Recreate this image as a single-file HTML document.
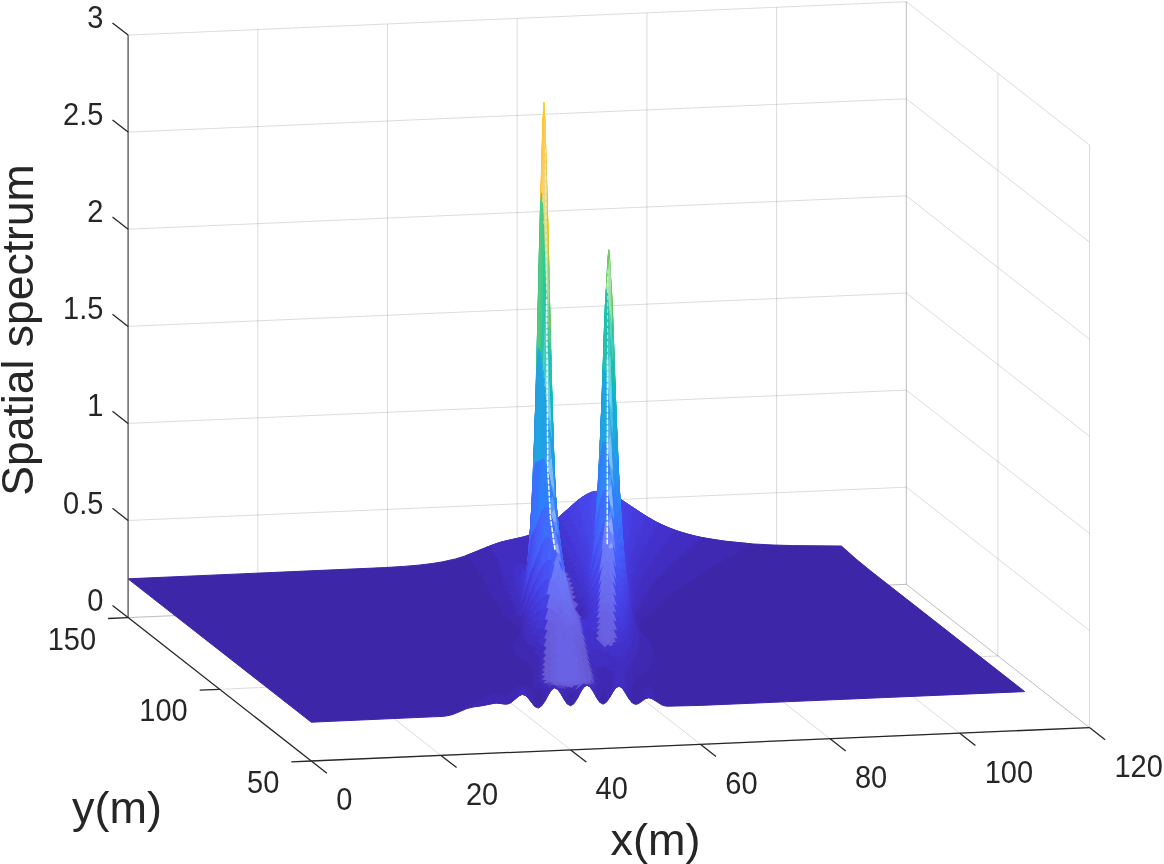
<!DOCTYPE html>
<html><head><meta charset="utf-8"><title>Spatial spectrum</title>
<style>html,body{margin:0;padding:0;background:#fff;overflow:hidden}svg{display:block}.s path{fill:currentColor;stroke:currentColor;stroke-width:1;stroke-linejoin:round}</style>
</head><body>
<svg width="1164" height="864" viewBox="0 0 1164 864">
<rect width="1164" height="864" fill="#fff"/>
<g stroke-opacity="0.16">
<line x1="128.1" y1="617.6" x2="128.1" y2="35.1" stroke="#262626" stroke-width="1"/>
<line x1="257.8" y1="612.1" x2="257.8" y2="29.5" stroke="#262626" stroke-width="1"/>
<line x1="387.5" y1="606.5" x2="387.5" y2="23.9" stroke="#262626" stroke-width="1"/>
<line x1="517.2" y1="601" x2="517.2" y2="18.4" stroke="#262626" stroke-width="1"/>
<line x1="646.9" y1="595.4" x2="646.9" y2="12.8" stroke="#262626" stroke-width="1"/>
<line x1="776.6" y1="589.9" x2="776.6" y2="7.3" stroke="#262626" stroke-width="1"/>
<line x1="906.3" y1="584.3" x2="906.3" y2="1.7" stroke="#262626" stroke-width="1"/>
<line x1="128.1" y1="617.6" x2="906.3" y2="584.3" stroke="#262626" stroke-width="1"/>
<line x1="128.1" y1="520.5" x2="906.3" y2="487.2" stroke="#262626" stroke-width="1"/>
<line x1="128.1" y1="423.4" x2="906.3" y2="390.1" stroke="#262626" stroke-width="1"/>
<line x1="128.1" y1="326.4" x2="906.3" y2="293" stroke="#262626" stroke-width="1"/>
<line x1="128.1" y1="229.2" x2="906.3" y2="195.9" stroke="#262626" stroke-width="1"/>
<line x1="128.1" y1="132.1" x2="906.3" y2="98.8" stroke="#262626" stroke-width="1"/>
<line x1="128.1" y1="35.1" x2="906.3" y2="1.7" stroke="#262626" stroke-width="1"/>
<line x1="1089.5" y1="727.6" x2="1089.5" y2="145" stroke="#262626" stroke-width="1"/>
<line x1="997.9" y1="656" x2="997.9" y2="73.4" stroke="#262626" stroke-width="1"/>
<line x1="906.3" y1="584.3" x2="906.3" y2="1.7" stroke="#262626" stroke-width="1"/>
<line x1="1089.5" y1="727.6" x2="906.3" y2="584.3" stroke="#262626" stroke-width="1"/>
<line x1="1089.5" y1="630.5" x2="906.3" y2="487.2" stroke="#262626" stroke-width="1"/>
<line x1="1089.5" y1="533.4" x2="906.3" y2="390.1" stroke="#262626" stroke-width="1"/>
<line x1="1089.5" y1="436.3" x2="906.3" y2="293" stroke="#262626" stroke-width="1"/>
<line x1="1089.5" y1="339.2" x2="906.3" y2="195.9" stroke="#262626" stroke-width="1"/>
<line x1="1089.5" y1="242.1" x2="906.3" y2="98.8" stroke="#262626" stroke-width="1"/>
<line x1="1089.5" y1="145" x2="906.3" y2="1.7" stroke="#262626" stroke-width="1"/>
<line x1="311.3" y1="761" x2="128.1" y2="617.6" stroke="#262626" stroke-width="1"/>
<line x1="441" y1="755.4" x2="257.8" y2="612.1" stroke="#262626" stroke-width="1"/>
<line x1="570.7" y1="749.9" x2="387.5" y2="606.5" stroke="#262626" stroke-width="1"/>
<line x1="700.4" y1="744.3" x2="517.2" y2="601" stroke="#262626" stroke-width="1"/>
<line x1="830.1" y1="738.8" x2="646.9" y2="595.4" stroke="#262626" stroke-width="1"/>
<line x1="959.8" y1="733.2" x2="776.6" y2="589.9" stroke="#262626" stroke-width="1"/>
<line x1="1089.5" y1="727.6" x2="906.3" y2="584.3" stroke="#262626" stroke-width="1"/>
<line x1="311.3" y1="761" x2="1089.5" y2="727.6" stroke="#262626" stroke-width="1"/>
<line x1="219.7" y1="689.3" x2="997.9" y2="656" stroke="#262626" stroke-width="1"/>
<line x1="128.1" y1="617.6" x2="906.3" y2="584.3" stroke="#262626" stroke-width="1"/>
</g>
<g class="s">
<path color="#3e26a8" d="M311.3 722.2l133 -5.9l6.4 -1.2l3.3 -1.1l12.9 -5.4l6.5 -1.6l9.8 -1.5l9.7 -2.2l3.2 -.3l9.8 1.1l3.2 -.6l3.2 -1.9l6.5 -5.7l3.3 -1.5l3.2 .9l3.3 3.2l6.4 8.2l3.3 1.4l3.2 -2l3.3 -4.8l3.2 -6.2l3.3 -5.1l3.2 -2.2l3.2 1.5l3.3 4.5l3.2 5.8l3.3 4.6l3.2 1.6l3.3 -2.1l3.2 -5.1l3.2 -6.3l3.3 -5.1l3.2 -2l3.3 1.7l3.2 4.8l3.3 5.9l3.2 4.8l3.2 1.8l3.3 -1.9l3.2 -4.8l3.3 -5.7l3.2 -4.4l3.3 -1.2l3.2 2.2l6.5 10.4l3.2 4.1l3.3 1.6l3.2 -1l6.5 -4.8l3.2 -1l3.3 .8l9.7 6.3l3.3 1.1l3.2 .3l32.4 -.8l324.3 -13.8l-153.9 -120.5l-14.7 -12l-14.7 -13.1l-48.6 -.4l-19.5 -.6l-19.4 -1l-16.2 -1.3l-16.2 -1.9l-13 -2l-13 -2.6l-16.2 -4.5l-9.7 -3.6l-6.5 -2.8l-6.5 -3.1l-9.7 -5.5l-26 -17.2l-6.4 -3.8l-6.5 -2.8l-3.3 -1l-6.5 -.7l-3.2 .2l-3.2 .8l-3.3 1.3l-6.5 3.8l-6.5 5l-16.2 14.5l-6.5 5.3l-9.7 6.7l-6.5 3.4l-6.5 2.7l-6.4 2l-16.3 3.6l-9.7 2.6l-6.5 2.3l-16.2 6.8l-9.7 3.7l-9.7 3l-13 2.9l-9.7 1.6l-13 1.6l-16.2 1.4l-19.5 1.2l-256.2 11.2l183.3 143.4z"/>
<path color="#402ab4" d="M702 537.6l22.7 3.6l25.9 2.5l1 1l-26 -2.4l-22.7 -3.5z"/>
<path color="#422ec0" d="M676.1 530.6l12.9 4l13 3l.9 1.2l-12.9 -3l-13 -3.9z"/>
<path color="#4332cb" d="M656.6 522.2l9.7 4.6l9.8 3.8l.9 1.3l-9.7 -3.7l-9.8 -4.6z"/>
<path color="#4537d5" d="M643.6 514.7l13 7.5l.9 1.4l-12.9 -7.4z"/>
<path color="#463cde" d="M633.9 508.2l9.7 6.5l1 1.5l-9.8 -6.5z"/>
<path color="#4741e5" d="M620.9 499.5l13 8.7l.9 1.5l-12.9 -8.9z"/>
<path color="#4747eb" d="M604.7 491.9l6.5 2.2l9.7 5.4l1 1.3l-9.8 -5.6l-6.5 -2.5z"/>
<path color="#484df0" d="M591.8 492.2l6.4 -1l6.5 .7l.9 .8l-6.4 -1l-6.5 .9z"/>
<path color="#4747eb" d="M578.8 499.7l6.5 -4.5l6.5 -3l.9 .4l-6.5 2.8l-6.5 4.4z"/>
<path color="#4741e5" d="M565.8 511l13 -11.3l.9 .1l-13 11.4z"/>
<path color="#463cde" d="M556.1 519.5l9.7 -8.5l.9 .2l-9.7 8.7z"/>
<path color="#4537d5" d="M546.4 526.7l9.7 -7.2l.9 .4l-9.7 7.4z"/>
<path color="#4332cb" d="M523.7 536.9l6.4 -2l6.5 -2.7l9.8 -5.5l.9 .6l-9.8 5.6l-6.4 2.7l-6.5 2.1z"/>
<path color="#422ec0" d="M488 546.7l13 -4.6l22.7 -5.2l.9 .8l-22.7 5l-13 4.6z"/>
<path color="#402ab4" d="M465.3 555.9l22.7 -9.2l.9 .6l-22.7 9.2zM699.7 538.1l22.7 3.8l25.9 2.6l.9 1l-25.9 -2.5l-22.7 -3.7z"/>
<path color="#422ec0" d="M673.7 530.7l13 4.2l13 3.2l.9 1.2l-13 -3.1l-12.9 -4.1z"/>
<path color="#4332cb" d="M657.5 523.6l16.2 7.1l1 1.4l-16.3 -7z"/>
<path color="#4537d5" d="M644.6 516.2l12.9 7.4l.9 1.5l-12.9 -7.4z"/>
<path color="#463cde" d="M631.6 507.5l13 8.7l.9 1.5l-13 -8.8z"/>
<path color="#4741e5" d="M621.9 500.8l9.7 6.7l.9 1.4l-9.7 -6.8z"/>
<path color="#4747eb" d="M605.6 492.7l6.5 2.5l9.8 5.6l.9 1.3l-9.8 -5.9l-6.4 -2.6z"/>
<path color="#484df0" d="M592.7 492.6l6.5 -.9l6.4 1l1 .9l-6.5 -1.2l-6.5 .6z"/>
<path color="#4747eb" d="M576.5 502.5l9.7 -7.1l6.5 -2.8l.9 .4l-6.5 2.6l-9.7 7z"/>
<path color="#4741e5" d="M566.7 511.2l9.8 -8.7l.9 .1l-9.8 8.8z"/>
<path color="#463cde" d="M557 519.9l9.7 -8.7l.9 .2l-9.7 8.9z"/>
<path color="#4537d5" d="M547.3 527.3l9.7 -7.4l.9 .4l-9.7 7.6z"/>
<path color="#4332cb" d="M524.6 537.7l6.5 -2.1l6.4 -2.7l9.8 -5.6l.9 .6l-9.7 5.7l-6.5 2.8l-6.5 2z"/>
<path color="#422ec0" d="M488.9 547.3l13 -4.6l22.7 -5l.9 .7l-22.7 5l-13 4.5z"/>
<path color="#402ab4" d="M466.2 556.5l22.7 -9.2l.9 .6l-22.7 9.3zM700.6 539.3l19.5 3.2l25.9 2.7l.9 1.1l-25.9 -2.7l-19.5 -3.2z"/>
<path color="#422ec0" d="M674.7 532.1l12.9 4.1l13 3.1l.9 1.1l-13 -3l-12.9 -4z"/>
<path color="#4332cb" d="M655.2 523.4l9.7 4.8l9.8 3.9l.9 1.3l-9.8 -3.8l-9.7 -4.7z"/>
<path color="#4537d5" d="M642.2 515.6l13 7.8l.9 1.5l-13 -7.8z"/>
<path color="#463cde" d="M632.5 508.9l9.7 6.7l.9 1.5l-9.7 -6.7z"/>
<path color="#4741e5" d="M619.5 500l13 8.9l.9 1.5l-13 -9.2z"/>
<path color="#4747eb" d="M606.6 493.6l6.4 2.6l6.5 3.8l.9 1.2l-6.4 -3.9l-6.5 -2.9z"/>
<path color="#484df0" d="M590.3 494l6.5 -1.6l3.3 0l6.5 1.2l.9 .8l-6.5 -1.4l-3.3 -.1l-6.4 1.4z"/>
<path color="#4747eb" d="M577.4 502.6l6.5 -5l6.4 -3.6l1 .3l-6.5 3.4l-6.5 5z"/>
<path color="#4741e5" d="M567.6 511.4l9.8 -8.8l.9 .1l-9.7 8.9z"/>
<path color="#463cde" d="M557.9 520.3l9.7 -8.9l1 .2l-9.8 9z"/>
<path color="#4537d5" d="M548.2 527.9l9.7 -7.6l.9 .3l-9.7 7.8z"/>
<path color="#4332cb" d="M528.7 537.5l9.8 -3.9l9.7 -5.7l.9 .5l-9.7 5.9l-9.7 4z"/>
<path color="#422ec0" d="M489.8 547.9l13 -4.5l25.9 -5.9l1 .8l-6.5 1.7l-19.5 4l-13 4.4z"/>
<path color="#402ab4" d="M467.1 557.2l22.7 -9.3l.9 .5l-22.7 9.5zM698.3 539.8l22.7 3.8l25.9 2.7l.9 .9l-25.9 -2.5l-22.7 -3.8z"/>
<path color="#422ec0" d="M672.3 532.2l13 4.3l13 3.3l.9 1.1l-13 -3.1l-13 -4.2z"/>
<path color="#4332cb" d="M656.1 524.9l16.2 7.3l.9 1.4l-16.2 -7.3z"/>
<path color="#4537d5" d="M643.1 517.1l13 7.8l.9 1.4l-12.9 -7.6z"/>
<path color="#463cde" d="M633.4 510.4l9.7 6.7l1 1.6l-9.8 -6.8z"/>
<path color="#4741e5" d="M620.4 501.2l13 9.2l.9 1.5l-12.9 -9.3z"/>
<path color="#4747eb" d="M607.5 494.4l6.5 2.9l6.4 3.9l1 1.4l-6.5 -4.1l-6.5 -3.2z"/>
<path color="#484df0" d="M591.3 494.3l6.4 -1.4l3.3 .1l6.5 1.4l.9 .9l-6.5 -1.7l-3.2 -.2l-6.5 1.2z"/>
<path color="#4747eb" d="M578.3 502.7l6.5 -5l6.5 -3.4l.9 .3l-6.5 3.3l-6.5 4.9z"/>
<path color="#4741e5" d="M568.6 511.6l9.7 -8.9l.9 .1l-9.7 9z"/>
<path color="#463cde" d="M558.8 520.6l9.8 -9l.9 .2l-9.7 9.2z"/>
<path color="#4537d5" d="M549.1 528.4l9.7 -7.8l1 .4l-9.8 7.9z"/>
<path color="#4332cb" d="M529.7 538.3l9.7 -4l9.7 -5.9l.9 .5l-9.7 6.1l-9.7 4z"/>
<path color="#422ec0" d="M490.7 548.4l13 -4.4l19.5 -4l6.5 -1.7l.9 .7l-6.5 1.8l-19.5 3.8l-12.9 4.4z"/>
<path color="#402ab4" d="M468 557.9l22.7 -9.5l1 .6l-22.7 9.5zM699.2 540.9l19.4 3.4l26 2.7l.9 1l-25.9 -2.6l-19.5 -3.3z"/>
<path color="#422ec0" d="M673.2 533.6l13 4.2l13 3.1l.9 1.2l-13 -3.1l-12.9 -4.1z"/>
<path color="#4332cb" d="M657 526.3l16.2 7.3l1 1.3l-16.3 -7.1z"/>
<path color="#4537d5" d="M644.1 518.7l12.9 7.6l.9 1.5l-12.9 -7.6z"/>
<path color="#463cde" d="M631.1 509.6l13 9.1l.9 1.5l-13 -9.1z"/>
<path color="#4741e5" d="M621.4 502.6l9.7 7l.9 1.5l-9.7 -7.2z"/>
<path color="#4747eb" d="M605.1 494.3l6.5 2.4l9.8 5.9l.9 1.3l-9.7 -6.1l-6.5 -2.7z"/>
<path color="#484df0" d="M592.2 494.6l6.5 -1.2l6.4 .9l1 .8l-6.5 -1.1l-6.5 .9z"/>
<path color="#4747eb" d="M579.2 502.8l6.5 -4.9l6.5 -3.3l.9 .3l-6.5 3.2l-6.5 4.8z"/>
<path color="#4741e5" d="M569.5 511.8l9.7 -9l.9 .1l-9.7 9.1z"/>
<path color="#463cde" d="M559.8 521l9.7 -9.2l.9 .2l-9.7 9.3z"/>
<path color="#4537d5" d="M550 528.9l9.8 -7.9l.9 .3l-9.8 8.2z"/>
<path color="#4332cb" d="M530.6 539l9.7 -4l9.7 -6.1l.9 .6l-9.7 6.1l-9.7 4.2z"/>
<path color="#422ec0" d="M491.7 549l12.9 -4.4l19.5 -3.8l6.5 -1.8l.9 .8l-6.5 1.8l-19.5 3.7l-12.9 4.3z"/>
<path color="#402ab4" d="M469 558.5l22.7 -9.5l.9 .6l-22.7 9.6zM696.9 541.4l19.4 3.5l26 2.9l.9 1l-26 -2.8l-19.4 -3.4z"/>
<path color="#422ec0" d="M670.9 533.7l13 4.4l13 3.3l.9 1.2l-13 -3.2l-13 -4.3z"/>
<path color="#4332cb" d="M654.7 526.1l16.2 7.6l.9 1.4l-16.2 -7.5z"/>
<path color="#4537d5" d="M641.7 518l13 8.1l.9 1.5l-12.9 -8z"/>
<path color="#463cde" d="M632 511.1l9.7 6.9l1 1.6l-9.8 -7z"/>
<path color="#4741e5" d="M622.3 503.9l9.7 7.2l.9 1.5l-9.7 -7.3z"/>
<path color="#4747eb" d="M606.1 495.1l6.5 2.7l9.7 6.1l.9 1.4l-9.7 -6.4l-6.5 -2.9z"/>
<path color="#484df0" d="M589.9 496.2l6.4 -2l3.3 -.2l6.5 1.1l.9 .9l-6.5 -1.4l-3.2 .1l-6.5 1.8z"/>
<path color="#4747eb" d="M576.9 505.8l6.5 -5.5l6.5 -4.1l.9 .3l-6.5 3.9l-6.5 5.5z"/>
<path color="#4741e5" d="M570.4 512l6.5 -6.2l.9 .1l-6.5 6.2z"/>
<path color="#463cde" d="M560.7 521.3l9.7 -9.3l.9 .1l-9.7 9.6z"/>
<path color="#4537d5" d="M547.7 531.8l6.5 -4.9l6.5 -5.6l.9 .4l-6.5 5.7l-6.5 4.9z"/>
<path color="#4332cb" d="M531.5 539.8l9.7 -4.2l6.5 -3.8l.9 .5l-6.5 4l-9.7 4.2z"/>
<path color="#422ec0" d="M492.6 549.6l12.9 -4.3l19.5 -3.7l6.5 -1.8l.9 .7l-6.5 1.8l-19.4 3.6l-13 4.2z"/>
<path color="#402ab4" d="M469.9 559.2l22.7 -9.6l.9 .5l-22.7 9.7zM694.5 541.9l19.5 3.6l25.9 3l.9 1l-25.9 -2.9l-19.4 -3.5z"/>
<path color="#422ec0" d="M671.8 535.1l9.8 3.3l12.9 3.5l1 1.2l-13 -3.4l-9.7 -3.3z"/>
<path color="#4332cb" d="M655.6 527.6l16.2 7.5l1 1.3l-16.3 -7.3z"/>
<path color="#4537d5" d="M642.7 519.6l12.9 8l.9 1.5l-12.9 -7.9z"/>
<path color="#463cde" d="M632.9 512.6l9.8 7l.9 1.6l-9.8 -7.1z"/>
<path color="#4741e5" d="M620 503l12.9 9.6l.9 1.5l-12.9 -9.8z"/>
<path color="#4747eb" d="M607 496l6.5 2.9l6.5 4.1l.9 1.3l-6.5 -4.2l-6.5 -3.2z"/>
<path color="#484df0" d="M590.8 496.5l6.5 -1.8l3.2 -.1l6.5 1.4l.9 .9l-6.5 -1.7l-3.2 0l-6.5 1.5z"/>
<path color="#4747eb" d="M577.8 505.9l6.5 -5.5l6.5 -3.9l.9 .2l-6.5 3.8l-6.5 5.4z"/>
<path color="#4741e5" d="M568.1 515.4l9.7 -9.5l.9 0l-9.7 9.6z"/>
<path color="#463cde" d="M561.6 521.7l6.5 -6.3l.9 .1l-6.5 6.5z"/>
<path color="#4537d5" d="M548.6 532.3l6.5 -4.9l6.5 -5.7l.9 .3l-6.5 5.8l-6.5 5.1z"/>
<path color="#4332cb" d="M532.4 540.5l9.7 -4.2l6.5 -4l.9 .6l-6.5 4.1l-9.7 4.3z"/>
<path color="#422ec0" d="M490.2 551.5l13 -4.8l22.7 -4.4l6.5 -1.8l.9 .8l-6.5 1.8l-22.7 4.2l-12.9 4.7z"/>
<path color="#402ab4" d="M470.8 559.8l19.4 -8.3l1 .5l-19.5 8.5zM695.5 543.1l19.4 3.5l25.9 2.9l1 1l-26 -2.8l-19.4 -3.4z"/>
<path color="#422ec0" d="M669.5 535.2l13 4.5l13 3.4l.9 1.2l-13 -3.3l-13 -4.5z"/>
<path color="#4332cb" d="M653.3 527.3l16.2 7.9l.9 1.3l-16.2 -7.7z"/>
<path color="#4537d5" d="M643.6 521.2l9.7 6.1l.9 1.5l-9.7 -6.1z"/>
<path color="#463cde" d="M630.6 511.7l13 9.5l.9 1.5l-13 -9.5z"/>
<path color="#4741e5" d="M620.9 504.3l9.7 7.4l.9 1.5l-9.7 -7.5z"/>
<path color="#4747eb" d="M607.9 496.9l6.5 3.2l6.5 4.2l.9 1.4l-6.5 -4.5l-6.5 -3.4z"/>
<path color="#484df0" d="M591.7 496.7l6.5 -1.5l3.2 0l6.5 1.7l.9 .9l-6.5 -1.9l-3.2 -.2l-3.3 .3l-3.2 1z"/>
<path color="#4747eb" d="M578.7 505.9l6.5 -5.4l6.5 -3.8l.9 .3l-6.5 3.6l-6.5 5.4z"/>
<path color="#4741e5" d="M569 515.5l9.7 -9.6l.9 .1l-9.7 9.7z"/>
<path color="#463cde" d="M562.5 522l6.5 -6.5l.9 .2l-6.5 6.5z"/>
<path color="#4537d5" d="M549.5 532.9l6.5 -5.1l6.5 -5.8l.9 .2l-6.5 6.1l-6.5 5.1z"/>
<path color="#4332cb" d="M533.3 541.3l9.7 -4.3l6.5 -4.1l.9 .5l-6.4 4.2l-9.8 4.5z"/>
<path color="#422ec0" d="M491.2 552l12.9 -4.7l22.7 -4.2l6.5 -1.8l.9 .8l-9.7 2.5l-19.5 3.3l-12.9 4.7z"/>
<path color="#402ab4" d="M471.7 560.5l19.5 -8.5l.9 .6l-19.5 8.5zM693.1 543.6l19.5 3.7l25.9 3l.9 1l-25.9 -2.9l-19.5 -3.6z"/>
<path color="#422ec0" d="M670.4 536.5l9.8 3.5l12.9 3.6l.9 1.2l-12.9 -3.5l-9.8 -3.4z"/>
<path color="#4332cb" d="M654.2 528.8l16.2 7.7l.9 1.4l-9.7 -4.2l-6.5 -3.4z"/>
<path color="#4537d5" d="M641.2 520.5l13 8.3l.9 1.5l-12.9 -8.2z"/>
<path color="#463cde" d="M631.5 513.2l9.7 7.3l1 1.6l-9.8 -7.3z"/>
<path color="#4741e5" d="M621.8 505.7l9.7 7.5l.9 1.6l-9.7 -7.7z"/>
<path color="#4747eb" d="M608.8 497.8l6.5 3.4l6.5 4.5l.9 1.4l-6.5 -4.6l-6.5 -3.7z"/>
<path color="#484df0" d="M589.4 498.6l6.4 -2.6l3.3 -.3l3.2 .2l6.5 1.9l.9 1l-6.5 -2.2l-3.2 -.3l-3.2 .2l-6.5 2.2z"/>
<path color="#4747eb" d="M579.6 506l6.5 -5.4l3.3 -2l.9 .1l-3.3 2l-6.5 5.4z"/>
<path color="#4741e5" d="M569.9 515.7l9.7 -9.7l.9 .1l-9.7 9.8z"/>
<path color="#463cde" d="M560.2 525.3l9.7 -9.6l.9 .2l-9.7 9.8z"/>
<path color="#4537d5" d="M550.4 533.4l9.8 -8.1l.9 .4l-9.7 8.3z"/>
<path color="#4332cb" d="M534.2 542.1l9.8 -4.5l6.4 -4.2l1 .6l-6.5 4.3l-9.8 4.5z"/>
<path color="#422ec0" d="M492.1 552.6l12.9 -4.7l19.5 -3.3l9.7 -2.5l.9 .7l-9.7 2.6l-19.4 3.2l-6.5 1.9l-6.5 2.6z"/>
<path color="#402ab4" d="M472.6 561.1l19.5 -8.5l.9 .5l-19.5 8.7zM694 544.8l19.5 3.6l22.7 2.6l.9 1l-22.7 -2.5l-19.4 -3.5z"/>
<path color="#422ec0" d="M668.1 536.6l13 4.7l12.9 3.5l1 1.2l-13 -3.4l-13 -4.6z"/>
<path color="#4332cb" d="M655.1 530.3l13 6.3l.9 1.4l-13 -6.2z"/>
<path color="#4537d5" d="M642.2 522.1l12.9 8.2l.9 1.5l-12.9 -8.1z"/>
<path color="#463cde" d="M632.4 514.8l9.8 7.3l.9 1.6l-9.8 -7.3z"/>
<path color="#4741e5" d="M622.7 507.1l9.7 7.7l.9 1.6l-9.7 -7.8z"/>
<path color="#4747eb" d="M609.7 498.8l6.5 3.7l6.5 4.6l.9 1.5l-6.5 -4.9l-6.5 -3.9z"/>
<path color="#484df0" d="M590.3 498.7l6.5 -2.2l3.2 -.2l3.2 .3l6.5 2.2l.9 1l-6.4 -2.4l-3.3 -.5l-3.2 0l-3.3 .7l-3.2 1.3z"/>
<path color="#4747eb" d="M577.3 509.2l6.5 -6l6.5 -4.5l.9 .2l-6.5 4.4l-6.5 5.9z"/>
<path color="#4741e5" d="M570.8 515.9l6.5 -6.7l.9 0l-6.5 6.8z"/>
<path color="#463cde" d="M561.1 525.7l9.7 -9.8l.9 .1l-9.7 10z"/>
<path color="#4537d5" d="M551.4 534l9.7 -8.3l.9 .3l-9.7 8.5z"/>
<path color="#4332cb" d="M535.1 542.8l9.8 -4.5l6.5 -4.3l.9 .5l-6.5 4.4l-9.7 4.7z"/>
<path color="#422ec0" d="M493 553.1l6.5 -2.6l6.5 -1.9l19.4 -3.2l9.7 -2.6l1 .8l-9.8 2.5l-19.4 3.1l-6.5 1.9l-6.5 2.5z"/>
<path color="#402ab4" d="M473.5 561.8l19.5 -8.7l.9 .5l-19.4 8.8zM691.7 545.2l19.5 3.8l22.7 2.7l.9 1.1l-22.7 -2.7l-19.5 -3.7z"/>
<path color="#422ec0" d="M669 538l9.7 3.6l13 3.6l.9 1.2l-12.9 -3.5l-9.8 -3.5z"/>
<path color="#4332cb" d="M652.8 530l6.5 3.5l9.7 4.5l.9 1.4l-9.7 -4.4l-6.5 -3.5z"/>
<path color="#4537d5" d="M643.1 523.7l9.7 6.3l.9 1.5l-9.7 -6.2z"/>
<path color="#463cde" d="M630.1 513.8l13 9.9l.9 1.6l-13 -9.9z"/>
<path color="#4741e5" d="M620.4 506.1l9.7 7.7l.9 1.6l-9.7 -7.9z"/>
<path color="#4747eb" d="M610.6 499.8l9.8 6.3l.9 1.4l-9.7 -6.6z"/>
<path color="#484df0" d="M591.2 498.9l3.2 -1.3l3.3 -.7l3.2 0l3.3 .5l6.4 2.4l1 1.1l-6.5 -2.8l-3.3 -.6l-3.2 -.1l-3.3 .5l-3.2 1.2z"/>
<path color="#4747eb" d="M578.2 509.2l6.5 -5.9l6.5 -4.4l.9 .2l-6.5 4.2l-6.5 6z"/>
<path color="#4741e5" d="M571.7 516l6.5 -6.8l.9 .1l-6.4 6.8z"/>
<path color="#463cde" d="M562 526l9.7 -10l1 .1l-9.8 10.2z"/>
<path color="#4537d5" d="M552.3 534.5l9.7 -8.5l.9 .3l-9.7 8.7z"/>
<path color="#4332cb" d="M536.1 543.6l9.7 -4.7l6.5 -4.4l.9 .5l-6.5 4.5l-9.7 4.8z"/>
<path color="#422ec0" d="M493.9 553.6l6.5 -2.5l6.5 -1.9l19.4 -3.1l9.8 -2.5l.9 .7l-9.7 2.6l-19.5 2.9l-6.5 1.8l-6.5 2.6z"/>
<path color="#402ab4" d="M471.2 563.6l22.7 -10l.9 .6l-22.7 10.1zM692.6 546.4l19.5 3.7l22.7 2.7l.9 1l-22.7 -2.6l-19.5 -3.5z"/>
<path color="#422ec0" d="M669.9 539.4l9.8 3.5l12.9 3.5l.9 1.3l-12.9 -3.5l-9.8 -3.4z"/>
<path color="#4332cb" d="M653.7 531.5l6.5 3.5l9.7 4.4l.9 1.4l-9.7 -4.3l-6.5 -3.4z"/>
<path color="#4537d5" d="M640.7 523l13 8.5l.9 1.6l-12.9 -8.5z"/>
<path color="#463cde" d="M631 515.4l9.7 7.6l1 1.6l-9.8 -7.6z"/>
<path color="#4741e5" d="M621.3 507.5l9.7 7.9l.9 1.6l-9.7 -8z"/>
<path color="#4747eb" d="M608.3 499.3l6.5 3.5l6.5 4.7l.9 1.5l-6.5 -4.9l-6.5 -3.8z"/>
<path color="#484df0" d="M588.9 501l6.4 -3.1l3.3 -.5l3.2 .1l6.5 1.8l.9 1l-6.4 -2.1l-3.3 -.3l-3.2 .4l-6.5 2.8z"/>
<path color="#4747eb" d="M579.1 509.3l6.5 -6l3.3 -2.3l.9 .1l-3.3 2.3l-6.4 5.9z"/>
<path color="#4741e5" d="M572.7 516.1l6.4 -6.8l1 0l-6.5 6.9z"/>
<path color="#463cde" d="M562.9 526.3l9.8 -10.2l.9 .1l-9.8 10.4z"/>
<path color="#4537d5" d="M553.2 535l9.7 -8.7l.9 .3l-9.7 8.9z"/>
<path color="#4332cb" d="M537 544.3l9.7 -4.8l6.5 -4.5l.9 .5l-6.5 4.7l-9.7 4.9z"/>
<path color="#422ec0" d="M494.8 554.2l6.5 -2.6l6.5 -1.8l19.5 -2.9l9.7 -2.6l.9 .8l-9.7 2.6l-19.5 2.7l-6.5 1.7l-6.5 2.6z"/>
<path color="#402ab4" d="M472.1 564.3l22.7 -10.1l.9 .5l-22.7 10.2zM690.3 546.9l19.5 3.8l22.7 2.8l.9 1l-22.7 -2.6l-19.5 -3.8z"/>
<path color="#422ec0" d="M667.6 539.5l9.7 3.7l13 3.7l.9 1.2l-13 -3.6l-9.7 -3.6z"/>
<path color="#4332cb" d="M651.4 531.1l6.5 3.8l9.7 4.6l.9 1.4l-9.7 -4.5l-6.5 -3.7z"/>
<path color="#4537d5" d="M641.7 524.6l9.7 6.5l.9 1.6l-9.7 -6.5z"/>
<path color="#463cde" d="M631.9 517l9.8 7.6l.9 1.6l-9.7 -7.6z"/>
<path color="#4741e5" d="M622.2 509l9.7 8l1 1.6l-9.8 -8.2z"/>
<path color="#4747eb" d="M609.2 500.3l6.5 3.8l6.5 4.9l.9 1.4l-6.5 -5l-6.4 -4.1z"/>
<path color="#484df0" d="M589.8 501.1l6.5 -2.8l3.2 -.4l3.3 .3l6.4 2.1l1 1l-6.5 -2.4l-3.3 -.4l-3.2 .2l-3.3 .9l-3.2 1.6z"/>
<path color="#4747eb" d="M580.1 509.3l6.4 -5.9l3.3 -2.3l.9 .1l-3.2 2.3l-6.5 5.8z"/>
<path color="#4741e5" d="M570.3 519.7l9.8 -10.4l.9 0l-9.8 10.5z"/>
<path color="#463cde" d="M563.8 526.6l6.5 -6.9l.9 .1l-6.4 7z"/>
<path color="#4537d5" d="M554.1 535.5l9.7 -8.9l1 .2l-9.8 9.2z"/>
<path color="#4332cb" d="M537.9 545.1l9.7 -4.9l6.5 -4.7l.9 .5l-6.5 4.8l-9.7 5z"/>
<path color="#422ec0" d="M495.7 554.7l6.5 -2.6l6.5 -1.7l19.5 -2.7l9.7 -2.6l.9 .7l-9.7 2.7l-19.5 2.5l-6.5 1.7l-6.4 2.5z"/>
<path color="#402ab4" d="M473 564.9l22.7 -10.2l1 .5l-22.7 10.4zM691.2 548.1l19.5 3.8l19.4 2.3l.9 1.1l-19.4 -2.3l-19.5 -3.7z"/>
<path color="#422ec0" d="M668.5 540.9l9.7 3.6l13 3.6l.9 1.2l-12.9 -3.5l-9.8 -3.5z"/>
<path color="#4332cb" d="M652.3 532.7l6.5 3.7l9.7 4.5l.9 1.4l-9.7 -4.4l-6.5 -3.6z"/>
<path color="#4537d5" d="M639.3 523.8l13 8.9l.9 1.6l-12.9 -8.8z"/>
<path color="#463cde" d="M629.6 515.9l9.7 7.9l1 1.7l-9.8 -8z"/>
<path color="#4741e5" d="M623.1 510.4l6.5 5.5l.9 1.6l-6.5 -5.5z"/>
<path color="#4747eb" d="M610.2 501.3l6.4 4.1l6.5 5l.9 1.6l-6.4 -5.3l-6.5 -4.3z"/>
<path color="#484df0" d="M590.7 501.2l3.2 -1.6l3.3 -.9l3.2 -.2l3.3 .4l6.5 2.4l.9 1.1l-6.5 -2.8l-3.3 -.5l-3.2 0l-3.2 .8l-3.3 1.5z"/>
<path color="#4747eb" d="M581 509.3l6.5 -5.8l3.2 -2.3l.9 .2l-3.2 2.1l-6.5 5.8z"/>
<path color="#4741e5" d="M571.2 519.8l9.8 -10.5l.9 0l-9.7 10.6z"/>
<path color="#463cde" d="M564.8 526.8l6.4 -7l1 .1l-6.5 7.2z"/>
<path color="#4537d5" d="M555 536l9.8 -9.2l.9 .3l-9.8 9.3z"/>
<path color="#4332cb" d="M538.8 545.8l9.7 -5l6.5 -4.8l.9 .4l-6.4 5l-9.8 5.2z"/>
<path color="#422ec0" d="M493.4 556.7l6.5 -2.9l6.5 -2.1l6.5 -1.3l16.2 -1.9l9.7 -2.7l.9 .8l-9.7 2.7l-16.2 1.8l-6.5 1.2l-6.5 2l-6.5 2.8z"/>
<path color="#402ab4" d="M474 565.6l19.4 -8.9l.9 .4l-19.4 9.1zM688.9 548.6l19.5 3.9l22.6 2.8l1 1l-22.7 -2.7l-19.5 -3.8z"/>
<path color="#422ec0" d="M666.2 540.9l9.7 3.8l13 3.9l.9 1.2l-13 -3.7l-9.7 -3.7z"/>
<path color="#4332cb" d="M653.2 534.3l13 6.6l.9 1.5l-13 -6.5z"/>
<path color="#4537d5" d="M640.3 525.5l12.9 8.8l.9 1.6l-12.9 -8.8z"/>
<path color="#463cde" d="M630.5 517.5l9.8 8l.9 1.6l-9.8 -7.9z"/>
<path color="#4741e5" d="M620.8 509.3l9.7 8.2l.9 1.7l-9.7 -8.4z"/>
<path color="#4747eb" d="M611.1 502.4l9.7 6.9l.9 1.5l-9.7 -7.3z"/>
<path color="#484df0" d="M588.4 503.5l6.5 -3.6l3.2 -.8l3.2 0l3.3 .5l6.5 2.8l.9 1.1l-6.5 -3l-3.2 -.8l-3.3 -.1l-3.2 .6l-3.3 1.4l-3.2 2z"/>
<path color="#4747eb" d="M578.6 512.7l9.8 -9.2l.9 .1l-3.3 2.6l-6.4 6.5z"/>
<path color="#4741e5" d="M572.2 519.9l6.4 -7.2l1 0l-6.5 7.3z"/>
<path color="#463cde" d="M565.7 527.1l6.5 -7.2l.9 .1l-6.5 7.3z"/>
<path color="#4537d5" d="M555.9 536.4l9.8 -9.3l.9 .2l-9.7 9.6z"/>
<path color="#4332cb" d="M539.7 546.6l9.8 -5.2l6.4 -5l1 .5l-9.8 7.1l-6.5 3.3z"/>
<path color="#422ec0" d="M494.3 557.1l6.5 -2.8l6.5 -2l6.5 -1.2l16.2 -1.8l9.7 -2.7l.9 .7l-9.7 2.8l-22.7 2.8l-6.5 1.9l-6.5 2.8z"/>
<path color="#402ab4" d="M474.9 566.2l19.4 -9.1l.9 .5l-19.4 9.2zM686.6 549l19.4 4.1l22.7 2.9l.9 1l-22.7 -2.8l-19.4 -4z"/>
<path color="#422ec0" d="M667.1 542.4l9.7 3.7l9.8 2.9l.9 1.2l-9.7 -2.8l-9.8 -3.6z"/>
<path color="#4332cb" d="M650.9 533.9l6.5 3.8l9.7 4.7l.9 1.4l-9.7 -4.6l-6.5 -3.7z"/>
<path color="#4537d5" d="M641.2 527.1l9.7 6.8l.9 1.6l-9.7 -6.7z"/>
<path color="#463cde" d="M631.4 519.2l9.8 7.9l.9 1.7l-9.7 -7.9z"/>
<path color="#4741e5" d="M621.7 510.8l9.7 8.4l1 1.7l-9.8 -8.6z"/>
<path color="#4747eb" d="M612 503.5l9.7 7.3l.9 1.5l-9.7 -7.6z"/>
<path color="#484df0" d="M589.3 503.6l3.2 -2l3.3 -1.4l3.2 -.6l3.3 .1l3.2 .8l6.5 3l.9 1.2l-6.5 -3.4l-6.5 -1.2l-3.2 .5l-3.3 1.2l-3.2 1.9z"/>
<path color="#4747eb" d="M579.6 512.7l6.4 -6.5l3.3 -2.6l.9 .1l-3.2 2.5l-6.5 6.5z"/>
<path color="#4741e5" d="M573.1 520l6.5 -7.3l.9 0l-6.5 7.4z"/>
<path color="#463cde" d="M563.3 530.7l9.8 -10.7l.9 .1l-9.7 10.9z"/>
<path color="#4537d5" d="M556.9 536.9l6.4 -6.2l1 .3l-6.5 6.3z"/>
<path color="#4332cb" d="M540.6 547.3l6.5 -3.3l9.8 -7.1l.9 .4l-9.8 7.3l-6.4 3.4z"/>
<path color="#422ec0" d="M495.2 557.6l6.5 -2.8l6.5 -1.9l22.7 -2.8l9.7 -2.8l1 .7l-9.8 2.9l-22.7 2.5l-6.5 1.9l-6.4 2.8z"/>
<path color="#402ab4" d="M475.8 566.8l19.4 -9.2l1 .5l-19.5 9.3zM687.5 550.2l19.4 4l19.5 2.5l.9 1.1l-19.4 -2.5l-19.5 -3.8z"/>
<path color="#422ec0" d="M664.8 542.4l9.7 3.9l13 3.9l.9 1.3l-13 -3.8l-9.7 -3.9z"/>
<path color="#4332cb" d="M651.8 535.5l13 6.9l.9 1.4l-13 -6.7z"/>
<path color="#4537d5" d="M638.8 526.3l13 9.2l.9 1.6l-12.9 -9.1z"/>
<path color="#463cde" d="M629.1 518l9.7 8.3l1 1.7l-9.8 -8.3z"/>
<path color="#4741e5" d="M622.6 512.3l6.5 5.7l.9 1.7l-6.5 -5.8z"/>
<path color="#4747eb" d="M609.7 502.8l6.4 4.2l6.5 5.3l.9 1.6l-6.4 -5.6l-6.5 -4.5z"/>
<path color="#484df0" d="M590.2 503.7l3.2 -1.9l3.3 -1.2l3.2 -.5l3.3 .3l6.5 2.4l.9 1l-6.5 -2.6l-3.3 -.5l-3.2 .2l-3.2 1.1l-3.3 1.8z"/>
<path color="#4747eb" d="M580.5 512.7l6.5 -6.5l3.2 -2.5l.9 .1l-3.2 2.4l-6.5 6.4z"/>
<path color="#4741e5" d="M574 520.1l6.5 -7.4l.9 -.1l-6.5 7.5z"/>
<path color="#463cde" d="M564.3 531l9.7 -10.9l.9 0l-9.7 11.1z"/>
<path color="#4537d5" d="M554.5 540.1l9.8 -9.1l.9 .2l-9.8 9.3z"/>
<path color="#4332cb" d="M541.6 548l6.4 -3.4l6.5 -4.5l.9 .4l-6.4 4.8l-6.5 3.4z"/>
<path color="#422ec0" d="M496.2 558.1l6.4 -2.8l6.5 -1.9l22.7 -2.5l9.8 -2.9l.9 .7l-9.7 3l-22.7 2.3l-6.5 1.8l-6.5 2.8z"/>
<path color="#402ab4" d="M476.7 567.4l19.5 -9.3l.9 .5l-19.5 9.4zM685.2 550.6l19.4 4.2l19.5 2.6l.9 1.1l-19.5 -2.5l-19.4 -4.1z"/>
<path color="#422ec0" d="M665.7 543.8l9.7 3.9l9.8 2.9l.9 1.3l-9.8 -2.9l-9.7 -3.7z"/>
<path color="#4332cb" d="M649.5 535l6.5 4l9.7 4.8l.9 1.5l-9.7 -4.8l-6.5 -3.8z"/>
<path color="#4537d5" d="M639.8 528l9.7 7l.9 1.7l-9.7 -7z"/>
<path color="#463cde" d="M630 519.7l9.8 8.3l.9 1.7l-9.8 -8.3z"/>
<path color="#4741e5" d="M620.3 511l9.7 8.7l.9 1.7l-9.7 -8.9z"/>
<path color="#4747eb" d="M610.6 503.8l9.7 7.2l.9 1.5l-9.7 -7.5z"/>
<path color="#484df0" d="M587.9 506.2l6.5 -4.2l3.2 -1.1l3.2 -.2l3.3 .5l6.5 2.6l.9 1.2l-6.5 -3.1l-3.2 -.6l-3.3 .1l-3.2 .8l-6.5 4z"/>
<path color="#4747eb" d="M581.4 512.6l6.5 -6.4l.9 0l-6.5 6.4z"/>
<path color="#4741e5" d="M571.7 523.9l9.7 -11.3l.9 0l-9.7 11.4z"/>
<path color="#463cde" d="M565.2 531.2l6.5 -7.3l.9 .1l-6.5 7.5z"/>
<path color="#4537d5" d="M555.4 540.5l9.8 -9.3l.9 .3l-9.7 9.5z"/>
<path color="#4332cb" d="M542.5 548.7l6.5 -3.4l6.4 -4.8l1 .5l-6.5 4.9l-6.5 3.5z"/>
<path color="#422ec0" d="M497.1 558.6l6.5 -2.8l6.5 -1.8l22.7 -2.3l9.7 -3l.9 .7l-9.7 3.1l-22.7 2.1l-6.5 1.7l-6.5 2.7z"/>
<path color="#402ab4" d="M477.6 568l19.5 -9.4l.9 .4l-19.5 9.6zM686.1 551.9l19.4 4.1l19.5 2.5l.9 1.1l-19.5 -2.5l-19.4 -3.9z"/>
<path color="#422ec0" d="M663.4 543.8l9.7 4.1l13 4l.9 1.3l-13 -4l-9.7 -3.9z"/>
<path color="#4332cb" d="M650.4 536.7l13 7.1l.9 1.5l-13 -7z"/>
<path color="#4537d5" d="M640.7 529.7l9.7 7l.9 1.6l-9.7 -6.9z"/>
<path color="#463cde" d="M630.9 521.4l9.8 8.3l.9 1.7l-9.7 -8.3z"/>
<path color="#4741e5" d="M621.2 512.5l9.7 8.9l1 1.7l-9.8 -9z"/>
<path color="#4747eb" d="M611.5 505l9.7 7.5l.9 1.6l-9.7 -7.9z"/>
<path color="#484df0" d="M588.8 506.2l6.5 -4l3.2 -.8l3.3 -.1l3.2 .6l6.5 3.1l.9 1.2l-6.5 -3.4l-3.2 -.8l-3.3 -.2l-3.2 .7l-3.2 1.5l-3.3 2.3z"/>
<path color="#4747eb" d="M582.3 512.6l6.5 -6.4l.9 .1l-6.5 6.2z"/>
<path color="#4741e5" d="M572.6 524l9.7 -11.4l.9 -.1l-9.7 11.5z"/>
<path color="#463cde" d="M566.1 531.5l6.5 -7.5l.9 0l-6.5 7.7z"/>
<path color="#4537d5" d="M556.4 541l9.7 -9.5l.9 .2l-9.7 9.8z"/>
<path color="#4332cb" d="M543.4 549.4l6.5 -3.5l6.5 -4.9l.9 .5l-6.5 5l-6.5 3.6z"/>
<path color="#422ec0" d="M498 559l6.5 -2.7l6.5 -1.7l22.7 -2.1l9.7 -3.1l.9 .7l-6.5 2.4l-6.5 1.3l-19.4 1.3l-6.5 1.7l-6.5 2.7z"/>
<path color="#402ab4" d="M478.5 568.6l19.5 -9.6l.9 .5l-19.4 9.7zM683.7 552.3l16.3 3.7l22.7 3.2l.9 1.1l-22.7 -3.1l-16.2 -3.6z"/>
<path color="#422ec0" d="M664.3 545.3l9.7 3.9l9.7 3.1l1 1.3l-9.8 -3l-9.7 -3.8z"/>
<path color="#4332cb" d="M651.3 538.3l13 7l.9 1.5l-13 -6.9z"/>
<path color="#4537d5" d="M638.3 528.8l13 9.5l.9 1.6l-12.9 -9.4z"/>
<path color="#463cde" d="M628.6 520.1l9.7 8.7l1 1.7l-9.8 -8.6z"/>
<path color="#4741e5" d="M622.1 514.1l6.5 6l.9 1.8l-6.4 -6.2z"/>
<path color="#4747eb" d="M612.4 506.2l9.7 7.9l1 1.6l-9.8 -8.3z"/>
<path color="#484df0" d="M589.7 506.3l3.3 -2.3l3.2 -1.5l3.2 -.7l3.3 .2l3.2 .8l6.5 3.4l.9 1.2l-6.5 -3.7l-3.2 -1l-3.2 -.4l-3.3 .5l-3.2 1.4l-3.3 2.1z"/>
<path color="#4747eb" d="M580 516.2l6.5 -7.1l3.2 -2.8l.9 0l-3.2 2.8l-6.5 7z"/>
<path color="#4741e5" d="M573.5 524l6.5 -7.8l.9 -.1l-6.5 8z"/>
<path color="#463cde" d="M567 531.7l6.5 -7.7l.9 .1l-6.5 7.8z"/>
<path color="#4537d5" d="M557.3 541.5l9.7 -9.8l.9 .2l-9.7 10z"/>
<path color="#4332cb" d="M544.3 550.1l6.5 -3.6l6.5 -5l.9 .4l-6.5 5.1l-6.5 3.8z"/>
<path color="#422ec0" d="M495.7 561.1l6.5 -3.1l6.4 -2.2l6.5 -1.1l13 -.6l6.5 -.8l9.7 -3.2l.9 .7l-6.5 2.5l-6.4 1.3l-16.3 .7l-6.4 1l-6.5 2.2l-6.5 3z"/>
<path color="#402ab4" d="M479.5 569.2l16.2 -8.1l.9 .4l-16.2 8.3zM684.7 553.6l16.2 3.6l19.4 2.7l.9 1.1l-19.4 -2.7l-16.2 -3.5z"/>
<path color="#422ec0" d="M662 545.3l9.7 4.1l13 4.2l.9 1.2l-13 -4l-9.7 -4z"/>
<path color="#4332cb" d="M649 537.8l13 7.5l.9 1.5l-13 -7.3z"/>
<path color="#4537d5" d="M639.3 530.5l9.7 7.3l.9 1.7l-9.7 -7.2z"/>
<path color="#463cde" d="M629.5 521.9l9.8 8.6l.9 1.8l-9.7 -8.7z"/>
<path color="#4741e5" d="M623.1 515.7l6.4 6.2l1 1.7l-6.5 -6.2z"/>
<path color="#4747eb" d="M613.3 507.4l9.8 8.3l.9 1.7l-9.8 -8.7z"/>
<path color="#484df0" d="M590.6 506.3l3.3 -2.1l3.2 -1.4l3.3 -.5l3.2 .4l3.2 1l6.5 3.7l.9 1.3l-6.4 -4.1l-3.3 -1.2l-3.2 -.5l-3.3 .3l-3.2 1.1l-3.3 2z"/>
<path color="#4747eb" d="M580.9 516.1l6.5 -7l3.2 -2.8l.9 0l-3.2 2.7l-6.5 7z"/>
<path color="#4741e5" d="M574.4 524.1l6.5 -8l.9 -.1l-6.5 8.1z"/>
<path color="#463cde" d="M567.9 531.9l6.5 -7.8l.9 0l-6.5 7.9z"/>
<path color="#4537d5" d="M558.2 541.9l9.7 -10l.9 .1l-9.7 10.3z"/>
<path color="#4332cb" d="M545.2 550.8l6.5 -3.8l6.5 -5.1l.9 .4l-6.5 5.3l-6.5 3.9z"/>
<path color="#422ec0" d="M496.6 561.5l6.5 -3l6.5 -2.2l6.4 -1l16.3 -.7l6.4 -1.3l6.5 -2.5l.9 .7l-6.4 2.5l-6.5 1.4l-16.2 .6l-6.5 .8l-6.5 2.1l-6.5 3.1z"/>
<path color="#402ab4" d="M480.4 569.8l16.2 -8.3l.9 .5l-16.2 8.3zM682.3 554l16.3 3.7l22.6 3.3l1 1.1l-22.7 -3.2l-16.2 -3.6z"/>
<path color="#422ec0" d="M662.9 546.8l9.7 4l9.7 3.2l1 1.3l-9.8 -3.1l-9.7 -3.9z"/>
<path color="#4332cb" d="M649.9 539.5l13 7.3l.9 1.5l-13 -7.2z"/>
<path color="#4537d5" d="M640.2 532.3l9.7 7.2l.9 1.6l-9.7 -7.1z"/>
<path color="#463cde" d="M630.5 523.6l9.7 8.7l.9 1.7l-9.7 -8.6z"/>
<path color="#4741e5" d="M620.7 514.3l9.8 9.3l.9 1.8l-9.8 -9.4z"/>
<path color="#4747eb" d="M611 506.4l9.7 7.9l.9 1.7l-9.7 -8.4z"/>
<path color="#484df0" d="M588.3 509l6.5 -4.7l3.2 -1.1l3.3 -.3l3.2 .5l6.5 3l.9 1.2l-6.5 -3.4l-3.2 -.7l-3.3 .1l-3.2 1l-3.2 1.8l-3.3 2.6z"/>
<path color="#4747eb" d="M581.8 516l6.5 -7l.9 0l-6.5 6.9z"/>
<path color="#4741e5" d="M575.3 524.1l6.5 -8.1l.9 -.1l-6.5 8.1z"/>
<path color="#463cde" d="M568.8 532l6.5 -7.9l.9 -.1l-6.4 8.1z"/>
<path color="#4537d5" d="M559.1 542.3l9.7 -10.3l1 .1l-9.8 10.6z"/>
<path color="#4332cb" d="M546.1 551.5l6.5 -3.9l6.5 -5.3l.9 .4l-6.5 5.4l-6.4 4z"/>
<path color="#422ec0" d="M497.5 562l6.5 -3.1l6.5 -2.1l6.5 -.8l16.2 -.6l6.5 -1.4l6.4 -2.5l1 .6l-6.5 2.7l-6.5 1.4l-16.2 .4l-6.5 .8l-6.5 1.9l-6.5 3.1z"/>
<path color="#402ab4" d="M478 571.7l6.5 -2.9l13 -6.8l.9 .4l-13 6.9l-6.4 3zM683.3 555.3l16.2 3.6l19.4 2.8l.9 1.1l-19.4 -2.7l-16.2 -3.6z"/>
<path color="#422ec0" d="M660.6 546.7l9.7 4.3l13 4.3l.9 1.2l-13 -4.1l-9.7 -4.2z"/>
<path color="#4332cb" d="M647.6 538.9l13 7.8l.9 1.5l-13 -7.6z"/>
<path color="#4537d5" d="M637.9 531.3l9.7 7.6l.9 1.7l-9.7 -7.5z"/>
<path color="#463cde" d="M631.4 525.4l6.5 5.9l.9 1.8l-6.5 -5.9z"/>
<path color="#4741e5" d="M621.6 516l9.8 9.4l.9 1.8l-9.7 -9.6z"/>
<path color="#4747eb" d="M611.9 507.6l9.7 8.4l1 1.6l-9.8 -8.7z"/>
<path color="#484df0" d="M589.2 509l3.3 -2.6l3.2 -1.8l3.2 -1l3.3 -.1l3.2 .7l6.5 3.4l.9 1.3l-6.5 -3.8l-3.2 -.9l-3.2 -.2l-3.3 .8l-3.2 1.7l-3.3 2.5z"/>
<path color="#4747eb" d="M582.7 515.9l6.5 -6.9l.9 0l-6.5 6.8z"/>
<path color="#4741e5" d="M576.2 524l6.5 -8.1l.9 -.1l-6.4 8.2z"/>
<path color="#463cde" d="M566.5 535.9l9.7 -11.9l1 0l-9.8 12.1z"/>
<path color="#4537d5" d="M560 542.7l6.5 -6.8l.9 .2l-6.5 7z"/>
<path color="#4332cb" d="M547.1 552.1l6.4 -4l6.5 -5.4l.9 .4l-6.4 5.5l-6.5 4.2z"/>
<path color="#422ec0" d="M498.4 562.4l6.5 -3.1l6.5 -1.9l6.5 -.8l16.2 -.4l6.5 -1.4l6.5 -2.7l.9 .7l-6.5 2.7l-6.5 1.5l-16.2 .3l-6.5 .6l-6.5 1.8l-6.5 3.1z"/>
<path color="#402ab4" d="M479 572.3l6.4 -3l13 -6.9l.9 .4l-19.4 10.1zM680.9 555.6l16.2 3.9l19.5 2.9l.9 1.1l-19.4 -2.9l-16.3 -3.7z"/>
<path color="#422ec0" d="M661.5 548.2l9.7 4.2l9.7 3.2l.9 1.3l-9.7 -3.1l-9.7 -4.1z"/>
<path color="#4332cb" d="M648.5 540.6l13 7.6l.9 1.5l-13 -7.4z"/>
<path color="#4537d5" d="M638.8 533.1l9.7 7.5l.9 1.7l-9.7 -7.4z"/>
<path color="#463cde" d="M629 524.1l9.8 9l.9 1.8l-9.7 -9z"/>
<path color="#4741e5" d="M622.6 517.6l6.4 6.5l1 1.8l-6.5 -6.6z"/>
<path color="#4747eb" d="M612.8 508.9l9.8 8.7l.9 1.7l-9.8 -9.1z"/>
<path color="#484df0" d="M590.1 509l3.3 -2.5l3.2 -1.7l3.3 -.8l3.2 .2l3.2 .9l6.5 3.8l.9 1.3l-6.4 -4.1l-3.3 -1.2l-3.2 -.3l-3.3 .5l-3.2 1.5l-3.3 2.3z"/>
<path color="#4747eb" d="M580.4 519.8l9.7 -10.8l.9 -.1l-3.2 3.1l-6.5 7.7z"/>
<path color="#4741e5" d="M573.9 528.2l6.5 -8.4l.9 -.1l-6.5 8.5z"/>
<path color="#463cde" d="M567.4 536.1l6.5 -7.9l.9 0l-6.5 8.1z"/>
<path color="#4537d5" d="M560.9 543.1l6.5 -7l.9 .2l-6.4 7.1z"/>
<path color="#4332cb" d="M548 552.8l6.5 -4.2l6.4 -5.5l1 .3l-6.5 5.7l-6.5 4.3z"/>
<path color="#422ec0" d="M499.3 562.8l6.5 -3.1l6.5 -1.8l6.5 -.6l16.2 -.3l6.5 -1.5l6.5 -2.7l.9 .6l-6.5 2.9l-6.5 1.4l-22.7 .7l-6.5 1.7l-6.4 3z"/>
<path color="#402ab4" d="M479.9 572.9l19.4 -10.1l1 .3l-19.5 10.3zM678.6 556l16.2 4l19.5 3.1l.9 1.1l-19.5 -3l-16.2 -3.9z"/>
<path color="#422ec0" d="M659.1 548.1l9.8 4.5l9.7 3.4l.9 1.3l-9.7 -3.3l-9.7 -4.3z"/>
<path color="#4332cb" d="M646.2 540l12.9 8.1l1 1.6l-13 -7.9z"/>
<path color="#4537d5" d="M636.4 532.1l9.8 7.9l.9 1.8l-9.7 -7.9z"/>
<path color="#463cde" d="M630 525.9l6.4 6.2l1 1.8l-6.5 -6.2z"/>
<path color="#4741e5" d="M620.2 516.1l9.8 9.8l.9 1.8l-9.8 -9.9z"/>
<path color="#4747eb" d="M613.7 510.2l6.5 5.9l.9 1.7l-6.4 -6.2z"/>
<path color="#484df0" d="M591 508.9l3.3 -2.3l3.2 -1.5l3.3 -.5l3.2 .3l3.3 1.2l6.4 4.1l1 1.4l-6.5 -4.5l-3.3 -1.4l-3.2 -.6l-3.3 .3l-3.2 1.3l-3.2 2.2z"/>
<path color="#4747eb" d="M581.3 519.7l6.5 -7.7l3.2 -3.1l1 0l-3.3 3l-6.5 7.6z"/>
<path color="#4741e5" d="M574.8 528.2l6.5 -8.5l.9 -.2l-6.5 8.6z"/>
<path color="#463cde" d="M568.3 536.3l6.5 -8.1l.9 -.1l-6.4 8.3z"/>
<path color="#4537d5" d="M561.9 543.4l6.4 -7.1l1 .1l-6.5 7.3z"/>
<path color="#4332cb" d="M548.9 553.4l6.5 -4.3l6.5 -5.7l.9 .3l-6.5 5.9l-6.5 4.4z"/>
<path color="#422ec0" d="M497 564.9l6.5 -3.4l6.5 -2.4l6.5 -1.1l12.9 .2l6.5 -.5l6.5 -1.4l6.5 -2.9l.9 .6l-6.5 3l-6.5 1.5l-6.4 .4l-13 -.3l-6.5 .9l-6.5 2.4l-6.5 3.4z"/>
<path color="#402ab4" d="M480.8 573.4l16.2 -8.5l.9 .4l-16.2 8.7zM679.5 557.3l16.2 3.9l19.5 3l.9 1.1l-19.5 -2.9l-16.2 -3.8z"/>
<path color="#422ec0" d="M660.1 549.7l9.7 4.3l9.7 3.3l.9 1.3l-9.7 -3.2l-9.7 -4.2z"/>
<path color="#4332cb" d="M647.1 541.8l13 7.9l.9 1.5l-13 -7.7z"/>
<path color="#4537d5" d="M637.4 533.9l9.7 7.9l.9 1.7l-9.7 -7.8z"/>
<path color="#463cde" d="M630.9 527.7l6.5 6.2l.9 1.8l-6.5 -6.1z"/>
<path color="#4741e5" d="M621.1 517.8l9.8 9.9l.9 1.9l-9.7 -10.1z"/>
<path color="#4747eb" d="M614.7 511.6l6.4 6.2l1 1.7l-6.5 -6.4z"/>
<path color="#484df0" d="M588.7 511.9l3.3 -3l3.2 -2.2l3.2 -1.3l3.3 -.3l3.2 .6l3.3 1.4l6.5 4.5l.9 1.5l-6.5 -5l-3.2 -1.5l-3.3 -.8l-3.2 0l-3.3 1.1l-3.2 2l-3.3 2.9z"/>
<path color="#4747eb" d="M582.2 519.5l6.5 -7.6l.9 -.1l-6.4 7.6z"/>
<path color="#4741e5" d="M575.7 528.1l6.5 -8.6l1 -.1l-6.5 8.7z"/>
<path color="#463cde" d="M569.3 536.4l6.4 -8.3l1 0l-6.5 8.4z"/>
<path color="#4537d5" d="M562.8 543.7l6.5 -7.3l.9 .1l-6.5 7.5z"/>
<path color="#4332cb" d="M549.8 554l6.5 -4.4l6.5 -5.9l.9 .3l-6.5 6.1l-6.5 4.5z"/>
<path color="#422ec0" d="M497.9 565.3l6.5 -3.4l6.5 -2.4l6.5 -.9l13 .3l6.4 -.4l6.5 -1.5l6.5 -3l.9 .6l-6.5 3.1l-6.4 1.6l-6.5 .4l-13 -.5l-6.5 .8l-6.5 2.2l-6.5 3.5z"/>
<path color="#402ab4" d="M481.7 574l16.2 -8.7l.9 .4l-16.2 8.8zM677.2 557.6l16.2 4.2l19.5 3.1l.9 1.1l-19.5 -3l-16.2 -4z"/>
<path color="#422ec0" d="M661 551.2l6.5 2.9l9.7 3.5l.9 1.4l-9.7 -3.4l-6.5 -2.9z"/>
<path color="#4332cb" d="M648 543.5l13 7.7l.9 1.5l-13 -7.5z"/>
<path color="#4537d5" d="M638.3 535.7l9.7 7.8l.9 1.7l-9.7 -7.6z"/>
<path color="#463cde" d="M628.5 526.3l9.8 9.4l.9 1.9l-9.7 -9.4z"/>
<path color="#4741e5" d="M622.1 519.5l6.4 6.8l1 1.9l-6.5 -6.9z"/>
<path color="#4747eb" d="M612.3 510.4l9.8 9.1l.9 1.8l-9.7 -9.6z"/>
<path color="#484df0" d="M589.6 511.8l3.3 -2.9l3.2 -2l3.3 -1.1l3.2 0l3.3 .8l6.4 3.8l1 1.3l-6.5 -4.2l-3.3 -1.1l-3.2 -.1l-3.3 .8l-3.2 1.9l-3.2 2.7z"/>
<path color="#4747eb" d="M583.2 519.4l6.4 -7.6l1 -.1l-6.5 7.5z"/>
<path color="#4741e5" d="M576.7 528.1l6.5 -8.7l.9 -.2l-6.5 8.8z"/>
<path color="#463cde" d="M570.2 536.5l6.5 -8.4l.9 -.1l-6.5 8.6z"/>
<path color="#4537d5" d="M560.5 547.2l9.7 -10.7l.9 .1l-9.7 11z"/>
<path color="#4332cb" d="M550.7 554.6l3.3 -2l6.5 -5.4l.9 .4l-6.5 5.5l-3.3 2.1z"/>
<path color="#422ec0" d="M498.8 565.7l6.5 -3.5l6.5 -2.2l6.5 -.8l13 .5l6.5 -.4l6.4 -1.6l6.5 -3.1l.9 .6l-6.4 3.2l-6.5 1.6l-6.5 .5l-13 -.7l-6.5 .6l-6.5 2.2l-6.4 3.4z"/>
<path color="#402ab4" d="M482.6 574.5l16.2 -8.8l1 .3l-16.3 9.1zM678.1 559l16.2 4l16.2 2.6l.9 1.1l-16.2 -2.5l-16.2 -3.9z"/>
<path color="#422ec0" d="M658.6 551.1l9.8 4.5l9.7 3.4l.9 1.3l-9.7 -3.3l-9.7 -4.3z"/>
<path color="#4332cb" d="M645.7 542.9l6.5 4.5l6.4 3.7l1 1.6l-6.5 -3.7l-6.5 -4.4z"/>
<path color="#4537d5" d="M636 534.6l9.7 8.3l.9 1.7l-9.7 -8.1z"/>
<path color="#463cde" d="M629.5 528.2l6.5 6.4l.9 1.9l-6.5 -6.4z"/>
<path color="#4741e5" d="M623 521.3l6.5 6.9l.9 1.9l-6.5 -7z"/>
<path color="#4747eb" d="M613.3 511.7l9.7 9.6l.9 1.8l-9.7 -10z"/>
<path color="#484df0" d="M590.6 511.7l3.2 -2.7l3.2 -1.9l3.3 -.8l3.2 .1l3.3 1.1l6.5 4.2l.9 1.4l-6.5 -4.6l-3.3 -1.3l-3.2 -.4l-3.2 .6l-3.3 1.6l-3.2 2.6z"/>
<path color="#4747eb" d="M584.1 519.2l6.5 -7.5l.9 -.1l-6.5 7.4z"/>
<path color="#4741e5" d="M577.6 528l6.5 -8.8l.9 -.2l-6.5 8.9z"/>
<path color="#463cde" d="M571.1 536.6l6.5 -8.6l.9 -.1l-6.5 8.8z"/>
<path color="#4537d5" d="M561.4 547.6l9.7 -11l.9 .1l-9.7 11.2z"/>
<path color="#4332cb" d="M551.6 555.2l3.3 -2.1l6.5 -5.5l.9 .3l-6.5 5.7l-3.2 2.2z"/>
<path color="#422ec0" d="M499.8 566l6.4 -3.4l6.5 -2.2l6.5 -.6l13 .7l6.5 -.5l6.5 -1.6l6.4 -3.2l1 .6l-6.5 3.2l-6.5 1.8l-6.5 .5l-13 -.9l-6.5 .4l-6.4 2.1l-6.5 3.5z"/>
<path color="#402ab4" d="M483.5 575.1l16.3 -9.1l.9 .4l-16.2 9.2zM675.8 559.3l16.2 4.2l19.4 3.2l1 1.1l-19.5 -3.1l-16.2 -4z"/>
<path color="#422ec0" d="M659.6 552.7l6.5 3l9.7 3.6l.9 1.4l-9.7 -3.5l-6.5 -3z"/>
<path color="#4332cb" d="M646.6 544.6l6.5 4.4l6.5 3.7l.9 1.5l-6.5 -3.5l-6.5 -4.3z"/>
<path color="#4537d5" d="M636.9 536.5l9.7 8.1l.9 1.8l-9.7 -8z"/>
<path color="#463cde" d="M630.4 530.1l6.5 6.4l.9 1.9l-6.5 -6.4z"/>
<path color="#4741e5" d="M620.7 519.6l9.7 10.5l.9 1.9l-9.7 -10.6z"/>
<path color="#4747eb" d="M614.2 513.1l6.5 6.5l.9 1.8l-6.5 -6.8z"/>
<path color="#484df0" d="M591.5 511.6l3.2 -2.6l3.3 -1.6l3.2 -.6l3.2 .4l3.3 1.3l6.5 4.6l.9 1.5l-6.5 -5.1l-3.2 -1.5l-3.3 -.6l-3.2 .3l-3.3 1.4l-3.2 2.5z"/>
<path color="#4747eb" d="M581.7 523.4l6.5 -8.4l3.3 -3.4l.9 0l-3.3 3.3l-6.4 8.3z"/>
<path color="#4741e5" d="M575.3 532.3l6.4 -8.9l1 -.2l-6.5 9.1z"/>
<path color="#463cde" d="M568.8 540.8l6.5 -8.5l.9 0l-6.5 8.6z"/>
<path color="#4537d5" d="M562.3 547.9l6.5 -7.1l.9 .1l-6.5 7.3z"/>
<path color="#4332cb" d="M552.6 555.8l3.2 -2.2l6.5 -5.7l.9 .3l-6.5 5.8l-3.2 2.3z"/>
<path color="#422ec0" d="M500.7 566.4l6.5 -3.5l6.4 -2.1l6.5 -.4l13 .9l6.5 -.5l6.5 -1.8l6.5 -3.2l.9 .5l-6.5 3.4l-6.5 1.8l-6.5 .5l-13 -1l-6.4 .3l-6.5 2l-6.5 3.4z"/>
<path color="#402ab4" d="M484.5 575.6l16.2 -9.2l.9 .3l-16.2 9.4zM676.7 560.7l16.2 4l16.2 2.7l.9 1.1l-16.2 -2.6l-16.2 -3.9z"/>
<path color="#422ec0" d="M657.2 552.5l9.8 4.7l9.7 3.5l.9 1.3l-9.7 -3.4l-9.7 -4.5z"/>
<path color="#4332cb" d="M644.3 543.9l6.5 4.7l6.4 3.9l1 1.6l-6.5 -3.8l-6.5 -4.6z"/>
<path color="#4537d5" d="M637.8 538.4l6.5 5.5l.9 1.8l-6.5 -5.4z"/>
<path color="#463cde" d="M628.1 528.5l9.7 9.9l.9 1.9l-9.7 -9.8z"/>
<path color="#4741e5" d="M621.6 521.4l6.5 7.1l.9 2l-6.5 -7.3z"/>
<path color="#4747eb" d="M615.1 514.6l6.5 6.8l.9 1.8l-6.5 -7z"/>
<path color="#484df0" d="M589.1 514.9l3.3 -3.3l3.2 -2.5l3.3 -1.4l3.2 -.3l3.3 .6l3.2 1.5l6.5 5.1l.9 1.6l-6.5 -5.5l-3.2 -1.8l-3.3 -.9l-3.2 .1l-3.3 1.1l-3.2 2.3l-3.2 3.2z"/>
<path color="#4747eb" d="M582.7 523.2l6.4 -8.3l1 -.2l-6.5 8.2z"/>
<path color="#4741e5" d="M576.2 532.3l6.5 -9.1l.9 -.3l-6.5 9.3z"/>
<path color="#463cde" d="M569.7 540.9l6.5 -8.6l.9 -.1l-6.5 8.8z"/>
<path color="#4537d5" d="M563.2 548.2l6.5 -7.3l.9 .1l-6.5 7.5z"/>
<path color="#4332cb" d="M553.5 556.3l3.2 -2.3l6.5 -5.8l.9 .3l-6.5 6l-3.2 2.3z"/>
<path color="#422ec0" d="M498.3 568.7l9.8 -5.4l6.5 -2l6.4 -.3l13 1l6.5 -.5l6.5 -1.8l6.5 -3.4l.9 .5l-6.5 3.5l-6.5 2l-6.5 .5l-16.2 -1.3l-6.5 .9l-6.5 2.7l-6.4 3.9z"/>
<path color="#402ab4" d="M482.1 577.6l6.5 -3.2l9.7 -5.7l1 .3l-9.8 5.9l-6.4 3.2zM674.4 561l16.2 4.3l16.2 2.7l.9 1.2l-16.2 -2.7l-16.2 -4.2z"/>
<path color="#422ec0" d="M658.2 554.1l6.4 3.2l9.8 3.7l.9 1.3l-9.7 -3.6l-6.5 -3z"/>
<path color="#4332cb" d="M645.2 545.7l6.5 4.6l6.5 3.8l.9 1.6l-6.5 -3.7l-6.5 -4.5z"/>
<path color="#4537d5" d="M635.5 537.2l9.7 8.5l.9 1.8l-9.7 -8.3z"/>
<path color="#463cde" d="M629 530.5l6.5 6.7l.9 2l-6.5 -6.8z"/>
<path color="#4741e5" d="M622.5 523.2l6.5 7.3l.9 1.9l-6.5 -7.3z"/>
<path color="#4747eb" d="M612.8 513.2l9.7 10l.9 1.9l-9.7 -10.5z"/>
<path color="#484df0" d="M590.1 514.7l3.2 -3.2l3.2 -2.3l3.3 -1.1l3.2 -.1l3.3 .9l3.2 1.8l3.3 2.5l.9 1.4l-6.5 -4.7l-3.3 -1.2l-3.2 -.2l-3.2 .9l-3.3 2.1l-3.2 3z"/>
<path color="#4747eb" d="M583.6 522.9l6.5 -8.2l.9 -.2l-6.5 8.2z"/>
<path color="#4741e5" d="M577.1 532.2l6.5 -9.3l.9 -.2l-6.5 9.3z"/>
<path color="#463cde" d="M570.6 541l6.5 -8.8l.9 -.2l-6.5 9z"/>
<path color="#4537d5" d="M564.1 548.5l6.5 -7.5l.9 0l-6.5 7.8z"/>
<path color="#4332cb" d="M551.1 558.8l6.5 -4.3l6.5 -6l.9 .3l-6.5 6.1l-6.4 4.4z"/>
<path color="#422ec0" d="M499.3 569l9.7 -5.4l6.5 -1.9l6.5 -.1l9.7 1l6.5 .1l6.5 -1.2l6.4 -2.7l1 .5l-6.5 2.9l-6.5 1.2l-6.5 0l-13 -1.4l-6.4 .8l-6.5 2.6l-6.5 3.9z"/>
<path color="#402ab4" d="M483.1 578.1l6.4 -3.2l9.8 -5.9l.9 .3l-9.7 6l-6.5 3.3zM675.3 562.3l16.2 4.2l16.2 2.7l.9 1.1l-16.2 -2.6l-16.2 -4z"/>
<path color="#422ec0" d="M655.8 553.9l9.8 4.8l9.7 3.6l.9 1.4l-9.7 -3.5l-9.8 -4.6z"/>
<path color="#4332cb" d="M646.1 547.5l9.7 6.4l.9 1.7l-9.7 -6.3z"/>
<path color="#4537d5" d="M636.4 539.2l9.7 8.3l.9 1.8l-9.7 -8.2z"/>
<path color="#463cde" d="M629.9 532.4l6.5 6.8l.9 1.9l-6.5 -6.7z"/>
<path color="#4741e5" d="M620.2 521.4l9.7 11l.9 2l-9.7 -11.2z"/>
<path color="#4747eb" d="M613.7 514.6l6.5 6.8l.9 1.8l-6.5 -7z"/>
<path color="#484df0" d="M591 514.5l3.2 -3l3.3 -2.1l3.2 -.9l3.2 .2l3.3 1.2l6.5 4.7l.9 1.6l-6.5 -5.3l-3.2 -1.4l-3.3 -.5l-3.2 .7l-3.3 1.8l-3.2 2.9z"/>
<path color="#4747eb" d="M584.5 522.7l6.5 -8.2l.9 -.1l-6.5 8z"/>
<path color="#4741e5" d="M578 532l6.5 -9.3l.9 -.3l-6.5 9.5z"/>
<path color="#463cde" d="M571.5 541l6.5 -9l.9 -.1l-6.5 9.1z"/>
<path color="#4537d5" d="M565 548.8l6.5 -7.8l.9 0l-6.4 8z"/>
<path color="#4332cb" d="M552.1 559.3l6.4 -4.4l6.5 -6.1l1 .2l-6.5 6.3l-6.5 4.6z"/>
<path color="#422ec0" d="M500.2 569.3l6.5 -3.9l6.5 -2.6l6.4 -.8l13 1.4l6.5 0l6.5 -1.2l6.5 -2.9l.9 .6l-6.5 2.9l-6.5 1.4l-6.5 -.1l-12.9 -1.6l-6.5 .6l-6.5 2.6l-6.5 3.9z"/>
<path color="#402ab4" d="M484 578.6l6.5 -3.3l9.7 -6l.9 .3l-9.7 6.1l-6.5 3.4zM673 562.6l16.2 4.4l16.2 2.8l.9 1.2l-16.2 -2.7l-16.2 -4.3z"/>
<path color="#422ec0" d="M656.7 555.6l6.5 3.2l9.8 3.8l.9 1.4l-9.8 -3.7l-6.4 -3.1z"/>
<path color="#4332cb" d="M643.8 546.8l6.5 4.8l6.4 4l1 1.6l-6.5 -3.9l-6.5 -4.6z"/>
<path color="#4537d5" d="M634 537.9l9.8 8.9l.9 1.9l-9.7 -8.8z"/>
<path color="#463cde" d="M627.6 530.8l6.4 7.1l1 2l-6.5 -7.1z"/>
<path color="#4741e5" d="M621.1 523.2l6.5 7.6l.9 2l-6.5 -7.7z"/>
<path color="#4747eb" d="M614.6 516.2l6.5 7l.9 1.9l-6.5 -7.3z"/>
<path color="#484df0" d="M591.9 514.4l3.2 -2.9l3.3 -1.8l3.2 -.7l3.3 .5l3.2 1.4l6.5 5.3l.9 1.6l-6.5 -5.7l-3.2 -1.8l-3.3 -.7l-3.2 .3l-3.2 1.6l-3.3 2.8z"/>
<path color="#4747eb" d="M585.4 522.4l6.5 -8l.9 -.1l-6.5 7.9z"/>
<path color="#4741e5" d="M578.9 531.9l6.5 -9.5l.9 -.2l-6.5 9.5z"/>
<path color="#463cde" d="M572.4 541l6.5 -9.1l.9 -.2l-6.4 9.3z"/>
<path color="#4537d5" d="M566 549l6.4 -8l1 0l-6.5 8.2z"/>
<path color="#4332cb" d="M553 559.9l6.5 -4.6l6.5 -6.3l.9 .2l-6.5 6.5l-6.5 4.7z"/>
<path color="#422ec0" d="M501.1 569.6l6.5 -3.9l6.5 -2.6l6.5 -.6l12.9 1.6l6.5 .1l6.5 -1.4l6.5 -2.9l.9 .5l-6.5 3.1l-6.5 1.4l-6.5 0l-12.9 -1.8l-6.5 .4l-6.5 2.4l-6.5 3.9z"/>
<path color="#402ab4" d="M484.9 579.1l6.5 -3.4l9.7 -6.1l.9 .2l-9.7 6.3l-6.5 3.5zM673.9 564l12.9 3.6l16.3 2.9l.9 1.1l-16.2 -2.8l-13 -3.4z"/>
<path color="#422ec0" d="M654.4 555.4l9.7 4.9l9.8 3.7l.9 1.4l-9.7 -3.6l-9.8 -4.8z"/>
<path color="#4332cb" d="M644.7 548.7l9.7 6.7l.9 1.6l-9.7 -6.5z"/>
<path color="#4537d5" d="M635 539.9l9.7 8.8l.9 1.8l-9.7 -8.7z"/>
<path color="#463cde" d="M628.5 532.8l6.5 7.1l.9 1.9l-6.5 -7z"/>
<path color="#4741e5" d="M622 525.1l6.5 7.7l.9 2l-6.5 -7.7z"/>
<path color="#4747eb" d="M615.5 517.8l6.5 7.3l.9 2l-6.5 -7.6z"/>
<path color="#484df0" d="M589.6 517.9l3.2 -3.6l3.3 -2.8l3.2 -1.6l3.2 -.3l3.3 .7l3.2 1.8l6.5 5.7l.9 1.7l-6.5 -6.2l-3.2 -2l-3.2 -1.1l-3.3 .1l-3.2 1.3l-3.3 2.5l-3.2 3.5z"/>
<path color="#4747eb" d="M583.1 526.9l6.5 -9l.9 -.3l-6.5 9z"/>
<path color="#4741e5" d="M579.8 531.7l3.3 -4.8l.9 -.3l-3.2 4.9z"/>
<path color="#463cde" d="M573.4 541l6.4 -9.3l1 -.2l-6.5 9.5z"/>
<path color="#4537d5" d="M563.6 552.7l9.8 -11.7l.9 0l-9.8 11.9z"/>
<path color="#4332cb" d="M553.9 560.4l6.5 -4.7l3.2 -3l.9 .2l-3.2 3.1l-6.5 4.9z"/>
<path color="#422ec0" d="M498.8 572l9.7 -6.1l6.5 -2.4l6.5 -.4l12.9 1.8l6.5 0l6.5 -1.4l6.5 -3.1l.9 .5l-6.5 3.2l-6.5 1.5l-6.4 0l-13 -2l-6.5 .2l-6.5 2.3l-9.7 6.2z"/>
<path color="#402ab4" d="M485.8 579.6l13 -7.6l.9 .3l-13 7.8zM671.5 564.3l13 3.8l16.2 3.1l.9 1.1l-16.2 -3l-12.9 -3.6z"/>
<path color="#422ec0" d="M655.3 557l6.5 3.4l9.7 3.9l1 1.4l-9.8 -3.8l-6.4 -3.3z"/>
<path color="#4332cb" d="M642.4 547.9l6.5 5l6.4 4.1l1 1.6l-6.5 -4l-6.5 -4.8z"/>
<path color="#4537d5" d="M635.9 541.8l6.5 6.1l.9 1.9l-6.5 -6z"/>
<path color="#463cde" d="M629.4 534.8l6.5 7l.9 2l-6.5 -6.9z"/>
<path color="#4741e5" d="M619.7 523.2l9.7 11.6l.9 2.1l-9.7 -11.8z"/>
<path color="#4747eb" d="M613.2 516.1l6.5 7.1l.9 1.9l-6.5 -7.5z"/>
<path color="#484df0" d="M590.5 517.6l3.2 -3.5l3.3 -2.5l3.2 -1.3l3.3 -.1l3.2 1.1l3.2 2l3.3 2.8l.9 1.5l-6.5 -5.3l-3.2 -1.3l-3.3 -.3l-3.2 1.1l-3.3 2.2l-3.2 3.4z"/>
<path color="#4747eb" d="M584 526.6l6.5 -9l.9 -.2l-6.5 8.9z"/>
<path color="#4741e5" d="M577.5 536.3l6.5 -9.7l.9 -.3l-6.5 9.9z"/>
<path color="#463cde" d="M571 545.4l6.5 -9.1l.9 -.1l-6.5 9.2z"/>
<path color="#4537d5" d="M564.5 552.9l6.5 -7.5l.9 0l-6.4 7.8z"/>
<path color="#4332cb" d="M554.8 560.9l6.5 -4.9l3.2 -3.1l1 .3l-3.3 3.2l-6.5 5z"/>
<path color="#422ec0" d="M499.7 572.3l9.7 -6.2l6.5 -2.3l6.5 -.2l13 2l6.4 0l6.5 -1.5l6.5 -3.2l.9 .5l-6.5 3.3l-6.4 1.6l-6.5 .1l-13 -2.2l-6.5 0l-6.5 2.2l-9.7 6.2z"/>
<path color="#402ab4" d="M486.7 580.1l13 -7.8l.9 .3l-13 7.9zM669.2 564.6l16.2 4.7l16.2 3l1 1.1l-16.2 -2.8l-16.3 -4.6z"/>
<path color="#422ec0" d="M653 556.7l6.5 3.7l9.7 4.2l.9 1.4l-9.7 -4.1l-6.5 -3.5z"/>
<path color="#4332cb" d="M643.3 549.8l9.7 6.9l.9 1.7l-9.7 -6.8z"/>
<path color="#4537d5" d="M633.6 540.5l9.7 9.3l.9 1.8l-9.7 -9.1z"/>
<path color="#463cde" d="M627.1 533.1l6.5 7.4l.9 2l-6.5 -7.4z"/>
<path color="#4741e5" d="M620.6 525.1l6.5 8l.9 2l-6.5 -8z"/>
<path color="#4747eb" d="M614.1 517.6l6.5 7.5l.9 2l-6.5 -7.8z"/>
<path color="#484df0" d="M591.4 517.4l3.2 -3.4l3.3 -2.2l3.2 -1.1l3.3 .3l3.2 1.3l6.5 5.3l.9 1.7l-6.5 -5.9l-3.2 -1.6l-3.3 -.6l-3.2 .7l-3.2 2.1l-3.3 3.2z"/>
<path color="#4747eb" d="M584.9 526.3l6.5 -8.9l.9 -.2l-6.5 8.7z"/>
<path color="#4741e5" d="M578.4 536.2l6.5 -9.9l.9 -.4l-6.5 10.1z"/>
<path color="#463cde" d="M571.9 545.4l6.5 -9.2l.9 -.2l-6.4 9.4z"/>
<path color="#4537d5" d="M565.5 553.2l6.4 -7.8l1 0l-6.5 8z"/>
<path color="#4332cb" d="M555.7 561.4l6.5 -5l3.3 -3.2l.9 .2l-3.3 3.3l-6.5 5.2z"/>
<path color="#422ec0" d="M500.6 572.6l9.7 -6.2l6.5 -2.2l6.5 0l13 2.2l6.5 -.1l6.4 -1.6l6.5 -3.3l.9 .5l-6.4 3.4l-3.3 1l-6.5 .9l-6.5 -.5l-9.7 -2l-6.5 -.2l-6.5 2.1l-9.7 6.2z"/>
<path color="#402ab4" d="M484.4 582.1l6.5 -3.3l9.7 -6.2l.9 .2l-9.7 6.4l-6.5 3.4zM670.1 566l13 3.8l16.2 3.2l.9 1.1l-16.2 -3l-12.9 -3.7z"/>
<path color="#422ec0" d="M653.9 558.4l6.5 3.5l9.7 4.1l1 1.4l-9.8 -3.9l-6.5 -3.4z"/>
<path color="#4332cb" d="M644.2 551.6l9.7 6.8l.9 1.7l-9.7 -6.6z"/>
<path color="#4537d5" d="M634.5 542.5l9.7 9.1l.9 1.9l-9.7 -8.9z"/>
<path color="#463cde" d="M628 535.1l6.5 7.4l.9 2.1l-6.5 -7.4z"/>
<path color="#4741e5" d="M621.5 527.1l6.5 8l.9 2.1l-6.5 -8.1z"/>
<path color="#4747eb" d="M615 519.3l6.5 7.8l.9 2l-6.5 -8.1z"/>
<path color="#484df0" d="M592.3 517.2l3.3 -3.2l3.2 -2.1l3.2 -.7l3.3 .6l3.2 1.6l6.5 5.9l.9 1.7l-6.5 -6.4l-3.2 -1.9l-3.2 -.9l-3.3 .4l-3.2 1.8l-3.3 3z"/>
<path color="#4747eb" d="M585.8 525.9l6.5 -8.7l.9 -.2l-6.5 8.6z"/>
<path color="#4741e5" d="M579.3 536l6.5 -10.1l.9 -.3l-6.4 10.1z"/>
<path color="#463cde" d="M572.9 545.4l6.4 -9.4l1 -.3l-6.5 9.7z"/>
<path color="#4537d5" d="M566.4 553.4l6.5 -8l.9 0l-6.5 8.1z"/>
<path color="#4332cb" d="M556.6 561.9l6.5 -5.2l3.3 -3.3l.9 .1l-3.3 3.4l-6.4 5.4z"/>
<path color="#422ec0" d="M521 564.4l12.9 2.3l6.5 .5l6.5 -.9l3.3 -1l6.4 -3.4l1 .4l-6.5 3.6l-3.3 1.1l-6.5 .9l-6.4 -.5l-13 -2.5z"/>
<path color="#4332cb" d="M517.7 564.5l3.3 -.1l.9 .5l-3.3 0z"/>
<path color="#422ec0" d="M501.5 572.8l9.7 -6.2l6.5 -2.1l.9 .4l-3.2 .6l-3.2 1.3l-9.8 6.2z"/>
<path color="#402ab4" d="M485.3 582.6l6.5 -3.4l9.7 -6.4l.9 .2l-9.7 6.6l-6.5 3.4zM667.8 566.2l13 4.1l16.2 3.3l.9 1.2l-16.2 -3.2l-13 -3.9z"/>
<path color="#422ec0" d="M651.6 558.1l6.5 3.8l9.7 4.3l.9 1.5l-9.7 -4.2l-6.5 -3.7z"/>
<path color="#4332cb" d="M641.9 550.8l9.7 7.3l.9 1.7l-9.7 -7.1z"/>
<path color="#4537d5" d="M635.4 544.6l6.5 6.2l.9 1.9l-6.5 -6.1z"/>
<path color="#463cde" d="M628.9 537.2l6.5 7.4l.9 2l-6.5 -7.2z"/>
<path color="#4741e5" d="M622.4 529.1l6.5 8.1l.9 2.2l-6.5 -8.2z"/>
<path color="#4747eb" d="M615.9 521l6.5 8.1l.9 2.1l-6.5 -8.4z"/>
<path color="#484df0" d="M590 521l3.2 -4l3.3 -3l3.2 -1.8l3.3 -.4l3.2 .9l3.2 1.9l6.5 6.4l.9 1.8l-6.4 -6.9l-3.3 -2.2l-3.2 -1.2l-3.3 0l-3.2 1.5l-3.3 2.8l-3.2 3.8z"/>
<path color="#4747eb" d="M583.5 530.6l6.5 -9.6l.9 -.4l-6.5 9.7z"/>
<path color="#4741e5" d="M580.3 535.7l3.2 -5.1l.9 -.3l-3.2 5.1z"/>
<path color="#463cde" d="M573.8 545.4l6.5 -9.7l.9 -.3l-6.5 9.9z"/>
<path color="#4537d5" d="M567.3 553.5l6.5 -8.1l.9 -.1l-6.5 8.4z"/>
<path color="#4332cb" d="M557.6 562.3l6.4 -5.4l3.3 -3.4l.9 .2l-3.2 3.5l-6.5 5.5z"/>
<path color="#422ec0" d="M525.1 565.3l13 2.5l6.5 -.1l6.5 -1.8l6.5 -3.6l.9 .4l-6.5 3.7l-3.3 1.2l-6.4 1l-6.5 -.4l-9.8 -2.3z"/>
<path color="#4332cb" d="M515.4 565.5l3.2 -.6l6.5 .4l.9 .6l-6.4 -.7l-3.3 .6z"/>
<path color="#422ec0" d="M502.4 573l6.5 -4.5l6.5 -3l.9 .3l-6.5 2.9l-6.4 4.5z"/>
<path color="#402ab4" d="M486.2 583l6.5 -3.4l9.7 -6.6l1 .2l-9.8 6.8l-6.5 3.5zM668.7 567.7l13 3.9l16.2 3.2l.9 1.1l-16.2 -3l-13 -3.8z"/>
<path color="#422ec0" d="M652.5 559.8l6.5 3.7l9.7 4.2l.9 1.4l-9.7 -4.1l-6.5 -3.5z"/>
<path color="#4332cb" d="M642.8 552.7l9.7 7.1l.9 1.7l-9.7 -6.8z"/>
<path color="#4537d5" d="M633.1 543.1l9.7 9.6l.9 2l-9.7 -9.4z"/>
<path color="#463cde" d="M626.6 535.4l6.5 7.7l.9 2.2l-6.5 -7.8z"/>
<path color="#4741e5" d="M620.1 526.9l6.5 8.5l.9 2.1l-6.5 -8.5z"/>
<path color="#4747eb" d="M613.6 519.1l6.5 7.8l.9 2.1l-6.5 -8.2z"/>
<path color="#484df0" d="M590.9 520.6l3.2 -3.8l3.3 -2.8l3.2 -1.5l3.3 0l3.2 1.2l3.3 2.2l3.2 3.2l.9 1.7l-6.5 -6.1l-3.2 -1.5l-3.3 -.3l-3.2 1.2l-3.2 2.5l-3.3 3.7z"/>
<path color="#4747eb" d="M584.4 530.3l6.5 -9.7l.9 -.3l-6.5 9.6z"/>
<path color="#4741e5" d="M581.2 535.4l3.2 -5.1l.9 -.4l-3.2 5.2z"/>
<path color="#463cde" d="M574.7 545.3l6.5 -9.9l.9 -.3l-6.5 10.1z"/>
<path color="#4537d5" d="M568.2 553.7l6.5 -8.4l.9 -.1l-6.5 8.6z"/>
<path color="#4332cb" d="M555.2 564.8l6.5 -4.6l6.5 -6.5l.9 .1l-6.5 6.7l-6.4 4.8z"/>
<path color="#422ec0" d="M526 565.9l9.8 2.3l6.5 .4l6.4 -1l6.5 -2.8l1 .5l-6.5 2.9l-6.5 1.1l-6.5 -.4l-9.7 -2.4z"/>
<path color="#4332cb" d="M516.3 565.8l3.3 -.6l6.4 .7l1 .6l-6.5 -.9l-3.3 .4z"/>
<path color="#422ec0" d="M500.1 575.6l9.7 -6.9l6.5 -2.9l.9 .2l-6.4 2.8l-9.8 7z"/>
<path color="#402ab4" d="M487.1 583.5l6.5 -3.5l6.5 -4.4l.9 .2l-6.5 4.5l-6.4 3.6zM666.4 567.9l13 4.1l16.2 3.4l.9 1.2l-16.2 -3.2l-13 -4.1z"/>
<path color="#422ec0" d="M653.4 561.5l6.5 3.5l6.5 2.9l.9 1.4l-13 -6.1z"/>
<path color="#4332cb" d="M640.5 551.8l6.4 5.4l6.5 4.3l.9 1.7l-6.4 -4.2l-6.5 -5.2z"/>
<path color="#4537d5" d="M634 545.3l6.5 6.5l.9 2l-6.5 -6.4z"/>
<path color="#463cde" d="M627.5 537.5l6.5 7.8l.9 2.1l-6.5 -7.7z"/>
<path color="#4741e5" d="M621 529l6.5 8.5l.9 2.2l-6.5 -8.6z"/>
<path color="#4747eb" d="M614.5 520.8l6.5 8.2l.9 2.1l-6.5 -8.5z"/>
<path color="#484df0" d="M591.8 520.3l3.3 -3.7l3.2 -2.5l3.2 -1.2l3.3 .3l3.2 1.5l6.5 6.1l.9 1.8l-6.5 -6.7l-3.2 -1.9l-3.2 -.6l-3.3 .8l-3.2 2.3l-3.3 3.5z"/>
<path color="#4747eb" d="M585.3 529.9l6.5 -9.6l.9 -.3l-6.4 9.5z"/>
<path color="#4741e5" d="M578.8 540.3l6.5 -10.4l1 -.4l-6.5 10.6z"/>
<path color="#463cde" d="M575.6 545.2l3.2 -4.9l1 -.2l-3.3 5z"/>
<path color="#4537d5" d="M569.1 553.8l6.5 -8.6l.9 -.1l-6.5 8.8z"/>
<path color="#4332cb" d="M556.2 565.3l6.4 -4.8l6.5 -6.7l.9 .1l-6.4 6.9l-6.5 4.9z"/>
<path color="#422ec0" d="M527 566.5l9.7 2.4l6.5 .4l6.5 -1.1l6.5 -2.9l.9 .4l-6.5 3.1l-6.5 1.2l-6.5 -.4l-9.7 -2.5z"/>
<path color="#4332cb" d="M514 567.1l3.2 -1.1l3.3 -.4l6.5 .9l.9 .6l-6.5 -1.1l-3.2 .3l-3.3 1z"/>
<path color="#422ec0" d="M501 575.8l6.5 -4.8l6.5 -3.9l.9 .2l-6.5 3.8l-6.5 4.9z"/>
<path color="#402ab4" d="M488.1 583.9l6.4 -3.6l6.5 -4.5l.9 .2l-6.4 4.6l-6.5 3.8zM667.3 569.3l13 4.1l13 2.7l.9 1.1l-13 -2.6l-13 -3.8z"/>
<path color="#422ec0" d="M651.1 561.2l6.5 3.8l9.7 4.3l.9 1.5l-9.7 -4.2l-6.5 -3.6z"/>
<path color="#4332cb" d="M641.4 553.8l9.7 7.4l.9 1.8l-9.7 -7.2z"/>
<path color="#4537d5" d="M634.9 547.4l6.5 6.4l.9 2l-6.5 -6.3z"/>
<path color="#463cde" d="M628.4 539.7l6.5 7.7l.9 2.1l-6.5 -7.6z"/>
<path color="#4741e5" d="M621.9 531.1l6.5 8.6l.9 2.2l-6.5 -8.7z"/>
<path color="#4747eb" d="M615.4 522.6l6.5 8.5l.9 2.1l-6.4 -8.8z"/>
<path color="#484df0" d="M605.7 514l3.2 1.9l6.5 6.7l1 1.8l-6.5 -7.2l-3.3 -2.2z"/>
<path color="#4852f4" d="M599.2 514.2l3.3 -.8l3.2 .6l.9 1l-3.2 -1l-3.3 .4z"/>
<path color="#484df0" d="M592.7 520l3.3 -3.5l3.2 -2.3l.9 .2l-3.2 2l-3.2 3.3z"/>
<path color="#4747eb" d="M586.3 529.5l6.4 -9.5l1 -.3l-6.5 9.4z"/>
<path color="#4741e5" d="M579.8 540.1l6.5 -10.6l.9 -.4l-6.5 10.7z"/>
<path color="#463cde" d="M573.3 549.7l6.5 -9.6l.9 -.3l-6.5 9.9z"/>
<path color="#4537d5" d="M566.8 557.6l6.5 -7.9l.9 0l-6.5 8.1z"/>
<path color="#4332cb" d="M557.1 565.7l6.5 -4.9l3.2 -3.2l.9 .2l-3.2 3.3l-6.5 5.1z"/>
<path color="#422ec0" d="M527.9 567.1l9.7 2.5l6.5 .4l6.5 -1.2l6.5 -3.1l.9 .5l-6.5 3.1l-6.5 1.4l-6.5 -.3l-9.7 -2.7z"/>
<path color="#4332cb" d="M514.9 567.3l3.3 -1l3.2 -.3l6.5 1.1l.9 .6l-6.5 -1.4l-3.2 .2l-3.3 .9z"/>
<path color="#422ec0" d="M501.9 576l6.5 -4.9l6.5 -3.8l.9 .1l-6.5 3.8l-6.4 5z"/>
<path color="#402ab4" d="M485.7 585.9l6.5 -3.3l9.7 -6.6l1 .2l-9.8 6.8l-6.5 3.4zM665 569.5l13 4.3l16.2 3.4l.9 1.2l-16.2 -3.3l-13 -4.1z"/>
<path color="#422ec0" d="M652 563l6.5 3.6l6.5 2.9l.9 1.5l-6.5 -2.8l-6.5 -3.5z"/>
<path color="#4332cb" d="M639.1 552.8l6.4 5.6l6.5 4.6l.9 1.7l-6.4 -4.4l-6.5 -5.5z"/>
<path color="#4537d5" d="M632.6 545.8l6.5 7l.9 2l-6.5 -6.8z"/>
<path color="#463cde" d="M626.1 537.7l6.5 8.1l.9 2.2l-6.5 -8.1z"/>
<path color="#4741e5" d="M619.6 528.8l6.5 8.9l.9 2.2l-6.5 -9z"/>
<path color="#4747eb" d="M613.1 520.5l6.5 8.3l.9 2.1l-6.5 -8.7z"/>
<path color="#484df0" d="M606.6 515l3.3 2.2l3.2 3.3l.9 1.7l-3.2 -3.6l-3.3 -2.6z"/>
<path color="#4852f4" d="M600.1 514.4l3.3 -.4l3.2 1l.9 1l-3.2 -1.4l-3.2 .1z"/>
<path color="#484df0" d="M590.4 524.1l3.3 -4.4l3.2 -3.3l3.2 -2l1 .3l-3.3 1.6l-3.2 3.1l-3.3 4.3z"/>
<path color="#4747eb" d="M587.2 529.1l3.2 -5l.9 -.4l-3.2 4.9z"/>
<path color="#4741e5" d="M580.7 539.8l6.5 -10.7l.9 -.5l-6.5 10.9z"/>
<path color="#463cde" d="M574.2 549.7l6.5 -9.9l.9 -.3l-6.5 10.1z"/>
<path color="#4537d5" d="M567.7 557.8l6.5 -8.1l.9 -.1l-6.5 8.4z"/>
<path color="#4332cb" d="M558 566.2l6.5 -5.1l3.2 -3.3l.9 .2l-3.2 3.4l-6.5 5.2z"/>
<path color="#422ec0" d="M528.8 567.7l9.7 2.7l6.5 .3l6.5 -1.4l6.5 -3.1l.9 .4l-6.5 3.3l-6.5 1.5l-6.5 -.3l-9.7 -2.8z"/>
<path color="#4332cb" d="M512.6 569l3.2 -1.6l3.3 -.9l3.2 -.2l6.5 1.4l.9 .6l-6.5 -1.6l-3.2 .1l-3.3 .8l-3.2 1.5z"/>
<path color="#422ec0" d="M502.9 576.2l9.7 -7.2l.9 .1l-9.7 7.3z"/>
<path color="#402ab4" d="M486.6 586.4l6.5 -3.4l9.8 -6.8l.9 .2l-9.8 7l-6.4 3.4zM665.9 571l13 4.1l12.9 2.8l1 1.2l-13 -2.7l-13 -3.9z"/>
<path color="#422ec0" d="M649.7 562.6l6.5 4l9.7 4.4l.9 1.5l-9.7 -4.3l-6.5 -3.8z"/>
<path color="#4332cb" d="M640 554.8l9.7 7.8l.9 1.8l-9.7 -7.6z"/>
<path color="#4537d5" d="M633.5 548l6.5 6.8l.9 2l-6.5 -6.6z"/>
<path color="#463cde" d="M627 539.9l6.5 8.1l.9 2.2l-6.5 -8z"/>
<path color="#4741e5" d="M620.5 530.9l6.5 9l.9 2.3l-6.5 -9.1z"/>
<path color="#4747eb" d="M614 522.2l6.5 8.7l.9 2.2l-6.5 -9.1z"/>
<path color="#484df0" d="M604.3 514.6l3.2 1.4l3.3 2.6l3.2 3.6l.9 1.8l-3.2 -3.8l-3.2 -3l-3.3 -1.8z"/>
<path color="#4852f4" d="M601.1 514.7l3.2 -.1l.9 .8l-3.2 -.3z"/>
<path color="#484df0" d="M591.3 523.7l3.3 -4.3l3.2 -3.1l3.3 -1.6l.9 .4l-3.3 1.2l-3.2 2.9l-3.3 4z"/>
<path color="#4747eb" d="M584.8 534l6.5 -10.3l.9 -.5l-6.4 10.4z"/>
<path color="#4741e5" d="M581.6 539.5l3.2 -5.5l1 -.4l-3.3 5.5z"/>
<path color="#463cde" d="M575.1 549.6l6.5 -10.1l.9 -.4l-6.5 10.4z"/>
<path color="#4537d5" d="M568.6 558l6.5 -8.4l.9 -.1l-6.5 8.6z"/>
<path color="#4332cb" d="M558.9 566.6l6.5 -5.2l3.2 -3.4l.9 .1l-3.2 3.5l-6.5 5.4z"/>
<path color="#422ec0" d="M529.7 568.3l9.7 2.8l6.5 .3l6.5 -1.5l6.5 -3.3l.9 .4l-6.5 3.5l-6.5 1.5l-6.4 -.2l-9.8 -2.8z"/>
<path color="#4332cb" d="M513.5 569.1l3.2 -1.5l3.3 -.8l3.2 -.1l6.5 1.6l.9 .7l-6.5 -1.9l-3.2 -.1l-3.2 .7l-3.3 1.5z"/>
<path color="#422ec0" d="M503.8 576.4l9.7 -7.3l.9 .1l-9.7 7.3z"/>
<path color="#402ab4" d="M487.6 586.8l6.4 -3.4l9.8 -7l.9 .1l-9.7 7.2l-6.5 3.6zM663.6 571.2l13 4.4l12.9 2.9l.9 1.2l-12.9 -2.8l-13 -4.2z"/>
<path color="#422ec0" d="M650.6 564.4l6.5 3.8l6.5 3l.9 1.5l-6.5 -2.9l-6.5 -3.6z"/>
<path color="#4332cb" d="M640.9 556.8l9.7 7.6l.9 1.8l-9.7 -7.4z"/>
<path color="#4537d5" d="M631.2 546.3l9.7 10.5l.9 2l-9.7 -10.2z"/>
<path color="#463cde" d="M624.7 537.7l6.5 8.6l.9 2.3l-6.5 -8.6z"/>
<path color="#4741e5" d="M621.4 533.1l3.3 4.6l.9 2.3l-3.3 -4.7z"/>
<path color="#4747eb" d="M614.9 524l6.5 9.1l.9 2.2l-6.4 -9.4z"/>
<path color="#484df0" d="M605.2 515.4l3.3 1.8l3.2 3l3.2 3.8l1 1.9l-6.5 -7.5l-3.3 -2.1z"/>
<path color="#4852f4" d="M598.7 516.3l3.3 -1.2l3.2 .3l.9 .9l-3.2 -.8l-3.3 .9z"/>
<path color="#484df0" d="M592.2 523.2l3.3 -4l3.2 -2.9l.9 .1l-3.2 2.5l-3.2 3.9z"/>
<path color="#4747eb" d="M585.8 533.6l6.4 -10.4l1 -.4l-6.5 10.3z"/>
<path color="#4741e5" d="M582.5 539.1l3.3 -5.5l.9 -.5l-3.3 5.6z"/>
<path color="#463cde" d="M576 549.5l6.5 -10.4l.9 -.4l-6.5 10.7z"/>
<path color="#4537d5" d="M569.5 558.1l6.5 -8.6l.9 -.1l-6.4 8.8z"/>
<path color="#4332cb" d="M559.8 567l6.5 -5.4l3.2 -3.5l1 .1l-3.3 3.6l-6.5 5.6z"/>
<path color="#422ec0" d="M530.6 569l9.8 2.8l6.4 .2l6.5 -1.5l6.5 -3.5l.9 .4l-6.5 3.6l-6.4 1.7l-6.5 -.2l-9.8 -2.9z"/>
<path color="#4332cb" d="M514.4 569.2l3.3 -1.5l3.2 -.7l3.2 .1l6.5 1.9l.9 .6l-6.4 -2l-3.3 -.3l-3.2 .5l-3.3 1.4z"/>
<path color="#422ec0" d="M501.4 579.1l13 -9.9l.9 0l-3.2 2.1l-9.7 8z"/>
<path color="#402ab4" d="M488.5 587.3l6.5 -3.6l6.4 -4.6l1 .2l-6.5 4.7l-6.5 3.7zM664.5 572.7l13 4.2l12.9 2.8l1 1.2l-13 -2.7l-13 -4z"/>
<path color="#422ec0" d="M648.3 564l6.5 4.1l9.7 4.6l.9 1.5l-9.7 -4.5l-6.5 -3.9z"/>
<path color="#4332cb" d="M638.6 555.8l9.7 8.2l.9 1.8l-9.7 -8z"/>
<path color="#4537d5" d="M632.1 548.6l6.5 7.2l.9 2l-6.5 -7z"/>
<path color="#463cde" d="M625.6 540l6.5 8.6l.9 2.2l-6.5 -8.5z"/>
<path color="#4741e5" d="M619.1 530.5l6.5 9.5l.9 2.3l-6.5 -9.6z"/>
<path color="#4747eb" d="M615.9 525.9l3.2 4.6l.9 2.2l-3.2 -4.8z"/>
<path color="#484df0" d="M606.1 516.3l3.3 2.1l6.5 7.5l.9 2l-6.5 -8.1l-3.3 -2.6z"/>
<path color="#4852f4" d="M599.6 516.4l3.3 -.9l3.2 .8l.9 .9l-3.2 -1.1l-3.2 .4z"/>
<path color="#484df0" d="M593.2 522.8l3.2 -3.9l3.2 -2.5l1 .1l-3.3 2.2l-3.2 3.7z"/>
<path color="#4747eb" d="M586.7 533.1l6.5 -10.3l.9 -.4l-6.5 10.2z"/>
<path color="#4741e5" d="M580.2 544.2l6.5 -11.1l.9 -.5l-6.5 11.3z"/>
<path color="#463cde" d="M576.9 549.4l3.3 -5.2l.9 -.3l-3.2 5.3z"/>
<path color="#4537d5" d="M570.5 558.2l6.4 -8.8l1 -.2l-6.5 9.1z"/>
<path color="#4332cb" d="M560.7 567.4l6.5 -5.6l3.3 -3.6l.9 .1l-3.3 3.7l-6.5 5.8z"/>
<path color="#422ec0" d="M557.5 569.5l3.2 -2.1l.9 .4l-3.2 2.1z"/>
<path color="#6858cc" d="M554.2 571l3.3 -1.5l.9 .4l-3.2 1.6z"/>
<path color="#422ec0" d="M531.5 569.6l6.5 2.3l6.5 .9l6.5 -.7l3.2 -1.1l1 .5l-3.3 1.2l-6.5 .8l-6.5 -.9l-6.4 -2.3z"/>
<path color="#4332cb" d="M512.1 571.3l3.2 -2.1l3.3 -1.4l3.2 -.5l3.3 .3l6.4 2l1 .7l-6.5 -2.3l-3.3 -.4l-3.2 .4l-3.2 1.3l-3.3 2z"/>
<path color="#422ec0" d="M502.4 579.3l9.7 -8l.9 0l-9.7 8.2z"/>
<path color="#402ab4" d="M489.4 587.7l6.5 -3.7l6.5 -4.7l.9 .2l-6.5 4.9l-6.5 3.7zM662.2 572.9l12.9 4.5l13 2.9l.9 1.2l-12.9 -2.8l-13 -4.3z"/>
<path color="#422ec0" d="M649.2 565.8l6.5 3.9l6.5 3.2l.9 1.5l-6.5 -3l-6.5 -3.8z"/>
<path color="#4332cb" d="M639.5 557.8l9.7 8l.9 1.8l-9.7 -7.7z"/>
<path color="#4537d5" d="M633 550.8l6.5 7l.9 2.1l-6.5 -6.9z"/>
<path color="#463cde" d="M626.5 542.3l6.5 8.5l.9 2.2l-6.5 -8.4z"/>
<path color="#4741e5" d="M620 532.7l6.5 9.6l.9 2.3l-6.5 -9.6z"/>
<path color="#4747eb" d="M613.5 523.5l6.5 9.2l.9 2.3l-6.5 -9.6z"/>
<path color="#484df0" d="M607 517.2l3.3 2.6l3.2 3.7l.9 1.9l-3.2 -4.1l-3.2 -3z"/>
<path color="#4852f4" d="M600.6 516.5l3.2 -.4l3.2 1.1l1 1.1l-3.3 -1.6l-3.2 .1z"/>
<path color="#484df0" d="M590.8 527.2l3.3 -4.8l3.2 -3.7l3.3 -2.2l.9 .3l-3.3 1.8l-3.2 3.4l-3.3 4.7z"/>
<path color="#4747eb" d="M587.6 532.6l3.2 -5.4l.9 -.5l-3.2 5.4z"/>
<path color="#4741e5" d="M581.1 543.9l6.5 -11.3l.9 -.5l-6.5 11.4z"/>
<path color="#463cde" d="M577.9 549.2l3.2 -5.3l.9 -.4l-3.2 5.5z"/>
<path color="#4537d5" d="M571.4 558.3l6.5 -9.1l.9 -.2l-6.5 9.3z"/>
<path color="#4332cb" d="M558.4 569.9l6.5 -4.7l6.5 -6.9l.9 0l-6.5 7.1l-6.5 5z"/>
<path color="#6858cc" d="M555.2 571.5l3.2 -1.6l.9 .5l-3.2 1.7z"/>
<path color="#422ec0" d="M532.5 570.3l6.4 2.3l6.5 .9l6.5 -.8l3.3 -1.2l.9 .6l-3.3 1.2l-6.4 .9l-6.5 -.8l-6.5 -2.4z"/>
<path color="#4332cb" d="M513 571.3l3.3 -2l3.2 -1.3l3.2 -.4l3.3 .4l6.5 2.3l.9 .7l-6.5 -2.5l-3.2 -.6l-3.3 .2l-3.2 1.2l-3.3 2z"/>
<path color="#422ec0" d="M503.3 579.5l9.7 -8.2l.9 0l-9.7 8.3z"/>
<path color="#402ab4" d="M490.3 588.1l6.5 -3.7l6.5 -4.9l.9 .1l-6.5 5.1l-6.5 3.9zM663.1 574.4l9.7 3.4l13 3.1l.9 1.2l-13 -3l-9.7 -3.2z"/>
<path color="#422ec0" d="M646.9 565.3l6.5 4.3l9.7 4.8l.9 1.5l-9.7 -4.6l-6.5 -4.1z"/>
<path color="#4332cb" d="M637.1 556.6l9.8 8.7l.9 1.9l-9.7 -8.4z"/>
<path color="#4537d5" d="M630.7 549l6.4 7.6l1 2.2l-6.5 -7.5z"/>
<path color="#463cde" d="M624.2 539.9l6.5 9.1l.9 2.3l-6.5 -9z"/>
<path color="#4741e5" d="M620.9 535l3.3 4.9l.9 2.4l-3.3 -5z"/>
<path color="#4747eb" d="M614.4 525.4l6.5 9.6l.9 2.3l-6.4 -10z"/>
<path color="#484df0" d="M608 518.3l3.2 3l3.2 4.1l1 1.9l-3.3 -4.3l-3.2 -3.5z"/>
<path color="#4852f4" d="M598.2 518.6l3.3 -1.8l3.2 -.1l3.3 1.6l.9 1.2l-3.3 -2l-3.2 -.4l-3.2 1.4z"/>
<path color="#484df0" d="M591.7 526.7l3.3 -4.7l3.2 -3.4l1 -.1l-3.3 3.1l-3.2 4.5z"/>
<path color="#4747eb" d="M585.3 537.8l6.4 -11.1l1 -.6l-6.5 11.2z"/>
<path color="#4741e5" d="M582 543.5l3.3 -5.7l.9 -.5l-3.3 5.9z"/>
<path color="#463cde" d="M575.5 553.9l6.5 -10.4l.9 -.3l-6.4 10.6z"/>
<path color="#4537d5" d="M569 562.2l6.5 -8.3l1 -.1l-6.5 8.5z"/>
<path color="#4332cb" d="M559.3 570.4l6.5 -5l3.2 -3.2l1 .1l-3.3 3.4l-6.5 5.1z"/>
<path color="#695bd5" d="M552.8 573.3l6.5 -2.9l.9 .4l-6.4 3z"/>
<path color="#422ec0" d="M533.4 571l6.5 2.4l3.2 .6l6.5 0l3.2 -.7l1 .5l-3.3 .8l-6.5 .1l-3.2 -.6l-6.5 -2.4z"/>
<path color="#4332cb" d="M513.9 571.3l3.3 -2l3.2 -1.2l3.3 -.2l3.2 .6l6.5 2.5l.9 .7l-6.5 -2.7l-3.2 -.8l-3.3 0l-3.2 1.1l-3.3 2z"/>
<path color="#422ec0" d="M504.2 579.6l9.7 -8.3l.9 0l-9.7 8.4z"/>
<path color="#402ab4" d="M488 590.1l9.7 -5.4l6.5 -5.1l.9 .1l-6.5 5.3l-9.7 5.6zM660.8 574.5l12.9 4.6l13 3l.9 1.3l-13 -2.9l-12.9 -4.4z"/>
<path color="#422ec0" d="M647.8 567.2l6.5 4.1l6.5 3.2l.9 1.6l-6.5 -3.2l-6.5 -3.9z"/>
<path color="#4332cb" d="M638.1 558.8l9.7 8.4l.9 1.8l-9.7 -8.1z"/>
<path color="#4537d5" d="M631.6 551.3l6.5 7.5l.9 2.1l-6.5 -7.3z"/>
<path color="#463cde" d="M625.1 542.3l6.5 9l.9 2.3l-6.5 -9z"/>
<path color="#4741e5" d="M621.8 537.3l3.3 5l.9 2.3l-3.2 -5z"/>
<path color="#4747eb" d="M615.4 527.3l6.4 10l1 2.3l-6.5 -10.2z"/>
<path color="#484df0" d="M608.9 519.5l3.2 3.5l3.3 4.3l.9 2.1l-6.5 -8.5z"/>
<path color="#4852f4" d="M599.2 518.5l3.2 -1.4l3.2 .4l3.3 2l.9 1.4l-3.2 -2.5l-3.3 -.9l-3.2 .9z"/>
<path color="#484df0" d="M592.7 526.1l3.2 -4.5l3.3 -3.1l.9 -.1l-3.3 2.9l-3.2 4.3z"/>
<path color="#4747eb" d="M586.2 537.3l6.5 -11.2l.9 -.5l-6.5 11.2z"/>
<path color="#4741e5" d="M582.9 543.2l3.3 -5.9l.9 -.5l-3.2 5.9z"/>
<path color="#463cde" d="M576.5 553.8l6.4 -10.6l1 -.5l-6.5 10.9z"/>
<path color="#4537d5" d="M570 562.3l6.5 -8.5l.9 -.2l-6.5 8.8z"/>
<path color="#4332cb" d="M560.2 570.8l6.5 -5.1l3.3 -3.4l.9 .1l-3.3 3.5l-6.4 5.3z"/>
<path color="#695bd5" d="M553.8 573.8l6.4 -3l1 .4l-6.5 3.2z"/>
<path color="#422ec0" d="M534.3 571.7l6.5 2.4l3.2 .6l6.5 -.1l3.3 -.8l.9 .6l-3.3 .8l-6.5 .3l-3.2 -.6l-6.5 -2.4z"/>
<path color="#4332cb" d="M511.6 573.9l6.5 -4.6l3.2 -1.1l3.3 0l3.2 .8l6.5 2.7l.9 .8l-6.5 -3l-3.2 -1l-3.3 -.1l-3.2 .9l-6.5 4.6z"/>
<path color="#422ec0" d="M501.9 582.5l9.7 -8.6l.9 0l-9.7 8.8z"/>
<path color="#402ab4" d="M488.9 590.6l6.5 -3.5l6.5 -4.6l.9 .2l-6.5 4.8l-6.5 3.5zM661.7 576.1l9.7 3.5l13 3.2l.9 1.2l-13 -3.1l-9.7 -3.3z"/>
<path color="#422ec0" d="M645.5 566.6l6.4 4.5l9.8 5l.9 1.5l-9.7 -4.8l-6.5 -4.3z"/>
<path color="#4332cb" d="M639 560.9l6.5 5.7l.9 1.9l-6.5 -5.5z"/>
<path color="#4537d5" d="M632.5 553.6l6.5 7.3l.9 2.1l-6.5 -7.1z"/>
<path color="#463cde" d="M626 544.6l6.5 9l.9 2.3l-6.5 -8.8z"/>
<path color="#4741e5" d="M619.5 534.5l6.5 10.1l.9 2.5l-6.5 -10.3z"/>
<path color="#4747eb" d="M616.3 529.4l3.2 5.1l.9 2.3l-3.2 -5.3z"/>
<path color="#484df0" d="M609.8 520.9l6.5 8.5l.9 2.1l-6.5 -9.1z"/>
<path color="#4852f4" d="M596.8 521.3l3.3 -2.9l3.2 -.9l3.3 .9l3.2 2.5l.9 1.5l-3.2 -3l-3.3 -1.4l-3.2 .5l-3.3 2.4z"/>
<path color="#484df0" d="M593.6 525.6l3.2 -4.3l.9 -.4l-3.2 4.1z"/>
<path color="#4747eb" d="M587.1 536.8l6.5 -11.2l.9 -.6l-6.5 11.2z"/>
<path color="#4741e5" d="M583.9 542.7l3.2 -5.9l.9 -.6l-3.2 6z"/>
<path color="#463cde" d="M577.4 553.6l6.5 -10.9l.9 -.5l-6.5 11.3z"/>
<path color="#4537d5" d="M570.9 562.4l6.5 -8.8l.9 -.1l-6.5 9z"/>
<path color="#4332cb" d="M561.2 571.2l6.4 -5.3l3.3 -3.5l.9 .1l-3.2 3.7l-6.5 5.4z"/>
<path color="#695bd5" d="M551.4 575.2l6.5 -2.1l3.3 -1.9l.9 .4l-3.3 2l-6.5 2.3z"/>
<path color="#422ec0" d="M535.2 572.5l6.5 2.4l3.2 .6l6.5 -.3l.9 .7l-6.4 .3l-3.3 -.6l-6.5 -2.4z"/>
<path color="#4332cb" d="M512.5 573.9l6.5 -4.6l3.2 -.9l3.3 .1l3.2 1l6.5 3l.9 .7l-6.5 -3.2l-3.2 -1.1l-3.2 -.3l-3.3 .7l-3.2 1.9l-3.3 2.6z"/>
<path color="#422ec0" d="M502.8 582.7l9.7 -8.8l.9 -.1l-9.7 9.1z"/>
<path color="#402ab4" d="M489.8 591l6.5 -3.5l6.5 -4.8l.9 .2l-6.5 4.9l-6.5 3.7zM659.4 576.2l9.7 3.7l13 3.4l.9 1.3l-13 -3.3l-9.7 -3.6z"/>
<path color="#422ec0" d="M646.4 568.5l6.5 4.3l6.5 3.4l.9 1.5l-6.5 -3.2l-6.5 -4.1z"/>
<path color="#4332cb" d="M636.7 559.6l9.7 8.9l.9 1.9l-9.7 -8.6z"/>
<path color="#4537d5" d="M630.2 551.7l6.5 7.9l.9 2.2l-6.5 -7.8z"/>
<path color="#463cde" d="M623.7 542.1l6.5 9.6l.9 2.3l-6.5 -9.5z"/>
<path color="#4741e5" d="M620.4 536.8l3.3 5.3l.9 2.4l-3.2 -5.3z"/>
<path color="#4747eb" d="M614 526.6l6.4 10.2l1 2.4l-6.5 -10.6z"/>
<path color="#484df0" d="M607.5 519.4l3.2 3l3.3 4.2l.9 2l-3.3 -4.6l-3.2 -3.5z"/>
<path color="#4852f4" d="M597.7 520.9l3.3 -2.4l3.2 -.5l3.3 1.4l.9 1.1l-3.3 -1.9l-3.2 0l-3.2 2z"/>
<path color="#484df0" d="M591.3 530.3l3.2 -5.3l3.2 -4.1l1 -.3l-3.3 3.9l-3.2 5.1z"/>
<path color="#4747eb" d="M588 536.2l3.3 -5.9l.9 -.7l-3.3 5.9z"/>
<path color="#4741e5" d="M581.5 548.1l6.5 -11.9l.9 -.7l-6.5 12.2z"/>
<path color="#463cde" d="M578.3 553.5l3.2 -5.4l.9 -.4l-3.2 5.5z"/>
<path color="#4537d5" d="M571.8 562.5l6.5 -9l.9 -.3l-6.5 9.4z"/>
<path color="#4332cb" d="M562.1 571.6l6.5 -5.4l3.2 -3.7l.9 .1l-3.2 3.8l-6.5 5.6z"/>
<path color="#695bd5" d="M552.3 575.9l6.5 -2.3l3.3 -2l.9 .4l-3.3 2l-6.4 2.5z"/>
<path color="#422ec0" d="M536.1 573.2l6.5 2.4l3.3 .6l6.4 -.3l1 .6l-6.5 .4l-3.3 -.5l-6.5 -2.4z"/>
<path color="#4332cb" d="M513.4 573.8l3.3 -2.6l3.2 -1.9l3.3 -.7l3.2 .3l3.2 1.1l6.5 3.2l.9 .8l-9.7 -4.7l-3.2 -.6l-3.3 .6l-3.2 1.8l-3.3 2.6z"/>
<path color="#422ec0" d="M503.7 582.9l9.7 -9.1l.9 -.1l-9.7 9.3z"/>
<path color="#402ab4" d="M490.7 591.5l6.5 -3.7l6.5 -4.9l.9 .1l-6.5 5.1l-6.5 3.8zM657 576.2l13 5.1l13 3.3l.9 1.2l-13 -3.1l-13 -4.9z"/>
<path color="#422ec0" d="M647.3 570.4l9.7 5.8l.9 1.6l-9.7 -5.6z"/>
<path color="#4332cb" d="M637.6 561.8l9.7 8.6l.9 1.8l-9.7 -8.2z"/>
<path color="#4537d5" d="M631.1 554l6.5 7.8l.9 2.2l-6.5 -7.6z"/>
<path color="#463cde" d="M624.6 544.5l6.5 9.5l.9 2.4l-6.5 -9.4z"/>
<path color="#4741e5" d="M621.4 539.2l3.2 5.3l.9 2.5l-3.2 -5.4z"/>
<path color="#4747eb" d="M614.9 528.6l6.5 10.6l.9 2.4l-6.5 -10.9z"/>
<path color="#484df0" d="M608.4 520.5l3.2 3.5l3.3 4.6l.9 2.1l-6.5 -8.9z"/>
<path color="#4852f4" d="M598.7 520.6l3.2 -2l3.2 0l3.3 1.9l.9 1.3l-3.2 -2.5l-3.3 -.5l-3.2 1.6z"/>
<path color="#484df0" d="M592.2 529.6l3.2 -5.1l3.3 -3.9l.9 -.2l-3.3 3.5l-3.2 5.1z"/>
<path color="#4747eb" d="M588.9 535.5l3.3 -5.9l.9 -.6l-3.3 5.9z"/>
<path color="#4741e5" d="M582.4 547.7l6.5 -12.2l.9 -.6l-6.4 12.3z"/>
<path color="#463cde" d="M579.2 553.2l3.2 -5.5l1 -.5l-3.3 5.8z"/>
<path color="#4537d5" d="M572.7 562.6l6.5 -9.4l.9 -.2l-6.5 9.7z"/>
<path color="#4332cb" d="M563 572l6.5 -5.6l3.2 -3.8l.9 .1l-3.2 3.8l-6.5 5.9z"/>
<path color="#695bd5" d="M553.3 576.5l6.4 -2.5l3.3 -2l.9 .4l-3.2 2.1l-6.5 2.6z"/>
<path color="#6858cc" d="M550 577l3.3 -.5l.9 .6l-3.3 .6z"/>
<path color="#422ec0" d="M537 574l6.5 2.4l6.5 .6l.9 .7l-6.5 -.5l-6.4 -2.4z"/>
<path color="#4332cb" d="M514.3 573.7l3.3 -2.6l3.2 -1.8l3.3 -.6l3.2 .6l9.7 4.7l1 .8l-9.8 -5.1l-3.2 -.8l-3.3 .4l-3.2 1.7l-3.2 2.6z"/>
<path color="#422ec0" d="M504.6 583l9.7 -9.3l1 -.1l-9.8 9.5z"/>
<path color="#402ab4" d="M491.6 591.9l6.5 -3.8l6.5 -5.1l.9 .1l-6.5 5.3l-6.4 4zM657.9 577.8l9.8 3.9l12.9 3.5l1 1.2l-13 -3.3l-9.7 -3.7z"/>
<path color="#422ec0" d="M645 569.8l6.5 4.5l6.4 3.5l1 1.6l-6.5 -3.4l-6.5 -4.3z"/>
<path color="#4332cb" d="M635.2 560.4l9.8 9.4l.9 1.9l-9.7 -9.1z"/>
<path color="#4537d5" d="M628.8 551.9l6.4 8.5l1 2.2l-6.5 -8.3z"/>
<path color="#463cde" d="M625.5 547l3.3 4.9l.9 2.4l-3.3 -4.9z"/>
<path color="#4741e5" d="M619 536.1l6.5 10.9l.9 2.4l-6.5 -10.9z"/>
<path color="#4747eb" d="M615.8 530.7l3.2 5.4l.9 2.4l-3.2 -5.6z"/>
<path color="#484df0" d="M609.3 521.8l6.5 8.9l.9 2.2l-6.5 -9.7z"/>
<path color="#4852f4" d="M599.6 520.4l3.2 -1.6l3.3 .5l3.2 2.5l.9 1.4l-3.2 -3l-3.3 -1.1l-3.2 1.1z"/>
<path color="#484df0" d="M593.1 529l3.2 -5.1l3.3 -3.5l.9 -.2l-3.3 3.2l-3.2 4.8z"/>
<path color="#4747eb" d="M586.6 541.1l6.5 -12.1l.9 -.8l-6.5 12.2z"/>
<path color="#4741e5" d="M583.4 547.2l3.2 -6.1l.9 -.7l-3.2 6.3z"/>
<path color="#463cde" d="M576.9 558.1l6.5 -10.9l.9 -.5l-6.5 11.3z"/>
<path color="#4537d5" d="M573.6 562.7l3.3 -4.6l.9 -.1l-3.3 4.7z"/>
<path color="#4332cb" d="M563.9 572.4l6.5 -5.9l3.2 -3.8l.9 0l-3.2 4l-6.5 6.1z"/>
<path color="#695bd5" d="M560.7 574.5l3.2 -2.1l.9 .4l-3.2 2.2z"/>
<path color="#6a5fde" d="M554.2 577.1l6.5 -2.6l.9 .5l-6.5 2.7z"/>
<path color="#695bd5" d="M550.9 577.7l3.3 -.6l.9 .6l-3.3 .6z"/>
<path color="#422ec0" d="M538 574.8l6.4 2.4l6.5 .5l.9 .6l-6.4 -.3l-6.5 -2.4z"/>
<path color="#4332cb" d="M512 576.7l6.5 -5.7l3.2 -1.7l3.3 -.4l3.2 .8l9.8 5.1l.9 .8l-9.8 -5.5l-3.2 -.9l-3.2 .2l-3.3 1.4l-6.5 5.8z"/>
<path color="#422ec0" d="M505.5 583.1l6.5 -6.4l.9 -.1l-6.4 6.6z"/>
<path color="#402ab4" d="M489.3 593.9l9.7 -5.5l6.5 -5.3l1 .1l-6.5 5.5l-9.8 5.7zM655.6 577.8l9.7 4.2l13 3.7l.9 1.3l-12.9 -3.6l-9.8 -4z"/>
<path color="#422ec0" d="M645.9 571.7l9.7 6.1l.9 1.6l-9.7 -5.8z"/>
<path color="#4332cb" d="M636.2 562.6l9.7 9.1l.9 1.9l-9.7 -8.8z"/>
<path color="#4537d5" d="M629.7 554.3l6.5 8.3l.9 2.2l-6.5 -8z"/>
<path color="#463cde" d="M623.2 544.1l6.5 10.2l.9 2.5l-6.5 -10.2z"/>
<path color="#4741e5" d="M619.9 538.5l3.3 5.6l.9 2.5l-3.2 -5.6z"/>
<path color="#4747eb" d="M616.7 532.9l3.2 5.6l1 2.5l-3.3 -5.8z"/>
<path color="#484df0" d="M610.2 523.2l6.5 9.7l.9 2.3l-6.5 -10.5z"/>
<path color="#4852f4" d="M597.2 523.4l3.3 -3.2l3.2 -1.1l3.3 1.1l3.2 3l.9 1.5l-3.2 -3.5l-3.3 -1.6l-3.2 .5l-3.2 2.8z"/>
<path color="#484df0" d="M594 528.2l3.2 -4.8l1 -.5l-3.3 4.6z"/>
<path color="#4747eb" d="M587.5 540.4l6.5 -12.2l.9 -.7l-6.5 12.2z"/>
<path color="#4741e5" d="M584.3 546.7l3.2 -6.3l.9 -.7l-3.2 6.5z"/>
<path color="#463cde" d="M577.8 558l6.5 -11.3l.9 -.5l-6.5 11.6z"/>
<path color="#4537d5" d="M571.3 566.7l6.5 -8.7l.9 -.2l-6.5 9z"/>
<path color="#4332cb" d="M564.8 572.8l6.5 -6.1l.9 .1l-6.5 6.4z"/>
<path color="#695bd5" d="M561.6 575l3.2 -2.2l.9 .4l-3.2 2.3z"/>
<path color="#6a5fde" d="M555.1 577.7l6.5 -2.7l.9 .5l-6.5 2.9z"/>
<path color="#695bd5" d="M551.8 578.3l3.3 -.6l.9 .7l-3.2 .6z"/>
<path color="#422ec0" d="M538.9 575.6l6.5 2.4l6.4 .3l1 .7l-6.5 -.2l-6.5 -2.4z"/>
<path color="#4332cb" d="M512.9 576.6l6.5 -5.8l3.3 -1.4l3.2 -.2l3.2 .9l9.8 5.5l.9 .8l-9.7 -5.8l-3.3 -1.2l-3.2 0l-3.3 1.3l-6.4 5.8z"/>
<path color="#422ec0" d="M503.2 586.2l9.7 -9.6l1 -.1l-9.8 9.9z"/>
<path color="#402ab4" d="M490.2 594.4l6.5 -3.5l6.5 -4.7l.9 .2l-6.5 4.9l-6.4 3.6zM656.5 579.4l9.8 4l12.9 3.6l.9 1.3l-12.9 -3.4l-9.8 -3.9z"/>
<path color="#422ec0" d="M643.6 571.1l6.4 4.7l6.5 3.6l.9 1.6l-6.4 -3.5l-6.5 -4.5z"/>
<path color="#4332cb" d="M637.1 564.8l6.5 6.3l.9 1.9l-6.5 -6z"/>
<path color="#4537d5" d="M630.6 556.8l6.5 8l.9 2.2l-6.5 -7.8z"/>
<path color="#463cde" d="M624.1 546.6l6.5 10.2l.9 2.4l-6.5 -10z"/>
<path color="#4741e5" d="M620.9 541l3.2 5.6l.9 2.6l-3.2 -5.7z"/>
<path color="#4747eb" d="M614.4 529.6l6.5 11.4l.9 2.5l-6.5 -11.8z"/>
<path color="#484df0" d="M611.1 524.7l3.3 4.9l.9 2.1l-3.3 -5.3z"/>
<path color="#4852f4" d="M598.2 522.9l3.2 -2.8l3.2 -.5l3.3 1.6l3.2 3.5l.9 1.7l-3.2 -4l-3.2 -2.3l-3.3 0l-3.2 2.3z"/>
<path color="#484df0" d="M591.7 533.3l3.2 -5.8l3.3 -4.6l.9 -.5l-3.3 4.4l-3.2 5.7z"/>
<path color="#4747eb" d="M588.4 539.7l3.3 -6.4l.9 -.8l-3.2 6.5z"/>
<path color="#4741e5" d="M585.2 546.2l3.2 -6.5l1 -.7l-3.3 6.6z"/>
<path color="#463cde" d="M578.7 557.8l6.5 -11.6l.9 -.6l-6.5 11.9z"/>
<path color="#4537d5" d="M572.2 566.8l6.5 -9l.9 -.3l-6.5 9.4z"/>
<path color="#4332cb" d="M565.7 573.2l6.5 -6.4l.9 .1l-6.4 6.6z"/>
<path color="#695bd5" d="M562.5 575.5l3.2 -2.3l1 .3l-3.3 2.4z"/>
<path color="#6a5fde" d="M552.8 579l6.4 -1.8l3.3 -1.7l.9 .4l-3.2 1.8l-6.5 2z"/>
<path color="#695bd5" d="M549.5 579.2l3.3 -.2l.9 .7l-3.3 .2z"/>
<path color="#422ec0" d="M539.8 576.4l6.5 2.4l3.2 .4l.9 .7l-3.2 -.3l-6.5 -2.4z"/>
<path color="#4332cb" d="M513.9 576.5l6.4 -5.8l3.3 -1.3l3.2 0l3.3 1.2l9.7 5.8l.9 .8l-9.7 -6.1l-3.3 -1.4l-3.2 -.3l-3.2 1.1l-3.3 2.5l-3.2 3.3z"/>
<path color="#422ec0" d="M504.1 586.4l9.8 -9.9l.9 -.2l-9.8 10.3z"/>
<path color="#402ab4" d="M491.2 594.9l6.4 -3.6l6.5 -4.9l.9 .2l-6.4 5.1l-6.5 3.7zM654.2 579.4l9.7 4.3l13 3.8l.9 1.3l-13 -3.6l-9.7 -4.2z"/>
<path color="#422ec0" d="M644.5 573l9.7 6.4l.9 1.6l-9.7 -6.1z"/>
<path color="#4332cb" d="M634.7 563.3l3.3 3.7l6.5 6l.9 1.9l-6.5 -5.7l-3.2 -3.6z"/>
<path color="#4537d5" d="M628.3 554.4l6.4 8.9l1 2.3l-6.5 -8.7z"/>
<path color="#463cde" d="M625 549.2l3.3 5.2l.9 2.5l-3.3 -5.1z"/>
<path color="#4741e5" d="M618.5 537.6l6.5 11.6l.9 2.6l-6.4 -11.8z"/>
<path color="#4747eb" d="M615.3 531.7l3.2 5.9l1 2.4l-3.3 -6.1z"/>
<path color="#484df0" d="M608.8 522.4l3.2 4l3.3 5.3l.9 2.2l-6.5 -10.2z"/>
<path color="#4852f4" d="M599.1 522.4l3.2 -2.3l3.3 0l3.2 2.3l.9 1.3l-3.2 -2.9l-3.3 -.6l-3.2 1.8z"/>
<path color="#484df0" d="M592.6 532.5l3.2 -5.7l3.3 -4.4l.9 -.4l-3.2 4l-3.3 5.6z"/>
<path color="#4747eb" d="M589.4 539l3.2 -6.5l.9 -.9l-3.2 6.5z"/>
<path color="#4741e5" d="M582.9 551.8l6.5 -12.8l.9 -.9l-6.5 13.2z"/>
<path color="#463cde" d="M579.6 557.5l3.3 -5.7l.9 -.5l-3.3 6z"/>
<path color="#4537d5" d="M573.1 566.9l6.5 -9.4l.9 -.2l-6.4 9.7z"/>
<path color="#4332cb" d="M566.7 573.5l6.4 -6.6l1 .1l-6.5 6.9z"/>
<path color="#695bd5" d="M563.4 575.9l3.3 -2.4l.9 .4l-3.3 2.4z"/>
<path color="#6a5fde" d="M553.7 579.7l6.5 -2l3.2 -1.8l.9 .4l-3.2 1.9l-6.5 2.2z"/>
<path color="#695bd5" d="M550.4 579.9l3.3 -.2l.9 .7l-3.2 .2z"/>
<path color="#422ec0" d="M540.7 577.2l6.5 2.4l3.2 .3l1 .7l-3.3 -.2l-6.5 -2.3z"/>
<path color="#4332cb" d="M527.7 569.7l3.3 1.4l9.7 6.1l.9 .9l-12.9 -8.1z"/>
<path color="#4537d5" d="M524.5 569.4l3.2 .3l1 .3l-3.3 -.6z"/>
<path color="#4332cb" d="M514.8 576.3l3.2 -3.3l3.3 -2.5l3.2 -1.1l.9 0l-3.2 1l-3.3 2.3l-3.2 3.4z"/>
<path color="#422ec0" d="M505 586.6l9.8 -10.3l.9 -.2l-9.7 10.6z"/>
<path color="#402ab4" d="M492.1 595.4l6.5 -3.7l6.4 -5.1l1 .1l-6.5 5.3l-6.5 3.8zM655.1 581l9.7 4.2l9.8 2.9l.9 1.3l-9.7 -2.8l-9.8 -3.9z"/>
<path color="#422ec0" d="M642.1 572.2l6.5 5l6.5 3.8l.9 1.7l-6.4 -3.7l-6.5 -4.8z"/>
<path color="#4332cb" d="M635.7 565.6l6.4 6.6l1 2l-6.5 -6.4z"/>
<path color="#4537d5" d="M629.2 556.9l6.5 8.7l.9 2.2l-6.5 -8.4z"/>
<path color="#463cde" d="M625.9 551.8l3.3 5.1l.9 2.5l-3.2 -5.1z"/>
<path color="#4741e5" d="M619.5 540l6.4 11.8l1 2.5l-6.5 -11.7z"/>
<path color="#4747eb" d="M616.2 533.9l3.3 6.1l.9 2.6l-3.3 -6.3z"/>
<path color="#484df0" d="M609.7 523.7l6.5 10.2l.9 2.4l-6.5 -11.1z"/>
<path color="#4852f4" d="M596.8 526l3.2 -4l3.2 -1.8l3.3 .6l3.2 2.9l.9 1.5l-3.2 -3.5l-3.2 -1.3l-3.3 1.2l-3.2 3.6z"/>
<path color="#484df0" d="M593.5 531.6l3.3 -5.6l.9 -.8l-3.3 5.5z"/>
<path color="#4747eb" d="M587 544.9l6.5 -13.3l.9 -.9l-6.5 13.4z"/>
<path color="#4741e5" d="M583.8 551.3l3.2 -6.4l.9 -.8l-3.2 6.7z"/>
<path color="#463cde" d="M580.5 557.3l3.3 -6l.9 -.5l-3.2 6.1z"/>
<path color="#4537d5" d="M574.1 567l6.4 -9.7l1 -.4l-6.5 10.1z"/>
<path color="#4332cb" d="M567.6 573.9l6.5 -6.9l.9 0l-6.5 7.2z"/>
<path color="#695bd5" d="M564.3 576.3l3.3 -2.4l.9 .3l-3.3 2.6z"/>
<path color="#6a5fde" d="M557.8 579.6l6.5 -3.3l.9 .5l-6.4 3.4z"/>
<path color="#6b63e5" d="M554.6 580.4l3.2 -.8l1 .6l-3.3 .8z"/>
<path color="#6a5fde" d="M551.4 580.6l3.2 -.2l.9 .6l-3.2 .4z"/>
<path color="#6858cc" d="M548.1 580.4l3.3 .2l.9 .8l-3.3 -.2z"/>
<path color="#422ec0" d="M541.6 578.1l6.5 2.3l.9 .8l-6.5 -2.2z"/>
<path color="#4332cb" d="M528.7 570l12.9 8.1l.9 .9l-12.9 -8.7z"/>
<path color="#4537d5" d="M522.2 570.4l3.2 -1l3.3 .6l.9 .3l-3.3 -.8l-3.2 .7z"/>
<path color="#4332cb" d="M512.4 579.8l6.5 -7.1l3.3 -2.3l.9 -.2l-3.3 2.3l-6.4 7.1z"/>
<path color="#422ec0" d="M506 586.7l6.4 -6.9l1 -.2l-6.5 7.3z"/>
<path color="#402ab4" d="M493 595.8l6.5 -3.8l6.5 -5.3l.9 .2l-6.5 5.5l-6.5 3.9zM652.8 581l9.7 4.5l13 3.9l.9 1.3l-13 -3.8l-9.7 -4.3z"/>
<path color="#422ec0" d="M643.1 574.2l9.7 6.8l.9 1.6l-9.7 -6.4z"/>
<path color="#4332cb" d="M633.3 563.9l3.3 3.9l6.5 6.4l.9 2l-6.5 -6.2l-3.2 -3.8z"/>
<path color="#4537d5" d="M630.1 559.4l3.2 4.5l1 2.3l-3.3 -4.3z"/>
<path color="#463cde" d="M623.6 548.7l6.5 10.7l.9 2.5l-6.5 -10.6z"/>
<path color="#4741e5" d="M620.4 542.6l3.2 6.1l.9 2.6l-3.2 -6.1z"/>
<path color="#4747eb" d="M617.1 536.3l3.3 6.3l.9 2.6l-3.3 -6.5z"/>
<path color="#484df0" d="M610.6 525.2l6.5 11.1l.9 2.4l-6.4 -11.9z"/>
<path color="#4852f4" d="M597.7 525.2l3.2 -3.6l3.3 -1.2l3.2 1.3l3.2 3.5l1 1.6l-3.3 -4.1l-3.2 -2l-3.3 .6l-3.2 3.2z"/>
<path color="#484df0" d="M591.2 537.2l6.5 -12l.9 -.7l-3.3 5.2l-3.2 6.5z"/>
<path color="#4747eb" d="M587.9 544.1l3.3 -6.9l.9 -1l-3.2 7z"/>
<path color="#4741e5" d="M584.7 550.8l3.2 -6.7l1 -.9l-3.3 6.9z"/>
<path color="#463cde" d="M581.5 556.9l3.2 -6.1l.9 -.7l-3.2 6.4z"/>
<path color="#4537d5" d="M575 567l6.5 -10.1l.9 -.4l-6.5 10.5z"/>
<path color="#4332cb" d="M568.5 574.2l6.5 -7.2l.9 0l-6.5 7.5z"/>
<path color="#695bd5" d="M565.2 576.8l3.3 -2.6l.9 .3l-3.2 2.7z"/>
<path color="#6a5fde" d="M558.8 580.2l6.4 -3.4l1 .4l-6.5 3.6z"/>
<path color="#6b63e5" d="M555.5 581l3.3 -.8l.9 .6l-3.3 .9z"/>
<path color="#6a5fde" d="M552.3 581.4l3.2 -.4l.9 .7l-3.2 .4z"/>
<path color="#695bd5" d="M549 581.2l3.3 .2l.9 .7l-3.3 -.1z"/>
<path color="#422ec0" d="M542.5 579l6.5 2.2l.9 .8l-6.4 -2.2z"/>
<path color="#4332cb" d="M529.6 570.3l12.9 8.7l1 .8l-13 -9.1z"/>
<path color="#4537d5" d="M523.1 570.2l3.2 -.7l3.3 .8l.9 .4l-3.3 -1.2l-3.2 .5z"/>
<path color="#4332cb" d="M513.4 579.6l6.4 -7.1l3.3 -2.3l.9 -.2l-3.2 2.1l-6.5 7.3z"/>
<path color="#422ec0" d="M506.9 586.9l6.5 -7.3l.9 -.2l-6.5 7.6z"/>
<path color="#402ab4" d="M493.9 596.3l6.5 -3.9l6.5 -5.5l.9 .1l-6.5 5.7l-6.5 4.1zM653.7 582.6l9.7 4.3l9.8 3l.9 1.3l-9.7 -2.8l-9.8 -4.1z"/>
<path color="#422ec0" d="M640.7 573.3l6.5 5.3l6.5 4l.9 1.7l-6.5 -3.8l-6.4 -5.1z"/>
<path color="#4332cb" d="M634.3 566.2l6.4 7.1l1 2.1l-6.5 -6.9z"/>
<path color="#4537d5" d="M627.8 556.9l6.5 9.3l.9 2.3l-6.5 -9.1z"/>
<path color="#463cde" d="M624.5 551.3l3.3 5.6l.9 2.5l-3.3 -5.5z"/>
<path color="#4741e5" d="M621.3 545.2l3.2 6.1l.9 2.6l-3.2 -6.1z"/>
<path color="#4747eb" d="M614.8 532.4l6.5 12.8l.9 2.6l-6.5 -13.1z"/>
<path color="#484df0" d="M611.6 526.8l3.2 5.6l.9 2.3l-3.2 -6.1z"/>
<path color="#4852f4" d="M598.6 524.5l3.2 -3.2l3.3 -.6l3.2 2l3.3 4.1l.9 1.8l-3.3 -4.8l-3.2 -2.7l-3.3 -.1l-3.2 2.7z"/>
<path color="#484df0" d="M592.1 536.2l3.2 -6.5l3.3 -5.2l.9 -.8l-3.2 5l-3.3 6.5z"/>
<path color="#4747eb" d="M588.9 543.2l3.2 -7l.9 -1l-3.2 7.1z"/>
<path color="#4741e5" d="M585.6 550.1l3.3 -6.9l.9 -.9l-3.3 7.1z"/>
<path color="#463cde" d="M579.1 562.1l6.5 -12l.9 -.7l-6.5 12.5z"/>
<path color="#4537d5" d="M575.9 567l3.2 -4.9l.9 -.2l-3.2 5z"/>
<path color="#4332cb" d="M566.2 577.2l6.4 -6.1l3.3 -4.1l.9 -.1l-3.2 4.3l-6.5 6.4z"/>
<path color="#6a5fde" d="M562.9 579.2l3.3 -2l.9 .4l-3.3 2.1z"/>
<path color="#6b63e5" d="M553.2 582.1l6.5 -1.3l3.2 -1.6l.9 .5l-3.2 1.6l-6.5 1.6z"/>
<path color="#695bd5" d="M549.9 582l3.3 .1l.9 .8l-3.2 -.1z"/>
<path color="#422ec0" d="M543.5 579.8l6.4 2.2l1 .8l-6.5 -2.1z"/>
<path color="#4332cb" d="M533.7 572.9l9.8 6.9l.9 .9l-3.3 -1.9l-6.5 -5.2z"/>
<path color="#4537d5" d="M520.8 572.1l3.2 -2.1l3.2 -.5l3.3 1.2l3.2 2.2l.9 .7l-3.2 -2.5l-3.2 -1.5l-3.3 .2l-3.2 2z"/>
<path color="#4332cb" d="M514.3 579.4l6.5 -7.3l.9 -.3l-6.5 7.4z"/>
<path color="#422ec0" d="M504.5 590.1l9.8 -10.7l.9 -.2l-9.7 11.1z"/>
<path color="#402ab4" d="M491.6 598.4l6.5 -3.4l6.4 -4.9l1 .2l-6.5 5.1l-6.5 3.5zM651.4 582.5l9.7 4.7l9.7 3.2l1 1.3l-9.8 -3l-9.7 -4.5z"/>
<path color="#422ec0" d="M641.7 575.4l9.7 7.1l.9 1.7l-9.7 -6.8z"/>
<path color="#4332cb" d="M635.2 568.5l6.5 6.9l.9 2l-6.5 -6.6z"/>
<path color="#4537d5" d="M628.7 559.4l6.5 9.1l.9 2.3l-6.5 -8.8z"/>
<path color="#463cde" d="M625.4 553.9l3.3 5.5l.9 2.6l-3.2 -5.4z"/>
<path color="#4741e5" d="M619 541.3l6.4 12.6l1 2.7l-6.5 -12.7z"/>
<path color="#4747eb" d="M615.7 534.7l3.3 6.6l.9 2.6l-3.3 -6.8z"/>
<path color="#484df0" d="M612.5 528.6l3.2 6.1l.9 2.4l-3.2 -6.5z"/>
<path color="#4852f4" d="M596.3 528.7l3.2 -5l3.2 -2.7l3.3 .1l3.2 2.7l3.3 4.8l.9 2l-3.3 -5.4l-3.2 -3.5l-3.2 -.8l-3.3 2.1l-3.2 4.6z"/>
<path color="#484df0" d="M593 535.2l3.3 -6.5l.9 -1.1l-3.3 6.4z"/>
<path color="#4747eb" d="M589.8 542.3l3.2 -7.1l.9 -1.2l-3.2 7.3z"/>
<path color="#4741e5" d="M586.5 549.4l3.3 -7.1l.9 -1l-3.3 7.3z"/>
<path color="#463cde" d="M580 561.9l6.5 -12.5l.9 -.8l-6.4 13z"/>
<path color="#4537d5" d="M573.6 571.2l6.4 -9.3l1 -.3l-6.5 9.7z"/>
<path color="#4332cb" d="M567.1 577.6l6.5 -6.4l.9 .1l-6.5 6.6z"/>
<path color="#695bd5" d="M563.8 579.7l3.3 -2.1l.9 .3l-3.3 2.3z"/>
<path color="#6b63e5" d="M554.1 582.9l6.5 -1.6l3.2 -1.6l.9 .5l-3.2 1.7l-6.5 1.7z"/>
<path color="#6a5fde" d="M550.9 582.8l3.2 .1l.9 .7l-3.2 0z"/>
<path color="#6858cc" d="M547.6 582.1l3.3 .7l.9 .8l-3.3 -.7z"/>
<path color="#422ec0" d="M544.4 580.7l3.2 1.4l.9 .8l-3.2 -1.3z"/>
<path color="#4332cb" d="M534.6 573.6l6.5 5.2l3.3 1.9l.9 .9l-3.3 -1.9l-6.4 -5.4z"/>
<path color="#4537d5" d="M521.7 571.8l3.2 -2l3.3 -.2l3.2 1.5l3.2 2.5l1 .7l-3.3 -2.7l-3.2 -1.8l-3.3 -.2l-3.2 1.8z"/>
<path color="#4332cb" d="M515.2 579.2l6.5 -7.4l.9 -.4l-6.5 7.5z"/>
<path color="#422ec0" d="M505.5 590.3l9.7 -11.1l.9 -.3l-9.7 11.6z"/>
<path color="#402ab4" d="M492.5 598.9l6.5 -3.5l6.5 -5.1l.9 .2l-6.5 5.3l-6.5 3.7zM652.3 584.2l9.7 4.5l9.8 3l.9 1.3l-9.8 -2.9l-9.7 -4.2z"/>
<path color="#422ec0" d="M642.6 577.4l9.7 6.8l.9 1.7l-9.7 -6.6z"/>
<path color="#4332cb" d="M632.8 566.7l3.3 4.1l6.5 6.6l.9 1.9l-6.5 -6.3l-3.2 -3.9z"/>
<path color="#4537d5" d="M629.6 562l3.2 4.7l1 2.4l-3.3 -4.6z"/>
<path color="#463cde" d="M623.1 550.5l6.5 11.5l.9 2.5l-6.5 -11.3z"/>
<path color="#4741e5" d="M619.9 543.9l3.2 6.6l.9 2.7l-3.2 -6.6z"/>
<path color="#4747eb" d="M616.6 537.1l3.3 6.8l.9 2.7l-3.3 -7z"/>
<path color="#484df0" d="M613.4 530.6l3.2 6.5l.9 2.5l-3.2 -6.9z"/>
<path color="#4852f4" d="M597.2 527.6l3.2 -4.6l3.3 -2.1l3.2 .8l3.2 3.5l3.3 5.4l.9 2.1l-3.2 -6l-3.3 -4.2l-3.2 -1.6l-3.3 1.4l-3.2 4.2z"/>
<path color="#484df0" d="M593.9 534l3.3 -6.4l.9 -1.1l-3.3 6.3z"/>
<path color="#4747eb" d="M590.7 541.3l3.2 -7.3l.9 -1.2l-3.2 7.3z"/>
<path color="#4741e5" d="M584.2 555.4l6.5 -14.1l.9 -1.2l-6.5 14.7z"/>
<path color="#463cde" d="M581 561.6l3.2 -6.2l.9 -.6l-3.2 6.4z"/>
<path color="#4537d5" d="M574.5 571.3l6.5 -9.7l.9 -.4l-6.5 10.2z"/>
<path color="#4332cb" d="M568 577.9l6.5 -6.6l.9 .1l-6.5 6.9z"/>
<path color="#695bd5" d="M564.7 580.2l3.3 -2.3l.9 .4l-3.2 2.4z"/>
<path color="#6b63e5" d="M555 583.6l6.5 -1.7l3.2 -1.7l1 .5l-3.3 1.8l-6.5 1.8z"/>
<path color="#6a5fde" d="M551.8 583.6l3.2 0l.9 .7l-3.2 .1z"/>
<path color="#695bd5" d="M548.5 582.9l3.3 .7l.9 .8l-3.2 -.6z"/>
<path color="#422ec0" d="M545.3 581.6l3.2 1.3l1 .9l-3.3 -1.2z"/>
<path color="#4332cb" d="M535.6 574.3l6.4 5.4l3.3 1.9l.9 1l-3.2 -2l-6.5 -5.5z"/>
<path color="#4537d5" d="M519.3 574.8l3.3 -3.4l3.2 -1.8l3.3 .2l3.2 1.8l3.3 2.7l.9 .8l-3.3 -3l-3.2 -2.2l-3.2 -.5l-3.3 1.6l-3.2 3.3z"/>
<path color="#4332cb" d="M512.9 583.2l6.4 -8.4l1 -.5l-6.5 8.7z"/>
<path color="#422ec0" d="M506.4 590.5l6.5 -7.3l.9 -.2l-6.5 7.7z"/>
<path color="#402ab4" d="M493.4 599.5l6.5 -3.7l6.5 -5.3l.9 .2l-6.5 5.5l-6.5 3.8zM650 584l9.7 4.9l9.7 3.3l.9 1.3l-9.7 -3.1l-9.7 -4.7z"/>
<path color="#422ec0" d="M640.2 576.4l3.3 2.9l6.5 4.7l.9 1.7l-9.7 -7.2z"/>
<path color="#4332cb" d="M633.8 569.1l6.4 7.3l1 2.1l-6.5 -7.1z"/>
<path color="#4537d5" d="M627.3 559.2l6.5 9.9l.9 2.3l-6.5 -9.6z"/>
<path color="#463cde" d="M624 553.2l3.3 6l.9 2.6l-3.3 -5.9z"/>
<path color="#4741e5" d="M620.8 546.6l3.2 6.6l.9 2.7l-3.2 -6.6z"/>
<path color="#4747eb" d="M617.5 539.6l3.3 7l.9 2.7l-3.2 -7.1z"/>
<path color="#484df0" d="M611.1 526.7l6.4 12.9l1 2.6l-6.5 -13.8z"/>
<path color="#4852f4" d="M598.1 526.5l3.2 -4.2l3.3 -1.4l3.2 1.6l3.3 4.2l.9 1.7l-3.3 -4.9l-3.2 -2.5l-3.3 .7l-3.2 3.7z"/>
<path color="#484df0" d="M591.6 540.1l6.5 -13.6l.9 -1.1l-6.5 13.5z"/>
<path color="#4747eb" d="M588.4 547.7l3.2 -7.6l.9 -1.2l-3.2 7.7z"/>
<path color="#4741e5" d="M585.1 554.8l3.3 -7.1l.9 -1.1l-3.3 7.4z"/>
<path color="#463cde" d="M581.9 561.2l3.2 -6.4l.9 -.8l-3.2 6.7z"/>
<path color="#4537d5" d="M575.4 571.4l6.5 -10.2l.9 -.5l-6.5 10.7z"/>
<path color="#4332cb" d="M568.9 578.3l6.5 -6.9l.9 0l-6.5 7.2z"/>
<path color="#695bd5" d="M565.7 580.7l3.2 -2.4l.9 .3l-3.2 2.5z"/>
<path color="#6b63e5" d="M555.9 584.3l6.5 -1.8l3.3 -1.8l.9 .4l-3.3 1.9l-6.4 2z"/>
<path color="#6a5fde" d="M552.7 584.4l3.2 -.1l1 .7l-3.3 .2z"/>
<path color="#695bd5" d="M549.5 583.8l3.2 .6l.9 .8l-3.2 -.5z"/>
<path color="#422ec0" d="M546.2 582.6l3.3 1.2l.9 .9l-3.3 -1.2z"/>
<path color="#4332cb" d="M536.5 575.1l6.5 5.5l3.2 2l.9 .9l-3.2 -1.9l-6.5 -5.7z"/>
<path color="#4537d5" d="M520.3 574.3l3.2 -3.3l3.3 -1.6l3.2 .5l3.2 2.2l3.3 3l.9 .8l-6.5 -5.7l-3.2 -.9l-3.3 1.3l-3.2 3.2z"/>
<path color="#4332cb" d="M513.8 583l6.5 -8.7l.9 -.5l-6.5 9z"/>
<path color="#422ec0" d="M507.3 590.7l6.5 -7.7l.9 -.2l-6.5 8.1z"/>
<path color="#402ab4" d="M494.3 600l6.5 -3.8l6.5 -5.5l.9 .2l-6.5 5.7l-6.5 3.9zM650.9 585.7l9.7 4.7l9.7 3.1l1 1.4l-9.8 -3l-9.7 -4.5z"/>
<path color="#422ec0" d="M641.2 578.5l9.7 7.2l.9 1.7l-9.7 -6.9z"/>
<path color="#4332cb" d="M634.7 571.4l6.5 7.1l.9 2l-6.5 -6.8z"/>
<path color="#4537d5" d="M628.2 561.8l6.5 9.6l.9 2.3l-6.5 -9.3z"/>
<path color="#463cde" d="M624.9 555.9l3.3 5.9l.9 2.6l-3.2 -5.8z"/>
<path color="#4741e5" d="M618.5 542.2l6.4 13.7l1 2.7l-6.5 -13.7z"/>
<path color="#4747eb" d="M615.2 535l3.3 7.2l.9 2.7l-3.3 -7.5z"/>
<path color="#484df0" d="M612 528.4l3.2 6.6l.9 2.4l-3.2 -7z"/>
<path color="#4852f4" d="M605.5 521l3.2 2.5l3.3 4.9l.9 2l-3.2 -5.8l-3.3 -3.3z"/>
<path color="#4758f8" d="M602.2 521.7l3.3 -.7l.9 .3l-3.2 -.1z"/>
<path color="#4852f4" d="M595.8 531.5l3.2 -6.1l3.2 -3.7l1 -.5l-3.3 3.1l-3.2 5.8z"/>
<path color="#484df0" d="M592.5 538.9l3.3 -7.4l.9 -1.4l-3.3 7.4z"/>
<path color="#4747eb" d="M589.3 546.6l3.2 -7.7l.9 -1.4l-3.2 8z"/>
<path color="#4741e5" d="M586 554l3.3 -7.4l.9 -1.1l-3.2 7.7z"/>
<path color="#463cde" d="M582.8 560.7l3.2 -6.7l1 -.8l-3.3 7z"/>
<path color="#4537d5" d="M576.3 571.4l6.5 -10.7l.9 -.5l-6.5 11.1z"/>
<path color="#4332cb" d="M569.8 578.6l6.5 -7.2l.9 -.1l-6.5 7.6z"/>
<path color="#695bd5" d="M566.6 581.1l3.2 -2.5l.9 .3l-3.2 2.7z"/>
<path color="#6a5fde" d="M563.3 583l3.3 -1.9l.9 .5l-3.2 2z"/>
<path color="#6b63e5" d="M553.6 585.2l3.3 -.2l6.4 -2l1 .6l-6.5 2.2l-3.3 .2z"/>
<path color="#695bd5" d="M550.4 584.7l3.2 .5l.9 .8l-3.2 -.5z"/>
<path color="#422ec0" d="M543.9 581.6l3.2 1.9l3.3 1.2l.9 .8l-3.3 -1.1l-3.2 -1.9z"/>
<path color="#4332cb" d="M537.4 575.9l6.5 5.7l.9 .9l-6.5 -5.8z"/>
<path color="#4537d5" d="M521.2 573.8l3.2 -3.2l3.3 -1.3l3.2 .9l6.5 5.7l.9 .8l-6.5 -6.3l-3.2 -1.3l-3.3 1l-3.2 3.2z"/>
<path color="#4332cb" d="M514.7 582.8l6.5 -9l.9 -.5l-6.5 9.3z"/>
<path color="#422ec0" d="M508.2 590.9l6.5 -8.1l.9 -.2l-6.5 8.4z"/>
<path color="#402ab4" d="M495.2 600.5l6.5 -3.9l6.5 -5.7l.9 .1l-6.5 6l-6.4 4.1zM648.6 585.4l9.7 5.2l9.7 3.4l.9 1.3l-9.7 -3.2l-9.7 -4.9z"/>
<path color="#422ec0" d="M638.8 577.4l3.3 3.1l6.5 4.9l.9 1.8l-6.5 -4.7l-3.2 -3z"/>
<path color="#4332cb" d="M632.4 569.4l6.4 8l1 2.1l-6.5 -7.7z"/>
<path color="#4537d5" d="M629.1 564.4l3.3 5l.9 2.4l-3.3 -4.8z"/>
<path color="#463cde" d="M622.6 552.1l6.5 12.3l.9 2.6l-6.5 -12.1z"/>
<path color="#4741e5" d="M619.4 544.9l3.2 7.2l.9 2.8l-3.2 -7.3z"/>
<path color="#4747eb" d="M616.1 537.4l3.3 7.5l.9 2.7l-3.2 -7.6z"/>
<path color="#484df0" d="M612.9 530.4l3.2 7l1 2.6l-3.3 -7.6z"/>
<path color="#4852f4" d="M606.4 521.3l3.3 3.3l3.2 5.8l.9 2l-3.2 -6.4l-3.3 -4.2z"/>
<path color="#4758f8" d="M603.2 521.2l3.2 .1l.9 .5l-3.2 -1z"/>
<path color="#4852f4" d="M596.7 530.1l3.2 -5.8l3.3 -3.1l.9 -.4l-3.3 2.4l-3.2 5.5z"/>
<path color="#484df0" d="M593.4 537.5l3.3 -7.4l.9 -1.4l-3.2 7.4z"/>
<path color="#4747eb" d="M590.2 545.5l3.2 -8l1 -1.4l-3.3 8.1z"/>
<path color="#4741e5" d="M587 553.2l3.2 -7.7l.9 -1.3l-3.2 8z"/>
<path color="#463cde" d="M580.5 566.2l6.5 -13l.9 -1l-6.5 13.6z"/>
<path color="#4537d5" d="M577.2 571.3l3.3 -5.1l.9 -.4l-3.3 5.4z"/>
<path color="#4332cb" d="M570.7 578.9l6.5 -7.6l.9 -.1l-6.4 8z"/>
<path color="#695bd5" d="M567.5 581.6l3.2 -2.7l1 .3l-3.3 2.8z"/>
<path color="#6a5fde" d="M564.3 583.6l3.2 -2l.9 .4l-3.2 2.1z"/>
<path color="#6b63e5" d="M554.5 586l3.3 -.2l6.5 -2.2l.9 .5l-6.5 2.4l-3.3 .2z"/>
<path color="#6a5fde" d="M551.3 585.5l3.2 .5l.9 .7l-3.2 -.3z"/>
<path color="#695bd5" d="M548 584.4l3.3 1.1l.9 .9l-3.2 -1.1z"/>
<path color="#422ec0" d="M544.8 582.5l3.2 1.9l1 .9l-3.3 -1.8z"/>
<path color="#4332cb" d="M538.3 576.7l6.5 5.8l.9 1l-6.5 -5.9z"/>
<path color="#4537d5" d="M522.1 573.3l3.2 -3.2l3.3 -1l3.2 1.3l6.5 6.3l.9 .9l-6.5 -6.9l-3.2 -1.7l-3.2 .6l-3.3 3z"/>
<path color="#4332cb" d="M515.6 582.6l6.5 -9.3l.9 -.7l-6.5 9.6z"/>
<path color="#422ec0" d="M509.1 591l6.5 -8.4l.9 -.4l-6.5 8.9z"/>
<path color="#402ab4" d="M496.2 601.1l6.4 -4.1l6.5 -6l.9 .1l-6.4 6.3l-6.5 4.3zM649.5 587.2l6.5 3.5l9.7 3.7l.9 1.4l-9.7 -3.6l-6.5 -3.3z"/>
<path color="#422ec0" d="M639.8 579.5l3.2 3l6.5 4.7l.9 1.7l-6.5 -4.5l-3.2 -2.9z"/>
<path color="#4332cb" d="M633.3 571.8l6.5 7.7l.9 2l-6.5 -7.3z"/>
<path color="#4537d5" d="M626.8 561.4l6.5 10.4l.9 2.4l-6.5 -10.2z"/>
<path color="#463cde" d="M623.5 554.9l3.3 6.5l.9 2.6l-3.2 -6.3z"/>
<path color="#4741e5" d="M620.3 547.6l3.2 7.3l1 2.8l-3.3 -7.2z"/>
<path color="#4747eb" d="M617.1 540l3.2 7.6l.9 2.9l-3.2 -7.9z"/>
<path color="#484df0" d="M613.8 532.4l3.3 7.6l.9 2.6l-3.3 -7.9z"/>
<path color="#4852f4" d="M607.3 521.8l3.3 4.2l3.2 6.4l.9 2.3l-3.2 -7.1l-3.3 -5.1z"/>
<path color="#4758f8" d="M600.8 523.2l3.3 -2.4l3.2 1l.9 .7l-3.2 -2l-3.2 1.6z"/>
<path color="#4852f4" d="M597.6 528.7l3.2 -5.5l1 -1.1l-3.3 5z"/>
<path color="#484df0" d="M594.4 536.1l3.2 -7.4l.9 -1.6l-3.2 7.4z"/>
<path color="#4747eb" d="M591.1 544.2l3.3 -8.1l.9 -1.6l-3.3 8.3z"/>
<path color="#4741e5" d="M584.6 559.5l6.5 -15.3l.9 -1.4l-6.5 15.9z"/>
<path color="#463cde" d="M581.4 565.8l3.2 -6.3l.9 -.8l-3.2 6.7z"/>
<path color="#4537d5" d="M578.1 571.2l3.3 -5.4l.9 -.4l-3.2 5.6z"/>
<path color="#4332cb" d="M568.4 582l6.5 -6.4l3.2 -4.4l1 -.2l-3.3 4.7l-6.5 6.7z"/>
<path color="#6a5fde" d="M565.2 584.1l3.2 -2.1l.9 .4l-3.2 2.2z"/>
<path color="#6b63e5" d="M555.4 586.7l3.3 -.2l6.5 -2.4l.9 .5l-3.3 1.6l-3.2 1l-3.2 .3z"/>
<path color="#6a5fde" d="M552.2 586.4l3.2 .3l1 .8l-3.3 -.3z"/>
<path color="#695bd5" d="M549 585.3l3.2 1.1l.9 .8l-3.2 -.9z"/>
<path color="#422ec0" d="M545.7 583.5l3.3 1.8l.9 1l-3.3 -1.8z"/>
<path color="#4332cb" d="M539.2 577.6l6.5 5.9l.9 1l-6.5 -6z"/>
<path color="#4537d5" d="M519.8 577.2l3.2 -4.6l3.3 -3l3.2 -.6l3.2 1.7l6.5 6.9l.9 .9l-6.4 -7.4l-3.3 -2.2l-3.2 .2l-3.3 2.8l-3.2 4.7z"/>
<path color="#4332cb" d="M516.5 582.2l3.3 -5l.9 -.6l-3.3 5.2z"/>
<path color="#422ec0" d="M506.8 594.6l3.2 -3.5l6.5 -8.9l.9 -.4l-6.4 9.4l-3.3 3.6z"/>
<path color="#402ab4" d="M497.1 601.7l6.5 -4.3l3.2 -2.8l.9 .2l-3.2 3l-6.5 4.4zM650.4 588.9l6.5 3.3l9.7 3.6l.9 1.3l-9.7 -3.3l-6.5 -3.2z"/>
<path color="#422ec0" d="M640.7 581.5l3.2 2.9l6.5 4.5l.9 1.7l-6.5 -4.3l-3.2 -2.7z"/>
<path color="#4332cb" d="M634.2 574.2l6.5 7.3l.9 2.1l-6.5 -7.1z"/>
<path color="#4537d5" d="M627.7 564l6.5 10.2l.9 2.3l-6.5 -9.8z"/>
<path color="#463cde" d="M624.5 557.7l3.2 6.3l.9 2.7l-3.2 -6.2z"/>
<path color="#4741e5" d="M621.2 550.5l3.3 7.2l.9 2.8l-3.3 -7.2z"/>
<path color="#4747eb" d="M618 542.6l3.2 7.9l.9 2.8l-3.2 -7.9z"/>
<path color="#484df0" d="M614.7 534.7l3.3 7.9l.9 2.8l-3.3 -8.2z"/>
<path color="#4852f4" d="M608.2 522.5l3.3 5.1l3.2 7.1l.9 2.5l-3.2 -7.8l-3.2 -6z"/>
<path color="#4758f8" d="M601.8 522.1l3.2 -1.6l3.2 2l1 .9l-3.3 -3.1l-3.2 .8z"/>
<path color="#4852f4" d="M595.3 534.5l3.2 -7.4l3.3 -5l.9 -1l-3.3 4.5l-3.2 7.1z"/>
<path color="#484df0" d="M592 542.8l3.3 -8.3l.9 -1.8l-3.3 8.5z"/>
<path color="#4747eb" d="M588.8 551.1l3.2 -8.3l.9 -1.6l-3.2 8.6z"/>
<path color="#4741e5" d="M585.5 558.7l3.3 -7.6l.9 -1.3l-3.2 8.1z"/>
<path color="#463cde" d="M582.3 565.4l3.2 -6.7l1 -.8l-3.3 7z"/>
<path color="#4537d5" d="M575.8 575.7l6.5 -10.3l.9 -.5l-6.5 10.8z"/>
<path color="#4332cb" d="M569.3 582.4l6.5 -6.7l.9 0l-6.5 7z"/>
<path color="#695bd5" d="M566.1 584.6l3.2 -2.2l.9 .3l-3.2 2.4z"/>
<path color="#6b63e5" d="M556.4 587.5l3.2 -.3l3.2 -1l3.3 -1.6l.9 .5l-3.2 1.7l-3.3 1.1l-3.2 .4z"/>
<path color="#6a5fde" d="M553.1 587.2l3.3 .3l.9 .8l-3.3 -.2z"/>
<path color="#695bd5" d="M549.9 586.3l3.2 .9l.9 .9l-3.2 -.9z"/>
<path color="#422ec0" d="M546.6 584.5l3.3 1.8l.9 .9l-3.3 -1.7z"/>
<path color="#4332cb" d="M540.1 578.5l6.5 6l.9 1l-3.2 -2.6l-3.2 -3.4z"/>
<path color="#4537d5" d="M530.4 568.9l3.3 2.2l6.4 7.4l1 1l-6.5 -8l-3.3 -2.7z"/>
<path color="#463cde" d="M527.2 569.1l3.2 -.2l.9 -.1l-3.2 -.3z"/>
<path color="#4537d5" d="M520.7 576.6l3.2 -4.7l3.3 -2.8l.9 -.6l-3.3 2.7l-3.2 4.7z"/>
<path color="#4332cb" d="M514.2 586.8l6.5 -10.2l.9 -.7l-6.5 10.7z"/>
<path color="#422ec0" d="M507.7 594.8l6.5 -8l.9 -.2l-6.5 8.5z"/>
<path color="#402ab4" d="M498 602.2l6.5 -4.4l3.2 -3l.9 .3l-3.2 3.1l-6.5 4.6zM648.1 588.6l6.5 3.7l9.7 3.9l.9 1.4l-9.7 -3.7l-6.5 -3.5z"/>
<path color="#422ec0" d="M638.3 580.3l3.3 3.3l6.5 5l.9 1.8l-6.5 -4.9l-3.2 -3z"/>
<path color="#4332cb" d="M631.9 572l6.4 8.3l1 2.2l-6.5 -8z"/>
<path color="#4537d5" d="M628.6 566.7l3.3 5.3l.9 2.5l-3.3 -5.1z"/>
<path color="#463cde" d="M622.1 553.3l6.5 13.4l.9 2.7l-6.5 -13.2z"/>
<path color="#4741e5" d="M618.9 545.4l3.2 7.9l.9 2.9l-3.2 -7.9z"/>
<path color="#4747eb" d="M615.6 537.2l3.3 8.2l.9 2.9l-3.2 -8.5z"/>
<path color="#484df0" d="M612.4 529.4l3.2 7.8l1 2.6l-3.3 -8.4z"/>
<path color="#4852f4" d="M609.2 523.4l3.2 6l.9 2l-3.2 -6.9z"/>
<path color="#4758f8" d="M599.4 525.6l3.3 -4.5l3.2 -.8l3.3 3.1l.9 1.1l-3.3 -4.1l-3.2 -.2l-3.3 3.7z"/>
<path color="#4852f4" d="M596.2 532.7l3.2 -7.1l.9 -1.7l-3.2 7z"/>
<path color="#484df0" d="M592.9 541.2l3.3 -8.5l.9 -1.8l-3.2 8.6z"/>
<path color="#4747eb" d="M589.7 549.8l3.2 -8.6l1 -1.7l-3.3 8.9z"/>
<path color="#4741e5" d="M586.5 557.9l3.2 -8.1l.9 -1.4l-3.2 8.4z"/>
<path color="#463cde" d="M583.2 564.9l3.3 -7l.9 -1.1l-3.3 7.4z"/>
<path color="#4537d5" d="M576.7 575.7l6.5 -10.8l.9 -.7l-6.5 11.4z"/>
<path color="#4332cb" d="M570.2 582.7l6.5 -7l.9 -.1l-6.4 7.4z"/>
<path color="#695bd5" d="M567 585.1l3.2 -2.4l1 .3l-3.3 2.5z"/>
<path color="#6b63e5" d="M554 588.1l3.3 .2l3.2 -.4l6.5 -2.8l.9 .4l-6.5 3l-3.2 .6l-3.3 -.1z"/>
<path color="#6a5fde" d="M550.8 587.2l3.2 .9l.9 .9l-3.2 -.9z"/>
<path color="#6858cc" d="M547.5 585.5l3.3 1.7l.9 .9l-3.2 -1.6z"/>
<path color="#4332cb" d="M541.1 579.5l3.2 3.4l3.2 2.6l1 1l-3.3 -2.5l-3.2 -3.5z"/>
<path color="#4537d5" d="M531.3 568.8l3.3 2.7l6.5 8l.9 1l-6.5 -8.5l-3.3 -3.2z"/>
<path color="#463cde" d="M528.1 568.5l3.2 .3l.9 0l-3.2 -.8z"/>
<path color="#4537d5" d="M521.6 575.9l3.2 -4.7l3.3 -2.7l.9 -.5l-3.2 2.3l-3.3 4.8z"/>
<path color="#4332cb" d="M515.1 586.6l6.5 -10.7l.9 -.8l-6.5 11.3z"/>
<path color="#422ec0" d="M508.6 595.1l6.5 -8.5l.9 -.2l-6.5 8.9z"/>
<path color="#402ab4" d="M498.9 602.8l6.5 -4.6l3.2 -3.1l.9 .2l-3.2 3.3l-6.5 4.7zM649 590.4l6.5 3.5l9.7 3.7l.9 1.4l-9.7 -3.6l-6.5 -3.3z"/>
<path color="#422ec0" d="M639.3 582.5l3.2 3l6.5 4.9l.9 1.7l-6.5 -4.6l-3.2 -3z"/>
<path color="#4332cb" d="M632.8 574.5l6.5 8l.9 2l-6.5 -7.6z"/>
<path color="#4537d5" d="M626.3 563.3l6.5 11.2l.9 2.4l-6.5 -10.8z"/>
<path color="#463cde" d="M623 556.2l3.3 7.1l.9 2.8l-3.2 -7z"/>
<path color="#4741e5" d="M619.8 548.3l3.2 7.9l1 2.9l-3.3 -7.9z"/>
<path color="#4747eb" d="M616.6 539.8l3.2 8.5l.9 2.9l-3.2 -8.7z"/>
<path color="#484df0" d="M613.3 531.4l3.3 8.4l.9 2.7l-3.3 -8.8z"/>
<path color="#4852f4" d="M610.1 524.5l3.2 6.9l.9 2.3l-3.2 -7.8z"/>
<path color="#4758f8" d="M600.3 523.9l3.3 -3.7l3.2 .2l3.3 4.1l.9 1.4l-3.3 -5.2l-3.2 -1.4l-3.2 3z"/>
<path color="#4852f4" d="M597.1 530.9l3.2 -7l1 -1.6l-3.3 6.6z"/>
<path color="#484df0" d="M593.9 539.5l3.2 -8.6l.9 -2l-3.2 8.7z"/>
<path color="#4747eb" d="M590.6 548.4l3.3 -8.9l.9 -1.9l-3.3 9.2z"/>
<path color="#4741e5" d="M587.4 556.8l3.2 -8.4l.9 -1.6l-3.2 8.9z"/>
<path color="#463cde" d="M584.1 564.2l3.3 -7.4l.9 -1.1l-3.3 7.8z"/>
<path color="#4537d5" d="M577.6 575.6l6.5 -11.4l.9 -.7l-6.4 12z"/>
<path color="#4332cb" d="M571.2 583l6.4 -7.4l1 -.1l-6.5 7.8z"/>
<path color="#695bd5" d="M567.9 585.5l3.3 -2.5l.9 .3l-3.3 2.7z"/>
<path color="#6a5fde" d="M564.7 587.4l3.2 -1.9l.9 .5l-3.2 1.9z"/>
<path color="#6b63e5" d="M554.9 589l3.3 .1l3.2 -.6l3.3 -1.1l.9 .5l-3.3 1.3l-3.2 .6l-3.2 0z"/>
<path color="#6a5fde" d="M551.7 588.1l3.2 .9l1 .8l-3.3 -.7z"/>
<path color="#695bd5" d="M548.5 586.5l3.2 1.6l.9 1l-3.2 -1.6z"/>
<path color="#4332cb" d="M542 580.5l3.2 3.5l3.3 2.5l.9 1l-3.3 -2.5l-3.2 -3.4z"/>
<path color="#4537d5" d="M535.5 572l6.5 8.5l.9 1.1l-6.5 -9z"/>
<path color="#463cde" d="M525.8 570.3l3.2 -2.3l3.2 .8l3.3 3.2l.9 .6l-3.2 -3.8l-3.3 -1.4l-3.2 2z"/>
<path color="#4537d5" d="M519.3 580.8l6.5 -10.5l.9 -.9l-3.3 4.7l-3.2 6z"/>
<path color="#4332cb" d="M516 586.4l3.3 -5.6l.9 -.7l-3.2 5.9z"/>
<path color="#422ec0" d="M509.5 595.3l6.5 -8.9l1 -.4l-6.5 9.5z"/>
<path color="#402ab4" d="M499.8 603.3l6.5 -4.7l3.2 -3.3l1 .2l-3.3 3.4l-6.5 5zM646.7 590l6.4 3.9l9.8 4l.9 1.5l-9.7 -3.9l-6.5 -3.7z"/>
<path color="#422ec0" d="M636.9 581.1l3.3 3.4l6.5 5.5l.9 1.8l-6.5 -5.2l-3.3 -3.3z"/>
<path color="#4332cb" d="M630.4 572l6.5 9.1l.9 2.2l-6.4 -8.8z"/>
<path color="#4537d5" d="M627.2 566.1l3.2 5.9l1 2.5l-3.3 -5.7z"/>
<path color="#463cde" d="M624 559.1l3.2 7l.9 2.7l-3.2 -6.8z"/>
<path color="#4741e5" d="M620.7 551.2l3.3 7.9l.9 2.9l-3.3 -7.8z"/>
<path color="#4747eb" d="M617.5 542.5l3.2 8.7l.9 3l-3.2 -8.8z"/>
<path color="#484df0" d="M614.2 533.7l3.3 8.8l.9 2.9l-3.3 -9.3z"/>
<path color="#4852f4" d="M611 525.9l3.2 7.8l.9 2.4l-3.2 -8.5z"/>
<path color="#4758f8" d="M598 528.9l3.3 -6.6l3.2 -3l3.2 1.4l3.3 5.2l.9 1.7l-3.2 -6.4l-3.3 -2.6l-3.2 2.1l-3.3 6.1z"/>
<path color="#4852f4" d="M594.8 537.6l3.2 -8.7l.9 -2.1l-3.2 8.7z"/>
<path color="#484df0" d="M591.5 546.8l3.3 -9.2l.9 -2.1l-3.3 9.6z"/>
<path color="#4741e5" d="M588.3 555.7l3.2 -8.9l.9 -1.7l-3.2 9.2z"/>
<path color="#463cde" d="M581.8 570.1l6.5 -14.4l.9 -1.4l-6.5 15.3z"/>
<path color="#4537d5" d="M578.6 575.5l3.2 -5.4l.9 -.5l-3.2 5.7z"/>
<path color="#4332cb" d="M572.1 583.3l6.5 -7.8l.9 -.2l-3.3 4.6l-3.2 3.7z"/>
<path color="#695bd5" d="M568.8 586l3.3 -2.7l.9 .3l-3.2 2.8z"/>
<path color="#6a5fde" d="M565.6 587.9l3.2 -1.9l1 .4l-3.3 2.1z"/>
<path color="#6b63e5" d="M555.9 589.8l3.2 0l3.2 -.6l3.3 -1.3l.9 .6l-3.2 1.3l-3.3 .8l-3.2 .1z"/>
<path color="#6a5fde" d="M552.6 589.1l3.3 .7l.9 .9l-3.3 -.7z"/>
<path color="#695bd5" d="M549.4 587.5l3.2 1.6l.9 .9l-3.2 -1.5z"/>
<path color="#4332cb" d="M539.7 577.2l6.4 7.8l3.3 2.5l.9 1l-3.2 -2.4l-3.3 -3.5l-3.2 -4.4z"/>
<path color="#4537d5" d="M536.4 572.6l3.3 4.6l.9 1l-3.3 -5z"/>
<path color="#463cde" d="M526.7 569.4l3.2 -2l3.3 1.4l3.2 3.8l.9 .6l-3.2 -4.3l-3.3 -2l-3.2 1.5z"/>
<path color="#4537d5" d="M520.2 580.1l3.2 -6l3.3 -4.7l.9 -1l-3.2 4.7l-3.3 6.2z"/>
<path color="#4332cb" d="M517 586l3.2 -5.9l.9 -.8l-3.2 6.3z"/>
<path color="#422ec0" d="M510.5 595.5l6.5 -9.5l.9 -.4l-6.5 10z"/>
<path color="#402ab4" d="M497.5 605.7l6.5 -4l6.5 -6.2l.9 .1l-6.5 6.5l-6.5 4.2zM647.6 591.8l6.5 3.7l6.4 2.8l1 1.4l-6.5 -2.6l-6.5 -3.6z"/>
<path color="#422ec0" d="M637.8 583.3l3.3 3.3l6.5 5.2l.9 1.7l-6.5 -4.9l-3.2 -3.2z"/>
<path color="#4332cb" d="M631.4 574.5l6.4 8.8l1 2.1l-6.5 -8.4z"/>
<path color="#4537d5" d="M628.1 568.8l3.3 5.7l.9 2.5l-3.3 -5.5z"/>
<path color="#463cde" d="M624.9 562l3.2 6.8l.9 2.7l-3.2 -6.6z"/>
<path color="#4741e5" d="M621.6 554.2l3.3 7.8l.9 2.9l-3.2 -7.7z"/>
<path color="#4747eb" d="M618.4 545.4l3.2 8.8l1 3l-3.3 -8.9z"/>
<path color="#484df0" d="M615.1 536.1l3.3 9.3l.9 2.9l-3.2 -9.5z"/>
<path color="#4852f4" d="M611.9 527.6l3.2 8.5l1 2.7l-3.3 -9.3z"/>
<path color="#4758f8" d="M598.9 526.8l3.3 -6.1l3.2 -2.1l3.3 2.6l3.2 6.4l.9 1.9l-3.2 -7.5l-3.3 -3.8l-3.2 .8l-3.2 5.5z"/>
<path color="#4852f4" d="M595.7 535.5l3.2 -8.7l1 -2.3l-3.3 8.7z"/>
<path color="#484df0" d="M592.4 545.1l3.3 -9.6l.9 -2.3l-3.2 9.9z"/>
<path color="#4747eb" d="M589.2 554.3l3.2 -9.2l1 -2l-3.3 9.7z"/>
<path color="#4741e5" d="M586 562.6l3.2 -8.3l.9 -1.5l-3.2 8.7z"/>
<path color="#463cde" d="M582.7 569.6l3.3 -7l.9 -1.1l-3.3 7.4z"/>
<path color="#4537d5" d="M579.5 575.3l3.2 -5.7l.9 -.7l-3.2 6.1z"/>
<path color="#4332cb" d="M569.8 586.4l6.4 -6.5l3.3 -4.6l.9 -.3l-3.2 4.9l-3.3 3.9l-3.2 3z"/>
<path color="#6a5fde" d="M566.5 588.5l3.3 -2.1l.9 .4l-3.3 2.2z"/>
<path color="#6b63e5" d="M553.5 590l3.3 .7l3.2 -.1l3.3 -.8l3.2 -1.3l.9 .5l-3.2 1.5l-3.3 .8l-3.2 .2l-3.2 -.6z"/>
<path color="#695bd5" d="M550.3 588.5l3.2 1.5l1 .9l-3.3 -1.4z"/>
<path color="#4332cb" d="M540.6 578.2l3.2 4.4l3.3 3.5l3.2 2.4l.9 1l-3.2 -2.3l-3.3 -3.5l-3.2 -4.5z"/>
<path color="#4537d5" d="M537.3 573.2l3.3 5l.9 1l-3.3 -5.3z"/>
<path color="#463cde" d="M524.4 573.1l3.2 -4.7l3.2 -1.5l3.3 2l3.2 4.3l.9 .7l-3.2 -4.9l-3.2 -2.7l-3.3 1.1l-3.2 4.6z"/>
<path color="#4537d5" d="M521.1 579.3l3.3 -6.2l.9 -1.1l-3.3 6.4z"/>
<path color="#4332cb" d="M517.9 585.6l3.2 -6.3l.9 -.9l-3.2 6.6z"/>
<path color="#422ec0" d="M511.4 595.6l6.5 -10l.9 -.6l-6.5 10.7z"/>
<path color="#402ab4" d="M498.4 606.3l6.5 -4.2l6.5 -6.5l.9 .1l-6.5 6.8l-6.5 4.3zM645.2 591.3l6.5 4.1l9.8 4.3l.9 1.4l-9.7 -4l-6.5 -4z"/>
<path color="#422ec0" d="M638.8 585.4l6.4 5.9l1 1.8l-6.5 -5.6z"/>
<path color="#4332cb" d="M632.3 577l6.5 8.4l.9 2.1l-6.5 -8z"/>
<path color="#4537d5" d="M625.8 564.9l6.5 12.1l.9 2.5l-6.5 -11.7z"/>
<path color="#463cde" d="M622.6 557.2l3.2 7.7l.9 2.9l-3.2 -7.6z"/>
<path color="#4741e5" d="M619.3 548.3l3.3 8.9l.9 3l-3.3 -8.8z"/>
<path color="#484df0" d="M616.1 538.8l3.2 9.5l.9 3.1l-3.2 -9.8z"/>
<path color="#4852f4" d="M612.8 529.5l3.3 9.3l.9 2.8l-3.3 -9.9z"/>
<path color="#4758f8" d="M606.3 518.2l3.3 3.8l3.2 7.5l.9 2.2l-3.2 -8.6l-3.2 -5.2z"/>
<path color="#465efb" d="M603.1 519l3.2 -.8l1 -.3l-3.3 -.4z"/>
<path color="#4758f8" d="M599.9 524.5l3.2 -5.5l.9 -1.5l-3.2 4.7z"/>
<path color="#4852f4" d="M596.6 533.2l3.3 -8.7l.9 -2.3l-3.3 8.5z"/>
<path color="#484df0" d="M593.4 543.1l3.2 -9.9l.9 -2.5l-3.2 10.1z"/>
<path color="#4747eb" d="M590.1 552.8l3.3 -9.7l.9 -2.3l-3.3 10.3z"/>
<path color="#4741e5" d="M586.9 561.5l3.2 -8.7l.9 -1.7l-3.2 9.2z"/>
<path color="#463cde" d="M583.6 568.9l3.3 -7.4l.9 -1.2l-3.2 7.9z"/>
<path color="#4537d5" d="M577.2 579.9l3.2 -4.9l3.2 -6.1l1 -.7l-3.3 6.5l-3.2 5.2z"/>
<path color="#4332cb" d="M570.7 586.8l3.2 -3l3.3 -3.9l.9 0l-3.3 4.1l-3.2 3.1z"/>
<path color="#695bd5" d="M567.4 589l3.3 -2.2l.9 .3l-3.3 2.4z"/>
<path color="#6b63e5" d="M554.5 590.9l3.2 .6l3.2 -.2l3.3 -.8l3.2 -1.5l.9 .5l-3.2 1.6l-3.2 1l-3.3 .2l-3.2 -.4z"/>
<path color="#6a5fde" d="M551.2 589.5l3.3 1.4l.9 1l-3.3 -1.3z"/>
<path color="#695bd5" d="M548 587.2l3.2 2.3l.9 1.1l-3.2 -2.3z"/>
<path color="#4332cb" d="M541.5 579.2l3.2 4.5l3.3 3.5l.9 1.1l-3.3 -3.4l-3.2 -4.7z"/>
<path color="#4537d5" d="M538.2 573.9l3.3 5.3l.9 1l-3.2 -5.5z"/>
<path color="#463cde" d="M525.3 572l3.2 -4.6l3.3 -1.1l3.2 2.7l3.2 4.9l1 .8l-3.3 -5.5l-3.2 -3.4l-3.3 .5l-3.2 4.4z"/>
<path color="#4537d5" d="M522 578.4l3.3 -6.4l.9 -1.3l-3.3 6.6z"/>
<path color="#4332cb" d="M515.5 590.9l6.5 -12.5l.9 -1.1l-6.4 13.3z"/>
<path color="#422ec0" d="M512.3 595.7l3.2 -4.8l1 -.3l-3.3 5.1z"/>
<path color="#402ab4" d="M499.3 606.8l6.5 -4.3l6.5 -6.8l.9 0l-6.5 7.2l-6.5 4.5zM646.2 593.1l6.5 4l6.4 2.9l1 1.5l-6.5 -2.8l-6.5 -3.8z"/>
<path color="#422ec0" d="M636.4 583.9l3.3 3.6l6.5 5.6l.9 1.8l-6.5 -5.3l-3.2 -3.5z"/>
<path color="#4332cb" d="M630 574.2l6.4 9.7l1 2.2l-6.5 -9.3z"/>
<path color="#4537d5" d="M626.7 567.8l3.3 6.4l.9 2.6l-3.3 -6.1z"/>
<path color="#463cde" d="M623.5 560.2l3.2 7.6l.9 2.9l-3.2 -7.5z"/>
<path color="#4741e5" d="M620.2 551.4l3.3 8.8l.9 3l-3.3 -8.7z"/>
<path color="#4747eb" d="M617 541.6l3.2 9.8l.9 3.1l-3.2 -9.9z"/>
<path color="#4852f4" d="M613.7 531.7l3.3 9.9l.9 3l-3.2 -10.5z"/>
<path color="#4758f8" d="M610.5 523.1l3.2 8.6l1 2.4l-3.3 -9.5z"/>
<path color="#465efb" d="M600.8 522.2l3.2 -4.7l3.3 .4l3.2 5.2l.9 1.5l-3.2 -6.7l-3.3 -1.8l-3.2 3.7z"/>
<path color="#4758f8" d="M597.5 530.7l3.3 -8.5l.9 -2.4l-3.3 8.2z"/>
<path color="#4852f4" d="M594.3 540.8l3.2 -10.1l.9 -2.7l-3.2 10.4z"/>
<path color="#4747eb" d="M591 551.1l3.3 -10.3l.9 -2.4l-3.2 10.7z"/>
<path color="#4741e5" d="M587.8 560.3l3.2 -9.2l1 -2l-3.3 9.8z"/>
<path color="#463cde" d="M584.6 568.2l3.2 -7.9l.9 -1.4l-3.2 8.4z"/>
<path color="#4537d5" d="M578.1 579.9l3.2 -5.2l3.3 -6.5l.9 -.9l-3.3 6.9l-3.2 5.5z"/>
<path color="#4332cb" d="M571.6 587.1l3.2 -3.1l3.3 -4.1l.9 -.2l-3.3 4.4l-3.2 3.3z"/>
<path color="#695bd5" d="M568.3 589.5l3.3 -2.4l.9 .3l-3.2 2.5z"/>
<path color="#6a5fde" d="M565.1 591.1l3.2 -1.6l1 .4l-3.3 1.8z"/>
<path color="#6b63e5" d="M555.4 591.9l3.2 .4l3.3 -.2l3.2 -1l.9 .6l-3.2 1.1l-3.3 .3l-3.2 -.3z"/>
<path color="#6a5fde" d="M552.1 590.6l3.3 1.3l.9 .9l-3.3 -1.2z"/>
<path color="#695bd5" d="M548.9 588.3l3.2 2.3l.9 1l-3.2 -2.2z"/>
<path color="#4332cb" d="M542.4 580.2l3.2 4.7l3.3 3.4l.9 1.1l-3.2 -3.4l-3.3 -4.7z"/>
<path color="#4537d5" d="M539.2 574.7l3.2 5.5l.9 1.1l-3.2 -5.8z"/>
<path color="#463cde" d="M526.2 570.7l3.2 -4.4l3.3 -.5l3.2 3.4l3.3 5.5l.9 .8l-3.3 -6l-3.2 -4.2l-3.3 -.3l-3.2 4.2z"/>
<path color="#4537d5" d="M519.7 584.3l6.5 -13.6l.9 -1.5l-6.5 14.3z"/>
<path color="#4332cb" d="M516.5 590.6l3.2 -6.3l.9 -.8l-3.2 6.7z"/>
<path color="#422ec0" d="M510 599.7l3.2 -4l3.3 -5.1l.9 -.4l-3.3 5.4l-3.2 4.3z"/>
<path color="#402ab4" d="M500.2 607.4l6.5 -4.5l3.3 -3.2l.9 .2l-3.3 3.3l-6.4 4.7zM643.8 592.5l6.5 4.5l9.8 4.5l.9 1.4l-9.8 -4.3l-6.4 -4.2z"/>
<path color="#422ec0" d="M637.4 586.1l6.4 6.4l1 1.9l-6.5 -6.1z"/>
<path color="#4332cb" d="M630.9 576.8l6.5 9.3l.9 2.2l-6.5 -8.9z"/>
<path color="#4537d5" d="M627.6 570.7l3.3 6.1l.9 2.6l-3.3 -5.9z"/>
<path color="#463cde" d="M624.4 563.2l3.2 7.5l.9 2.8l-3.2 -7.2z"/>
<path color="#4741e5" d="M621.1 554.5l3.3 8.7l.9 3.1l-3.2 -8.7z"/>
<path color="#4747eb" d="M617.9 544.6l3.2 9.9l1 3.1l-3.3 -10z"/>
<path color="#484df0" d="M614.7 534.1l3.2 10.5l.9 3l-3.2 -10.8z"/>
<path color="#4758f8" d="M611.4 524.6l3.3 9.5l.9 2.7l-3.3 -10.5z"/>
<path color="#465efb" d="M601.7 519.8l3.2 -3.7l3.3 1.8l3.2 6.7l.9 1.7l-3.2 -8.1l-3.3 -3.3l-3.2 2.5z"/>
<path color="#4758f8" d="M598.4 528l3.3 -8.2l.9 -2.4l-3.2 7.6z"/>
<path color="#4852f4" d="M595.2 538.4l3.2 -10.4l1 -3l-3.3 10.6z"/>
<path color="#484df0" d="M592 549.1l3.2 -10.7l.9 -2.8l-3.2 11.3z"/>
<path color="#4741e5" d="M588.7 558.9l3.3 -9.8l.9 -2.2l-3.3 10.4z"/>
<path color="#463cde" d="M585.5 567.3l3.2 -8.4l.9 -1.6l-3.2 8.9z"/>
<path color="#4537d5" d="M579 579.7l3.2 -5.5l3.3 -6.9l.9 -1.1l-3.3 7.4l-3.2 5.9z"/>
<path color="#4332cb" d="M572.5 587.4l3.2 -3.3l3.3 -4.4l.9 -.2l-3.2 4.6l-3.3 3.6z"/>
<path color="#695bd5" d="M569.3 589.9l3.2 -2.5l.9 .3l-3.2 2.7z"/>
<path color="#6a5fde" d="M566 591.7l3.3 -1.8l.9 .5l-3.3 1.9z"/>
<path color="#6b63e5" d="M556.3 592.8l3.2 .3l3.3 -.3l3.2 -1.1l.9 .6l-3.2 1.2l-3.3 .5l-3.2 -.3z"/>
<path color="#6a5fde" d="M553 591.6l3.3 1.2l.9 .9l-3.2 -1.1z"/>
<path color="#695bd5" d="M549.8 589.4l3.2 2.2l1 1l-3.3 -2.1z"/>
<path color="#4332cb" d="M543.3 581.3l3.3 4.7l3.2 3.4l.9 1.1l-3.2 -3.3l-3.3 -4.7z"/>
<path color="#4537d5" d="M540.1 575.5l3.2 5.8l.9 1.2l-3.2 -6z"/>
<path color="#463cde" d="M533.6 565.3l3.2 4.2l3.3 6l.9 1l-3.3 -6.6l-3.2 -5z"/>
<path color="#4741e5" d="M530.3 565l3.3 .3l.9 -.4l-3.2 -1.1z"/>
<path color="#463cde" d="M523.9 576.1l3.2 -6.9l3.2 -4.2l1 -1.2l-3.3 3.8l-3.2 7z"/>
<path color="#4537d5" d="M520.6 583.5l3.3 -7.4l.9 -1.5l-3.3 7.9z"/>
<path color="#4332cb" d="M517.4 590.2l3.2 -6.7l.9 -1l-3.2 7.1z"/>
<path color="#422ec0" d="M510.9 599.9l3.2 -4.3l3.3 -5.4l.9 -.6l-3.3 5.8l-3.2 4.6z"/>
<path color="#402ab4" d="M501.2 607.9l6.4 -4.7l3.3 -3.3l.9 .1l-3.2 3.5l-6.5 4.9zM644.8 594.4l6.4 4.2l6.5 3.1l.9 1.5l-6.4 -2.9l-6.5 -4.1z"/>
<path color="#422ec0" d="M638.3 588.3l6.5 6.1l.9 1.8l-6.5 -5.8z"/>
<path color="#4332cb" d="M631.8 579.4l6.5 8.9l.9 2.1l-6.5 -8.5z"/>
<path color="#4537d5" d="M628.5 573.5l3.3 5.9l.9 2.5l-3.2 -5.7z"/>
<path color="#463cde" d="M625.3 566.3l3.2 7.2l1 2.7l-3.3 -6.9z"/>
<path color="#4741e5" d="M622.1 557.6l3.2 8.7l.9 3l-3.2 -8.5z"/>
<path color="#4747eb" d="M618.8 547.6l3.3 10l.9 3.2l-3.3 -10z"/>
<path color="#484df0" d="M615.6 536.8l3.2 10.8l.9 3.2l-3.2 -11.1z"/>
<path color="#4852f4" d="M612.3 526.3l3.3 10.5l.9 2.9l-3.3 -11.3z"/>
<path color="#465efb" d="M599.4 525l3.2 -7.6l3.2 -2.5l3.3 3.3l3.2 8.1l.9 2.1l-3.2 -9.5l-3.2 -5l-3.3 1.1l-3.2 6.9z"/>
<path color="#4852f4" d="M596.1 535.6l3.3 -10.6l.9 -3.1l-3.3 10.7z"/>
<path color="#484df0" d="M592.9 546.9l3.2 -11.3l.9 -3l-3.2 11.7z"/>
<path color="#4747eb" d="M589.6 557.3l3.3 -10.4l.9 -2.6l-3.3 11.1z"/>
<path color="#4741e5" d="M586.4 566.2l3.2 -8.9l.9 -1.9l-3.2 9.6z"/>
<path color="#463cde" d="M583.1 573.6l3.3 -7.4l.9 -1.2l-3.2 7.9z"/>
<path color="#4537d5" d="M579.9 579.5l3.2 -5.9l1 -.7l-3.3 6.3z"/>
<path color="#4332cb" d="M573.4 587.7l3.3 -3.6l3.2 -4.6l.9 -.3l-3.2 4.9l-3.3 3.8z"/>
<path color="#6858cc" d="M570.2 590.4l3.2 -2.7l.9 .2l-3.2 2.9z"/>
<path color="#6a5fde" d="M566.9 592.3l3.3 -1.9l.9 .4l-3.3 2.1z"/>
<path color="#6b63e5" d="M554 592.6l3.2 1.1l3.2 .3l3.3 -.5l3.2 -1.2l.9 .6l-3.2 1.3l-3.2 .6l-3.3 -.2l-3.2 -1z"/>
<path color="#6a5fde" d="M550.7 590.5l3.3 2.1l.9 1l-3.3 -2z"/>
<path color="#695bd5" d="M547.5 587.2l3.2 3.3l.9 1.1l-3.2 -3.2z"/>
<path color="#4332cb" d="M544.2 582.5l3.3 4.7l.9 1.2l-3.3 -4.7z"/>
<path color="#4537d5" d="M541 576.5l3.2 6l.9 1.2l-3.2 -6.2z"/>
<path color="#463cde" d="M537.7 569.9l3.3 6.6l.9 1l-3.2 -7.1z"/>
<path color="#4741e5" d="M528 567.6l3.3 -3.8l3.2 1.1l3.2 5l1 .5l-3.3 -5.9l-3.2 -2.1l-3.3 3.3z"/>
<path color="#463cde" d="M524.8 574.6l3.2 -7l.9 -1.9l-3.2 7.3z"/>
<path color="#4537d5" d="M521.5 582.5l3.3 -7.9l.9 -1.6l-3.3 8.3z"/>
<path color="#4332cb" d="M518.3 589.6l3.2 -7.1l.9 -1.2l-3.2 7.6z"/>
<path color="#422ec0" d="M511.8 600l3.2 -4.6l3.3 -5.8l.9 -.7l-3.2 6.2l-3.3 4.9z"/>
<path color="#402ab4" d="M502.1 608.4l6.5 -4.9l3.2 -3.5l.9 0l-3.2 3.7l-6.5 5.1zM645.7 596.2l6.5 4.1l6.4 2.9l1 1.5l-6.5 -2.8l-6.5 -3.8z"/>
<path color="#422ec0" d="M635.9 586.6l3.3 3.8l6.5 5.8l.9 1.9l-6.5 -5.6l-3.2 -3.6z"/>
<path color="#4332cb" d="M629.5 576.2l6.4 10.4l1 2.3l-6.5 -9.9z"/>
<path color="#4537d5" d="M626.2 569.3l3.3 6.9l.9 2.8l-3.3 -6.8z"/>
<path color="#463cde" d="M623 560.8l3.2 8.5l.9 2.9l-3.2 -8.2z"/>
<path color="#4741e5" d="M619.7 550.8l3.3 10l.9 3.2l-3.3 -9.9z"/>
<path color="#484df0" d="M616.5 539.7l3.2 11.1l.9 3.3l-3.2 -11.3z"/>
<path color="#4852f4" d="M613.2 528.4l3.3 11.3l.9 3.1l-3.2 -12z"/>
<path color="#4758f8" d="M610 518.9l3.2 9.5l1 2.4l-3.3 -10.8z"/>
<path color="#465efb" d="M606.8 513.9l3.2 5l.9 1.1l-3.2 -6.8z"/>
<path color="#4563fd" d="M603.5 515l3.3 -1.1l.9 -.7l-3.3 -.6z"/>
<path color="#465efb" d="M600.3 521.9l3.2 -6.9l.9 -2.4l-3.2 6.1z"/>
<path color="#4758f8" d="M597 532.6l3.3 -10.7l.9 -3.2l-3.3 10.5z"/>
<path color="#4852f4" d="M593.8 544.3l3.2 -11.7l.9 -3.4l-3.2 12.3z"/>
<path color="#4747eb" d="M590.5 555.4l3.3 -11.1l.9 -2.8l-3.2 11.8z"/>
<path color="#4741e5" d="M587.3 565l3.2 -9.6l1 -2.1l-3.3 10.3z"/>
<path color="#463cde" d="M584.1 572.9l3.2 -7.9l.9 -1.4l-3.2 8.4z"/>
<path color="#4537d5" d="M580.8 579.2l3.3 -6.3l.9 -.9l-3.3 6.8z"/>
<path color="#4332cb" d="M571.1 590.8l3.2 -2.9l3.3 -3.8l3.2 -4.9l.9 -.4l-3.2 5.2l-3.3 4.1l-3.2 3.1z"/>
<path color="#695bd5" d="M567.8 592.9l3.3 -2.1l.9 .4l-3.2 2.2z"/>
<path color="#6b63e5" d="M554.9 593.6l3.2 1l3.3 .2l3.2 -.6l3.2 -1.3l1 .5l-3.3 1.5l-3.2 .7l-3.3 0l-3.2 -.9z"/>
<path color="#6a5fde" d="M551.6 591.6l3.3 2l.9 1.1l-3.3 -1.9z"/>
<path color="#695bd5" d="M548.4 588.4l3.2 3.2l.9 1.2l-3.2 -3.2z"/>
<path color="#4332cb" d="M545.1 583.7l3.3 4.7l.9 1.2l-3.2 -4.7z"/>
<path color="#4537d5" d="M541.9 577.5l3.2 6.2l1 1.2l-3.3 -6.4z"/>
<path color="#463cde" d="M538.7 570.4l3.2 7.1l.9 1l-3.2 -7.5z"/>
<path color="#4741e5" d="M528.9 565.7l3.3 -3.3l3.2 2.1l3.3 5.9l.9 .6l-3.3 -6.9l-3.2 -3.1l-3.2 2.7z"/>
<path color="#463cde" d="M525.7 573l3.2 -7.3l1 -2l-3.3 7.3z"/>
<path color="#4537d5" d="M522.4 581.3l3.3 -8.3l.9 -2l-3.2 8.9z"/>
<path color="#4332cb" d="M519.2 588.9l3.2 -7.6l1 -1.4l-3.3 8.2z"/>
<path color="#422ec0" d="M512.7 600l3.3 -4.9l3.2 -6.2l.9 -.8l-3.2 6.6l-3.3 5.2z"/>
<path color="#402ab4" d="M503 608.8l6.5 -5.1l3.2 -3.7l.9 -.1l-3.2 3.9l-6.5 5.5zM643.3 595.5l6.5 4.7l6.5 3.3l.9 1.5l-6.5 -3.1l-6.4 -4.4z"/>
<path color="#422ec0" d="M636.9 588.9l6.4 6.6l1 2l-6.5 -6.4z"/>
<path color="#4332cb" d="M630.4 579l6.5 9.9l.9 2.2l-6.5 -9.5z"/>
<path color="#4537d5" d="M627.1 572.2l3.3 6.8l.9 2.6l-3.3 -6.4z"/>
<path color="#463cde" d="M623.9 564l3.2 8.2l.9 3l-3.2 -8z"/>
<path color="#4741e5" d="M620.6 554.1l3.3 9.9l.9 3.2l-3.2 -9.7z"/>
<path color="#4747eb" d="M617.4 542.8l3.2 11.3l1 3.4l-3.3 -11.5z"/>
<path color="#4852f4" d="M614.2 530.8l3.2 12l.9 3.2l-3.2 -12.5z"/>
<path color="#4758f8" d="M610.9 520l3.3 10.8l.9 2.7l-3.3 -12z"/>
<path color="#465efb" d="M607.7 513.2l3.2 6.8l.9 1.5l-3.2 -8.7z"/>
<path color="#4563fd" d="M604.4 512.6l3.3 .6l.9 -.4l-3.3 -2.4z"/>
<path color="#465efb" d="M601.2 518.7l3.2 -6.1l.9 -2.2l-3.2 4.8z"/>
<path color="#4758f8" d="M597.9 529.2l3.3 -10.5l.9 -3.5l-3.2 10.4z"/>
<path color="#4852f4" d="M594.7 541.5l3.2 -12.3l1 -3.6l-3.3 12.7z"/>
<path color="#484df0" d="M591.5 553.3l3.2 -11.8l.9 -3.2l-3.2 12.6z"/>
<path color="#4741e5" d="M588.2 563.6l3.3 -10.3l.9 -2.4l-3.3 11z"/>
<path color="#463cde" d="M585 572l3.2 -8.4l.9 -1.7l-3.2 9.1z"/>
<path color="#4537d5" d="M578.5 584l3.2 -5.2l3.3 -6.8l.9 -1l-3.2 7.2l-3.3 5.7z"/>
<path color="#4332cb" d="M572 591.2l3.2 -3.1l3.3 -4.1l.9 -.1l-3.2 4.4l-3.3 3.2z"/>
<path color="#695bd5" d="M568.8 593.4l3.2 -2.2l.9 .3l-3.2 2.4z"/>
<path color="#6a5fde" d="M565.5 594.9l3.3 -1.5l.9 .5l-3.3 1.6z"/>
<path color="#6b63e5" d="M555.8 594.7l3.2 .9l3.3 0l3.2 -.7l.9 .6l-3.2 .9l-3.2 .1l-3.3 -.8z"/>
<path color="#6a5fde" d="M552.5 592.8l3.3 1.9l.9 1l-3.2 -1.8z"/>
<path color="#695bd5" d="M549.3 589.6l3.2 3.2l1 1.1l-3.3 -3.1z"/>
<path color="#4332cb" d="M546.1 584.9l3.2 4.7l.9 1.2l-3.2 -4.7z"/>
<path color="#4537d5" d="M542.8 578.5l3.3 6.4l.9 1.2l-3.3 -6.4z"/>
<path color="#463cde" d="M539.6 571l3.2 7.5l.9 1.2l-3.2 -8z"/>
<path color="#4741e5" d="M526.6 571l3.3 -7.3l3.2 -2.7l3.2 3.1l3.3 6.9l.9 .7l-3.2 -7.8l-3.3 -4.4l-3.2 1.9l-3.3 7.3z"/>
<path color="#463cde" d="M523.4 579.9l3.2 -8.9l.9 -2.3l-3.2 9.5z"/>
<path color="#4537d5" d="M520.1 588.1l3.3 -8.2l.9 -1.7l-3.3 8.8z"/>
<path color="#4332cb" d="M516.9 594.7l3.2 -6.6l.9 -1.1l-3.2 7.2z"/>
<path color="#422ec0" d="M513.6 599.9l3.3 -5.2l.9 -.5l-3.2 5.5z"/>
<path color="#402ab4" d="M503.9 609.3l6.5 -5.5l3.2 -3.9l1 -.2l-3.3 4.2l-6.5 5.7zM644.3 597.5l6.4 4.4l6.5 3.1l.9 1.5l-6.4 -2.9l-6.5 -4.2z"/>
<path color="#422ec0" d="M634.5 586.9l3.3 4.2l6.5 6.4l.9 1.9l-6.5 -6.1l-3.3 -4.1z"/>
<path color="#4332cb" d="M631.3 581.6l3.2 5.3l.9 2.3l-3.2 -5z"/>
<path color="#4537d5" d="M628 575.2l3.3 6.4l.9 2.6l-3.2 -6.2z"/>
<path color="#463cde" d="M624.8 567.2l3.2 8l1 2.8l-3.3 -7.7z"/>
<path color="#4741e5" d="M621.6 557.5l3.2 9.7l.9 3.1l-3.2 -9.5z"/>
<path color="#4747eb" d="M618.3 546l3.3 11.5l.9 3.3l-3.3 -11.4z"/>
<path color="#4852f4" d="M615.1 533.5l3.2 12.5l.9 3.4l-3.2 -13z"/>
<path color="#4758f8" d="M611.8 521.5l3.3 12l.9 2.9l-3.2 -13.1z"/>
<path color="#465efb" d="M608.6 512.8l3.2 8.7l1 1.8l-3.3 -10.4z"/>
<path color="#4563fd" d="M602.1 515.2l3.2 -4.8l3.3 2.4l.9 .1l-3.2 -4.6l-3.3 3.4z"/>
<path color="#465efb" d="M598.9 525.6l3.2 -10.4l.9 -3.5l-3.2 9.8z"/>
<path color="#4758f8" d="M595.6 538.3l3.3 -12.7l.9 -4.1l-3.3 13.2z"/>
<path color="#484df0" d="M592.4 550.9l3.2 -12.6l.9 -3.6l-3.2 13.4z"/>
<path color="#4747eb" d="M589.1 561.9l3.3 -11l.9 -2.8l-3.2 11.9z"/>
<path color="#463cde" d="M585.9 571l3.2 -9.1l1 -1.9l-3.3 9.8z"/>
<path color="#4537d5" d="M579.4 583.9l3.3 -5.7l3.2 -7.2l.9 -1.2l-3.2 7.8l-3.3 6.1z"/>
<path color="#4332cb" d="M572.9 591.5l3.3 -3.2l3.2 -4.4l.9 -.2l-3.2 4.6l-3.3 3.6z"/>
<path color="#695bd5" d="M569.7 593.9l3.2 -2.4l.9 .4l-3.2 2.6z"/>
<path color="#6a5fde" d="M566.4 595.5l3.3 -1.6l.9 .6l-3.2 1.7z"/>
<path color="#6b63e5" d="M553.5 593.9l3.2 1.8l3.3 .8l3.2 -.1l3.2 -.9l1 .7l-3.3 1l-3.2 .2l-3.3 -.6l-3.2 -1.7z"/>
<path color="#695bd5" d="M550.2 590.8l3.3 3.1l.9 1.2l-3.3 -3z"/>
<path color="#4332cb" d="M547 586.1l3.2 4.7l.9 1.3l-3.2 -4.7z"/>
<path color="#4537d5" d="M543.7 579.7l3.3 6.4l.9 1.3l-3.2 -6.6z"/>
<path color="#463cde" d="M540.5 571.7l3.2 8l1 1.1l-3.3 -8.4z"/>
<path color="#4741e5" d="M537.3 563.9l3.2 7.8l.9 .7l-3.2 -8.7z"/>
<path color="#4747eb" d="M530.8 561.4l3.2 -1.9l3.3 4.4l.9 -.2l-3.3 -5.7l-3.2 .9z"/>
<path color="#4741e5" d="M527.5 568.7l3.3 -7.3l.9 -2.5l-3.3 7.2z"/>
<path color="#463cde" d="M524.3 578.2l3.2 -9.5l.9 -2.6l-3.2 10z"/>
<path color="#4537d5" d="M521 587l3.3 -8.8l.9 -2.1l-3.2 9.5z"/>
<path color="#4332cb" d="M517.8 594.2l3.2 -7.2l1 -1.4l-3.3 7.8z"/>
<path color="#422ec0" d="M511.3 603.9l3.3 -4.2l3.2 -5.5l.9 -.8l-3.2 6l-3.3 4.5z"/>
<path color="#402ab4" d="M501.6 611.6l6.5 -4.5l3.2 -3.2l.9 0l-3.2 3.4l-6.5 4.8zM641.9 596.6l6.5 5.1l6.5 3.5l.9 1.6l-6.5 -3.4l-6.4 -4.8z"/>
<path color="#422ec0" d="M635.4 589.2l6.5 7.4l1 2l-6.5 -7z"/>
<path color="#4332cb" d="M632.2 584.2l3.2 5l1 2.4l-3.3 -4.8z"/>
<path color="#4537d5" d="M625.7 570.3l3.3 7.7l3.2 6.2l.9 2.6l-3.2 -5.9l-3.3 -7.5z"/>
<path color="#463cde" d="M622.5 560.8l3.2 9.5l.9 3.1l-3.2 -9.2z"/>
<path color="#4747eb" d="M619.2 549.4l3.3 11.4l.9 3.4l-3.2 -11.3z"/>
<path color="#484df0" d="M616 536.4l3.2 13l1 3.5l-3.3 -13.2z"/>
<path color="#4758f8" d="M612.8 523.3l3.2 13.1l.9 3.3l-3.2 -14.1z"/>
<path color="#465efb" d="M609.5 512.9l3.3 10.4l.9 2.3l-3.3 -12.2z"/>
<path color="#4563fd" d="M599.8 521.5l3.2 -9.8l3.3 -3.4l3.2 4.6l.9 .5l-3.2 -6.8l-3.3 1.4l-3.2 9.2z"/>
<path color="#4758f8" d="M596.5 534.7l3.3 -13.2l.9 -4.3l-3.2 13.5z"/>
<path color="#484df0" d="M593.3 548.1l3.2 -13.4l1 -4l-3.3 14.2z"/>
<path color="#4747eb" d="M590.1 560l3.2 -11.9l.9 -3.2l-3.2 12.8z"/>
<path color="#4741e5" d="M586.8 569.8l3.3 -9.8l.9 -2.3l-3.3 10.6z"/>
<path color="#463cde" d="M583.6 577.6l3.2 -7.8l.9 -1.5l-3.2 8.5z"/>
<path color="#4537d5" d="M580.3 583.7l3.3 -6.1l.9 -.8l-3.3 6.5z"/>
<path color="#4332cb" d="M573.8 591.9l3.3 -3.6l3.2 -4.6l.9 -.4l-3.2 5l-3.2 3.8z"/>
<path color="#695bd5" d="M570.6 594.5l3.2 -2.6l1 .2l-3.3 2.8z"/>
<path color="#6a5fde" d="M567.4 596.2l3.2 -1.7l.9 .4l-3.2 2z"/>
<path color="#6b63e5" d="M554.4 595.1l3.2 1.7l3.3 .6l3.2 -.2l3.3 -1l.9 .7l-3.3 1.1l-3.2 .4l-3.3 -.6l-3.2 -1.5z"/>
<path color="#6a5fde" d="M551.1 592.1l3.3 3l.9 1.2l-3.2 -2.9z"/>
<path color="#695bd5" d="M547.9 587.4l3.2 4.7l1 1.3l-3.3 -4.6z"/>
<path color="#4537d5" d="M544.7 580.8l3.2 6.6l.9 1.4l-3.2 -6.7z"/>
<path color="#463cde" d="M541.4 572.4l3.3 8.4l.9 1.3l-3.3 -8.8z"/>
<path color="#4741e5" d="M538.2 563.7l3.2 8.7l.9 .9l-3.2 -9.7z"/>
<path color="#4747eb" d="M534.9 558l3.3 5.7l.9 -.1l-3.3 -7.2z"/>
<path color="#6c6cef" d="M531.7 558.9l3.2 -.9l.9 -1.6l-3.2 -.3z"/>
<path color="#4741e5" d="M528.4 566.1l3.3 -7.2l.9 -2.8l-3.2 7z"/>
<path color="#463cde" d="M525.2 576.1l3.2 -10l1 -3l-3.3 10.6z"/>
<path color="#4537d5" d="M522 585.6l3.2 -9.5l.9 -2.4l-3.2 10.3z"/>
<path color="#4332cb" d="M518.7 593.4l3.3 -7.8l.9 -1.6l-3.3 8.4z"/>
<path color="#422ec0" d="M512.2 603.9l3.3 -4.5l3.2 -6l.9 -1l-3.2 6.5l-3.3 4.8z"/>
<path color="#402ab4" d="M502.5 612.1l6.5 -4.8l3.2 -3.4l.9 -.2l-3.2 3.7l-6.5 5.1zM642.9 598.6l3.2 2.6l6.5 4l.9 1.7l-6.5 -3.8l-3.2 -2.5z"/>
<path color="#422ec0" d="M636.4 591.6l6.5 7l.9 2l-6.5 -6.7z"/>
<path color="#4332cb" d="M629.9 580.9l3.2 5.9l3.3 4.8l.9 2.3l-6.5 -10.3z"/>
<path color="#4537d5" d="M626.6 573.4l3.3 7.5l.9 2.7l-3.2 -7.1z"/>
<path color="#463cde" d="M623.4 564.2l3.2 9.2l1 3.1l-3.3 -9z"/>
<path color="#4741e5" d="M620.2 552.9l3.2 11.3l.9 3.3l-3.2 -11.1z"/>
<path color="#484df0" d="M616.9 539.7l3.3 13.2l.9 3.5l-3.3 -13.3z"/>
<path color="#4758f8" d="M613.7 525.6l3.2 14.1l.9 3.4l-3.2 -14.8z"/>
<path color="#465efb" d="M610.4 513.4l3.3 12.2l.9 2.7l-3.3 -13.9z"/>
<path color="#4269fe" d="M607.2 506.6l3.2 6.8l.9 1l-3.2 -9.2z"/>
<path color="#6887fe" d="M603.9 508l3.3 -1.4l.9 -1.4l-3.2 -.8z"/>
<path color="#4563fd" d="M600.7 517.2l3.2 -9.2l1 -3.6l-3.3 8.1z"/>
<path color="#465efb" d="M597.5 530.7l3.2 -13.5l.9 -4.7l-3.2 13.7z"/>
<path color="#4852f4" d="M594.2 544.9l3.3 -14.2l.9 -4.5l-3.3 15.1z"/>
<path color="#4747eb" d="M591 557.7l3.2 -12.8l.9 -3.6l-3.2 13.8z"/>
<path color="#4741e5" d="M587.7 568.3l3.3 -10.6l.9 -2.6l-3.3 11.5z"/>
<path color="#463cde" d="M584.5 576.8l3.2 -8.5l.9 -1.7l-3.2 9.2z"/>
<path color="#4537d5" d="M581.2 583.3l3.3 -6.5l.9 -1l-3.2 7.1z"/>
<path color="#4332cb" d="M574.8 592.1l3.2 -3.8l3.2 -5l1 -.4l-3.3 5.4l-3.2 4.1z"/>
<path color="#422ec0" d="M571.5 594.9l3.3 -2.8l.9 .3l-3.3 3z"/>
<path color="#6a5fde" d="M568.3 596.9l3.2 -2l.9 .5l-3.2 2.1z"/>
<path color="#6b63e5" d="M555.3 596.3l3.2 1.5l3.3 .6l3.2 -.4l3.3 -1.1l.9 .6l-3.3 1.3l-3.2 .5l-3.2 -.4l-3.3 -1.5z"/>
<path color="#6a5fde" d="M552.1 593.4l3.2 2.9l.9 1.1l-3.2 -2.7z"/>
<path color="#695bd5" d="M548.8 588.8l3.3 4.6l.9 1.3l-3.3 -4.6z"/>
<path color="#4537d5" d="M545.6 582.1l3.2 6.7l.9 1.3l-3.2 -6.7z"/>
<path color="#463cde" d="M542.3 573.3l3.3 8.8l.9 1.3l-3.3 -9.2z"/>
<path color="#4741e5" d="M539.1 563.6l3.2 9.7l.9 .9l-3.2 -10.7z"/>
<path color="#4747eb" d="M535.8 556.4l3.3 7.2l.9 -.1l-3.2 -8.7z"/>
<path color="#6c6cef" d="M532.6 556.1l3.2 .3l1 -1.6l-3.3 -1.8z"/>
<path color="#4747eb" d="M529.4 563.1l3.2 -7l.9 -3.1l-3.2 6.6z"/>
<path color="#4741e5" d="M526.1 573.7l3.3 -10.6l.9 -3.5l-3.3 11.2z"/>
<path color="#4537d5" d="M522.9 584l3.2 -10.3l.9 -2.9l-3.2 11.2z"/>
<path color="#4332cb" d="M519.6 592.4l3.3 -8.4l.9 -2l-3.3 9.2z"/>
<path color="#422ec0" d="M513.1 603.7l3.3 -4.8l3.2 -6.5l.9 -1.2l-3.2 7l-3.2 5.3z"/>
<path color="#402ab4" d="M503.4 612.5l6.5 -5.1l3.2 -3.7l1 -.2l-3.3 3.9l-6.5 5.5zM640.5 597.6l6.5 5.5l6.5 3.8l.9 1.7l-6.5 -3.7l-6.5 -5.3z"/>
<path color="#422ec0" d="M634 589.3l6.5 8.3l.9 2l-6.4 -7.8z"/>
<path color="#4332cb" d="M630.8 583.6l3.2 5.7l1 2.5l-3.3 -5.5z"/>
<path color="#4537d5" d="M627.6 576.5l3.2 7.1l.9 2.7l-3.2 -6.8z"/>
<path color="#463cde" d="M624.3 567.5l3.3 9l.9 3l-3.3 -8.6z"/>
<path color="#4741e5" d="M621.1 556.4l3.2 11.1l.9 3.4l-3.2 -10.9z"/>
<path color="#484df0" d="M617.8 543.1l3.3 13.3l.9 3.6l-3.3 -13.3z"/>
<path color="#4852f4" d="M614.6 528.3l3.2 14.8l.9 3.6l-3.2 -15.4z"/>
<path color="#465efb" d="M611.3 514.4l3.3 13.9l.9 3l-3.2 -15.4z"/>
<path color="#4269fe" d="M608.1 505.2l3.2 9.2l1 1.5l-3.3 -11.6z"/>
<path color="#6887fe" d="M604.9 504.4l3.2 .8l.9 -.9l-3.2 -3.4z"/>
<path color="#4269fe" d="M601.6 512.5l3.3 -8.1l.9 -3.5l-3.3 6.6z"/>
<path color="#465efb" d="M598.4 526.2l3.2 -13.7l.9 -5l-3.2 13.6z"/>
<path color="#4758f8" d="M595.1 541.3l3.3 -15.1l.9 -5.1l-3.3 16z"/>
<path color="#484df0" d="M591.9 555.1l3.2 -13.8l.9 -4.2l-3.2 15z"/>
<path color="#4741e5" d="M588.6 566.6l3.3 -11.5l.9 -3l-3.2 12.5z"/>
<path color="#463cde" d="M585.4 575.8l3.2 -9.2l1 -2l-3.3 10z"/>
<path color="#4537d5" d="M582.2 582.9l3.2 -7.1l.9 -1.2l-3.2 7.7z"/>
<path color="#4332cb" d="M575.7 592.4l3.2 -4.1l3.3 -5.4l.9 -.6l-3.3 5.9l-3.2 4.4z"/>
<path color="#422ec0" d="M572.4 595.4l3.3 -3l.9 .2l-3.3 3.3z"/>
<path color="#695bd5" d="M569.2 597.5l3.2 -2.1l.9 .5l-3.2 2.3z"/>
<path color="#6a5fde" d="M565.9 598.8l3.3 -1.3l.9 .7l-3.2 1.5z"/>
<path color="#6b63e5" d="M556.2 597.4l3.3 1.5l3.2 .4l3.2 -.5l1 .9l-3.3 .6l-3.2 -.3l-3.3 -1.3z"/>
<path color="#6a5fde" d="M553 594.7l3.2 2.7l.9 1.3l-3.2 -2.7z"/>
<path color="#695bd5" d="M549.7 590.1l3.3 4.6l.9 1.3l-3.3 -4.5z"/>
<path color="#4537d5" d="M546.5 583.4l3.2 6.7l.9 1.4l-3.2 -6.8z"/>
<path color="#463cde" d="M543.2 574.2l3.3 9.2l.9 1.3l-3.2 -9.6z"/>
<path color="#4741e5" d="M540 563.5l3.2 10.7l1 .9l-3.3 -11.5z"/>
<path color="#4747eb" d="M536.8 554.8l3.2 8.7l.9 .1l-3.2 -10.4z"/>
<path color="#6c70f3" d="M533.5 553l3.3 1.8l.9 -1.6l-3.3 -3.6z"/>
<path color="#4747eb" d="M530.3 559.6l3.2 -6.6l.9 -3.4l-3.2 6z"/>
<path color="#4741e5" d="M527 570.8l3.3 -11.2l.9 -4l-3.3 11.7z"/>
<path color="#463cde" d="M523.8 582l3.2 -11.2l.9 -3.5l-3.2 12.3z"/>
<path color="#4537d5" d="M520.5 591.2l3.3 -9.2l.9 -2.4l-3.2 10.1z"/>
<path color="#4332cb" d="M517.3 598.2l3.2 -7l1 -1.5l-3.3 7.7z"/>
<path color="#422ec0" d="M514.1 603.5l3.2 -5.3l.9 -.8l-3.2 5.7z"/>
<path color="#402ab4" d="M504.3 612.9l6.5 -5.5l3.3 -3.9l.9 -.4l-3.3 4.3l-6.5 5.9zM641.4 599.6l3.3 2.9l6.5 4.4l.9 1.7l-6.5 -4.1l-3.2 -2.8z"/>
<path color="#422ec0" d="M635 591.8l6.4 7.8l1 2.1l-6.5 -7.5z"/>
<path color="#4332cb" d="M631.7 586.3l3.3 5.5l.9 2.4l-3.3 -5.2z"/>
<path color="#4537d5" d="M628.5 579.5l3.2 6.8l.9 2.7l-3.2 -6.6z"/>
<path color="#463cde" d="M625.2 570.9l3.3 8.6l.9 2.9l-3.3 -8.3z"/>
<path color="#4741e5" d="M622 560l3.2 10.9l.9 3.2l-3.2 -10.5z"/>
<path color="#4747eb" d="M618.7 546.7l3.3 13.3l.9 3.6l-3.2 -13.2z"/>
<path color="#4852f4" d="M615.5 531.3l3.2 15.4l1 3.7l-3.3 -15.7z"/>
<path color="#465efb" d="M612.3 515.9l3.2 15.4l.9 3.4l-3.2 -16.7z"/>
<path color="#4269fe" d="M609 504.3l3.3 11.6l.9 2.1l-3.3 -14.1z"/>
<path color="#3e6fff" d="M605.8 500.9l3.2 3.4l.9 -.4l-3.2 -6.2z"/>
<path color="#4269fe" d="M602.5 507.5l3.3 -6.6l.9 -3.2l-3.3 4.5z"/>
<path color="#4563fd" d="M599.3 521.1l3.2 -13.6l.9 -5.3l-3.2 13.3z"/>
<path color="#4758f8" d="M596 537.1l3.3 -16l.9 -5.6l-3.2 16.9z"/>
<path color="#484df0" d="M592.8 552.1l3.2 -15l1 -4.7l-3.3 16.2z"/>
<path color="#4747eb" d="M589.6 564.6l3.2 -12.5l.9 -3.5l-3.2 13.7z"/>
<path color="#463cde" d="M586.3 574.6l3.3 -10l.9 -2.3l-3.3 10.9z"/>
<path color="#4537d5" d="M583.1 582.3l3.2 -7.7l.9 -1.4l-3.2 8.4z"/>
<path color="#4332cb" d="M576.6 592.6l3.2 -4.4l3.3 -5.9l.9 -.7l-3.3 6.3l-3.2 4.9z"/>
<path color="#422ec0" d="M573.3 595.9l3.3 -3.3l.9 .2l-3.2 3.5z"/>
<path color="#695bd5" d="M570.1 598.2l3.2 -2.3l1 .4l-3.3 2.6z"/>
<path color="#6a5fde" d="M566.9 599.7l3.2 -1.5l.9 .7l-3.2 1.6z"/>
<path color="#6b63e5" d="M553.9 596l3.2 2.7l3.3 1.3l3.2 .3l3.3 -.6l.9 .8l-3.3 .8l-3.2 -.2l-3.3 -1.2l-3.2 -2.6z"/>
<path color="#6a5fde" d="M547.4 584.7l3.2 6.8l3.3 4.5l.9 1.3l-3.2 -4.4l-3.3 -6.9z"/>
<path color="#463cde" d="M544.2 575.1l3.2 9.6l.9 1.3l-3.2 -9.9z"/>
<path color="#4741e5" d="M540.9 563.6l3.3 11.5l.9 1l-3.3 -12.4z"/>
<path color="#4747eb" d="M537.7 553.2l3.2 10.4l.9 .1l-3.2 -12.2z"/>
<path color="#6c70f3" d="M534.4 549.6l3.3 3.6l.9 -1.7l-3.3 -5.6z"/>
<path color="#484df0" d="M531.2 555.6l3.2 -6l.9 -3.7l-3.2 5.1z"/>
<path color="#4747eb" d="M527.9 567.3l3.3 -11.7l.9 -4.6l-3.2 12.3z"/>
<path color="#463cde" d="M524.7 579.6l3.2 -12.3l1 -4l-3.3 13.4z"/>
<path color="#4537d5" d="M521.5 589.7l3.2 -10.1l.9 -2.9l-3.2 11.2z"/>
<path color="#4332cb" d="M518.2 597.4l3.3 -7.7l.9 -1.8l-3.3 8.4z"/>
<path color="#422ec0" d="M515 603.1l3.2 -5.7l.9 -1.1l-3.2 6.3z"/>
<path color="#402ab4" d="M505.2 613.3l6.5 -5.9l3.3 -4.3l.9 -.5l-3.3 4.7l-6.4 6.3zM642.4 601.7l3.2 2.8l6.5 4.1l.9 1.8l-6.5 -4l-3.2 -2.6z"/>
<path color="#422ec0" d="M635.9 594.2l6.5 7.5l.9 2.1l-6.5 -7.3z"/>
<path color="#4332cb" d="M629.4 582.4l3.2 6.6l3.3 5.2l.9 2.3l-3.3 -4.9l-3.2 -6.3z"/>
<path color="#4537d5" d="M626.1 574.1l3.3 8.3l.9 2.9l-3.2 -8z"/>
<path color="#463cde" d="M622.9 563.6l3.2 10.5l1 3.2l-3.3 -10.2z"/>
<path color="#4747eb" d="M619.7 550.4l3.2 13.2l.9 3.5l-3.2 -12.9z"/>
<path color="#4852f4" d="M616.4 534.7l3.3 15.7l.9 3.8l-3.3 -15.9z"/>
<path color="#465efb" d="M613.2 518l3.2 16.7l.9 3.6l-3.2 -17.8z"/>
<path color="#4269fe" d="M609.9 503.9l3.3 14.1l.9 2.5l-3.3 -16.4z"/>
<path color="#3e6fff" d="M606.7 497.7l3.2 6.2l.9 .2l-3.2 -9.4z"/>
<path color="#658cff" d="M603.4 502.2l3.3 -4.5l.9 -3l-3.2 2z"/>
<path color="#4269fe" d="M600.2 515.5l3.2 -13.3l1 -5.5l-3.3 12.6z"/>
<path color="#465efb" d="M597 532.4l3.2 -16.9l.9 -6.2l-3.2 17.6z"/>
<path color="#4852f4" d="M593.7 548.6l3.3 -16.2l.9 -5.5l-3.3 17.6z"/>
<path color="#4747eb" d="M590.5 562.3l3.2 -13.7l.9 -4.1l-3.2 15.1z"/>
<path color="#4741e5" d="M587.2 573.2l3.3 -10.9l.9 -2.7l-3.3 11.9z"/>
<path color="#4537d5" d="M580.7 587.9l3.3 -6.3l3.2 -8.4l.9 -1.7l-3.2 9.2l-3.2 6.9z"/>
<path color="#4332cb" d="M577.5 592.8l3.2 -4.9l1 -.3l-3.3 5.3z"/>
<path color="#422ec0" d="M574.3 596.3l3.2 -3.5l.9 .1l-3.2 3.8z"/>
<path color="#695bd5" d="M571 598.9l3.3 -2.6l.9 .4l-3.3 2.8z"/>
<path color="#6a5fde" d="M567.8 600.5l3.2 -1.6l.9 .6l-3.2 1.9z"/>
<path color="#6b63e5" d="M554.8 597.3l3.2 2.6l3.3 1.2l3.2 .2l3.3 -.8l.9 .9l-3.3 .9l-3.2 0l-3.2 -1.1l-3.3 -2.5z"/>
<path color="#6a5fde" d="M551.6 592.9l3.2 4.4l.9 1.4l-3.2 -4.4z"/>
<path color="#695bd5" d="M548.3 586l3.3 6.9l.9 1.4l-3.3 -7z"/>
<path color="#463cde" d="M545.1 576.1l3.2 9.9l.9 1.3l-3.2 -10.1z"/>
<path color="#4741e5" d="M541.8 563.7l3.3 12.4l.9 1.1l-3.3 -13.4z"/>
<path color="#484df0" d="M538.6 551.5l3.2 12.2l.9 .1l-3.2 -13.9z"/>
<path color="#6c75f6" d="M535.3 545.9l3.3 5.6l.9 -1.6l-3.2 -8z"/>
<path color="#4852f4" d="M532.1 551l3.2 -5.1l1 -4l-3.3 3.8z"/>
<path color="#4747eb" d="M528.9 563.3l3.2 -12.3l.9 -5.3l-3.2 12.9z"/>
<path color="#4741e5" d="M525.6 576.7l3.3 -13.4l.9 -4.7l-3.3 14.7z"/>
<path color="#4537d5" d="M522.4 587.9l3.2 -11.2l.9 -3.4l-3.2 12.4z"/>
<path color="#4332cb" d="M519.1 596.3l3.3 -8.4l.9 -2.2l-3.2 9.4z"/>
<path color="#422ec0" d="M512.6 607.3l3.3 -4.7l3.2 -6.3l1 -1.2l-3.3 6.8l-3.2 5.1z"/>
<path color="#402ab4" d="M506.2 613.6l6.4 -6.3l1 -.3l-6.5 6.9zM640 600.5l3.3 3.3l6.5 4.8l.9 1.8l-6.5 -4.6l-3.3 -3.1z"/>
<path color="#422ec0" d="M633.5 591.6l6.5 8.9l.9 2.2l-6.4 -8.5z"/>
<path color="#4332cb" d="M630.3 585.3l3.2 6.3l1 2.6l-3.3 -6z"/>
<path color="#4537d5" d="M627.1 577.3l3.2 8l.9 2.9l-3.2 -7.7z"/>
<path color="#463cde" d="M623.8 567.1l3.3 10.2l.9 3.2l-3.3 -9.8z"/>
<path color="#4747eb" d="M620.6 554.2l3.2 12.9l.9 3.6l-3.2 -12.7z"/>
<path color="#484df0" d="M617.3 538.3l3.3 15.9l.9 3.8l-3.3 -15.9z"/>
<path color="#465efb" d="M614.1 520.5l3.2 17.8l.9 3.8l-3.2 -18.5z"/>
<path color="#4269fe" d="M610.8 504.1l3.3 16.4l.9 3.1l-3.2 -18.6z"/>
<path color="#3e6fff" d="M607.6 494.7l3.2 9.4l1 .9l-3.3 -12.7z"/>
<path color="#6091fe" d="M604.4 496.7l3.2 -2l.9 -2.4l-3.2 -1.1z"/>
<path color="#3e6fff" d="M601.1 509.3l3.3 -12.6l.9 -5.5l-3.3 11.3z"/>
<path color="#4563fd" d="M597.9 526.9l3.2 -17.6l.9 -6.8l-3.2 18.2z"/>
<path color="#4758f8" d="M594.6 544.5l3.3 -17.6l.9 -6.2l-3.3 19.1z"/>
<path color="#484df0" d="M591.4 559.6l3.2 -15.1l.9 -4.7l-3.2 16.5z"/>
<path color="#4741e5" d="M588.1 571.5l3.3 -11.9l.9 -3.3l-3.2 13.2z"/>
<path color="#463cde" d="M584.9 580.7l3.2 -9.2l1 -2l-3.3 10.1z"/>
<path color="#4537d5" d="M581.7 587.6l3.2 -6.9l.9 -1.1l-3.2 7.6z"/>
<path color="#4332cb" d="M575.2 596.7l3.2 -3.8l3.3 -5.3l.9 -.4l-3.3 5.7l-3.2 4.3z"/>
<path color="#6858cc" d="M571.9 599.5l3.3 -2.8l.9 .5l-3.2 3z"/>
<path color="#6a5fde" d="M568.7 601.4l3.2 -1.9l1 .7l-3.3 2.1z"/>
<path color="#6b63e5" d="M555.7 598.7l3.3 2.5l3.2 1.1l3.2 0l3.3 -.9l.9 .9l-3.2 1.1l-3.3 .2l-3.2 -1.1l-3.3 -2.4z"/>
<path color="#6a5fde" d="M552.5 594.3l3.2 4.4l.9 1.4l-3.2 -4.4z"/>
<path color="#695bd5" d="M549.2 587.3l3.3 7l.9 1.4l-3.2 -7.1z"/>
<path color="#463cde" d="M546 577.2l3.2 10.1l1 1.3l-3.3 -10.4z"/>
<path color="#4741e5" d="M542.7 563.8l3.3 13.4l.9 1l-3.2 -14.2z"/>
<path color="#484df0" d="M539.5 549.9l3.2 13.9l1 .2l-3.3 -15.8z"/>
<path color="#4852f4" d="M536.3 541.9l3.2 8l.9 -1.7l-3.2 -10.6z"/>
<path color="#6c75f6" d="M533 545.7l3.3 -3.8l.9 -4.3l-3.3 2.1z"/>
<path color="#484df0" d="M529.8 558.6l3.2 -12.9l.9 -6l-3.2 13.3z"/>
<path color="#4741e5" d="M526.5 573.3l3.3 -14.7l.9 -5.6l-3.2 16.2z"/>
<path color="#463cde" d="M523.3 585.7l3.2 -12.4l1 -4.1l-3.3 13.9z"/>
<path color="#4332cb" d="M520.1 595.1l3.2 -9.4l.9 -2.6l-3.2 10.4z"/>
<path color="#422ec0" d="M513.6 607l3.2 -5.1l3.3 -6.8l.9 -1.6l-3.3 7.6l-3.2 5.6z"/>
<path color="#402ab4" d="M503.8 616.3l6.5 -5.4l3.3 -3.9l.9 -.3l-3.3 4.2l-6.4 6zM640.9 602.7l3.3 3.1l6.5 4.6l.9 1.8l-6.5 -4.3l-3.2 -3z"/>
<path color="#422ec0" d="M634.5 594.2l6.4 8.5l1 2.2l-6.5 -8.2z"/>
<path color="#4332cb" d="M631.2 588.2l3.3 6l.9 2.5l-3.3 -5.7z"/>
<path color="#4537d5" d="M628 580.5l3.2 7.7l.9 2.8l-3.2 -7.4z"/>
<path color="#463cde" d="M624.7 570.7l3.3 9.8l.9 3.1l-3.3 -9.5z"/>
<path color="#4741e5" d="M621.5 558l3.2 12.7l.9 3.4l-3.2 -12.3z"/>
<path color="#484df0" d="M618.2 542.1l3.3 15.9l.9 3.8l-3.2 -15.7z"/>
<path color="#4758f8" d="M615 523.6l3.2 18.5l1 4l-3.3 -19.1z"/>
<path color="#4269fe" d="M611.8 505l3.2 18.6l.9 3.4l-3.2 -20.4z"/>
<path color="#3875fe" d="M608.5 492.3l3.3 12.7l.9 1.6l-3.3 -16.2z"/>
<path color="#88acff" d="M605.3 491.2l3.2 1.1l.9 -1.9l-3.2 -4.8z"/>
<path color="#3875fe" d="M602 502.5l3.3 -11.3l.9 -5.6l-3.2 9.4z"/>
<path color="#4269fe" d="M598.8 520.7l3.2 -18.2l1 -7.5l-3.3 18.6z"/>
<path color="#4758f8" d="M595.5 539.8l3.3 -19.1l.9 -7.1l-3.2 20.7z"/>
<path color="#484df0" d="M592.3 556.3l3.2 -16.5l1 -5.5l-3.3 18.2z"/>
<path color="#4741e5" d="M589.1 569.5l3.2 -13.2l.9 -3.8l-3.2 14.6z"/>
<path color="#463cde" d="M585.8 579.6l3.3 -10.1l.9 -2.4l-3.3 11.1z"/>
<path color="#4537d5" d="M582.6 587.2l3.2 -7.6l.9 -1.4l-3.2 8.4z"/>
<path color="#4332cb" d="M576.1 597.2l3.2 -4.3l3.3 -5.7l.9 -.6l-3.2 6.3l-3.3 4.7z"/>
<path color="#422ec0" d="M572.9 600.2l3.2 -3l.9 .4l-3.2 3.4z"/>
<path color="#695bd5" d="M569.6 602.3l3.3 -2.1l.9 .8l-3.3 2.3z"/>
<path color="#6b63e5" d="M553.4 595.7l3.2 4.4l3.3 2.4l3.2 1.1l3.3 -.2l3.2 -1.1l.9 1l-3.2 1.3l-3.3 .3l-3.2 -1l-3.2 -2.4l-3.3 -4.5z"/>
<path color="#695bd5" d="M550.2 588.6l3.2 7.1l.9 1.3l-3.2 -7.1z"/>
<path color="#463cde" d="M546.9 578.2l3.3 10.4l.9 1.3l-3.3 -10.7z"/>
<path color="#4741e5" d="M543.7 564l3.2 14.2l.9 1l-3.2 -15z"/>
<path color="#484df0" d="M540.4 548.2l3.3 15.8l.9 .2l-3.3 -17.7z"/>
<path color="#4758f8" d="M537.2 537.6l3.2 10.6l.9 -1.7l-3.2 -13.5z"/>
<path color="#919bfb" d="M533.9 539.7l3.3 -2.1l.9 -4.6l-3.2 0z"/>
<path color="#4852f4" d="M530.7 553l3.2 -13.3l1 -6.7l-3.3 13.5z"/>
<path color="#4747eb" d="M527.5 569.2l3.2 -16.2l.9 -6.5l-3.2 17.9z"/>
<path color="#463cde" d="M524.2 583.1l3.3 -13.9l.9 -4.8l-3.3 15.5z"/>
<path color="#4537d5" d="M521 593.5l3.2 -10.4l.9 -3.2l-3.2 11.7z"/>
<path color="#4332cb" d="M517.7 601.1l3.3 -7.6l.9 -1.9l-3.3 8.4z"/>
<path color="#422ec0" d="M514.5 606.7l3.2 -5.6l.9 -1.1l-3.2 6.2z"/>
<path color="#402ab4" d="M504.8 616.9l6.4 -6l3.3 -4.2l.9 -.5l-3.2 4.7l-6.5 6.5zM638.6 601.3l3.3 3.6l6.4 5.4l1 1.9l-6.5 -5.1l-3.3 -3.5z"/>
<path color="#422ec0" d="M635.4 596.7l3.2 4.6l.9 2.3l-3.2 -4.4z"/>
<path color="#4332cb" d="M628.9 583.6l3.2 7.4l3.3 5.7l.9 2.5l-3.2 -5.5l-3.3 -7z"/>
<path color="#463cde" d="M625.6 574.1l3.3 9.5l.9 3.1l-3.2 -9.1z"/>
<path color="#4741e5" d="M622.4 561.8l3.2 12.3l1 3.5l-3.3 -11.9z"/>
<path color="#484df0" d="M619.2 546.1l3.2 15.7l.9 3.9l-3.2 -15.5z"/>
<path color="#4758f8" d="M615.9 527l3.3 19.1l.9 4.1l-3.3 -19.3z"/>
<path color="#4563fd" d="M612.7 506.6l3.2 20.4l.9 3.9l-3.2 -22z"/>
<path color="#3875fe" d="M609.4 490.4l3.3 16.2l.9 2.3l-3.2 -19.5z"/>
<path color="#5b96fd" d="M606.2 485.6l3.2 4.8l1 -1l-3.3 -9.1z"/>
<path color="#327cfc" d="M603 495l3.2 -9.4l.9 -5.3l-3.2 6.7z"/>
<path color="#3e6fff" d="M599.7 513.6l3.3 -18.6l.9 -8l-3.3 18.6z"/>
<path color="#465efb" d="M596.5 534.3l3.2 -20.7l.9 -8l-3.2 22.3z"/>
<path color="#4852f4" d="M593.2 552.5l3.3 -18.2l.9 -6.4l-3.3 20.1z"/>
<path color="#4747eb" d="M590 567.1l3.2 -14.6l.9 -4.5l-3.2 16.2z"/>
<path color="#463cde" d="M586.7 578.2l3.3 -11.1l.9 -2.9l-3.2 12.3z"/>
<path color="#4537d5" d="M583.5 586.6l3.2 -8.4l1 -1.7l-3.3 9.3z"/>
<path color="#4332cb" d="M577 597.6l3.3 -4.7l3.2 -6.3l.9 -.8l-3.2 6.9l-3.3 5.2z"/>
<path color="#422ec0" d="M573.8 601l3.2 -3.4l.9 .3l-3.2 3.8z"/>
<path color="#695bd5" d="M570.5 603.3l3.3 -2.3l.9 .7l-3.3 2.6z"/>
<path color="#6a5fde" d="M567.3 604.6l3.2 -1.3l.9 1l-3.2 1.5z"/>
<path color="#6b63e5" d="M554.3 597l3.3 4.5l3.2 2.4l3.2 1l3.3 -.3l.9 1.2l-3.2 .4l-3.3 -.8l-3.2 -2.5l-3.3 -4.5z"/>
<path color="#6a5fde" d="M547.8 579.2l3.3 10.7l3.2 7.1l.9 1.4l-3.2 -7.2l-3.3 -11.1z"/>
<path color="#4741e5" d="M544.6 564.2l3.2 15l.9 .9l-3.2 -15.7z"/>
<path color="#484df0" d="M541.3 546.5l3.3 17.7l.9 .2l-3.2 -19.5z"/>
<path color="#4758f8" d="M538.1 533l3.2 13.5l1 -1.6l-3.3 -16.8z"/>
<path color="#909efc" d="M534.9 533l3.2 0l.9 -4.9l-3.2 -2.8z"/>
<path color="#4758f8" d="M531.6 546.5l3.3 -13.5l.9 -7.7l-3.3 13.6z"/>
<path color="#484df0" d="M528.4 564.4l3.2 -17.9l.9 -7.6l-3.2 19.7z"/>
<path color="#4741e5" d="M525.1 579.9l3.3 -15.5l.9 -5.8l-3.3 17.5z"/>
<path color="#4537d5" d="M521.9 591.6l3.2 -11.7l.9 -3.8l-3.2 13.2z"/>
<path color="#4332cb" d="M518.6 600l3.3 -8.4l.9 -2.3l-3.2 9.4z"/>
<path color="#422ec0" d="M515.4 606.2l3.2 -6.2l1 -1.3l-3.3 6.9z"/>
<path color="#402ab4" d="M505.7 617.4l6.5 -6.5l3.2 -4.7l.9 -.6l-3.2 5.2l-6.5 7.1zM639.5 603.6l3.3 3.5l6.5 5.1l.9 1.9l-6.5 -4.8l-3.2 -3.3z"/>
<path color="#422ec0" d="M633.1 593.7l3.2 5.5l3.2 4.4l1 2.4l-3.3 -4.2l-3.2 -5.3z"/>
<path color="#4332cb" d="M629.8 586.7l3.3 7l.9 2.8l-3.3 -6.8z"/>
<path color="#4537d5" d="M626.6 577.6l3.2 9.1l.9 3l-3.2 -8.7z"/>
<path color="#4741e5" d="M623.3 565.7l3.3 11.9l.9 3.4l-3.3 -11.5z"/>
<path color="#4747eb" d="M620.1 550.2l3.2 15.5l.9 3.8l-3.2 -15.1z"/>
<path color="#4852f4" d="M616.8 530.9l3.3 19.3l.9 4.2l-3.2 -19.4z"/>
<path color="#4563fd" d="M613.6 508.9l3.2 22l1 4.1l-3.3 -23.1z"/>
<path color="#3875fe" d="M610.4 489.4l3.2 19.5l.9 3l-3.2 -22.7z"/>
<path color="#2f81fa" d="M607.1 480.3l3.3 9.1l.9 -.2l-3.3 -13.8z"/>
<path color="#589bfb" d="M603.9 487l3.2 -6.7l.9 -4.9l-3.2 3z"/>
<path color="#3875fe" d="M600.6 505.6l3.3 -18.6l.9 -8.6l-3.3 18.1z"/>
<path color="#4563fd" d="M597.4 527.9l3.2 -22.3l.9 -9.1l-3.2 23.8z"/>
<path color="#4758f8" d="M594.1 548l3.3 -20.1l.9 -7.6l-3.2 22.4z"/>
<path color="#4747eb" d="M590.9 564.2l3.2 -16.2l1 -5.3l-3.3 18z"/>
<path color="#4741e5" d="M587.7 576.5l3.2 -12.3l.9 -3.5l-3.2 13.8z"/>
<path color="#4537d5" d="M584.4 585.8l3.3 -9.3l.9 -2l-3.3 10.3z"/>
<path color="#4332cb" d="M577.9 597.9l3.3 -5.2l3.2 -6.9l.9 -1l-3.2 7.7l-3.3 5.8z"/>
<path color="#422ec0" d="M574.7 601.7l3.2 -3.8l.9 .4l-3.2 4.2z"/>
<path color="#695bd5" d="M571.4 604.3l3.3 -2.6l.9 .8l-3.2 2.9z"/>
<path color="#6a5fde" d="M568.2 605.8l3.2 -1.5l1 1.1l-3.3 1.8z"/>
<path color="#6b63e5" d="M555.2 598.4l3.3 4.5l3.2 2.5l3.3 .8l3.2 -.4l.9 1.4l-3.2 .5l-3.3 -.8l-3.2 -2.5l-3.3 -4.6z"/>
<path color="#6a5fde" d="M548.7 580.1l3.3 11.1l3.2 7.2l.9 1.4l-3.2 -7.4l-3.2 -11.4z"/>
<path color="#4741e5" d="M545.5 564.4l3.2 15.7l1 .9l-3.3 -16.4z"/>
<path color="#4852f4" d="M542.3 544.9l3.2 19.5l.9 .2l-3.2 -21.4z"/>
<path color="#465efb" d="M539 528.1l3.3 16.8l.9 -1.7l-3.3 -20.2z"/>
<path color="#8fa2fe" d="M535.8 525.3l3.2 2.8l.9 -5.1l-3.2 -6.2z"/>
<path color="#465efb" d="M532.5 538.9l3.3 -13.6l.9 -8.5l-3.3 13.1z"/>
<path color="#4852f4" d="M529.3 558.6l3.2 -19.7l.9 -9l-3.2 21.8z"/>
<path color="#4741e5" d="M526 576.1l3.3 -17.5l.9 -6.9l-3.2 19.9z"/>
<path color="#463cde" d="M522.8 589.3l3.2 -13.2l1 -4.5l-3.3 14.9z"/>
<path color="#4332cb" d="M519.6 598.7l3.2 -9.4l.9 -2.8l-3.2 10.6z"/>
<path color="#422ec0" d="M513.1 610.8l3.2 -5.2l3.3 -6.9l.9 -1.6l-3.3 7.7l-3.2 5.8z"/>
<path color="#402ab4" d="M506.6 617.9l6.5 -7.1l.9 -.2l-6.5 7.8zM640.5 606l6.4 6l1 2l-6.5 -5.7z"/>
<path color="#422ec0" d="M634 596.5l3.2 5.3l3.3 4.2l.9 2.3l-3.3 -4l-3.2 -5.1z"/>
<path color="#4332cb" d="M630.7 589.7l3.3 6.8l.9 2.7l-3.3 -6.4z"/>
<path color="#4537d5" d="M627.5 581l3.2 8.7l.9 3.1l-3.2 -8.4z"/>
<path color="#463cde" d="M624.2 569.5l3.3 11.5l.9 3.4l-3.2 -11.1z"/>
<path color="#4747eb" d="M621 554.4l3.2 15.1l1 3.8l-3.3 -14.7z"/>
<path color="#4852f4" d="M617.8 535l3.2 19.4l.9 4.2l-3.2 -19.2z"/>
<path color="#4563fd" d="M614.5 511.9l3.3 23.1l.9 4.4l-3.3 -23.9z"/>
<path color="#3875fe" d="M611.3 489.2l3.2 22.7l.9 3.6l-3.2 -25.6z"/>
<path color="#2f81fa" d="M608 475.4l3.3 13.8l.9 .7l-3.3 -18.7z"/>
<path color="#81b7fa" d="M604.8 478.4l3.2 -3l.9 -4.2l-3.2 -1.6z"/>
<path color="#327cfc" d="M601.5 496.5l3.3 -18.1l.9 -8.8l-3.2 16.6z"/>
<path color="#4269fe" d="M598.3 520.3l3.2 -23.8l1 -10.3l-3.3 25.3z"/>
<path color="#465efb" d="M595.1 542.7l3.2 -22.4l.9 -8.8l-3.2 24.8z"/>
<path color="#484df0" d="M591.8 560.7l3.3 -18l.9 -6.4l-3.3 20.2z"/>
<path color="#4741e5" d="M588.6 574.5l3.2 -13.8l.9 -4.2l-3.2 15.5z"/>
<path color="#463cde" d="M585.3 584.8l3.3 -10.3l.9 -2.5l-3.3 11.5z"/>
<path color="#4537d5" d="M582.1 592.5l3.2 -7.7l.9 -1.3l-3.2 8.6z"/>
<path color="#4332cb" d="M578.8 598.3l3.3 -5.8l.9 -.4l-3.2 6.4z"/>
<path color="#422ec0" d="M575.6 602.5l3.2 -4.2l1 .2l-3.3 4.8z"/>
<path color="#695bd5" d="M572.4 605.4l3.2 -2.9l.9 .8l-3.2 3.3z"/>
<path color="#6a5fde" d="M569.1 607.2l3.3 -1.8l.9 1.2l-3.3 2z"/>
<path color="#6b63e5" d="M556.1 599.8l3.3 4.6l3.2 2.5l3.3 .8l3.2 -.5l.9 1.4l-3.2 .7l-3.3 -.8l-3.2 -2.6l-3.2 -4.7z"/>
<path color="#6a5fde" d="M549.7 581l3.2 11.4l3.2 7.4l1 1.4l-3.3 -7.7l-3.2 -11.6z"/>
<path color="#4741e5" d="M546.4 564.6l3.3 16.4l.9 .9l-3.3 -17.2z"/>
<path color="#4852f4" d="M543.2 543.2l3.2 21.4l.9 .1l-3.2 -23.1z"/>
<path color="#4563fd" d="M539.9 523l3.3 20.2l.9 -1.6l-3.3 -23.9z"/>
<path color="#8ea5fe" d="M536.7 516.8l3.2 6.2l.9 -5.3l-3.2 -10.4z"/>
<path color="#4563fd" d="M533.4 529.9l3.3 -13.1l.9 -9.5l-3.2 12.2z"/>
<path color="#4758f8" d="M530.2 551.7l3.2 -21.8l1 -10.4l-3.3 24z"/>
<path color="#4747eb" d="M527 571.6l3.2 -19.9l.9 -8.2l-3.2 22.6z"/>
<path color="#463cde" d="M523.7 586.5l3.3 -14.9l.9 -5.5l-3.3 17z"/>
<path color="#4537d5" d="M520.5 597.1l3.2 -10.6l.9 -3.4l-3.2 12.1z"/>
<path color="#422ec0" d="M514 610.6l3.2 -5.8l3.3 -7.7l.9 -1.9l-3.3 8.6l-3.2 6.4z"/>
<path color="#402ab4" d="M507.5 618.4l6.5 -7.8l.9 -.4l-3.2 4.9l-3.3 3.9zM638.1 604.3l3.3 4l6.5 5.7l.9 2l-6.5 -5.3l-3.3 -3.8z"/>
<path color="#422ec0" d="M634.9 599.2l3.2 5.1l.9 2.6l-3.2 -4.9z"/>
<path color="#4332cb" d="M631.6 592.8l3.3 6.4l.9 2.8l-3.2 -6.2z"/>
<path color="#4537d5" d="M628.4 584.4l3.2 8.4l1 3l-3.3 -8.1z"/>
<path color="#463cde" d="M625.2 573.3l3.2 11.1l.9 3.3l-3.2 -10.6z"/>
<path color="#4741e5" d="M621.9 558.6l3.3 14.7l.9 3.8l-3.3 -14.2z"/>
<path color="#4852f4" d="M618.7 539.4l3.2 19.2l.9 4.3l-3.2 -19z"/>
<path color="#465efb" d="M615.4 515.5l3.3 23.9l.9 4.5l-3.3 -24.3z"/>
<path color="#3875fe" d="M612.2 489.9l3.2 25.6l.9 4.1l-3.2 -27.9z"/>
<path color="#2f81fa" d="M608.9 471.2l3.3 18.7l.9 1.8l-3.2 -23.8z"/>
<path color="#81baf8" d="M605.7 469.6l3.2 1.6l1 -3.3l-3.3 -7.3z"/>
<path color="#2f81fa" d="M602.5 486.2l3.2 -16.6l.9 -9l-3.2 14.1z"/>
<path color="#3875fe" d="M599.2 511.5l3.3 -25.3l.9 -11.5l-3.3 26.6z"/>
<path color="#4563fd" d="M596 536.3l3.2 -24.8l.9 -10.2l-3.2 27.4z"/>
<path color="#4852f4" d="M592.7 556.5l3.3 -20.2l.9 -7.6l-3.3 22.8z"/>
<path color="#4747eb" d="M589.5 572l3.2 -15.5l.9 -5l-3.2 17.4z"/>
<path color="#463cde" d="M586.2 583.5l3.3 -11.5l.9 -3.1l-3.2 12.9z"/>
<path color="#4537d5" d="M583 592.1l3.2 -8.6l1 -1.7l-3.3 9.7z"/>
<path color="#4332cb" d="M579.8 598.5l3.2 -6.4l.9 -.6l-3.2 7.2z"/>
<path color="#422ec0" d="M576.5 603.3l3.3 -4.8l.9 .2l-3.3 5.4z"/>
<path color="#695bd5" d="M573.3 606.6l3.2 -3.3l.9 .8l-3.2 3.8z"/>
<path color="#6a5fde" d="M570 608.6l3.3 -2l.9 1.3l-3.3 2.3z"/>
<path color="#6b63e5" d="M553.8 593.5l3.3 7.7l3.2 4.7l3.2 2.6l3.3 .8l3.2 -.7l.9 1.6l-3.2 .8l-3.2 -.8l-3.3 -2.7l-3.2 -5l-3.3 -7.9z"/>
<path color="#6a5fde" d="M550.6 581.9l3.2 11.6l.9 1.1l-3.2 -12z"/>
<path color="#4741e5" d="M547.3 564.7l3.3 17.2l.9 .7l-3.3 -17.8z"/>
<path color="#4852f4" d="M544.1 541.6l3.2 23.1l.9 .1l-3.2 -24.7z"/>
<path color="#4563fd" d="M540.8 517.7l3.3 23.9l.9 -1.5l-3.2 -27.8z"/>
<path color="#658cff" d="M537.6 507.3l3.2 10.4l1 -5.4l-3.3 -15.5z"/>
<path color="#3e6fff" d="M534.4 519.5l3.2 -12.2l.9 -10.5l-3.2 10.4z"/>
<path color="#465efb" d="M531.1 543.5l3.3 -24l.9 -12.3l-3.3 26.5z"/>
<path color="#484df0" d="M527.9 566.1l3.2 -22.6l.9 -9.8l-3.2 25.8z"/>
<path color="#4741e5" d="M524.6 583.1l3.3 -17l.9 -6.6l-3.3 19.5z"/>
<path color="#4537d5" d="M521.4 595.2l3.2 -12.1l.9 -4.1l-3.2 13.8z"/>
<path color="#4332cb" d="M518.1 603.8l3.3 -8.6l.9 -2.4l-3.2 9.8z"/>
<path color="#422ec0" d="M514.9 610.2l3.2 -6.4l1 -1.2l-3.3 7.2z"/>
<path color="#402ab4" d="M508.4 619l3.3 -3.9l3.2 -4.9l.9 -.4l-3.2 5.5l-3.3 4.3zM639 606.9l6.5 6.8l.9 2.2l-6.4 -6.4z"/>
<path color="#422ec0" d="M632.6 595.8l3.2 6.2l3.2 4.9l1 2.6l-3.3 -4.7l-3.2 -6z"/>
<path color="#4332cb" d="M629.3 587.7l3.3 8.1l.9 3l-3.3 -7.7z"/>
<path color="#4537d5" d="M626.1 577.1l3.2 10.6l.9 3.4l-3.2 -10.3z"/>
<path color="#4741e5" d="M622.8 562.9l3.3 14.2l.9 3.7l-3.3 -13.7z"/>
<path color="#484df0" d="M619.6 543.9l3.2 19l.9 4.2l-3.2 -18.5z"/>
<path color="#465efb" d="M616.3 519.6l3.3 24.3l.9 4.7l-3.2 -24.5z"/>
<path color="#3e6fff" d="M613.1 491.7l3.2 27.9l1 4.5l-3.3 -29.8z"/>
<path color="#2e87f7" d="M609.9 467.9l3.2 23.8l.9 2.6l-3.2 -28.5z"/>
<path color="#55a7f2" d="M606.6 460.6l3.3 7.3l.9 -2.1l-3.3 -14z"/>
<path color="#2d8cf3" d="M603.4 474.7l3.2 -14.1l.9 -8.8l-3.2 10.2z"/>
<path color="#327cfc" d="M600.1 501.3l3.3 -26.6l.9 -12.7l-3.3 27.3z"/>
<path color="#4269fe" d="M596.9 528.7l3.2 -27.4l.9 -12l-3.2 30.4z"/>
<path color="#4758f8" d="M593.6 551.5l3.3 -22.8l.9 -9l-3.2 25.7z"/>
<path color="#4747eb" d="M590.4 568.9l3.2 -17.4l1 -6.1l-3.3 19.7z"/>
<path color="#463cde" d="M587.2 581.8l3.2 -12.9l.9 -3.8l-3.2 14.6z"/>
<path color="#4537d5" d="M583.9 591.5l3.3 -9.7l.9 -2.1l-3.3 10.9z"/>
<path color="#4332cb" d="M580.7 598.7l3.2 -7.2l.9 -.9l-3.2 8.2z"/>
<path color="#422ec0" d="M577.4 604.1l3.3 -5.4l.9 .1l-3.3 6.1z"/>
<path color="#6858cc" d="M574.2 607.9l3.2 -3.8l.9 .8l-3.2 4.3z"/>
<path color="#695bd5" d="M570.9 610.2l3.3 -2.3l.9 1.3l-3.2 2.7z"/>
<path color="#6a5fde" d="M567.7 611l3.2 -.8l1 1.7l-3.3 .9z"/>
<path color="#6b63e5" d="M554.7 594.6l3.3 7.9l3.2 5l3.3 2.7l3.2 .8l.9 1.8l-3.2 -.8l-3.3 -2.9l-3.2 -5.2l-3.3 -8.2z"/>
<path color="#6a5fde" d="M551.5 582.6l3.2 12l.9 1.1l-3.2 -12.3z"/>
<path color="#4741e5" d="M548.2 564.8l3.3 17.8l.9 .8l-3.2 -18.5z"/>
<path color="#4852f4" d="M545 540.1l3.2 24.7l1 .1l-3.3 -26.3z"/>
<path color="#4269fe" d="M541.8 512.3l3.2 27.8l.9 -1.5l-3.2 -31.8z"/>
<path color="#5b96fd" d="M538.5 496.8l3.3 15.5l.9 -5.5l-3.3 -21.6z"/>
<path color="#6091fe" d="M535.3 507.2l3.2 -10.4l.9 -11.6l-3.2 7.6z"/>
<path color="#4269fe" d="M532 533.7l3.3 -26.5l.9 -14.4l-3.2 29z"/>
<path color="#4852f4" d="M528.8 559.5l3.2 -25.8l1 -11.9l-3.3 29.8z"/>
<path color="#4741e5" d="M525.5 579l3.3 -19.5l.9 -7.9l-3.2 22.5z"/>
<path color="#4537d5" d="M522.3 592.8l3.2 -13.8l1 -4.9l-3.3 15.8z"/>
<path color="#4332cb" d="M519.1 602.6l3.2 -9.8l.9 -2.9l-3.2 11.1z"/>
<path color="#422ec0" d="M515.8 609.8l3.3 -7.2l.9 -1.6l-3.3 8.2z"/>
<path color="#402ab4" d="M509.3 619.6l3.3 -4.3l3.2 -5.5l.9 -.6l-3.2 6.2l-3.2 4.8zM636.7 604.8l3.3 4.7l3.2 3.6l.9 2.4l-3.2 -3.4l-3.3 -4.4z"/>
<path color="#422ec0" d="M633.5 598.8l3.2 6l.9 2.9l-3.2 -5.8z"/>
<path color="#4332cb" d="M630.2 591.1l3.3 7.7l.9 3.1l-3.3 -7.5z"/>
<path color="#4537d5" d="M627 580.8l3.2 10.3l.9 3.3l-3.2 -9.8z"/>
<path color="#4741e5" d="M623.7 567.1l3.3 13.7l.9 3.8l-3.2 -13.3z"/>
<path color="#484df0" d="M620.5 548.6l3.2 18.5l1 4.2l-3.3 -18z"/>
<path color="#4758f8" d="M617.3 524.1l3.2 24.5l.9 4.7l-3.2 -24.4z"/>
<path color="#3e6fff" d="M614 494.3l3.3 29.8l.9 4.8l-3.3 -31z"/>
<path color="#2e87f7" d="M610.8 465.8l3.2 28.5l.9 3.6l-3.2 -33z"/>
<path color="#2b91ef" d="M607.5 451.8l3.3 14l.9 -.9l-3.3 -21.3z"/>
<path color="#55a7f2" d="M604.3 462l3.2 -10.2l.9 -8.2l-3.2 4.7z"/>
<path color="#2e87f7" d="M601 489.3l3.3 -27.3l.9 -13.7l-3.2 27.2z"/>
<path color="#3e6fff" d="M597.8 519.7l3.2 -30.4l1 -13.8l-3.3 33.5z"/>
<path color="#465efb" d="M594.6 545.4l3.2 -25.7l.9 -10.7l-3.2 29.1z"/>
<path color="#484df0" d="M591.3 565.1l3.3 -19.7l.9 -7.3l-3.3 22.3z"/>
<path color="#4741e5" d="M588.1 579.7l3.2 -14.6l.9 -4.7l-3.2 16.6z"/>
<path color="#4537d5" d="M584.8 590.6l3.3 -10.9l.9 -2.7l-3.3 12.4z"/>
<path color="#4332cb" d="M581.6 598.8l3.2 -8.2l.9 -1.2l-3.2 9.3z"/>
<path color="#422ec0" d="M575.1 609.2l3.2 -4.3l3.3 -6.1l.9 -.1l-3.2 6.9l-3.3 5z"/>
<path color="#695bd5" d="M571.9 611.9l3.2 -2.7l.9 1.4l-3.2 3.1z"/>
<path color="#6a5fde" d="M568.6 612.8l3.3 -.9l.9 1.8l-3.3 1.1z"/>
<path color="#6b63e5" d="M555.6 595.7l3.3 8.2l3.2 5.2l3.3 2.9l3.2 .8l.9 2l-3.2 -.9l-3.2 -3.1l-3.3 -5.5l-3.2 -8.5z"/>
<path color="#6a5fde" d="M552.4 583.4l3.2 12.3l1 1.1l-3.3 -12.7z"/>
<path color="#4741e5" d="M549.2 564.9l3.2 18.5l.9 .7l-3.2 -19.1z"/>
<path color="#4758f8" d="M545.9 538.6l3.3 26.3l.9 .1l-3.3 -28z"/>
<path color="#4269fe" d="M542.7 506.8l3.2 31.8l.9 -1.6l-3.2 -35.8z"/>
<path color="#589bfb" d="M539.4 485.2l3.3 21.6l.9 -5.6l-3.2 -28.6z"/>
<path color="#82b4fc" d="M536.2 492.8l3.2 -7.6l1 -12.6l-3.3 3.4z"/>
<path color="#3875fe" d="M533 521.8l3.2 -29l.9 -16.8l-3.2 31.4z"/>
<path color="#465efb" d="M529.7 551.6l3.3 -29.8l.9 -14.4l-3.3 34.5z"/>
<path color="#4747eb" d="M526.5 574.1l3.2 -22.5l.9 -9.7l-3.2 26.2z"/>
<path color="#463cde" d="M523.2 589.9l3.3 -15.8l.9 -6l-3.3 18.3z"/>
<path color="#4332cb" d="M520 601l3.2 -11.1l.9 -3.5l-3.2 12.8z"/>
<path color="#422ec0" d="M516.7 609.2l3.3 -8.2l.9 -1.8l-3.2 9.3z"/>
<path color="#402ab4" d="M510.3 620.2l3.2 -4.8l3.2 -6.2l1 -.7l-3.3 7l-3.2 5.4zM637.6 607.7l3.3 4.4l3.2 3.4l.9 2.4l-3.2 -3.1l-3.3 -4.2z"/>
<path color="#422ec0" d="M634.4 601.9l3.2 5.8l.9 2.9l-3.2 -5.5z"/>
<path color="#4332cb" d="M631.1 594.4l3.3 7.5l.9 3.2l-3.2 -7.2z"/>
<path color="#4537d5" d="M627.9 584.6l3.2 9.8l1 3.5l-3.3 -9.6z"/>
<path color="#463cde" d="M624.7 571.3l3.2 13.3l.9 3.7l-3.2 -12.8z"/>
<path color="#4747eb" d="M621.4 553.3l3.3 18l.9 4.2l-3.3 -17.5z"/>
<path color="#4758f8" d="M618.2 528.9l3.2 24.4l.9 4.7l-3.2 -24z"/>
<path color="#4269fe" d="M614.9 497.9l3.3 31l.9 5.1l-3.3 -31.8z"/>
<path color="#2e87f7" d="M611.7 464.9l3.2 33l.9 4.3l-3.2 -36.7z"/>
<path color="#2797eb" d="M608.4 443.6l3.3 21.3l.9 .6l-3.2 -29.1z"/>
<path color="#7cc3f1" d="M605.2 448.3l3.2 -4.7l1 -7.2l-3.3 -2.7z"/>
<path color="#2b91ef" d="M602 475.5l3.2 -27.2l.9 -14.6l-3.2 25.8z"/>
<path color="#327cfc" d="M598.7 509l3.3 -33.5l.9 -16l-3.3 36.6z"/>
<path color="#4563fd" d="M595.5 538.1l3.2 -29.1l.9 -12.9l-3.2 33.2z"/>
<path color="#4852f4" d="M592.2 560.4l3.3 -22.3l.9 -8.8l-3.2 25.5z"/>
<path color="#4741e5" d="M589 577l3.2 -16.6l1 -5.6l-3.3 18.9z"/>
<path color="#463cde" d="M585.7 589.4l3.3 -12.4l.9 -3.3l-3.2 14z"/>
<path color="#4332cb" d="M582.5 598.7l3.2 -9.3l1 -1.7l-3.3 10.6z"/>
<path color="#422ec0" d="M576 610.6l3.3 -5l3.2 -6.9l.9 -.4l-3.2 8l-3.3 5.8z"/>
<path color="#695bd5" d="M572.8 613.7l3.2 -3.1l.9 1.5l-3.2 3.5z"/>
<path color="#6a5fde" d="M569.5 614.8l3.3 -1.1l.9 1.9l-3.2 1.4z"/>
<path color="#6b63e5" d="M553.3 584.1l3.3 12.7l3.2 8.5l3.3 5.5l3.2 3.1l3.2 .9l1 2.2l-3.3 -1l-3.2 -3.3l-3.3 -5.9l-3.2 -8.9l-3.3 -13.1z"/>
<path color="#4747eb" d="M550.1 565l3.2 19.1l.9 .7l-3.2 -19.8z"/>
<path color="#4758f8" d="M546.8 537l3.3 28l.9 0l-3.2 -29.5z"/>
<path color="#3e6fff" d="M543.6 501.2l3.2 35.8l1 -1.5l-3.3 -39.9z"/>
<path color="#579ff9" d="M540.4 472.6l3.2 28.6l.9 -5.6l-3.2 -36.6z"/>
<path color="#80bdf5" d="M537.1 476l3.3 -3.4l.9 -13.6l-3.3 -2.6z"/>
<path color="#2f81fa" d="M533.9 507.4l3.2 -31.4l.9 -19.6l-3.2 33.7z"/>
<path color="#4563fd" d="M530.6 541.9l3.3 -34.5l.9 -17.3l-3.3 40z"/>
<path color="#484df0" d="M527.4 568.1l3.2 -26.2l.9 -11.8l-3.2 30.7z"/>
<path color="#4741e5" d="M524.1 586.4l3.3 -18.3l.9 -7.3l-3.2 21.3z"/>
<path color="#4537d5" d="M520.9 599.2l3.2 -12.8l1 -4.3l-3.3 14.8z"/>
<path color="#422ec0" d="M517.7 608.5l3.2 -9.3l.9 -2.3l-3.2 10.7z"/>
<path color="#402ab4" d="M511.2 620.9l3.2 -5.4l3.3 -7l.9 -.9l-3.3 8.1l-3.2 5.9zM638.5 610.6l3.3 4.2l.9 2.6l-3.2 -3.8z"/>
<path color="#422ec0" d="M632.1 597.9l3.2 7.2l3.2 5.5l1 3l-3.3 -5.3l-3.2 -6.9z"/>
<path color="#4332cb" d="M628.8 588.3l3.3 9.6l.9 3.5l-3.3 -9.2z"/>
<path color="#463cde" d="M625.6 575.5l3.2 12.8l.9 3.9l-3.2 -12.4z"/>
<path color="#4747eb" d="M622.3 558l3.3 17.5l.9 4.3l-3.2 -17z"/>
<path color="#4852f4" d="M619.1 534l3.2 24l1 4.8l-3.3 -23.5z"/>
<path color="#4269fe" d="M615.8 502.2l3.3 31.8l.9 5.3l-3.2 -32.1z"/>
<path color="#2f81fa" d="M612.6 465.5l3.2 36.7l1 5l-3.3 -39.8z"/>
<path color="#259be8" d="M609.4 436.4l3.2 29.1l.9 1.9l-3.2 -36.8z"/>
<path color="#79c9ee" d="M606.1 433.7l3.3 2.7l.9 -5.8l-3.3 -12z"/>
<path color="#259be8" d="M602.9 459.5l3.2 -25.8l.9 -15.1l-3.2 22.5z"/>
<path color="#2e87f7" d="M599.6 496.1l3.3 -36.6l.9 -18.4l-3.2 39.7z"/>
<path color="#4269fe" d="M596.4 529.3l3.2 -33.2l1 -15.3l-3.3 37.8z"/>
<path color="#4758f8" d="M593.2 554.8l3.2 -25.5l.9 -10.7l-3.2 29.3z"/>
<path color="#4747eb" d="M589.9 573.7l3.3 -18.9l.9 -6.9l-3.3 21.6z"/>
<path color="#463cde" d="M586.7 587.7l3.2 -14l.9 -4.2l-3.2 16z"/>
<path color="#4332cb" d="M583.4 598.3l3.3 -10.6l.9 -2.2l-3.3 12.1z"/>
<path color="#422ec0" d="M576.9 612.1l3.3 -5.8l3.2 -8l.9 -.7l-3.2 9.2l-3.2 6.6z"/>
<path color="#695bd5" d="M573.7 615.6l3.2 -3.5l1 1.3l-3.3 4.2z"/>
<path color="#6a5fde" d="M570.5 617l3.2 -1.4l.9 2l-3.2 1.7z"/>
<path color="#6b63e5" d="M554.2 584.8l3.3 13.1l3.2 8.9l3.3 5.9l3.2 3.3l3.3 1l.9 2.3l-3.3 -1l-3.2 -3.6l-3.3 -6.2l-3.2 -9.4l-3.2 -13.6z"/>
<path color="#6c6cef" d="M551 565l3.2 19.8l1 .7l-3.3 -20.5z"/>
<path color="#4758f8" d="M547.8 535.5l3.2 29.5l.9 0l-3.2 -31z"/>
<path color="#3875fe" d="M544.5 495.6l3.3 39.9l.9 -1.5l-3.3 -44.1z"/>
<path color="#2b91ef" d="M541.3 459l3.2 36.6l.9 -5.7l-3.2 -45.4z"/>
<path color="#7cc3f1" d="M538 456.4l3.3 2.6l.9 -14.5l-3.3 -10.9z"/>
<path color="#2d8cf3" d="M534.8 490.1l3.2 -33.7l.9 -22.8l-3.2 35.3z"/>
<path color="#3e6fff" d="M531.5 530.1l3.3 -40l.9 -21.2l-3.2 46.7z"/>
<path color="#4758f8" d="M528.3 560.8l3.2 -30.7l1 -14.5l-3.3 36.3z"/>
<path color="#4741e5" d="M525.1 582.1l3.2 -21.3l.9 -8.9l-3.2 25z"/>
<path color="#4537d5" d="M521.8 596.9l3.3 -14.8l.9 -5.2l-3.3 17.3z"/>
<path color="#4332cb" d="M518.6 607.6l3.2 -10.7l.9 -2.7l-3.2 12.4z"/>
<path color="#422ec0" d="M515.3 615.7l3.3 -8.1l.9 -1l-3.3 9.2z"/>
<path color="#402ab4" d="M512.1 621.6l3.2 -5.9l.9 .1l-3.2 6.6zM636.2 608.3l3.3 5.3l3.2 3.8l.9 2.6l-3.2 -3.5l-3.3 -4.9z"/>
<path color="#422ec0" d="M633 601.4l3.2 6.9l.9 3.3l-3.2 -6.6z"/>
<path color="#4332cb" d="M629.7 592.2l3.3 9.2l.9 3.6l-3.2 -8.9z"/>
<path color="#4537d5" d="M626.5 579.8l3.2 12.4l1 3.9l-3.3 -12z"/>
<path color="#4741e5" d="M623.3 562.8l3.2 17l.9 4.3l-3.2 -16.5z"/>
<path color="#4852f4" d="M620 539.3l3.3 23.5l.9 4.8l-3.3 -23z"/>
<path color="#4563fd" d="M616.8 507.2l3.2 32.1l.9 5.3l-3.2 -32z"/>
<path color="#2f81fa" d="M613.5 467.4l3.3 39.8l.9 5.4l-3.3 -41.9z"/>
<path color="#259be8" d="M610.3 430.6l3.2 36.8l.9 3.3l-3.2 -44.1z"/>
<path color="#4abae6" d="M607 418.6l3.3 12l.9 -4l-3.2 -23z"/>
<path color="#20a5e3" d="M603.8 441.1l3.2 -22.5l1 -15l-3.3 16.8z"/>
<path color="#2b91ef" d="M600.6 480.8l3.2 -39.7l.9 -20.7l-3.2 42.1z"/>
<path color="#3875fe" d="M597.3 518.6l3.3 -37.8l.9 -18.3l-3.3 43.1z"/>
<path color="#465efb" d="M594.1 547.9l3.2 -29.3l.9 -13l-3.2 33.9z"/>
<path color="#484df0" d="M590.8 569.5l3.3 -21.6l.9 -8.4l-3.3 24.8z"/>
<path color="#463cde" d="M587.6 585.5l3.2 -16l.9 -5.2l-3.2 18.3z"/>
<path color="#4537d5" d="M584.3 597.6l3.3 -12.1l.9 -2.9l-3.2 13.9z"/>
<path color="#422ec0" d="M577.9 613.4l3.2 -6.6l3.2 -9.2l1 -1.1l-3.3 10.5l-3.2 7.7z"/>
<path color="#695bd5" d="M574.6 617.6l3.3 -4.2l.9 1.3l-3.3 4.9z"/>
<path color="#6a5fde" d="M571.4 619.3l3.2 -1.7l.9 2l-3.2 2z"/>
<path color="#6b63e5" d="M555.2 585.5l3.2 13.6l3.2 9.4l3.3 6.2l3.2 3.6l3.3 1l.9 2.3l-3.3 -1l-3.2 -3.7l-3.2 -6.6l-3.3 -9.7l-3.2 -14.2z"/>
<path color="#6c6cef" d="M551.9 565l3.3 20.5l.9 .9l-3.3 -21.3z"/>
<path color="#4758f8" d="M548.7 534l3.2 31l.9 .1l-3.2 -32.7z"/>
<path color="#3875fe" d="M545.4 489.9l3.3 44.1l.9 -1.6l-3.3 -48.2z"/>
<path color="#259be8" d="M542.2 444.5l3.2 45.4l.9 -5.7l-3.2 -55.1z"/>
<path color="#77ccec" d="M538.9 433.6l3.3 10.9l.9 -15.4l-3.2 -21.7z"/>
<path color="#259be8" d="M535.7 468.9l3.2 -35.3l1 -26.2l-3.3 35.7z"/>
<path color="#2f81fa" d="M532.5 515.6l3.2 -46.7l.9 -25.8l-3.2 54.6z"/>
<path color="#465efb" d="M529.2 551.9l3.3 -36.3l.9 -17.9l-3.3 43.3z"/>
<path color="#4747eb" d="M526 576.9l3.2 -25l.9 -10.9l-3.2 29.5z"/>
<path color="#463cde" d="M522.7 594.2l3.3 -17.3l.9 -6.4l-3.3 20.3z"/>
<path color="#4332cb" d="M519.5 606.6l3.2 -12.4l.9 -3.4l-3.2 14.5z"/>
<path color="#422ec0" d="M516.2 615.8l3.3 -9.2l.9 -1.3l-3.2 10.5z"/>
<path color="#402ab4" d="M513 622.4l3.2 -6.6l1 0l-3.3 7.5zM637.1 611.6l3.3 4.9l.9 2.9l-3.2 -4.4z"/>
<path color="#422ec0" d="M633.9 605l3.2 6.6l1 3.4l-3.3 -6.3z"/>
<path color="#4332cb" d="M630.7 596.1l3.2 8.9l.9 3.7l-3.2 -8.6z"/>
<path color="#4537d5" d="M627.4 584.1l3.3 12l.9 4l-3.3 -11.6z"/>
<path color="#4741e5" d="M624.2 567.6l3.2 16.5l.9 4.4l-3.2 -16z"/>
<path color="#484df0" d="M620.9 544.6l3.3 23l.9 4.9l-3.3 -22.4z"/>
<path color="#4563fd" d="M617.7 512.6l3.2 32l.9 5.5l-3.2 -31.7z"/>
<path color="#2f81fa" d="M614.4 470.7l3.3 41.9l.9 5.8l-3.2 -43.3z"/>
<path color="#259be8" d="M611.2 426.6l3.2 44.1l1 4.4l-3.3 -50.4z"/>
<path color="#12b1d6" d="M608 403.6l3.2 23l.9 -1.9l-3.2 -35.3z"/>
<path color="#41c1de" d="M604.7 420.4l3.3 -16.8l.9 -14.2l-3.3 7.9z"/>
<path color="#23a0e5" d="M601.5 462.5l3.2 -42.1l.9 -23.1l-3.2 43.5z"/>
<path color="#2f81fa" d="M598.2 505.6l3.3 -43.1l.9 -21.7l-3.3 49z"/>
<path color="#4563fd" d="M595 539.5l3.2 -33.9l.9 -15.8l-3.2 39.4z"/>
<path color="#4852f4" d="M591.7 564.3l3.3 -24.8l.9 -10.3l-3.2 28.8z"/>
<path color="#4741e5" d="M588.5 582.6l3.2 -18.3l1 -6.3l-3.3 21.1z"/>
<path color="#4537d5" d="M585.3 596.5l3.2 -13.9l.9 -3.5l-3.2 15.8z"/>
<path color="#4332cb" d="M582 607l3.3 -10.5l.9 -1.6l-3.3 12z"/>
<path color="#402ab4" d="M578.8 614.7l3.2 -7.7l.9 -.1l-3.2 8.8z"/>
<path color="#695bd5" d="M575.5 619.6l3.3 -4.9l.9 1l-3.3 5.7z"/>
<path color="#6a5fde" d="M572.3 621.6l3.2 -2l.9 1.8l-3.2 2.4z"/>
<path color="#6b63e5" d="M556.1 586.4l3.2 14.2l3.3 9.7l3.2 6.6l3.2 3.7l3.3 1l.9 2.2l-3.2 -.8l-3.3 -3.8l-3.2 -6.7l-3.3 -10.2l-3.2 -14.9z"/>
<path color="#6c6cef" d="M552.8 565.1l3.3 21.3l.9 1l-3.3 -22.2z"/>
<path color="#4758f8" d="M549.6 532.4l3.2 32.7l.9 .1l-3.2 -34.4z"/>
<path color="#327cfc" d="M546.3 484.2l3.3 48.2l.9 -1.6l-3.2 -52.2z"/>
<path color="#23a0e5" d="M543.1 429.1l3.2 55.1l1 -5.6l-3.3 -65.4z"/>
<path color="#6bd2e3" d="M539.9 407.4l3.2 21.7l.9 -15.9l-3.2 -35.8z"/>
<path color="#18addb" d="M536.6 443.1l3.3 -35.7l.9 -30l-3.3 34.3z"/>
<path color="#2d8cf3" d="M533.4 497.7l3.2 -54.6l.9 -31.4l-3.2 63.9z"/>
<path color="#4269fe" d="M530.1 541l3.3 -43.3l.9 -22.1l-3.3 51.9z"/>
<path color="#4852f4" d="M526.9 570.5l3.2 -29.5l.9 -13.5l-3.2 35.3z"/>
<path color="#4741e5" d="M523.6 590.8l3.3 -20.3l.9 -7.7l-3.2 24z"/>
<path color="#4332cb" d="M520.4 605.3l3.2 -14.5l1 -4l-3.3 17z"/>
<path color="#422ec0" d="M517.2 615.8l3.2 -10.5l.9 -1.5l-3.2 12.1z"/>
<path color="#402ab4" d="M513.9 623.3l3.3 -7.5l.9 .1l-3.3 8.4zM634.8 608.7l3.3 6.3l3.2 4.4l.9 2.8l-3.2 -3.9l-3.3 -5.8z"/>
<path color="#422ec0" d="M631.6 600.1l3.2 8.6l.9 3.8l-3.2 -8.2z"/>
<path color="#4537d5" d="M628.3 588.5l3.3 11.6l.9 4.2l-3.3 -11.3z"/>
<path color="#463cde" d="M625.1 572.5l3.2 16l.9 4.5l-3.2 -15.6z"/>
<path color="#484df0" d="M621.8 550.1l3.3 22.4l.9 4.9l-3.2 -21.8z"/>
<path color="#465efb" d="M618.6 518.4l3.2 31.7l1 5.5l-3.3 -31.1z"/>
<path color="#327cfc" d="M615.4 475.1l3.2 43.3l.9 6.1l-3.2 -44z"/>
<path color="#259be8" d="M612.1 424.7l3.3 50.4l.9 5.4l-3.3 -55.5z"/>
<path color="#08b5d0" d="M608.9 389.4l3.2 35.3l.9 .3l-3.2 -48z"/>
<path color="#67d4df" d="M605.6 397.3l3.3 -7.9l.9 -12.4l-3.3 -4.6z"/>
<path color="#18addb" d="M602.4 440.8l3.2 -43.5l.9 -24.9l-3.2 42.7z"/>
<path color="#2b91ef" d="M599.1 489.8l3.3 -49l.9 -25.7l-3.2 55.6z"/>
<path color="#3e6fff" d="M595.9 529.2l3.2 -39.4l1 -19.1l-3.3 46z"/>
<path color="#4758f8" d="M592.7 558l3.2 -28.8l.9 -12.5l-3.2 33.6z"/>
<path color="#4747eb" d="M589.4 579.1l3.3 -21.1l.9 -7.7l-3.3 24.3z"/>
<path color="#4537d5" d="M586.2 594.9l3.2 -15.8l.9 -4.5l-3.2 18.2z"/>
<path color="#4332cb" d="M582.9 606.9l3.3 -12l.9 -2.1l-3.3 13.7z"/>
<path color="#402ab4" d="M579.7 615.7l3.2 -8.8l.9 -.4l-3.2 10z"/>
<path color="#6858cc" d="M576.4 621.4l3.3 -5.7l.9 .8l-3.2 6.5z"/>
<path color="#6a5fde" d="M570 623l3.2 .8l3.2 -2.4l1 1.6l-3.3 2.9l-3.2 -.4z"/>
<path color="#6b63e5" d="M557 587.4l3.2 14.9l3.3 10.2l3.2 6.7l3.3 3.8l.9 2.5l-3.3 -3.7l-3.2 -6.8l-3.3 -10.6l-3.2 -15.6z"/>
<path color="#6c6cef" d="M553.7 565.2l3.3 22.2l.9 1.4l-3.2 -23.3z"/>
<path color="#465efb" d="M550.5 530.8l3.2 34.4l1 .3l-3.3 -36.2z"/>
<path color="#2f81fa" d="M547.3 478.6l3.2 52.2l.9 -1.5l-3.2 -56.4z"/>
<path color="#1ca9df" d="M544 413.2l3.3 65.4l.9 -5.7l-3.3 -76.1z"/>
<path color="#3ccaca" d="M540.8 377.4l3.2 35.8l.9 -16.4l-3.2 -53.1z"/>
<path color="#34c8cf" d="M537.5 411.7l3.3 -34.3l.9 -33.7l-3.3 30z"/>
<path color="#23a0e5" d="M534.3 475.6l3.2 -63.9l.9 -38l-3.2 74.5z"/>
<path color="#3875fe" d="M531 527.5l3.3 -51.9l.9 -27.4l-3.2 62.7z"/>
<path color="#4758f8" d="M527.8 562.8l3.2 -35.3l1 -16.6l-3.3 42.5z"/>
<path color="#4741e5" d="M524.6 586.8l3.2 -24l.9 -9.4l-3.2 28.5z"/>
<path color="#4537d5" d="M521.3 603.8l3.3 -17l.9 -4.9l-3.3 20z"/>
<path color="#422ec0" d="M518.1 615.9l3.2 -12.1l.9 -1.9l-3.2 14.1z"/>
<path color="#402ab4" d="M514.8 624.3l3.3 -8.4l.9 .1l-3.3 9.3zM635.7 612.5l3.3 5.8l.9 3.2l-3.3 -5.1z"/>
<path color="#422ec0" d="M632.5 604.3l3.2 8.2l.9 3.9l-3.2 -7.7z"/>
<path color="#4332cb" d="M629.2 593l3.3 11.3l.9 4.4l-3.2 -10.9z"/>
<path color="#463cde" d="M626 577.4l3.2 15.6l1 4.8l-3.3 -15.2z"/>
<path color="#4747eb" d="M622.8 555.6l3.2 21.8l.9 5.2l-3.2 -21.3z"/>
<path color="#465efb" d="M619.5 524.5l3.3 31.1l.9 5.7l-3.3 -30.6z"/>
<path color="#3875fe" d="M616.3 480.5l3.2 44l.9 6.2l-3.2 -43.9z"/>
<path color="#259be8" d="M613 425l3.3 55.5l.9 6.3l-3.3 -59.3z"/>
<path color="#01b8ca" d="M609.8 377l3.2 48l.9 2.5l-3.2 -60.2z"/>
<path color="#75d9d3" d="M606.5 372.4l3.3 4.6l.9 -9.7l-3.2 -20.6z"/>
<path color="#01b8ca" d="M603.3 415.1l3.2 -42.7l1 -25.7l-3.3 38.6z"/>
<path color="#23a0e5" d="M600.1 470.7l3.2 -55.6l.9 -29.8l-3.2 62.3z"/>
<path color="#327cfc" d="M596.8 516.7l3.3 -46l.9 -23.1l-3.3 53.9z"/>
<path color="#465efb" d="M593.6 550.3l3.2 -33.6l.9 -15.2l-3.2 39.4z"/>
<path color="#484df0" d="M590.3 574.6l3.3 -24.3l.9 -9.4l-3.3 28.3z"/>
<path color="#463cde" d="M587.1 592.8l3.2 -18.2l.9 -5.4l-3.2 20.8z"/>
<path color="#4332cb" d="M583.8 606.5l3.3 -13.7l.9 -2.8l-3.2 15.6z"/>
<path color="#422ec0" d="M580.6 616.5l3.2 -10l1 -.9l-3.3 11.3z"/>
<path color="#6858cc" d="M577.4 623l3.2 -6.5l.9 .4l-3.2 7.3z"/>
<path color="#695bd5" d="M574.1 625.9l3.3 -2.9l.9 1.2l-3.3 3.5z"/>
<path color="#6a5fde" d="M570.9 625.5l3.2 .4l.9 1.8l-3.2 .1z"/>
<path color="#6b63e5" d="M557.9 588.8l3.2 15.6l3.3 10.6l3.2 6.8l3.3 3.7l.9 2.3l-3.3 -3.3l-3.2 -6.6l-3.2 -10.9l-3.3 -16.3z"/>
<path color="#6c6cef" d="M554.7 565.5l3.2 23.3l.9 1.9l-3.2 -24.7z"/>
<path color="#465efb" d="M551.4 529.3l3.3 36.2l.9 .5l-3.3 -38.1z"/>
<path color="#2f81fa" d="M548.2 472.9l3.2 56.4l.9 -1.4l-3.2 -60.4z"/>
<path color="#12b1d6" d="M544.9 396.8l3.3 76.1l.9 -5.4l-3.3 -86.8z"/>
<path color="#5bd1b3" d="M538.4 373.7l3.3 -30l3.2 53.1l.9 -16.1l-3.2 -73.7l-3.2 21.1z"/>
<path color="#12b1d6" d="M535.2 448.2l3.2 -74.5l1 -45.6l-3.3 86.4z"/>
<path color="#2e87f7" d="M532 510.9l3.2 -62.7l.9 -33.7l-3.2 76.2z"/>
<path color="#4563fd" d="M528.7 553.4l3.3 -42.5l.9 -20.2l-3.3 51.2z"/>
<path color="#4747eb" d="M525.5 581.9l3.2 -28.5l.9 -11.5l-3.2 34.2z"/>
<path color="#4537d5" d="M522.2 601.9l3.3 -20l.9 -5.8l-3.2 23.7z"/>
<path color="#422ec0" d="M519 616l3.2 -14.1l1 -2.1l-3.3 16.3z"/>
<path color="#402ab4" d="M515.7 625.3l3.3 -9.3l.9 .1l-3.2 10.2zM633.4 608.7l3.2 7.7l3.3 5.1l.9 3l-3.2 -4.4l-3.3 -7z"/>
<path color="#4332cb" d="M630.2 597.8l3.2 10.9l.9 4.4l-3.2 -10.3z"/>
<path color="#4537d5" d="M626.9 582.6l3.3 15.2l.9 5l-3.3 -14.8z"/>
<path color="#4747eb" d="M623.7 561.3l3.2 21.3l.9 5.4l-3.2 -20.9z"/>
<path color="#4758f8" d="M620.4 530.7l3.3 30.6l.9 5.8l-3.3 -29.9z"/>
<path color="#3875fe" d="M617.2 486.8l3.2 43.9l.9 6.5l-3.2 -43.5z"/>
<path color="#259be8" d="M613.9 427.5l3.3 59.3l.9 6.9l-3.2 -61.4z"/>
<path color="#01b8ca" d="M610.7 367.3l3.2 60.2l1 4.8l-3.3 -70.8z"/>
<path color="#5bd1b3" d="M607.5 346.7l3.2 20.6l.9 -5.8l-3.2 -39.5z"/>
<path color="#24c1ae" d="M604.2 385.3l3.3 -38.6l.9 -24.7l-3.3 29.8z"/>
<path color="#18addb" d="M601 447.6l3.2 -62.3l.9 -33.5l-3.2 68.3z"/>
<path color="#2d8cf3" d="M597.7 501.5l3.3 -53.9l.9 -27.5l-3.3 63.1z"/>
<path color="#4269fe" d="M594.5 540.9l3.2 -39.4l.9 -18.3l-3.2 46.4z"/>
<path color="#4852f4" d="M591.2 569.2l3.3 -28.3l.9 -11.3l-3.2 33z"/>
<path color="#463cde" d="M588 590l3.2 -20.8l1 -6.6l-3.3 23.9z"/>
<path color="#4332cb" d="M584.8 605.6l3.2 -15.6l.9 -3.5l-3.2 17.8z"/>
<path color="#422ec0" d="M578.3 624.2l3.2 -7.3l3.3 -11.3l.9 -1.3l-3.3 12.6l-3.2 8.1z"/>
<path color="#695bd5" d="M575 627.7l3.3 -3.5l.9 .8l-3.3 4.1z"/>
<path color="#6a5fde" d="M571.8 627.8l3.2 -.1l.9 1.4l-3.2 .6z"/>
<path color="#6b63e5" d="M558.8 590.7l3.3 16.3l3.2 10.9l3.2 6.6l3.3 3.3l.9 1.9l-3.2 -2.5l-3.3 -6.1l-3.2 -10.9l-3.3 -17.1z"/>
<path color="#6c6cef" d="M555.6 566l3.2 24.7l.9 2.4l-3.2 -25.9z"/>
<path color="#465efb" d="M552.3 527.9l3.3 38.1l.9 1.2l-3.2 -40.2z"/>
<path color="#2e87f7" d="M549.1 467.5l3.2 60.4l1 -.9l-3.3 -64.3z"/>
<path color="#08b5d0" d="M545.8 380.7l3.3 86.8l.9 -4.8l-3.2 -97.2z"/>
<path color="#78d695" d="M542.6 307l3.2 73.7l1 -15.2l-3.3 -96.8z"/>
<path color="#aae1a2" d="M539.4 328.1l3.2 -21.1l.9 -38.3l-3.2 6.5z"/>
<path color="#19bfb6" d="M536.1 414.5l3.3 -86.4l.9 -52.9l-3.3 98.7z"/>
<path color="#259be8" d="M532.9 490.7l3.2 -76.2l.9 -40.6l-3.2 92.4z"/>
<path color="#3e6fff" d="M529.6 541.9l3.3 -51.2l.9 -24.4l-3.2 62.1z"/>
<path color="#484df0" d="M526.4 576.1l3.2 -34.2l1 -13.5l-3.3 40.8z"/>
<path color="#463cde" d="M523.2 599.8l3.2 -23.7l.9 -6.9l-3.2 28z"/>
<path color="#422ec0" d="M519.9 616.1l3.3 -16.3l.9 -2.6l-3.3 18.8z"/>
<path color="#402ab4" d="M516.7 626.3l3.2 -10.2l.9 -.1l-3.2 11.3zM634.3 613.1l3.3 7l.9 3.5l-3.3 -6.1z"/>
<path color="#422ec0" d="M631.1 602.8l3.2 10.3l.9 4.4l-3.2 -9.6z"/>
<path color="#4537d5" d="M627.8 588l3.3 14.8l.9 5.1l-3.3 -14.2z"/>
<path color="#4741e5" d="M624.6 567.1l3.2 20.9l.9 5.7l-3.2 -20.4z"/>
<path color="#4852f4" d="M621.3 537.2l3.3 29.9l.9 6.2l-3.2 -29.2z"/>
<path color="#3e6fff" d="M618.1 493.7l3.2 43.5l1 6.9l-3.3 -42.8z"/>
<path color="#2797eb" d="M614.9 432.3l3.2 61.4l.9 7.6l-3.2 -62.2z"/>
<path color="#02bac3" d="M611.6 361.5l3.3 70.8l.9 6.8l-3.3 -78.7z"/>
<path color="#3fca8e" d="M608.4 322l3.2 39.5l.9 -1.1l-3.2 -59.2z"/>
<path color="#65d5a5" d="M605.1 351.8l3.3 -29.8l.9 -20.8l-3.2 15.2z"/>
<path color="#02bac3" d="M601.9 420.1l3.2 -68.3l1 -35.4l-3.3 72.3z"/>
<path color="#2797eb" d="M598.6 483.2l3.3 -63.1l.9 -31.4l-3.2 73.3z"/>
<path color="#3875fe" d="M595.4 529.6l3.2 -46.4l1 -21.2l-3.3 54.5z"/>
<path color="#4758f8" d="M592.2 562.6l3.2 -33l.9 -13.1l-3.2 38.3z"/>
<path color="#4741e5" d="M588.9 586.5l3.3 -23.9l.9 -7.8l-3.3 27.4z"/>
<path color="#4537d5" d="M585.7 604.3l3.2 -17.8l.9 -4.3l-3.2 20z"/>
<path color="#422ec0" d="M579.2 625l3.2 -8.1l3.3 -12.6l.9 -2.1l-3.2 14.1l-3.3 9z"/>
<path color="#695bd5" d="M575.9 629.1l3.3 -4.1l.9 .3l-3.2 4.7z"/>
<path color="#6a5fde" d="M572.7 629.7l3.2 -.6l1 .9l-3.3 1.3z"/>
<path color="#6b63e5" d="M559.7 593.1l3.3 17.1l3.2 10.9l3.3 6.1l3.2 2.5l.9 1.6l-3.2 -1.6l-3.3 -5.3l-3.2 -10.5l-3.2 -17.5z"/>
<path color="#6c67ea" d="M556.5 567.2l3.2 25.9l1 3.3l-3.3 -27.3z"/>
<path color="#465efb" d="M553.3 527l3.2 40.2l.9 1.9l-3.2 -42.2z"/>
<path color="#2e87f7" d="M550 462.7l3.3 64.3l.9 -.1l-3.3 -67.8z"/>
<path color="#02bac3" d="M546.8 365.5l3.2 97.2l.9 -3.6l-3.2 -106.2z"/>
<path color="#8fcb4e" d="M543.5 268.7l3.3 96.8l.9 -12.6l-3.3 -120.6z"/>
<path color="#dcda7f" d="M540.3 275.2l3.2 -6.5l.9 -36.4l-3.2 -15.1z"/>
<path color="#4acb84" d="M537 373.9l3.3 -98.7l.9 -58l-3.2 109.6z"/>
<path color="#18addb" d="M533.8 466.3l3.2 -92.4l1 -47.1l-3.3 111.3z"/>
<path color="#327cfc" d="M530.6 528.4l3.2 -62.1l.9 -28.2l-3.2 74.8z"/>
<path color="#4758f8" d="M527.3 569.2l3.3 -40.8l.9 -15.5l-3.3 48.6z"/>
<path color="#463cde" d="M524.1 597.2l3.2 -28l.9 -7.7l-3.2 32.7z"/>
<path color="#422ec0" d="M520.8 616l3.3 -18.8l.9 -3l-3.3 21.5z"/>
<path color="#402ab4" d="M517.6 627.3l3.2 -11.3l.9 -.3l-3.2 12.4zM635.2 617.5l3.3 6.1l.9 3.1l-3.2 -5z"/>
<path color="#422ec0" d="M632 607.9l3.2 9.6l1 4.2l-3.3 -8.7z"/>
<path color="#4332cb" d="M628.7 593.7l3.3 14.2l.9 5.1l-3.2 -13.5z"/>
<path color="#463cde" d="M625.5 573.3l3.2 20.4l1 5.8l-3.3 -19.7z"/>
<path color="#484df0" d="M622.3 544.1l3.2 29.2l.9 6.5l-3.2 -28.5z"/>
<path color="#4269fe" d="M619 501.3l3.3 42.8l.9 7.2l-3.3 -41.7z"/>
<path color="#2b91ef" d="M615.8 439.1l3.2 62.2l.9 8.3l-3.2 -61.3z"/>
<path color="#01b8ca" d="M612.5 360.4l3.3 78.7l.9 9.2l-3.2 -83.2z"/>
<path color="#4acb84" d="M609.3 301.2l3.2 59.2l1 4.7l-3.3 -77.1z"/>
<path color="#a2e1a9" d="M606.1 316.4l3.2 -15.2l.9 -13.2l-3.2 -4.8z"/>
<path color="#2cc4a7" d="M602.8 388.7l3.3 -72.3l.9 -33.2l-3.3 71.9z"/>
<path color="#1ca9df" d="M599.6 462l3.2 -73.3l.9 -33.6l-3.2 83.5z"/>
<path color="#2f81fa" d="M596.3 516.5l3.3 -54.5l.9 -23.4l-3.3 63.5z"/>
<path color="#465efb" d="M593.1 554.8l3.2 -38.3l.9 -14.4l-3.2 44.1z"/>
<path color="#4747eb" d="M589.8 582.2l3.3 -27.4l.9 -8.6l-3.2 31z"/>
<path color="#4537d5" d="M586.6 602.2l3.2 -20l1 -5l-3.3 22.3z"/>
<path color="#422ec0" d="M580.1 625.3l3.3 -9l3.2 -14.1l.9 -2.7l-3.2 15.5l-3.3 9.9z"/>
<path color="#695bd5" d="M576.9 630l3.2 -4.7l.9 -.4l-3.2 5.4z"/>
<path color="#6a5fde" d="M573.6 631.3l3.3 -1.3l.9 .3l-3.3 2.1z"/>
<path color="#6b63e5" d="M560.7 596.4l3.2 17.5l3.2 10.5l3.3 5.3l3.2 1.6l.9 1.1l-3.2 -.7l-3.2 -4.1l-3.3 -9.6l-3.2 -17.5z"/>
<path color="#6c67ea" d="M557.4 569.1l3.3 27.3l.9 4.1l-3.3 -28.3z"/>
<path color="#465efb" d="M554.2 526.9l3.2 42.2l.9 3.1l-3.2 -43.9z"/>
<path color="#2d8cf3" d="M550.9 459.1l3.3 67.8l.9 1.4l-3.3 -70.2z"/>
<path color="#0bbdbd" d="M547.7 352.9l3.2 106.2l.9 -1l-3.2 -112.6z"/>
<path color="#b9c431" d="M544.4 232.3l3.3 120.6l.9 -7.4l-3.2 -141.8z"/>
<path color="#fed88a" d="M541.2 217.2l3.2 15.1l1 -28.6l-3.3 -42.8z"/>
<path color="#9dc943" d="M538 326.8l3.2 -109.6l.9 -56.3l-3.2 116z"/>
<path color="#02bac3" d="M534.7 438.1l3.3 -111.3l.9 -49.9l-3.3 131.2z"/>
<path color="#2e87f7" d="M531.5 512.9l3.2 -74.8l.9 -30l-3.2 88.6z"/>
<path color="#465efb" d="M528.2 561.5l3.3 -48.6l.9 -16.2l-3.3 56.6z"/>
<path color="#4741e5" d="M525 594.2l3.2 -32.7l.9 -8.2l-3.2 37.5z"/>
<path color="#4332cb" d="M521.7 615.7l3.3 -21.5l.9 -3.4l-3.2 24.2z"/>
<path color="#402ab4" d="M518.5 628.1l3.2 -12.4l1 -.7l-3.3 13.6zM632.9 613l3.3 8.7l.9 3.6l-3.3 -7.4z"/>
<path color="#422ec0" d="M629.7 599.5l3.2 13.5l.9 4.9l-3.2 -12.4z"/>
<path color="#463cde" d="M626.4 579.8l3.3 19.7l.9 6l-3.3 -18.9z"/>
<path color="#484df0" d="M623.2 551.3l3.2 28.5l.9 6.8l-3.2 -27.5z"/>
<path color="#4563fd" d="M619.9 509.6l3.3 41.7l.9 7.8l-3.2 -40.1z"/>
<path color="#2d8cf3" d="M616.7 448.3l3.2 61.3l1 9.4l-3.3 -59.1z"/>
<path color="#08b5d0" d="M613.5 365.1l3.2 83.2l.9 11.6l-3.2 -83.5z"/>
<path color="#4acb84" d="M610.2 288l3.3 77.1l.9 11.3l-3.3 -89.8z"/>
<path color="#bce095" d="M607 283.2l3.2 4.8l.9 -1.4l-3.2 -28z"/>
<path color="#4acb84" d="M603.7 355.1l3.3 -71.9l.9 -24.6l-3.3 65z"/>
<path color="#08b5d0" d="M600.5 438.6l3.2 -83.5l.9 -31.5l-3.2 91.7z"/>
<path color="#2d8cf3" d="M597.2 502.1l3.3 -63.5l.9 -23.3l-3.2 72.2z"/>
<path color="#4563fd" d="M594 546.2l3.2 -44.1l1 -14.6l-3.3 49.8z"/>
<path color="#484df0" d="M590.8 577.2l3.2 -31l.9 -8.9l-3.2 34.4z"/>
<path color="#463cde" d="M587.5 599.5l3.3 -22.3l.9 -5.5l-3.3 24.3z"/>
<path color="#422ec0" d="M584.3 615l3.2 -15.5l.9 -3.5l-3.2 16.9z"/>
<path color="#402ab4" d="M581 624.9l3.3 -9.9l.9 -2.1l-3.3 11z"/>
<path color="#695bd5" d="M577.8 630.3l3.2 -5.4l.9 -1l-3.2 6.2z"/>
<path color="#6a5fde" d="M571.3 631.7l3.2 .7l3.3 -2.1l.9 -.2l-3.2 2.8l-3.3 .3z"/>
<path color="#6b63e5" d="M561.6 600.5l3.2 17.5l3.3 9.6l3.2 4.1l.9 1.5l-3.2 -2.8l-3.3 -8.3l-3.2 -16.9z"/>
<path color="#6c67ea" d="M558.3 572.2l3.3 28.3l.9 4.7l-3.3 -28.5z"/>
<path color="#465efb" d="M555.1 528.3l3.2 43.9l.9 4.5l-3.2 -44.6z"/>
<path color="#2e87f7" d="M551.8 458.1l3.3 70.2l.9 3.8l-3.2 -70.8z"/>
<path color="#0bbdbd" d="M548.6 345.5l3.2 112.6l1 3.2l-3.3 -114.4z"/>
<path color="#d1bf27" d="M545.4 203.7l3.2 141.8l.9 1.4l-3.2 -155.7z"/>
<path color="#f8e355" d="M542.1 160.9l3.3 42.8l.9 -12.5l-3.3 -73z"/>
<path color="#e6bb2d" d="M538.9 276.9l3.2 -116l.9 -42.7l-3.2 113.7z"/>
<path color="#2cc4a7" d="M535.6 408.1l3.3 -131.2l.9 -45l-3.3 148.6z"/>
<path color="#2797eb" d="M532.4 496.7l3.2 -88.6l.9 -27.6l-3.2 101.4z"/>
<path color="#4563fd" d="M529.1 553.3l3.3 -56.6l.9 -14.8l-3.2 63.9z"/>
<path color="#4747eb" d="M525.9 590.8l3.2 -37.5l1 -7.5l-3.3 41.5z"/>
<path color="#4332cb" d="M522.7 615l3.2 -24.2l.9 -3.5l-3.2 26.5z"/>
<path color="#402ab4" d="M519.4 628.6l3.3 -13.6l.9 -1.2l-3.3 14.7zM633.8 617.9l3.3 7.4l.9 3.1l-3.3 -6.1z"/>
<path color="#422ec0" d="M630.6 605.5l3.2 12.4l.9 4.4l-3.2 -11.1z"/>
<path color="#4537d5" d="M627.3 586.6l3.3 18.9l.9 5.7l-3.2 -17.7z"/>
<path color="#4747eb" d="M624.1 559.1l3.2 27.5l1 6.9l-3.3 -26.2z"/>
<path color="#465efb" d="M620.9 519l3.2 40.1l.9 8.2l-3.2 -37.7z"/>
<path color="#2f81fa" d="M617.6 459.9l3.3 59.1l.9 10.6l-3.3 -55.4z"/>
<path color="#18addb" d="M614.4 376.4l3.2 83.5l.9 14.3l-3.2 -79.7z"/>
<path color="#3fca8e" d="M611.1 286.6l3.3 89.8l.9 18.1l-3.3 -94.8z"/>
<path color="#9dc943" d="M607.9 258.6l3.2 28l.9 13.1l-3.2 -49.8z"/>
<path color="#64cd6f" d="M604.6 323.6l3.3 -65l.9 -8.7l-3.2 50.1z"/>
<path color="#02bac3" d="M601.4 415.3l3.2 -91.7l1 -23.6l-3.3 94.9z"/>
<path color="#2797eb" d="M598.2 487.5l3.2 -72.2l.9 -20.4l-3.2 79.4z"/>
<path color="#4269fe" d="M594.9 537.3l3.3 -49.8l.9 -13.2l-3.3 54.8z"/>
<path color="#4852f4" d="M591.7 571.7l3.2 -34.4l.9 -8.2l-3.2 37.2z"/>
<path color="#463cde" d="M588.4 596l3.3 -24.3l.9 -5.4l-3.3 25.8z"/>
<path color="#4332cb" d="M585.2 612.9l3.2 -16.9l.9 -3.9l-3.2 18z"/>
<path color="#402ab4" d="M581.9 623.9l3.3 -11l.9 -2.8l-3.2 11.9z"/>
<path color="#6858cc" d="M578.7 630.1l3.2 -6.2l1 -1.9l-3.3 7.2z"/>
<path color="#695bd5" d="M575.5 632.9l3.2 -2.8l.9 -.9l-3.2 3.8z"/>
<path color="#6a5fde" d="M572.2 633.2l3.3 -.3l.9 .1l-3.3 1.1z"/>
<path color="#6b63e5" d="M559.2 576.7l3.3 28.5l3.2 16.9l3.3 8.3l3.2 2.8l.9 .9l-3.2 -1.6l-3.3 -6.8l-3.2 -15.5l-3.2 -27.7z"/>
<path color="#4758f8" d="M556 532.1l3.2 44.6l1 5.8l-3.3 -43.7z"/>
<path color="#2e87f7" d="M552.8 461.3l3.2 70.8l.9 6.7l-3.2 -68.4z"/>
<path color="#02bac3" d="M549.5 346.9l3.3 114.4l.9 9.1l-3.3 -110.5z"/>
<path color="#c5c22a" d="M546.3 191.2l3.2 155.7l.9 13l-3.2 -158.2z"/>
<path color="#f5e924" d="M543 118.2l3.3 73l.9 10.5l-3.3 -99.2z"/>
<path color="#fec338" d="M539.8 231.9l3.2 -113.7l.9 -15.7l-3.2 99.5z"/>
<path color="#3fca8e" d="M536.5 380.5l3.3 -148.6l.9 -29.9l-3.2 158.4z"/>
<path color="#259be8" d="M533.3 481.9l3.2 -101.4l1 -20.1l-3.3 110.6z"/>
<path color="#4269fe" d="M530.1 545.8l3.2 -63.9l.9 -10.9l-3.2 68.8z"/>
<path color="#4747eb" d="M526.8 587.3l3.3 -41.5l.9 -6l-3.3 44z"/>
<path color="#4332cb" d="M523.6 613.8l3.2 -26.5l.9 -3.5l-3.2 28.1z"/>
<path color="#402ab4" d="M520.3 628.5l3.3 -14.7l.9 -1.9l-3.3 15.9zM631.5 611.2l3.2 11.1l1 3.6l-3.3 -9.6z"/>
<path color="#4332cb" d="M628.3 593.5l3.2 17.7l.9 5.1l-3.2 -16.2z"/>
<path color="#4741e5" d="M625 567.3l3.3 26.2l.9 6.6l-3.3 -24.2z"/>
<path color="#4758f8" d="M621.8 529.6l3.2 37.7l.9 8.6l-3.2 -34.8z"/>
<path color="#327cfc" d="M618.5 474.2l3.3 55.4l.9 11.5l-3.3 -50.2z"/>
<path color="#20a5e3" d="M615.3 394.5l3.2 79.7l.9 16.7l-3.2 -72.5z"/>
<path color="#2cc4a7" d="M612 299.7l3.3 94.8l.9 23.9l-3.2 -92.2z"/>
<path color="#8fcb4e" d="M608.8 249.9l3.2 49.8l1 26.5l-3.3 -65.7z"/>
<path color="#72cd64" d="M605.6 300l3.2 -50.1l.9 10.6l-3.2 28.7z"/>
<path color="#19bfb6" d="M602.3 394.9l3.3 -94.9l.9 -10.8l-3.3 90.9z"/>
<path color="#259be8" d="M599.1 474.3l3.2 -79.4l.9 -14.8l-3.2 83.5z"/>
<path color="#3875fe" d="M595.8 529.1l3.3 -54.8l.9 -10.7l-3.3 58.4z"/>
<path color="#4852f4" d="M592.6 566.3l3.2 -37.2l.9 -7.1l-3.2 39.2z"/>
<path color="#4741e5" d="M589.3 592.1l3.3 -25.8l.9 -5.1l-3.2 26.9z"/>
<path color="#4332cb" d="M586.1 610.1l3.2 -18l1 -4l-3.3 18.7z"/>
<path color="#422ec0" d="M579.6 629.2l3.3 -7.2l3.2 -11.9l.9 -3.3l-3.2 12.8l-3.3 8.2z"/>
<path color="#695bd5" d="M576.4 633l3.2 -3.8l.9 -1.4l-3.2 4.7z"/>
<path color="#6a5fde" d="M573.1 634.1l3.3 -1.1l.9 -.5l-3.3 2z"/>
<path color="#6b63e5" d="M560.2 582.5l3.2 27.7l3.2 15.5l3.3 6.8l3.2 1.6l.9 .4l-3.2 -.5l-3.2 -5.4l-3.3 -13.8l-3.2 -25.8z"/>
<path color="#4852f4" d="M556.9 538.8l3.3 43.7l.9 6.5l-3.3 -40.9z"/>
<path color="#327cfc" d="M553.7 470.4l3.2 68.4l.9 9.3l-3.2 -63.3z"/>
<path color="#08b5d0" d="M550.4 359.9l3.3 110.5l.9 14.4l-3.3 -101z"/>
<path color="#9dc943" d="M547.2 201.7l3.2 158.2l.9 23.9l-3.2 -149.4z"/>
<path color="#f5e327" d="M543.9 102.5l3.3 99.2l.9 32.7l-3.2 -115.5z"/>
<path color="#fec934" d="M540.7 202l3.2 -99.5l1 16.4l-3.3 74.2z"/>
<path color="#4acb84" d="M537.5 360.4l3.2 -158.4l.9 -8.9l-3.2 157.1z"/>
<path color="#23a0e5" d="M534.2 471l3.3 -110.6l.9 -10.2l-3.3 114.7z"/>
<path color="#3e6fff" d="M531 539.8l3.2 -68.8l.9 -6.1l-3.2 70.9z"/>
<path color="#484df0" d="M527.7 583.8l3.3 -44l.9 -4l-3.3 44.8z"/>
<path color="#4537d5" d="M524.5 611.9l3.2 -28.1l.9 -3.2l-3.2 28.7z"/>
<path color="#402ab4" d="M521.2 627.8l3.3 -15.9l.9 -2.6l-3.2 17zM632.4 616.3l3.3 9.6l.9 2.8l-3.3 -8.2z"/>
<path color="#4332cb" d="M629.2 600.1l3.2 16.2l.9 4.2l-3.2 -14.4z"/>
<path color="#463cde" d="M625.9 575.9l3.3 24.2l.9 6l-3.3 -21.9z"/>
<path color="#4852f4" d="M622.7 541.1l3.2 34.8l.9 8.3l-3.2 -31.2z"/>
<path color="#3e6fff" d="M619.4 490.9l3.3 50.2l.9 11.9l-3.2 -44.2z"/>
<path color="#2797eb" d="M616.2 418.4l3.2 72.5l1 17.9l-3.3 -63.6z"/>
<path color="#0bbdbd" d="M613 326.2l3.2 92.2l.9 26.8l-3.2 -84.3z"/>
<path color="#64cd6f" d="M609.7 260.5l3.3 65.7l.9 34.7l-3.3 -73.7z"/>
<path color="#aae1a2" d="M606.5 289.2l3.2 -28.7l.9 26.7l-3.2 5.2z"/>
<path color="#24c1ae" d="M603.2 380.1l3.3 -90.9l.9 3.2l-3.3 79.1z"/>
<path color="#23a0e5" d="M600 463.6l3.2 -83.5l.9 -8.6l-3.2 83.9z"/>
<path color="#3875fe" d="M596.7 522l3.3 -58.4l.9 -8.2l-3.2 60.7z"/>
<path color="#4758f8" d="M593.5 561.2l3.2 -39.2l1 -5.9l-3.3 40.6z"/>
<path color="#4741e5" d="M590.3 588.1l3.2 -26.9l.9 -4.5l-3.2 27.6z"/>
<path color="#4537d5" d="M587 606.8l3.3 -18.7l.9 -3.8l-3.3 19.2z"/>
<path color="#422ec0" d="M580.5 627.8l3.3 -8.2l3.2 -12.8l.9 -3.3l-3.2 13.4l-3.3 9z"/>
<path color="#695bd5" d="M577.3 632.5l3.2 -4.7l.9 -1.9l-3.2 5.6z"/>
<path color="#6a5fde" d="M574 634.5l3.3 -2l.9 -1l-3.2 2.9z"/>
<path color="#6b63e5" d="M561.1 589l3.2 25.8l3.3 13.8l3.2 5.4l3.2 .5l1 -.1l-3.3 .3l-3.2 -4.1l-3.3 -12.1l-3.2 -23.2z"/>
<path color="#6c70f3" d="M557.8 548.1l3.3 40.9l.9 6.3l-3.3 -36.9z"/>
<path color="#3875fe" d="M554.6 484.8l3.2 63.3l.9 10.3l-3.2 -56.2z"/>
<path color="#1ca9df" d="M551.3 383.8l3.3 101l.9 17.4l-3.2 -88.6z"/>
<path color="#64cd6f" d="M548.1 234.4l3.2 149.4l1 29.8l-3.3 -133.7z"/>
<path color="#fec338" d="M544.9 118.9l3.2 115.5l.9 45.5l-3.2 -121z"/>
<path color="#fecb63" d="M541.6 193.1l3.3 -74.2l.9 40l-3.3 43.7z"/>
<path color="#57cc7a" d="M538.4 350.2l3.2 -157.1l.9 9.5l-3.2 145.7z"/>
<path color="#20a5e3" d="M535.1 464.9l3.3 -114.7l.9 -1.9l-3.3 114.1z"/>
<path color="#3e6fff" d="M531.9 535.8l3.2 -70.9l.9 -2.5l-3.2 70.8z"/>
<path color="#484df0" d="M528.6 580.6l3.3 -44.8l.9 -2.6l-3.2 44.5z"/>
<path color="#4537d5" d="M525.4 609.3l3.2 -28.7l1 -2.9l-3.3 28.7z"/>
<path color="#422ec0" d="M522.2 626.3l3.2 -17l.9 -2.9l-3.2 17.7z"/>
<path color="#402ab4" d="M633.3 620.5l3.3 8.2l.9 2l-3.3 -6.9z"/>
<path color="#422ec0" d="M630.1 606.1l3.2 14.4l.9 3.3l-3.2 -12.7z"/>
<path color="#4537d5" d="M626.8 584.2l3.3 21.9l.9 5l-3.2 -19.4z"/>
<path color="#484df0" d="M623.6 553l3.2 31.2l1 7.5l-3.3 -27.4z"/>
<path color="#4563fd" d="M620.4 508.8l3.2 44.2l.9 11.3l-3.2 -38.1z"/>
<path color="#2e87f7" d="M617.1 445.2l3.3 63.6l.9 17.4l-3.3 -54.4z"/>
<path color="#12b1d6" d="M613.9 360.9l3.2 84.3l.9 26.6l-3.2 -74.1z"/>
<path color="#37c897" d="M610.6 287.2l3.3 73.7l.9 36.8l-3.3 -74.6z"/>
<path color="#9ae1af" d="M607.4 292.4l3.2 -5.2l.9 35.9l-3.2 -16z"/>
<path color="#24c1ae" d="M604.1 371.5l3.3 -79.1l.9 14.7l-3.2 61.9z"/>
<path color="#20a5e3" d="M600.9 455.4l3.2 -83.9l1 -2.5l-3.3 80.3z"/>
<path color="#327cfc" d="M597.7 516.1l3.2 -60.7l.9 -6.1l-3.2 61.8z"/>
<path color="#465efb" d="M594.4 556.7l3.3 -40.6l.9 -5l-3.3 41.7z"/>
<path color="#4747eb" d="M591.2 584.3l3.2 -27.6l.9 -3.9l-3.2 28.1z"/>
<path color="#4537d5" d="M587.9 603.5l3.3 -19.2l.9 -3.4l-3.3 19.5z"/>
<path color="#4332cb" d="M584.7 616.9l3.2 -13.4l.9 -3.1l-3.2 13.7z"/>
<path color="#402ab4" d="M581.4 625.9l3.3 -9l.9 -2.8l-3.2 9.6z"/>
<path color="#695bd5" d="M575 634.4l3.2 -2.9l3.2 -5.6l1 -2.2l-3.3 6.3l-3.2 3.8z"/>
<path color="#6a5fde" d="M571.7 634.7l3.3 -.3l.9 -.6l-3.3 1.1z"/>
<path color="#6b63e5" d="M562 595.3l3.2 23.2l3.3 12.1l3.2 4.1l.9 .2l-3.2 -3.2l-3.3 -10.6l-3.2 -20.5z"/>
<path color="#6c6cef" d="M558.7 558.4l3.3 36.9l.9 5.3l-3.2 -32.4z"/>
<path color="#4269fe" d="M555.5 502.2l3.2 56.2l1 9.8l-3.3 -48.8z"/>
<path color="#2797eb" d="M552.3 413.6l3.2 88.6l.9 17.2l-3.2 -76.1z"/>
<path color="#31c69f" d="M549 279.9l3.3 133.7l.9 29.7l-3.3 -115.9z"/>
<path color="#dcbd29" d="M545.8 158.9l3.2 121l.9 47.5l-3.2 -118.1z"/>
<path color="#f0d681" d="M542.5 202.6l3.3 -43.7l.9 50.4l-3.2 14.4z"/>
<path color="#4acb84" d="M539.3 348.3l3.2 -145.7l1 21.1l-3.3 127.6z"/>
<path color="#20a5e3" d="M536 462.4l3.3 -114.1l.9 3l-3.2 110.4z"/>
<path color="#3e6fff" d="M532.8 533.2l3.2 -70.8l1 -.7l-3.3 69.7z"/>
<path color="#484df0" d="M529.6 577.7l3.2 -44.5l.9 -1.8l-3.2 43.6z"/>
<path color="#463cde" d="M526.3 606.4l3.3 -28.7l.9 -2.7l-3.3 28.3z"/>
<path color="#422ec0" d="M523.1 624.1l3.2 -17.7l.9 -3.1l-3.2 18.2z"/>
<path color="#402ab4" d="M519.8 633.7l3.3 -9.6l.9 -2.6l-3.2 10.7zM634.2 623.8l3.3 6.9l.9 1.5l-3.2 -6z"/>
<path color="#422ec0" d="M631 611.1l3.2 12.7l1 2.4l-3.3 -11.1z"/>
<path color="#4537d5" d="M627.8 591.7l3.2 19.4l.9 4l-3.2 -17z"/>
<path color="#4741e5" d="M624.5 564.3l3.3 27.4l.9 6.4l-3.3 -23.6z"/>
<path color="#4758f8" d="M621.3 526.2l3.2 38.1l.9 10.2l-3.2 -32.6z"/>
<path color="#327cfc" d="M618 471.8l3.3 54.4l.9 15.7l-3.3 -46z"/>
<path color="#23a0e5" d="M614.8 397.7l3.2 74.1l.9 24.1l-3.2 -63.6z"/>
<path color="#0bbdbd" d="M611.5 323.1l3.3 74.6l.9 34.6l-3.2 -70.9z"/>
<path color="#5fd3ac" d="M608.3 307.1l3.2 16l1 38.3l-3.3 -31.8z"/>
<path color="#24c1ae" d="M605.1 369l3.2 -61.9l.9 22.5l-3.2 42z"/>
<path color="#1ca9df" d="M601.8 449.3l3.3 -80.3l.9 2.6l-3.3 73.4z"/>
<path color="#2f81fa" d="M598.6 511.1l3.2 -61.8l.9 -4.3l-3.2 61.6z"/>
<path color="#465efb" d="M595.3 552.8l3.3 -41.7l.9 -4.5l-3.2 42.5z"/>
<path color="#4747eb" d="M592.1 580.9l3.2 -28.1l1 -3.7l-3.3 28.6z"/>
<path color="#463cde" d="M588.8 600.4l3.3 -19.5l.9 -3.2l-3.2 19.8z"/>
<path color="#4332cb" d="M585.6 614.1l3.2 -13.7l1 -2.9l-3.3 13.9z"/>
<path color="#422ec0" d="M579.1 630l3.3 -6.3l3.2 -9.6l.9 -2.7l-3.2 10l-3.3 6.9z"/>
<path color="#695bd5" d="M575.9 633.8l3.2 -3.8l.9 -1.7l-3.2 4.5z"/>
<path color="#6a5fde" d="M572.6 634.9l3.3 -1.1l.9 -1l-3.2 1.8z"/>
<path color="#6b63e5" d="M562.9 600.6l3.2 20.5l3.3 10.6l3.2 3.2l1 -.3l-3.3 -2.5l-3.2 -9.3l-3.3 -18z"/>
<path color="#6c67ea" d="M559.7 568.2l3.2 32.4l.9 4.2l-3.2 -28.2z"/>
<path color="#465efb" d="M556.4 519.4l3.3 48.8l.9 8.4l-3.3 -42.1z"/>
<path color="#2d8cf3" d="M553.2 443.3l3.2 76.1l.9 15.1l-3.2 -64.8z"/>
<path color="#02bac3" d="M549.9 327.4l3.3 115.9l.9 26.4l-3.2 -99.3z"/>
<path color="#8fcb4e" d="M546.7 209.3l3.2 118.1l1 43l-3.3 -110.6z"/>
<path color="#dcda7f" d="M543.5 223.7l3.2 -14.4l.9 50.5l-3.2 -9.6z"/>
<path color="#3fca8e" d="M540.2 351.3l3.3 -127.6l.9 26.5l-3.3 106.5z"/>
<path color="#20a5e3" d="M537 461.7l3.2 -110.4l.9 5.4l-3.2 104.8z"/>
<path color="#3875fe" d="M533.7 531.4l3.3 -69.7l.9 -.2l-3.3 68.3z"/>
<path color="#4852f4" d="M530.5 575l3.2 -43.6l.9 -1.6l-3.2 42.7z"/>
<path color="#463cde" d="M527.2 603.3l3.3 -28.3l.9 -2.5l-3.2 27.7z"/>
<path color="#4332cb" d="M524 621.5l3.2 -18.2l1 -3.1l-3.3 18.4z"/>
<path color="#402ab4" d="M520.8 632.2l3.2 -10.7l.9 -2.9l-3.2 11.5zM631.9 615.1l3.3 11.1l.9 1.8l-3.3 -9.7z"/>
<path color="#4332cb" d="M628.7 598.1l3.2 17l.9 3.2l-3.2 -14.8z"/>
<path color="#4741e5" d="M625.4 574.5l3.3 23.6l.9 5.4l-3.2 -20.3z"/>
<path color="#4852f4" d="M622.2 541.9l3.2 32.6l1 8.7l-3.3 -27.8z"/>
<path color="#4269fe" d="M618.9 495.9l3.3 46l.9 13.5l-3.2 -38.7z"/>
<path color="#2b91ef" d="M615.7 432.3l3.2 63.6l1 20.8l-3.3 -54.1z"/>
<path color="#12b1d6" d="M612.5 361.4l3.2 70.9l.9 30.3l-3.2 -64.7z"/>
<path color="#24c1ae" d="M609.2 329.6l3.3 31.8l.9 36.5l-3.3 -41.6z"/>
<path color="#3ccaca" d="M606 371.6l3.2 -42l.9 26.7l-3.2 22.3z"/>
<path color="#1ca9df" d="M602.7 445l3.3 -73.4l.9 7l-3.2 63.7z"/>
<path color="#2f81fa" d="M599.5 506.6l3.2 -61.6l1 -2.7l-3.3 60.2z"/>
<path color="#4563fd" d="M596.3 549.1l3.2 -42.5l.9 -4.1l-3.2 43.1z"/>
<path color="#484df0" d="M593 577.7l3.3 -28.6l.9 -3.5l-3.3 29.2z"/>
<path color="#463cde" d="M589.8 597.5l3.2 -19.8l.9 -2.9l-3.2 20z"/>
<path color="#4332cb" d="M586.5 611.4l3.3 -13.9l.9 -2.7l-3.3 14.2z"/>
<path color="#422ec0" d="M580 628.3l3.3 -6.9l3.2 -10l.9 -2.4l-3.2 10.2l-3.2 7.4z"/>
<path color="#695bd5" d="M576.8 632.8l3.2 -4.5l1 -1.7l-3.3 4.9z"/>
<path color="#6a5fde" d="M573.6 634.6l3.2 -1.8l.9 -1.3l-3.2 2.3z"/>
<path color="#6b63e5" d="M563.8 604.8l3.3 18l3.2 9.3l3.3 2.5l.9 -.8l-3.3 -1.9l-3.2 -8.2l-3.3 -15.8z"/>
<path color="#6c67ea" d="M560.6 576.6l3.2 28.2l.9 3.1l-3.2 -24.5z"/>
<path color="#4758f8" d="M557.3 534.5l3.3 42.1l.9 6.8l-3.2 -36.2z"/>
<path color="#327cfc" d="M554.1 469.7l3.2 64.8l1 12.7l-3.3 -55.4z"/>
<path color="#18addb" d="M550.9 370.4l3.2 99.3l.9 22.1l-3.2 -84.9z"/>
<path color="#4acb84" d="M547.6 259.8l3.3 110.6l.9 36.5l-3.3 -101z"/>
<path color="#bce095" d="M544.4 250.2l3.2 9.6l.9 46.1l-3.2 -27.5z"/>
<path color="#31c69f" d="M541.1 356.7l3.3 -106.5l.9 28.2l-3.3 84.8z"/>
<path color="#20a5e3" d="M537.9 461.5l3.2 -104.8l.9 6.5l-3.2 98.1z"/>
<path color="#3875fe" d="M534.6 529.8l3.3 -68.3l.9 -.2l-3.2 66.8z"/>
<path color="#4852f4" d="M531.4 572.5l3.2 -42.7l1 -1.7l-3.3 42z"/>
<path color="#463cde" d="M528.2 600.2l3.2 -27.7l.9 -2.4l-3.2 27.2z"/>
<path color="#4332cb" d="M524.9 618.6l3.3 -18.4l.9 -2.9l-3.3 18.4z"/>
<path color="#402ab4" d="M521.7 630.1l3.2 -11.5l.9 -2.9l-3.2 12.1zM632.8 618.3l3.3 9.7l.9 1.4l-3.2 -8.5z"/>
<path color="#4332cb" d="M629.6 603.5l3.2 14.8l1 2.6l-3.3 -12.9z"/>
<path color="#463cde" d="M626.4 583.2l3.2 20.3l.9 4.5l-3.2 -17.5z"/>
<path color="#484df0" d="M623.1 555.4l3.3 27.8l.9 7.3l-3.3 -23.6z"/>
<path color="#465efb" d="M619.9 516.7l3.2 38.7l.9 11.5l-3.2 -32.8z"/>
<path color="#2f81fa" d="M616.6 462.6l3.3 54.1l.9 17.4l-3.3 -45.8z"/>
<path color="#20a5e3" d="M613.4 397.9l3.2 64.7l.9 25.7l-3.2 -57.5z"/>
<path color="#01b8ca" d="M610.1 356.3l3.3 41.6l.9 32.9l-3.2 -46.4z"/>
<path color="#67d6db" d="M606.9 378.6l3.2 -22.3l1 28.1l-3.3 4.9z"/>
<path color="#1ca9df" d="M603.7 442.3l3.2 -63.7l.9 10.7l-3.2 52z"/>
<path color="#2e87f7" d="M600.4 502.5l3.3 -60.2l.9 -1l-3.3 57.5z"/>
<path color="#4563fd" d="M597.2 545.6l3.2 -43.1l.9 -3.7l-3.2 43.5z"/>
<path color="#484df0" d="M593.9 574.8l3.3 -29.2l.9 -3.3l-3.3 29.8z"/>
<path color="#4741e5" d="M590.7 594.8l3.2 -20l.9 -2.7l-3.2 20.4z"/>
<path color="#4537d5" d="M587.4 609l3.3 -14.2l.9 -2.3l-3.2 14.3z"/>
<path color="#422ec0" d="M584.2 619.2l3.2 -10.2l1 -2.2l-3.3 10.4z"/>
<path color="#402ab4" d="M581 626.6l3.2 -7.4l.9 -2l-3.2 7.6z"/>
<path color="#695bd5" d="M577.7 631.5l3.3 -4.9l.9 -1.8l-3.3 5.3z"/>
<path color="#6a5fde" d="M571.2 631.9l3.3 1.9l3.2 -2.3l.9 -1.4l-3.2 2.6l-3.3 -1.6z"/>
<path color="#6b63e5" d="M561.5 583.4l3.2 24.5l3.3 15.8l3.2 8.2l.9 -.8l-3.2 -7.2l-3.2 -13.8l-3.3 -21.3z"/>
<path color="#4852f4" d="M558.3 547.2l3.2 36.2l.9 5.4l-3.2 -31.3z"/>
<path color="#3e6fff" d="M555 491.8l3.3 55.4l.9 10.3l-3.3 -47.7z"/>
<path color="#23a0e5" d="M551.8 406.9l3.2 84.9l.9 18l-3.2 -72.9z"/>
<path color="#24c1ae" d="M548.5 305.9l3.3 101l.9 30l-3.3 -91z"/>
<path color="#78d695" d="M545.3 278.4l3.2 27.5l.9 40l-3.2 -39.6z"/>
<path color="#2cc4a7" d="M542 363.2l3.3 -84.8l.9 27.9l-3.2 64z"/>
<path color="#20a5e3" d="M538.8 461.3l3.2 -98.1l1 7.1l-3.3 90.5z"/>
<path color="#3875fe" d="M535.6 528.1l3.2 -66.8l.9 -.5l-3.2 65.4z"/>
<path color="#4758f8" d="M532.3 570.1l3.3 -42l.9 -1.9l-3.3 41.5z"/>
<path color="#4741e5" d="M529.1 597.3l3.2 -27.2l.9 -2.4l-3.2 27z"/>
<path color="#4332cb" d="M525.8 615.7l3.3 -18.4l.9 -2.6l-3.3 18.2z"/>
<path color="#422ec0" d="M522.6 627.8l3.2 -12.1l.9 -2.8l-3.2 12.4z"/>
<path color="#402ab4" d="M519.3 635.2l3.3 -7.4l.9 -2.5l-3.2 8.2zM633.8 620.9l3.2 8.5l.9 1.2l-3.2 -7.6z"/>
<path color="#422ec0" d="M630.5 608l3.3 12.9l.9 2.1l-3.3 -11.2z"/>
<path color="#4537d5" d="M627.3 590.5l3.2 17.5l.9 3.8l-3.2 -15.1z"/>
<path color="#4747eb" d="M624 566.9l3.3 23.6l.9 6.2l-3.3 -20.2z"/>
<path color="#4758f8" d="M620.8 534.1l3.2 32.8l.9 9.6l-3.2 -27.8z"/>
<path color="#3e6fff" d="M617.5 488.3l3.3 45.8l.9 14.6l-3.2 -38.8z"/>
<path color="#2b91ef" d="M614.3 430.8l3.2 57.5l1 21.6l-3.3 -50.5z"/>
<path color="#18addb" d="M611.1 384.4l3.2 46.4l.9 28.6l-3.2 -47.4z"/>
<path color="#6bd2e3" d="M607.8 389.3l3.3 -4.9l.9 27.6l-3.3 -9z"/>
<path color="#20a5e3" d="M604.6 441.3l3.2 -52l.9 13.7l-3.2 39.1z"/>
<path color="#2e87f7" d="M601.3 498.8l3.3 -57.5l.9 .8l-3.3 53.4z"/>
<path color="#4269fe" d="M598.1 542.3l3.2 -43.5l.9 -3.3l-3.2 43.4z"/>
<path color="#4852f4" d="M594.8 572.1l3.3 -29.8l.9 -3.4l-3.2 30.5z"/>
<path color="#4741e5" d="M591.6 592.5l3.2 -20.4l1 -2.7l-3.3 20.8z"/>
<path color="#4537d5" d="M588.4 606.8l3.2 -14.3l.9 -2.3l-3.2 14.7z"/>
<path color="#4332cb" d="M585.1 617.2l3.3 -10.4l.9 -1.9l-3.3 10.6z"/>
<path color="#422ec0" d="M581.9 624.8l3.2 -7.6l.9 -1.7l-3.2 7.7z"/>
<path color="#6858cc" d="M578.6 630.1l3.3 -5.3l.9 -1.6l-3.3 5.4z"/>
<path color="#695bd5" d="M575.4 632.7l3.2 -2.6l.9 -1.5l-3.2 2.7z"/>
<path color="#6a5fde" d="M572.1 631.1l3.3 1.6l.9 -1.4l-3.2 -1.2z"/>
<path color="#6b63e5" d="M562.4 588.8l3.3 21.3l3.2 13.8l3.2 7.2l1 -1l-3.3 -6.4l-3.2 -12l-3.3 -18.6z"/>
<path color="#6c70f3" d="M559.2 557.5l3.2 31.3l.9 4.3l-3.2 -27.2z"/>
<path color="#4269fe" d="M555.9 509.8l3.3 47.7l.9 8.4l-3.3 -41.3z"/>
<path color="#2b91ef" d="M552.7 436.9l3.2 72.9l.9 14.8l-3.2 -63z"/>
<path color="#01b8ca" d="M549.4 345.9l3.3 91l.9 24.7l-3.2 -81.5z"/>
<path color="#37c897" d="M546.2 306.3l3.2 39.6l1 34.2l-3.3 -47.1z"/>
<path color="#50cebf" d="M543 370.3l3.2 -64l.9 26.7l-3.2 45z"/>
<path color="#20a5e3" d="M539.7 460.8l3.3 -90.5l.9 7.7l-3.3 82.1z"/>
<path color="#3875fe" d="M536.5 526.2l3.2 -65.4l.9 -.7l-3.2 63.9z"/>
<path color="#4758f8" d="M533.2 567.7l3.3 -41.5l.9 -2.2l-3.3 41.4z"/>
<path color="#4741e5" d="M530 594.7l3.2 -27l.9 -2.3l-3.2 26.8z"/>
<path color="#4537d5" d="M526.7 612.9l3.3 -18.2l.9 -2.5l-3.2 18.1z"/>
<path color="#422ec0" d="M523.5 625.3l3.2 -12.4l1 -2.6l-3.3 12.6z"/>
<path color="#402ab4" d="M520.3 633.5l3.2 -8.2l.9 -2.4l-3.2 8.7zM634.7 623l3.2 7.6l.9 1l-3.2 -6.8z"/>
<path color="#422ec0" d="M631.4 611.8l3.3 11.2l.9 1.8l-3.3 -9.8z"/>
<path color="#4537d5" d="M628.2 596.7l3.2 15.1l.9 3.2l-3.2 -13.1z"/>
<path color="#4741e5" d="M624.9 576.5l3.3 20.2l.9 5.2l-3.2 -17.3z"/>
<path color="#4852f4" d="M621.7 548.7l3.2 27.8l1 8.1l-3.3 -23.7z"/>
<path color="#4563fd" d="M618.5 509.9l3.2 38.8l.9 12.2l-3.2 -33.1z"/>
<path color="#2e87f7" d="M615.2 459.4l3.3 50.5l.9 17.9l-3.3 -43.9z"/>
<path color="#23a0e5" d="M612 412l3.2 47.4l.9 24.5l-3.2 -45.9z"/>
<path color="#46bee2" d="M608.7 403l3.3 9l.9 26l-3.3 -19.2z"/>
<path color="#20a5e3" d="M605.5 442.1l3.2 -39.1l.9 15.8l-3.2 26.1z"/>
<path color="#2e87f7" d="M602.2 495.5l3.3 -53.4l.9 2.8l-3.2 47.8z"/>
<path color="#4269fe" d="M599 538.9l3.2 -43.4l1 -2.8l-3.3 42.9z"/>
<path color="#4852f4" d="M595.8 569.4l3.2 -30.5l.9 -3.3l-3.2 31.1z"/>
<path color="#4741e5" d="M592.5 590.2l3.3 -20.8l.9 -2.7l-3.3 21.4z"/>
<path color="#4537d5" d="M589.3 604.9l3.2 -14.7l.9 -2.1l-3.2 15z"/>
<path color="#4332cb" d="M586 615.5l3.3 -10.6l.9 -1.8l-3.3 10.8z"/>
<path color="#422ec0" d="M579.5 628.6l3.3 -5.4l3.2 -7.7l.9 -1.6l-3.2 7.8l-3.2 5.5z"/>
<path color="#695bd5" d="M576.3 631.3l3.2 -2.7l1 -1.4l-3.3 2.7z"/>
<path color="#6a5fde" d="M569.8 623.7l3.3 6.4l3.2 1.2l.9 -1.4l-3.2 -1.1l-3.3 -5.6z"/>
<path color="#6b63e5" d="M563.3 593.1l3.3 18.6l3.2 12l.9 -.5l-3.2 -10.5l-3.3 -16.2z"/>
<path color="#6c6cef" d="M560.1 565.9l3.2 27.2l.9 3.4l-3.2 -23.8z"/>
<path color="#465efb" d="M556.8 524.6l3.3 41.3l.9 6.8l-3.2 -36z"/>
<path color="#2e87f7" d="M553.6 461.6l3.2 63l1 12.1l-3.3 -54.8z"/>
<path color="#18addb" d="M550.4 380.1l3.2 81.5l.9 20.3l-3.2 -72.8z"/>
<path color="#24c1ae" d="M547.1 333l3.3 47.1l.9 29l-3.3 -50.9z"/>
<path color="#3ccaca" d="M543.9 378l3.2 -45l.9 25.2l-3.2 28.2z"/>
<path color="#20a5e3" d="M540.6 460.1l3.3 -82.1l.9 8.4l-3.3 73.1z"/>
<path color="#327cfc" d="M537.4 524l3.2 -63.9l.9 -.6l-3.2 62.2z"/>
<path color="#4758f8" d="M534.1 565.4l3.3 -41.4l.9 -2.3l-3.2 41.3z"/>
<path color="#4747eb" d="M530.9 592.2l3.2 -26.8l1 -2.4l-3.3 26.9z"/>
<path color="#4537d5" d="M527.7 610.3l3.2 -18.1l.9 -2.3l-3.2 18.1z"/>
<path color="#4332cb" d="M524.4 622.9l3.3 -12.6l.9 -2.3l-3.3 12.7z"/>
<path color="#402ab4" d="M517.9 637.3l3.3 -5.7l3.2 -8.7l.9 -2.2l-3.2 9l-3.3 6.2zM635.6 624.8l3.2 6.8l.9 .9l-3.2 -6.1z"/>
<path color="#422ec0" d="M632.3 615l3.3 9.8l.9 1.6l-3.2 -8.6z"/>
<path color="#4332cb" d="M629.1 601.9l3.2 13.1l1 2.8l-3.3 -11.4z"/>
<path color="#463cde" d="M625.9 584.6l3.2 17.3l.9 4.5l-3.2 -15z"/>
<path color="#4747eb" d="M622.6 560.9l3.3 23.7l.9 6.8l-3.3 -20.3z"/>
<path color="#465efb" d="M619.4 527.8l3.2 33.1l.9 10.2l-3.2 -28.3z"/>
<path color="#3875fe" d="M616.1 483.9l3.3 43.9l.9 15l-3.3 -38.1z"/>
<path color="#2b91ef" d="M612.9 438l3.2 45.9l.9 20.8l-3.2 -42.9z"/>
<path color="#20a5e3" d="M609.6 418.8l3.3 19.2l.9 23.8l-3.2 -26z"/>
<path color="#4fb3ea" d="M606.4 444.9l3.2 -26.1l1 17l-3.3 13.9z"/>
<path color="#2d8cf3" d="M603.2 492.7l3.2 -47.8l.9 4.8l-3.2 41.1z"/>
<path color="#3e6fff" d="M599.9 535.6l3.3 -42.9l.9 -1.9l-3.3 41.6z"/>
<path color="#4758f8" d="M596.7 566.7l3.2 -31.1l.9 -3.2l-3.2 31.5z"/>
<path color="#4747eb" d="M593.4 588.1l3.3 -21.4l.9 -2.8l-3.3 22.1z"/>
<path color="#463cde" d="M590.2 603.1l3.2 -15l.9 -2.1l-3.2 15.4z"/>
<path color="#4332cb" d="M586.9 613.9l3.3 -10.8l.9 -1.7l-3.2 11z"/>
<path color="#422ec0" d="M580.5 627.2l3.2 -5.5l3.2 -7.8l1 -1.5l-3.3 8l-3.2 5.4z"/>
<path color="#695bd5" d="M577.2 629.9l3.3 -2.7l.9 -1.4l-3.3 2.6z"/>
<path color="#6a5fde" d="M570.7 623.2l3.3 5.6l3.2 1.1l.9 -1.5l-3.2 -1l-3.3 -4.9z"/>
<path color="#6b63e5" d="M564.2 596.5l3.3 16.2l3.2 10.5l.9 -.7l-3.2 -9.2l-3.2 -14.1z"/>
<path color="#6c6cef" d="M561 572.7l3.2 23.8l1 2.7l-3.3 -21z"/>
<path color="#4758f8" d="M557.8 536.7l3.2 36l.9 5.5l-3.2 -31.5z"/>
<path color="#327cfc" d="M554.5 481.9l3.3 54.8l.9 10l-3.3 -48z"/>
<path color="#23a0e5" d="M551.3 409.1l3.2 72.8l.9 16.8l-3.2 -64.9z"/>
<path color="#02bac3" d="M548 358.2l3.3 50.9l.9 24.7l-3.3 -52.3z"/>
<path color="#67d6db" d="M544.8 386.4l3.2 -28.2l.9 23.3l-3.2 14z"/>
<path color="#23a0e5" d="M541.5 459.5l3.3 -73.1l.9 9.1l-3.2 63.7z"/>
<path color="#327cfc" d="M538.3 521.7l3.2 -62.2l1 -.3l-3.3 60z"/>
<path color="#465efb" d="M535.1 563l3.2 -41.3l.9 -2.5l-3.2 41.4z"/>
<path color="#4747eb" d="M531.8 589.9l3.3 -26.9l.9 -2.4l-3.3 27.1z"/>
<path color="#463cde" d="M528.6 608l3.2 -18.1l.9 -2.2l-3.2 18.2z"/>
<path color="#4332cb" d="M525.3 620.7l3.3 -12.7l.9 -2.1l-3.3 12.8z"/>
<path color="#422ec0" d="M522.1 629.7l3.2 -9l.9 -2l-3.2 9.1z"/>
<path color="#402ab4" d="M518.8 635.9l3.3 -6.2l.9 -1.9l-3.2 6.6zM636.5 626.4l3.2 6.1l1 .8l-3.3 -5.5z"/>
<path color="#422ec0" d="M633.3 617.8l3.2 8.6l.9 1.4l-3.2 -7.6z"/>
<path color="#4332cb" d="M630 606.4l3.3 11.4l.9 2.4l-3.3 -9.9z"/>
<path color="#4537d5" d="M626.8 591.4l3.2 15l.9 3.9l-3.2 -13.1z"/>
<path color="#4747eb" d="M623.5 571.1l3.3 20.3l.9 5.8l-3.3 -17.5z"/>
<path color="#4852f4" d="M620.3 542.8l3.2 28.3l.9 8.6l-3.2 -24.3z"/>
<path color="#4269fe" d="M617 504.7l3.3 38.1l.9 12.6l-3.2 -33z"/>
<path color="#2e87f7" d="M613.8 461.8l3.2 42.9l1 17.7l-3.3 -39.4z"/>
<path color="#259be8" d="M610.6 435.8l3.2 26l.9 21.2l-3.2 -29.7z"/>
<path color="#7cc3f1" d="M607.3 449.7l3.3 -13.9l.9 17.5l-3.3 3.1z"/>
<path color="#2d8cf3" d="M604.1 490.8l3.2 -41.1l.9 6.7l-3.2 33.4z"/>
<path color="#3e6fff" d="M600.8 532.4l3.3 -41.6l.9 -1l-3.3 39.5z"/>
<path color="#4758f8" d="M597.6 563.9l3.2 -31.5l.9 -3.1l-3.2 31.9z"/>
<path color="#4747eb" d="M594.3 586l3.3 -22.1l.9 -2.7l-3.2 22.7z"/>
<path color="#463cde" d="M591.1 601.4l3.2 -15.4l1 -2.1l-3.3 15.9z"/>
<path color="#4537d5" d="M587.9 612.4l3.2 -11l.9 -1.6l-3.2 11.3z"/>
<path color="#422ec0" d="M581.4 625.8l3.2 -5.4l3.3 -8l.9 -1.3l-3.3 8.1l-3.2 5.3z"/>
<path color="#6858cc" d="M578.1 628.4l3.3 -2.6l.9 -1.3l-3.3 2.4z"/>
<path color="#695bd5" d="M574.9 627.4l3.2 1l.9 -1.5l-3.2 -.8z"/>
<path color="#6a5fde" d="M571.6 622.5l3.3 4.9l.9 -1.3l-3.2 -4.3z"/>
<path color="#6b63e5" d="M565.2 599.2l3.2 14.1l3.2 9.2l1 -.7l-3.3 -8.1l-3.2 -12.4z"/>
<path color="#6c67ea" d="M561.9 578.2l3.3 21l.9 2.1l-3.3 -18.5z"/>
<path color="#4852f4" d="M558.7 546.7l3.2 31.5l.9 4.6l-3.2 -27.8z"/>
<path color="#3e6fff" d="M555.4 498.7l3.3 48l.9 8.3l-3.2 -42.2z"/>
<path color="#2797eb" d="M552.2 433.8l3.2 64.9l1 14.1l-3.3 -58z"/>
<path color="#12b1d6" d="M548.9 381.5l3.3 52.3l.9 21l-3.2 -51.9z"/>
<path color="#6bd2e3" d="M545.7 395.5l3.2 -14l1 21.4l-3.3 2.4z"/>
<path color="#23a0e5" d="M542.5 459.2l3.2 -63.7l.9 9.8l-3.2 54z"/>
<path color="#327cfc" d="M539.2 519.2l3.3 -60l.9 .1l-3.3 57.5z"/>
<path color="#465efb" d="M536 560.6l3.2 -41.4l.9 -2.4l-3.2 41.4z"/>
<path color="#4747eb" d="M532.7 587.7l3.3 -27.1l.9 -2.4l-3.2 27.4z"/>
<path color="#463cde" d="M529.5 605.9l3.2 -18.2l1 -2.1l-3.3 18.4z"/>
<path color="#4332cb" d="M526.2 618.7l3.3 -12.8l.9 -1.9l-3.2 12.9z"/>
<path color="#422ec0" d="M523 627.8l3.2 -9.1l1 -1.8l-3.3 9.2z"/>
<path color="#402ab4" d="M519.8 634.4l3.2 -6.6l.9 -1.7l-3.2 6.8zM637.4 627.8l3.3 5.5l.9 .8l-3.3 -4.9z"/>
<path color="#422ec0" d="M634.2 620.2l3.2 7.6l.9 1.4l-3.2 -6.8z"/>
<path color="#4332cb" d="M630.9 610.3l3.3 9.9l.9 2.2l-3.3 -8.8z"/>
<path color="#4537d5" d="M627.7 597.2l3.2 13.1l.9 3.3l-3.2 -11.3z"/>
<path color="#4741e5" d="M624.4 579.7l3.3 17.5l.9 5.1l-3.2 -15.3z"/>
<path color="#484df0" d="M621.2 555.4l3.2 24.3l1 7.3l-3.3 -20.9z"/>
<path color="#4563fd" d="M618 522.4l3.2 33l.9 10.7l-3.2 -28.7z"/>
<path color="#327cfc" d="M614.7 483l3.3 39.4l.9 15l-3.3 -35.5z"/>
<path color="#2b91ef" d="M611.5 453.3l3.2 29.7l.9 18.9l-3.2 -31.3z"/>
<path color="#7ec0f3" d="M608.2 456.4l3.3 -3.1l.9 17.3l-3.3 -5.7z"/>
<path color="#2e87f7" d="M605 489.8l3.2 -33.4l.9 8.5l-3.2 25.2z"/>
<path color="#3e6fff" d="M601.7 529.3l3.3 -39.5l.9 .3l-3.2 36.5z"/>
<path color="#4758f8" d="M598.5 561.2l3.2 -31.9l1 -2.7l-3.3 31.8z"/>
<path color="#4747eb" d="M595.3 583.9l3.2 -22.7l.9 -2.8l-3.2 23.4z"/>
<path color="#463cde" d="M592 599.8l3.3 -15.9l.9 -2.1l-3.3 16.4z"/>
<path color="#4537d5" d="M588.8 611.1l3.2 -11.3l.9 -1.6l-3.2 11.7z"/>
<path color="#4332cb" d="M585.5 619.2l3.3 -8.1l.9 -1.2l-3.2 8.1z"/>
<path color="#422ec0" d="M579 626.9l3.3 -2.4l3.2 -5.3l1 -1.2l-3.3 5.3l-3.2 2.3z"/>
<path color="#695bd5" d="M575.8 626.1l3.2 .8l1 -1.3l-3.3 -.7z"/>
<path color="#6a5fde" d="M569.3 613.7l3.3 8.1l3.2 4.3l.9 -1.2l-3.2 -3.8l-3.3 -7.1z"/>
<path color="#6b63e5" d="M566.1 601.3l3.2 12.4l.9 .3l-3.2 -11z"/>
<path color="#6c67ea" d="M562.8 582.8l3.3 18.5l.9 1.7l-3.2 -16.3z"/>
<path color="#6c75f6" d="M559.6 555l3.2 27.8l1 3.9l-3.3 -24.7z"/>
<path color="#4269fe" d="M556.4 512.8l3.2 42.2l.9 7l-3.2 -37.4z"/>
<path color="#2d8cf3" d="M553.1 454.8l3.3 58l.9 11.8l-3.3 -51.8z"/>
<path color="#1ca9df" d="M549.9 402.9l3.2 51.9l.9 18l-3.2 -50.3z"/>
<path color="#71d0e6" d="M546.6 405.3l3.3 -2.4l.9 19.6l-3.3 -6.9z"/>
<path color="#23a0e5" d="M543.4 459.3l3.2 -54l.9 10.3l-3.2 44.4z"/>
<path color="#2f81fa" d="M540.1 516.8l3.3 -57.5l.9 .7l-3.2 54.4z"/>
<path color="#465efb" d="M536.9 558.2l3.2 -41.4l1 -2.4l-3.3 41.3z"/>
<path color="#484df0" d="M533.7 585.6l3.2 -27.4l.9 -2.5l-3.2 27.8z"/>
<path color="#463cde" d="M530.4 604l3.3 -18.4l.9 -2.1l-3.3 18.7z"/>
<path color="#4332cb" d="M527.2 616.9l3.2 -12.9l.9 -1.8l-3.2 13z"/>
<path color="#422ec0" d="M523.9 626.1l3.3 -9.2l.9 -1.7l-3.3 9.4z"/>
<path color="#402ab4" d="M517.4 637.8l3.3 -4.9l3.2 -6.8l.9 -1.5l-3.2 7l-3.2 5.1zM635.1 622.4l3.2 6.8l3.3 4.9l.9 .8l-3.2 -4.5l-3.3 -6z"/>
<path color="#422ec0" d="M631.8 613.6l3.3 8.8l.9 2l-3.2 -7.8z"/>
<path color="#4537d5" d="M628.6 602.3l3.2 11.3l1 3l-3.3 -10z"/>
<path color="#463cde" d="M625.4 587l3.2 15.3l.9 4.3l-3.2 -13.2z"/>
<path color="#4747eb" d="M622.1 566.1l3.3 20.9l.9 6.4l-3.3 -18.2z"/>
<path color="#4758f8" d="M618.9 537.4l3.2 28.7l.9 9.1l-3.2 -25z"/>
<path color="#3e6fff" d="M615.6 501.9l3.3 35.5l.9 12.8l-3.2 -31.8z"/>
<path color="#2e87f7" d="M612.4 470.6l3.2 31.3l1 16.5l-3.3 -31.2z"/>
<path color="#55a7f2" d="M609.1 464.9l3.3 5.7l.9 16.6l-3.2 -12.4z"/>
<path color="#2e87f7" d="M605.9 490.1l3.2 -25.2l1 9.9l-3.3 16.8z"/>
<path color="#3875fe" d="M602.7 526.6l3.2 -36.5l.9 1.5l-3.2 32.7z"/>
<path color="#465efb" d="M599.4 558.4l3.3 -31.8l.9 -2.3l-3.3 31.4z"/>
<path color="#484df0" d="M596.2 581.8l3.2 -23.4l.9 -2.7l-3.2 23.9z"/>
<path color="#4741e5" d="M592.9 598.2l3.3 -16.4l.9 -2.2l-3.2 17z"/>
<path color="#4537d5" d="M589.7 609.9l3.2 -11.7l1 -1.6l-3.3 12z"/>
<path color="#4332cb" d="M586.5 618l3.2 -8.1l.9 -1.3l-3.2 8.3z"/>
<path color="#422ec0" d="M580 625.6l3.2 -2.3l3.3 -5.3l.9 -1.1l-3.3 5.1l-3.2 2.3z"/>
<path color="#695bd5" d="M573.5 621.1l3.2 3.8l3.3 .7l.9 -1.3l-3.3 -.5l-3.2 -3.3z"/>
<path color="#6a5fde" d="M570.2 614l3.3 7.1l.9 -.6l-3.2 -6.3z"/>
<path color="#6b63e5" d="M567 603l3.2 11l1 .2l-3.3 -9.7z"/>
<path color="#6c67ea" d="M563.8 586.7l3.2 16.3l.9 1.5l-3.2 -14.6z"/>
<path color="#6c70f3" d="M560.5 562l3.3 24.7l.9 3.2l-3.3 -22z"/>
<path color="#4563fd" d="M557.3 524.6l3.2 37.4l.9 5.9l-3.2 -33.2z"/>
<path color="#2f81fa" d="M554 472.8l3.3 51.8l.9 10.1l-3.3 -46.4z"/>
<path color="#23a0e5" d="M550.8 422.5l3.2 50.3l.9 15.5l-3.2 -48.1z"/>
<path color="#46bee2" d="M547.5 415.6l3.3 6.9l.9 17.7l-3.2 -13.9z"/>
<path color="#23a0e5" d="M544.3 460l3.2 -44.4l1 10.7l-3.3 35.1z"/>
<path color="#2f81fa" d="M541.1 514.4l3.2 -54.4l.9 1.4l-3.2 50.8z"/>
<path color="#4563fd" d="M537.8 555.7l3.3 -41.3l.9 -2.2l-3.3 41.1z"/>
<path color="#484df0" d="M534.6 583.5l3.2 -27.8l.9 -2.4l-3.2 28.2z"/>
<path color="#463cde" d="M531.3 602.2l3.3 -18.7l.9 -2l-3.3 19z"/>
<path color="#4537d5" d="M528.1 615.2l3.2 -13l.9 -1.7l-3.2 13.2z"/>
<path color="#422ec0" d="M521.6 631.6l3.2 -7l3.3 -9.4l.9 -1.5l-3.2 9.5l-3.3 7.1z"/>
<path color="#402ab4" d="M518.4 636.7l3.2 -5.1l.9 -1.3l-3.2 5.3zM636 624.4l3.3 6l3.2 4.5l.9 .8l-3.2 -4.1l-3.3 -5.4z"/>
<path color="#422ec0" d="M632.8 616.6l3.2 7.8l.9 1.8l-3.2 -6.9z"/>
<path color="#4332cb" d="M629.5 606.6l3.3 10l.9 2.7l-3.3 -8.8z"/>
<path color="#463cde" d="M626.3 593.4l3.2 13.2l.9 3.9l-3.2 -11.7z"/>
<path color="#4741e5" d="M623 575.2l3.3 18.2l.9 5.4l-3.2 -15.8z"/>
<path color="#4852f4" d="M619.8 550.2l3.2 25l1 7.8l-3.3 -21.8z"/>
<path color="#4563fd" d="M616.6 518.4l3.2 31.8l.9 11l-3.2 -28.3z"/>
<path color="#327cfc" d="M613.3 487.2l3.3 31.2l.9 14.5l-3.3 -30.1z"/>
<path color="#2e87f7" d="M610.1 474.8l3.2 12.4l.9 15.6l-3.2 -17.2z"/>
<path color="#579ff9" d="M606.8 491.6l3.3 -16.8l.9 10.8l-3.3 9z"/>
<path color="#3875fe" d="M603.6 524.3l3.2 -32.7l.9 3l-3.2 28.1z"/>
<path color="#465efb" d="M600.3 555.7l3.3 -31.4l.9 -1.6l-3.2 30.3z"/>
<path color="#484df0" d="M597.1 579.6l3.2 -23.9l1 -2.7l-3.3 24.3z"/>
<path color="#4741e5" d="M593.9 596.6l3.2 -17l.9 -2.3l-3.2 17.6z"/>
<path color="#4537d5" d="M590.6 608.6l3.3 -12l.9 -1.7l-3.3 12.4z"/>
<path color="#4332cb" d="M587.4 616.9l3.2 -8.3l.9 -1.3l-3.2 8.4z"/>
<path color="#422ec0" d="M580.9 624.3l3.2 -2.3l3.3 -5.1l.9 -1.2l-3.3 5.2l-3.2 2.3z"/>
<path color="#6858cc" d="M577.6 623.8l3.3 .5l.9 -1.1l-3.2 -.3z"/>
<path color="#695bd5" d="M574.4 620.5l3.2 3.3l1 -.9l-3.3 -2.9z"/>
<path color="#6a5fde" d="M567.9 604.5l3.3 9.7l3.2 6.3l.9 -.5l-3.2 -5.5l-3.3 -8.7z"/>
<path color="#6b63e5" d="M564.7 589.9l3.2 14.6l.9 1.3l-3.2 -13.1z"/>
<path color="#6c70f3" d="M561.4 567.9l3.3 22l.9 2.8l-3.3 -19.7z"/>
<path color="#465efb" d="M558.2 534.7l3.2 33.2l.9 5.1l-3.2 -29.6z"/>
<path color="#327cfc" d="M554.9 488.3l3.3 46.4l.9 8.7l-3.2 -41.8z"/>
<path color="#2797eb" d="M551.7 440.2l3.2 48.1l1 13.3l-3.3 -45.3z"/>
<path color="#20a5e3" d="M548.5 426.3l3.2 13.9l.9 16.1l-3.2 -19.2z"/>
<path color="#259be8" d="M545.2 461.4l3.3 -35.1l.9 10.8l-3.3 26.5z"/>
<path color="#2f81fa" d="M542 512.2l3.2 -50.8l.9 2.2l-3.2 46.8z"/>
<path color="#4563fd" d="M538.7 553.3l3.3 -41.1l.9 -1.8l-3.3 40.4z"/>
<path color="#484df0" d="M535.5 581.5l3.2 -28.2l.9 -2.5l-3.2 28.6z"/>
<path color="#4741e5" d="M532.2 600.5l3.3 -19l.9 -2.1l-3.2 19.5z"/>
<path color="#4537d5" d="M529 613.7l3.2 -13.2l1 -1.6l-3.3 13.5z"/>
<path color="#4332cb" d="M525.8 623.2l3.2 -9.5l.9 -1.3l-3.2 9.6z"/>
<path color="#422ec0" d="M522.5 630.3l3.3 -7.1l.9 -1.2l-3.3 7.2z"/>
<path color="#402ab4" d="M516 639.6l3.3 -4l3.2 -5.3l.9 -1.1l-3.2 5.4l-3.3 4.2zM636.9 626.2l3.3 5.4l3.2 4.1l.9 .8l-3.2 -3.8l-3.3 -4.8z"/>
<path color="#422ec0" d="M633.7 619.3l3.2 6.9l.9 1.7l-3.2 -6.1z"/>
<path color="#4332cb" d="M630.4 610.5l3.3 8.8l.9 2.5l-3.2 -7.9z"/>
<path color="#4537d5" d="M627.2 598.8l3.2 11.7l1 3.4l-3.3 -10.2z"/>
<path color="#4741e5" d="M624 583l3.2 15.8l.9 4.9l-3.2 -14z"/>
<path color="#484df0" d="M620.7 561.2l3.3 21.8l.9 6.7l-3.3 -19z"/>
<path color="#465efb" d="M617.5 532.9l3.2 28.3l.9 9.5l-3.2 -25.1z"/>
<path color="#3e6fff" d="M614.2 502.8l3.3 30.1l.9 12.7l-3.3 -28.3z"/>
<path color="#2f81fa" d="M611 485.6l3.2 17.2l.9 14.5l-3.2 -20.3z"/>
<path color="#82b4fc" d="M607.7 494.6l3.3 -9l.9 11.4l-3.2 2z"/>
<path color="#3875fe" d="M604.5 522.7l3.2 -28.1l1 4.4l-3.3 22.9z"/>
<path color="#4563fd" d="M601.3 553l3.2 -30.3l.9 -.8l-3.2 28.7z"/>
<path color="#4852f4" d="M598 577.3l3.3 -24.3l.9 -2.4l-3.3 24.4z"/>
<path color="#4741e5" d="M594.8 594.9l3.2 -17.6l.9 -2.3l-3.2 18.2z"/>
<path color="#463cde" d="M591.5 607.3l3.3 -12.4l.9 -1.7l-3.3 12.7z"/>
<path color="#4332cb" d="M585 620.9l3.3 -5.2l3.2 -8.4l.9 -1.4l-3.2 8.6l-3.2 5.3z"/>
<path color="#422ec0" d="M578.6 622.9l3.2 .3l3.2 -2.3l1 -1.1l-3.3 2.3l-3.2 -.1z"/>
<path color="#695bd5" d="M575.3 620l3.3 2.9l.9 -.9l-3.3 -2.4z"/>
<path color="#6a5fde" d="M568.8 605.8l3.3 8.7l3.2 5.5l.9 -.4l-3.2 -4.8l-3.3 -7.8z"/>
<path color="#6b63e5" d="M565.6 592.7l3.2 13.1l.9 1.2l-3.2 -11.8z"/>
<path color="#6c6cef" d="M562.3 573l3.3 19.7l.9 2.5l-3.2 -17.7z"/>
<path color="#4758f8" d="M559.1 543.4l3.2 29.6l1 4.5l-3.3 -26.6z"/>
<path color="#3875fe" d="M555.9 501.6l3.2 41.8l.9 7.5l-3.2 -37.6z"/>
<path color="#2b91ef" d="M552.6 456.3l3.3 45.3l.9 11.7l-3.3 -42.5z"/>
<path color="#23a0e5" d="M549.4 437.1l3.2 19.2l.9 14.5l-3.2 -22.8z"/>
<path color="#51afec" d="M546.1 463.6l3.3 -26.5l.9 10.9l-3.3 18.6z"/>
<path color="#2f81fa" d="M542.9 510.4l3.2 -46.8l.9 3l-3.2 42.2z"/>
<path color="#4563fd" d="M539.6 550.8l3.3 -40.4l.9 -1.6l-3.2 39.6z"/>
<path color="#4852f4" d="M536.4 579.4l3.2 -28.6l1 -2.4l-3.3 29z"/>
<path color="#4741e5" d="M533.2 598.9l3.2 -19.5l.9 -2l-3.2 19.9z"/>
<path color="#4537d5" d="M529.9 612.4l3.3 -13.5l.9 -1.6l-3.3 13.8z"/>
<path color="#4332cb" d="M526.7 622l3.2 -9.6l.9 -1.3l-3.2 9.9z"/>
<path color="#422ec0" d="M523.4 629.2l3.3 -7.2l.9 -1l-3.3 7.3z"/>
<path color="#402ab4" d="M516.9 638.8l3.3 -4.2l3.2 -5.4l.9 -.9l-3.2 5.5l-3.2 4.2zM637.8 627.9l3.3 4.8l3.2 3.8l.9 .7l-3.2 -3.4l-3.2 -4.3z"/>
<path color="#422ec0" d="M634.6 621.8l3.2 6.1l1 1.6l-3.3 -5.5z"/>
<path color="#4332cb" d="M631.4 613.9l3.2 7.9l.9 2.2l-3.2 -7z"/>
<path color="#4537d5" d="M628.1 603.7l3.3 10.2l.9 3.1l-3.3 -9.1z"/>
<path color="#463cde" d="M624.9 589.7l3.2 14l.9 4.2l-3.2 -12.2z"/>
<path color="#4747eb" d="M621.6 570.7l3.3 19l.9 6l-3.3 -16.8z"/>
<path color="#4758f8" d="M618.4 545.6l3.2 25.1l.9 8.2l-3.2 -22.3z"/>
<path color="#4269fe" d="M615.1 517.3l3.3 28.3l.9 11l-3.2 -26.2z"/>
<path color="#327cfc" d="M611.9 497l3.2 20.3l1 13.1l-3.3 -21.8z"/>
<path color="#84b0fd" d="M608.7 499l3.2 -2l.9 11.6l-3.2 -3.9z"/>
<path color="#3875fe" d="M605.4 521.9l3.3 -22.9l.9 5.7l-3.3 17.2z"/>
<path color="#6a82fd" d="M602.2 550.6l3.2 -28.7l.9 0l-3.2 26.5z"/>
<path color="#4852f4" d="M598.9 575l3.3 -24.4l.9 -2.2l-3.3 24.3z"/>
<path color="#4741e5" d="M595.7 593.2l3.2 -18.2l.9 -2.3l-3.2 18.6z"/>
<path color="#463cde" d="M592.4 605.9l3.3 -12.7l.9 -1.9l-3.2 13.2z"/>
<path color="#4537d5" d="M589.2 614.5l3.2 -8.6l1 -1.4l-3.3 8.8z"/>
<path color="#4332cb" d="M582.7 622.1l3.3 -2.3l3.2 -5.3l.9 -1.2l-3.2 5.4l-3.3 2.5z"/>
<path color="#422ec0" d="M579.5 622l3.2 .1l.9 -.9l-3.2 .2z"/>
<path color="#695bd5" d="M573 614.8l3.2 4.8l3.3 2.4l.9 -.6l-3.3 -2l-3.2 -4.3z"/>
<path color="#6a5fde" d="M569.7 607l3.3 7.8l.9 .3l-3.2 -6.9z"/>
<path color="#6b63e5" d="M566.5 595.2l3.2 11.8l1 1.2l-3.3 -10.7z"/>
<path color="#6c6cef" d="M563.3 577.5l3.2 17.7l.9 2.3l-3.2 -16z"/>
<path color="#4758f8" d="M560 550.9l3.3 26.6l.9 4l-3.3 -24z"/>
<path color="#3e6fff" d="M556.8 513.3l3.2 37.6l.9 6.6l-3.2 -33.9z"/>
<path color="#2e87f7" d="M553.5 470.8l3.3 42.5l.9 10.3l-3.3 -39.6z"/>
<path color="#259be8" d="M550.3 448l3.2 22.8l.9 13.2l-3.2 -25.2z"/>
<path color="#52abef" d="M547 466.6l3.3 -18.6l.9 10.8l-3.2 11.4z"/>
<path color="#2f81fa" d="M543.8 508.8l3.2 -42.2l1 3.6l-3.3 37.5z"/>
<path color="#4269fe" d="M540.6 548.4l3.2 -39.6l.9 -1.1l-3.2 38.5z"/>
<path color="#4852f4" d="M537.3 577.4l3.3 -29l.9 -2.2l-3.3 29.2z"/>
<path color="#4741e5" d="M534.1 597.3l3.2 -19.9l.9 -2l-3.2 20.4z"/>
<path color="#4537d5" d="M530.8 611.1l3.3 -13.8l.9 -1.5l-3.3 14.1z"/>
<path color="#4332cb" d="M527.6 621l3.2 -9.9l.9 -1.2l-3.2 10.1z"/>
<path color="#422ec0" d="M521.1 633.8l3.2 -5.5l3.3 -7.3l.9 -1l-3.2 7.4l-3.3 5.6z"/>
<path color="#402ab4" d="M514.6 641.3l3.3 -3.3l3.2 -4.2l.9 -.8l-3.2 4.4l-3.3 3.4zM638.8 629.5l3.2 4.3l3.2 3.4l1 .8l-6.5 -7.1z"/>
<path color="#422ec0" d="M632.3 617l3.2 7l3.3 5.5l.9 1.4l-3.3 -4.9l-3.2 -6.2z"/>
<path color="#4332cb" d="M629 607.9l3.3 9.1l.9 2.8l-3.3 -8.1z"/>
<path color="#463cde" d="M625.8 595.7l3.2 12.2l.9 3.8l-3.2 -10.8z"/>
<path color="#4741e5" d="M622.5 578.9l3.3 16.8l.9 5.2l-3.2 -14.8z"/>
<path color="#4852f4" d="M619.3 556.6l3.2 22.3l1 7.2l-3.3 -19.7z"/>
<path color="#465efb" d="M616.1 530.4l3.2 26.2l.9 9.8l-3.2 -24.1z"/>
<path color="#3e6fff" d="M612.8 508.6l3.3 21.8l.9 11.9l-3.3 -22.4z"/>
<path color="#5b96fd" d="M609.6 504.7l3.2 3.9l.9 11.3l-3.2 -8.6z"/>
<path color="#3875fe" d="M606.3 521.9l3.3 -17.2l.9 6.6l-3.3 11.7z"/>
<path color="#6a82fd" d="M603.1 548.4l3.2 -26.5l.9 1.1l-3.2 23.6z"/>
<path color="#6c75f6" d="M599.8 572.7l3.3 -24.3l.9 -1.8l-3.2 23.9z"/>
<path color="#4747eb" d="M596.6 591.3l3.2 -18.6l1 -2.2l-3.3 18.9z"/>
<path color="#463cde" d="M593.4 604.5l3.2 -13.2l.9 -1.9l-3.2 13.6z"/>
<path color="#4537d5" d="M590.1 613.3l3.3 -8.8l.9 -1.5l-3.3 9z"/>
<path color="#4332cb" d="M580.4 621.4l3.2 -.2l3.3 -2.5l3.2 -5.4l.9 -1.3l-3.2 5.6l-3.3 2.8l-3.2 .4z"/>
<path color="#695bd5" d="M573.9 615.1l3.2 4.3l3.3 2l.9 -.6l-3.2 -1.6l-3.3 -3.7z"/>
<path color="#6a5fde" d="M570.7 608.2l3.2 6.9l.9 .4l-3.2 -6.2z"/>
<path color="#6b63e5" d="M567.4 597.5l3.3 10.7l.9 1.1l-3.3 -9.7z"/>
<path color="#6c6cef" d="M564.2 581.5l3.2 16l.9 2.1l-3.2 -14.5z"/>
<path color="#6c75f6" d="M560.9 557.5l3.3 24l.9 3.6l-3.3 -21.7z"/>
<path color="#4269fe" d="M557.7 523.6l3.2 33.9l.9 5.9l-3.2 -30.8z"/>
<path color="#2f81fa" d="M554.4 484l3.3 39.6l.9 9l-3.2 -36.7z"/>
<path color="#2b91ef" d="M551.2 458.8l3.2 25.2l1 11.9l-3.3 -26.6z"/>
<path color="#7ec0f3" d="M548 470.2l3.2 -11.4l.9 10.5l-3.2 5.2z"/>
<path color="#2f81fa" d="M544.7 507.7l3.3 -37.5l.9 4.3l-3.3 32.6z"/>
<path color="#4269fe" d="M541.5 546.2l3.2 -38.5l.9 -.6l-3.2 37z"/>
<path color="#4852f4" d="M538.2 575.4l3.3 -29.2l.9 -2.1l-3.3 29.3z"/>
<path color="#4747eb" d="M535 595.8l3.2 -20.4l.9 -2l-3.2 20.8z"/>
<path color="#463cde" d="M531.7 609.9l3.3 -14.1l.9 -1.6l-3.2 14.6z"/>
<path color="#4332cb" d="M528.5 620l3.2 -10.1l1 -1.1l-3.3 10.3z"/>
<path color="#422ec0" d="M522 633l3.3 -5.6l3.2 -7.4l.9 -.9l-3.2 7.6l-3.3 5.7z"/>
<path color="#402ab4" d="M515.5 640.8l3.3 -3.4l3.2 -4.4l.9 -.6l-6.5 7.9zM636.4 626l3.3 4.9l6.5 7.1l.9 .8l-6.5 -6.4l-3.3 -4.5z"/>
<path color="#422ec0" d="M633.2 619.8l3.2 6.2l.9 1.9l-3.2 -5.5z"/>
<path color="#4332cb" d="M629.9 611.7l3.3 8.1l.9 2.6l-3.2 -7.3z"/>
<path color="#4537d5" d="M626.7 600.9l3.2 10.8l1 3.4l-3.3 -9.6z"/>
<path color="#4741e5" d="M623.5 586.1l3.2 14.8l.9 4.6l-3.2 -13z"/>
<path color="#484df0" d="M620.2 566.4l3.3 19.7l.9 6.4l-3.3 -17.6z"/>
<path color="#4758f8" d="M617 542.3l3.2 24.1l.9 8.5l-3.2 -21.9z"/>
<path color="#4269fe" d="M613.7 519.9l3.3 22.4l.9 10.7l-3.3 -22.1z"/>
<path color="#3875fe" d="M610.5 511.3l3.2 8.6l.9 11l-3.2 -12.1z"/>
<path color="#658cff" d="M607.2 523l3.3 -11.7l.9 7.5l-3.2 6.3z"/>
<path color="#6a82fd" d="M604 546.6l3.2 -23.6l1 2.1l-3.3 20.2z"/>
<path color="#6c79f9" d="M600.8 570.5l3.2 -23.9l.9 -1.3l-3.2 23z"/>
<path color="#4747eb" d="M597.5 589.4l3.3 -18.9l.9 -2.2l-3.3 19.1z"/>
<path color="#463cde" d="M594.3 603l3.2 -13.6l.9 -2l-3.2 13.9z"/>
<path color="#4537d5" d="M591 612l3.3 -9l.9 -1.7l-3.3 9.4z"/>
<path color="#4332cb" d="M578.1 619.2l3.2 1.6l3.2 -.4l3.3 -2.8l3.2 -5.6l.9 -1.3l-3.2 5.9l-3.2 3l-3.3 .8l-3.2 -1.2z"/>
<path color="#695bd5" d="M574.8 615.5l3.3 3.7l.9 0l-3.3 -3.2z"/>
<path color="#6a5fde" d="M571.6 609.3l3.2 6.2l.9 .5l-3.2 -5.6z"/>
<path color="#6b63e5" d="M568.3 599.6l3.3 9.7l.9 1.1l-3.3 -8.8z"/>
<path color="#6c67ea" d="M565.1 585.1l3.2 14.5l.9 2l-3.2 -13.2z"/>
<path color="#6c75f6" d="M561.8 563.4l3.3 21.7l.9 3.3l-3.2 -19.7z"/>
<path color="#4563fd" d="M558.6 532.6l3.2 30.8l1 5.3l-3.3 -27.9z"/>
<path color="#327cfc" d="M555.4 495.9l3.2 36.7l.9 8.2l-3.2 -34.1z"/>
<path color="#2d8cf3" d="M552.1 469.3l3.3 26.6l.9 10.8l-3.3 -27.2z"/>
<path color="#80bdf5" d="M548.9 474.5l3.2 -5.2l.9 10.2l-3.2 0z"/>
<path color="#2f81fa" d="M545.6 507.1l3.3 -32.6l.9 5l-3.2 27.5z"/>
<path color="#4269fe" d="M542.4 544.1l3.2 -37l1 -.1l-3.3 35.1z"/>
<path color="#4758f8" d="M539.1 573.4l3.3 -29.3l.9 -2l-3.2 29.3z"/>
<path color="#4747eb" d="M535.9 594.2l3.2 -20.8l1 -2l-3.3 21.3z"/>
<path color="#463cde" d="M532.7 608.8l3.2 -14.6l.9 -1.5l-3.2 14.9z"/>
<path color="#4537d5" d="M529.4 619.1l3.3 -10.3l.9 -1.2l-3.3 10.7z"/>
<path color="#4332cb" d="M526.2 626.7l3.2 -7.6l.9 -.8l-3.2 7.7z"/>
<path color="#422ec0" d="M522.9 632.4l3.3 -5.7l.9 -.7l-3.2 5.9z"/>
<path color="#402ab4" d="M516.4 640.3l6.5 -7.9l1 -.5l-6.5 8.1zM637.3 627.9l6.5 8l.9 1l-6.4 -7.2z"/>
<path color="#422ec0" d="M634.1 622.4l3.2 5.5l1 1.8l-3.3 -5z"/>
<path color="#4332cb" d="M630.9 615.1l3.2 7.3l.9 2.3l-3.2 -6.5z"/>
<path color="#4537d5" d="M627.6 605.5l3.3 9.6l.9 3.1l-3.3 -8.5z"/>
<path color="#463cde" d="M624.4 592.5l3.2 13l.9 4.2l-3.2 -11.6z"/>
<path color="#4747eb" d="M621.1 574.9l3.3 17.6l.9 5.6l-3.3 -15.6z"/>
<path color="#4852f4" d="M617.9 553l3.2 21.9l.9 7.6l-3.2 -19.9z"/>
<path color="#4563fd" d="M614.6 530.9l3.3 22.1l.9 9.6l-3.2 -21.2z"/>
<path color="#3e6fff" d="M611.4 518.8l3.2 12.1l1 10.5l-3.3 -14.6z"/>
<path color="#8ba9ff" d="M608.2 525.1l3.2 -6.3l.9 8l-3.2 1.4z"/>
<path color="#6a82fd" d="M604.9 545.3l3.3 -20.2l.9 3.1l-3.3 16.5z"/>
<path color="#6c79f9" d="M601.7 568.3l3.2 -23l.9 -.6l-3.2 21.5z"/>
<path color="#4747eb" d="M598.4 587.4l3.3 -19.1l.9 -2.1l-3.3 19.1z"/>
<path color="#4741e5" d="M595.2 601.3l3.2 -13.9l.9 -2.1l-3.2 14.3z"/>
<path color="#4537d5" d="M588.7 616.6l3.2 -5.9l3.3 -9.4l.9 -1.7l-3.2 9.8l-3.3 6.1z"/>
<path color="#4332cb" d="M579 619.2l3.2 1.2l3.3 -.8l3.2 -3l.9 -1.1l-3.2 3.4l-3.3 1.1l-3.2 -.8z"/>
<path color="#695bd5" d="M575.7 616l3.3 3.2l.9 0l-3.2 -2.7z"/>
<path color="#6a5fde" d="M572.5 610.4l3.2 5.6l1 .5l-3.3 -5z"/>
<path color="#6b63e5" d="M569.2 601.6l3.3 8.8l.9 1.1l-3.2 -8z"/>
<path color="#6c67ea" d="M566 588.4l3.2 13.2l1 1.9l-3.3 -12.1z"/>
<path color="#6c70f3" d="M562.8 568.7l3.2 19.7l.9 3l-3.2 -17.9z"/>
<path color="#465efb" d="M559.5 540.8l3.3 27.9l.9 4.8l-3.3 -25.4z"/>
<path color="#3875fe" d="M556.3 506.7l3.2 34.1l.9 7.3l-3.2 -31.6z"/>
<path color="#2e87f7" d="M553 479.5l3.3 27.2l.9 9.8l-3.2 -27.3z"/>
<path color="#81baf8" d="M549.8 479.5l3.2 0l1 9.7l-3.3 -4.3z"/>
<path color="#2f81fa" d="M546.6 507l3.2 -27.5l.9 5.4l-3.2 22.6z"/>
<path color="#3e6fff" d="M543.3 542.1l3.3 -35.1l.9 .5l-3.3 33z"/>
<path color="#4758f8" d="M540.1 571.4l3.2 -29.3l.9 -1.6l-3.2 29z"/>
<path color="#4747eb" d="M536.8 592.7l3.3 -21.3l.9 -1.9l-3.3 21.6z"/>
<path color="#463cde" d="M533.6 607.6l3.2 -14.9l.9 -1.6l-3.2 15.4z"/>
<path color="#4537d5" d="M530.3 618.3l3.3 -10.7l.9 -1.1l-3.2 11z"/>
<path color="#4332cb" d="M527.1 626l3.2 -7.7l1 -.8l-3.3 8z"/>
<path color="#422ec0" d="M523.9 631.9l3.2 -5.9l.9 -.5l-3.2 5.9z"/>
<path color="#402ab4" d="M514.1 642.8l6.5 -6.4l3.3 -4.5l.9 -.5l-3.3 4.6l-6.5 6.6zM638.3 629.7l6.4 7.2l1 1l-6.5 -6.5z"/>
<path color="#422ec0" d="M635 624.7l3.3 5l.9 1.7l-3.3 -4.5z"/>
<path color="#4332cb" d="M628.5 609.7l3.3 8.5l3.2 6.5l.9 2.2l-3.2 -5.8l-3.2 -7.7z"/>
<path color="#463cde" d="M625.3 598.1l3.2 11.6l1 3.7l-3.3 -10.3z"/>
<path color="#4741e5" d="M622 582.5l3.3 15.6l.9 5l-3.2 -13.9z"/>
<path color="#484df0" d="M618.8 562.6l3.2 19.9l1 6.7l-3.3 -17.9z"/>
<path color="#465efb" d="M615.6 541.4l3.2 21.2l.9 8.7l-3.2 -20.2z"/>
<path color="#4269fe" d="M612.3 526.8l3.3 14.6l.9 9.7l-3.3 -16z"/>
<path color="#8ea5fe" d="M609.1 528.2l3.2 -1.4l.9 8.3l-3.2 -2.8z"/>
<path color="#6a82fd" d="M605.8 544.7l3.3 -16.5l.9 4.1l-3.2 12.4z"/>
<path color="#6c79f9" d="M602.6 566.2l3.2 -21.5l1 0l-3.3 19.7z"/>
<path color="#6c70f3" d="M599.3 585.3l3.3 -19.1l.9 -1.8l-3.2 18.8z"/>
<path color="#4741e5" d="M596.1 599.6l3.2 -14.3l1 -2.1l-3.3 14.6z"/>
<path color="#463cde" d="M592.9 609.4l3.2 -9.8l.9 -1.8l-3.2 10.2z"/>
<path color="#4537d5" d="M589.6 615.5l3.3 -6.1l.9 -1.4l-3.3 6.5z"/>
<path color="#4332cb" d="M579.9 619.2l3.2 .8l3.3 -1.1l3.2 -3.4l.9 -1l-3.2 3.8l-3.2 1.5l-3.3 -.5z"/>
<path color="#695bd5" d="M576.7 616.5l3.2 2.7l.9 .1l-3.2 -2.3z"/>
<path color="#6a5fde" d="M573.4 611.5l3.3 5l.9 .5l-3.3 -4.5z"/>
<path color="#6b63e5" d="M570.2 603.5l3.2 8l.9 1l-3.2 -7.2z"/>
<path color="#6c67ea" d="M566.9 591.4l3.3 12.1l.9 1.8l-3.3 -11z"/>
<path color="#6c70f3" d="M563.7 573.5l3.2 17.9l.9 2.9l-3.2 -16.4z"/>
<path color="#4758f8" d="M560.4 548.1l3.3 25.4l.9 4.4l-3.2 -23.2z"/>
<path color="#3e6fff" d="M557.2 516.5l3.2 31.6l1 6.6l-3.3 -29.2z"/>
<path color="#2f81fa" d="M554 489.2l3.2 27.3l.9 9l-3.2 -26.9z"/>
<path color="#57a3f5" d="M550.7 484.9l3.3 4.3l.9 9.4l-3.3 -7.9z"/>
<path color="#2f81fa" d="M547.5 507.5l3.2 -22.6l.9 5.8l-3.2 17.9z"/>
<path color="#3e6fff" d="M544.2 540.5l3.3 -33l.9 1.1l-3.3 30.5z"/>
<path color="#4758f8" d="M541 569.5l3.2 -29l.9 -1.4l-3.2 28.6z"/>
<path color="#4747eb" d="M537.7 591.1l3.3 -21.6l.9 -1.8l-3.2 21.9z"/>
<path color="#463cde" d="M534.5 606.5l3.2 -15.4l1 -1.5l-3.3 15.8z"/>
<path color="#4537d5" d="M531.3 617.5l3.2 -11l.9 -1.1l-3.2 11.3z"/>
<path color="#4332cb" d="M528 625.5l3.3 -8l.9 -.8l-3.3 8.2z"/>
<path color="#422ec0" d="M521.5 636l3.3 -4.6l3.2 -5.9l.9 -.6l-3.2 6.1l-3.3 4.7z"/>
<path color="#402ab4" d="M515 642.6l6.5 -6.6l.9 -.3l-6.4 6.7zM639.2 631.4l6.5 6.5l.9 1l-6.5 -5.9z"/>
<path color="#422ec0" d="M632.7 621.1l3.2 5.8l3.3 4.5l.9 1.6l-3.2 -4.1l-3.3 -5.3z"/>
<path color="#4332cb" d="M629.5 613.4l3.2 7.7l.9 2.5l-3.2 -6.8z"/>
<path color="#4537d5" d="M626.2 603.1l3.3 10.3l.9 3.4l-3.3 -9.3z"/>
<path color="#4741e5" d="M623 589.2l3.2 13.9l.9 4.4l-3.2 -12.3z"/>
<path color="#484df0" d="M619.7 571.3l3.3 17.9l.9 6l-3.3 -16.2z"/>
<path color="#4758f8" d="M616.5 551.1l3.2 20.2l.9 7.7l-3.2 -18.8z"/>
<path color="#4563fd" d="M613.2 535.1l3.3 16l.9 9.1l-3.2 -16.8z"/>
<path color="#6887fe" d="M610 532.3l3.2 2.8l1 8.3l-3.3 -6.3z"/>
<path color="#6a82fd" d="M606.8 544.7l3.2 -12.4l.9 4.8l-3.2 8.4z"/>
<path color="#6c79f9" d="M603.5 564.4l3.3 -19.7l.9 .8l-3.3 17.4z"/>
<path color="#6c70f3" d="M600.3 583.2l3.2 -18.8l.9 -1.5l-3.2 18.3z"/>
<path color="#4741e5" d="M597 597.8l3.3 -14.6l.9 -2l-3.3 14.8z"/>
<path color="#463cde" d="M593.8 608l3.2 -10.2l.9 -1.8l-3.2 10.6z"/>
<path color="#4537d5" d="M590.5 614.5l3.3 -6.5l.9 -1.4l-3.2 7z"/>
<path color="#4332cb" d="M577.6 617l3.2 2.3l3.3 .5l3.2 -1.5l3.2 -3.8l1 -.9l-3.3 4.1l-3.2 1.9l-3.3 -.1l-3.2 -1.9z"/>
<path color="#6a5fde" d="M574.3 612.5l3.3 4.5l.9 .6l-3.3 -4z"/>
<path color="#6b63e5" d="M571.1 605.3l3.2 7.2l.9 1.1l-3.2 -6.5z"/>
<path color="#6c67ea" d="M567.8 594.3l3.3 11l.9 1.8l-3.2 -10.1z"/>
<path color="#6c6cef" d="M564.6 577.9l3.2 16.4l1 2.7l-3.3 -15z"/>
<path color="#4758f8" d="M561.4 554.7l3.2 23.2l.9 4.1l-3.2 -21.2z"/>
<path color="#4269fe" d="M558.1 525.5l3.3 29.2l.9 6.1l-3.3 -27.1z"/>
<path color="#327cfc" d="M554.9 498.6l3.2 26.9l.9 8.2l-3.2 -26.2z"/>
<path color="#2e87f7" d="M551.6 490.7l3.3 7.9l.9 8.9l-3.3 -10.7z"/>
<path color="#2f81fa" d="M548.4 508.6l3.2 -17.9l.9 6.1l-3.2 13.5z"/>
<path color="#3e6fff" d="M545.1 539.1l3.3 -30.5l.9 1.7l-3.2 27.8z"/>
<path color="#465efb" d="M541.9 567.7l3.2 -28.6l1 -1l-3.3 27.9z"/>
<path color="#484df0" d="M538.7 589.6l3.2 -21.9l.9 -1.7l-3.2 22.1z"/>
<path color="#4741e5" d="M535.4 605.4l3.3 -15.8l.9 -1.5l-3.3 16.2z"/>
<path color="#4537d5" d="M532.2 616.7l3.2 -11.3l.9 -1.1l-3.2 11.6z"/>
<path color="#4332cb" d="M528.9 624.9l3.3 -8.2l.9 -.8l-3.3 8.5z"/>
<path color="#422ec0" d="M522.4 635.7l3.3 -4.7l3.2 -6.1l.9 -.5l-3.2 6.3l-3.2 4.8z"/>
<path color="#402ab4" d="M512.7 644.8l6.5 -5.4l3.2 -3.7l1 -.2l-3.3 3.8l-6.5 5.4zM640.1 633l6.5 5.9l.9 1l-6.5 -5.4z"/>
<path color="#422ec0" d="M633.6 623.6l3.3 5.3l3.2 4.1l.9 1.5l-3.2 -3.7l-3.3 -4.8z"/>
<path color="#4332cb" d="M630.4 616.8l3.2 6.8l.9 2.4l-3.2 -6.1z"/>
<path color="#4537d5" d="M627.1 607.5l3.3 9.3l.9 3.1l-3.3 -8.3z"/>
<path color="#463cde" d="M623.9 595.2l3.2 12.3l.9 4.1l-3.2 -11.1z"/>
<path color="#4747eb" d="M620.6 579l3.3 16.2l.9 5.3l-3.2 -14.5z"/>
<path color="#4852f4" d="M617.4 560.2l3.2 18.8l1 7l-3.3 -17.5z"/>
<path color="#465efb" d="M614.2 543.4l3.2 16.8l.9 8.3l-3.2 -16.9z"/>
<path color="#6a82fd" d="M607.7 545.5l3.2 -8.4l3.3 6.3l.9 8.2l-3.3 -9l-3.2 4.4z"/>
<path color="#6c79f9" d="M604.4 562.9l3.3 -17.4l.9 1.5l-3.3 14.8z"/>
<path color="#6c70f3" d="M601.2 581.2l3.2 -18.3l.9 -1.1l-3.2 17.5z"/>
<path color="#4747eb" d="M597.9 596l3.3 -14.8l.9 -1.9l-3.2 14.9z"/>
<path color="#463cde" d="M594.7 606.6l3.2 -10.6l1 -1.8l-3.3 11z"/>
<path color="#4537d5" d="M588.2 617.7l3.3 -4.1l3.2 -7l.9 -1.4l-3.2 7.4l-3.3 4.5z"/>
<path color="#4332cb" d="M578.5 617.6l3.2 1.9l3.3 .1l3.2 -1.9l.9 -.6l-3.2 2.3l-3.3 .3l-3.2 -1.5z"/>
<path color="#6a5fde" d="M572 607.1l3.2 6.5l3.3 4l.9 .6l-3.2 -3.5l-3.3 -6z"/>
<path color="#6b63e5" d="M568.8 597l3.2 10.1l.9 1.6l-3.2 -9.2z"/>
<path color="#6c6cef" d="M565.5 582l3.3 15l.9 2.5l-3.3 -13.7z"/>
<path color="#6c75f6" d="M562.3 560.8l3.2 21.2l.9 3.8l-3.2 -19.5z"/>
<path color="#4563fd" d="M559 533.7l3.3 27.1l.9 5.5l-3.3 -25z"/>
<path color="#3875fe" d="M555.8 507.5l3.2 26.2l.9 7.6l-3.2 -25.3z"/>
<path color="#2f81fa" d="M552.5 496.8l3.3 10.7l.9 8.5l-3.2 -12.9z"/>
<path color="#589bfb" d="M549.3 510.3l3.2 -13.5l1 6.3l-3.3 9.4z"/>
<path color="#3e6fff" d="M546.1 538.1l3.2 -27.8l.9 2.2l-3.2 24.9z"/>
<path color="#465efb" d="M542.8 566l3.3 -27.9l.9 -.7l-3.3 27.1z"/>
<path color="#484df0" d="M539.6 588.1l3.2 -22.1l.9 -1.5l-3.2 22.2z"/>
<path color="#4741e5" d="M536.3 604.3l3.3 -16.2l.9 -1.4l-3.3 16.5z"/>
<path color="#4537d5" d="M533.1 615.9l3.2 -11.6l.9 -1.1l-3.2 11.9z"/>
<path color="#4332cb" d="M529.8 624.4l3.3 -8.5l.9 -.8l-3.2 8.8z"/>
<path color="#422ec0" d="M523.4 635.5l3.2 -4.8l3.2 -6.3l1 -.5l-3.3 6.5l-3.2 4.9z"/>
<path color="#402ab4" d="M513.6 644.7l6.5 -5.4l3.3 -3.8l.9 -.2l-3.3 3.9l-6.5 5.6zM637.8 630.8l3.2 3.7l6.5 5.4l.9 1l-6.5 -5l-3.2 -3.3z"/>
<path color="#422ec0" d="M634.5 626l3.3 4.8l.9 1.8l-3.3 -4.3z"/>
<path color="#4332cb" d="M628 611.6l3.3 8.3l3.2 6.1l.9 2.3l-3.2 -5.6l-3.2 -7.4z"/>
<path color="#463cde" d="M624.8 600.5l3.2 11.1l1 3.7l-3.3 -10z"/>
<path color="#4741e5" d="M621.6 586l3.2 14.5l.9 4.8l-3.2 -13.1z"/>
<path color="#484df0" d="M618.3 568.5l3.3 17.5l.9 6.2l-3.3 -16.1z"/>
<path color="#4758f8" d="M615.1 551.6l3.2 16.9l.9 7.6l-3.2 -16.5z"/>
<path color="#4563fd" d="M611.8 542.6l3.3 9l.9 8l-3.3 -11.1z"/>
<path color="#8fa2fe" d="M608.6 547l3.2 -4.4l.9 5.9l-3.2 .8z"/>
<path color="#6b7efc" d="M605.3 561.8l3.3 -14.8l.9 2.3l-3.2 12z"/>
<path color="#6c75f6" d="M602.1 579.3l3.2 -17.5l1 -.5l-3.3 16.2z"/>
<path color="#6c6cef" d="M598.9 594.2l3.2 -14.9l.9 -1.8l-3.2 14.9z"/>
<path color="#463cde" d="M595.6 605.2l3.3 -11l.9 -1.8l-3.3 11.4z"/>
<path color="#4537d5" d="M589.1 617.1l3.3 -4.5l3.2 -7.4l.9 -1.4l-3.2 7.8l-3.3 5z"/>
<path color="#4332cb" d="M579.4 618.2l3.2 1.5l3.3 -.3l3.2 -2.3l.9 -.5l-3.2 2.7l-3.2 .7l-3.3 -1.2z"/>
<path color="#6a5fde" d="M572.9 608.7l3.3 6l3.2 3.5l.9 .6l-3.2 -3l-3.3 -5.4z"/>
<path color="#6b63e5" d="M569.7 599.5l3.2 9.2l.9 1.7l-3.2 -8.5z"/>
<path color="#6c6cef" d="M566.4 585.8l3.3 13.7l.9 2.4l-3.3 -12.6z"/>
<path color="#6c75f6" d="M563.2 566.3l3.2 19.5l.9 3.5l-3.2 -17.8z"/>
<path color="#465efb" d="M559.9 541.3l3.3 25l.9 5.2l-3.2 -23.2z"/>
<path color="#3e6fff" d="M556.7 516l3.2 25.3l1 7l-3.3 -24.3z"/>
<path color="#327cfc" d="M553.5 503.1l3.2 12.9l.9 8l-3.2 -14.4z"/>
<path color="#5b96fd" d="M550.2 512.5l3.3 -9.4l.9 6.5l-3.3 5.6z"/>
<path color="#3e6fff" d="M547 537.4l3.2 -24.9l.9 2.7l-3.2 22z"/>
<path color="#465efb" d="M543.7 564.5l3.3 -27.1l.9 -.2l-3.3 25.9z"/>
<path color="#484df0" d="M540.5 586.7l3.2 -22.2l.9 -1.4l-3.2 22.2z"/>
<path color="#4741e5" d="M537.2 603.2l3.3 -16.5l.9 -1.4l-3.2 16.8z"/>
<path color="#463cde" d="M534 615.1l3.2 -11.9l1 -1.1l-3.3 12.3z"/>
<path color="#4332cb" d="M527.5 630.4l3.3 -6.5l3.2 -8.8l.9 -.7l-3.2 9l-3.3 6.7z"/>
<path color="#422ec0" d="M524.3 635.3l3.2 -4.9l.9 -.3l-3.2 5.1z"/>
<path color="#402ab4" d="M514.5 644.8l6.5 -5.6l3.3 -3.9l.9 -.1l-3.3 3.9l-6.4 5.7zM638.7 632.6l3.2 3.3l6.5 5l.9 1l-6.5 -4.6l-3.2 -3.1z"/>
<path color="#422ec0" d="M632.2 622.7l3.2 5.6l3.3 4.3l.9 1.6l-3.2 -3.9l-3.3 -5z"/>
<path color="#4332cb" d="M629 615.3l3.2 7.4l.9 2.6l-3.2 -6.7z"/>
<path color="#4537d5" d="M625.7 605.3l3.3 10l.9 3.3l-3.3 -8.9z"/>
<path color="#4741e5" d="M622.5 592.2l3.2 13.1l.9 4.4l-3.2 -11.8z"/>
<path color="#4747eb" d="M619.2 576.1l3.3 16.1l.9 5.7l-3.3 -14.8z"/>
<path color="#4852f4" d="M616 559.6l3.2 16.5l.9 7l-3.2 -16z"/>
<path color="#465efb" d="M612.7 548.5l3.3 11.1l.9 7.5l-3.2 -12.4z"/>
<path color="#6b7efc" d="M606.3 561.3l3.2 -12l3.2 -.8l1 6.2l-3.3 -2.4l-3.2 8.9z"/>
<path color="#6c75f6" d="M603 577.5l3.3 -16.2l.9 -.1l-3.3 14.8z"/>
<path color="#6c6cef" d="M599.8 592.4l3.2 -14.9l.9 -1.5l-3.2 14.7z"/>
<path color="#4741e5" d="M596.5 603.8l3.3 -11.4l.9 -1.7l-3.3 11.7z"/>
<path color="#463cde" d="M593.3 611.6l3.2 -7.8l.9 -1.4l-3.2 8.3z"/>
<path color="#4537d5" d="M586.8 619.3l3.2 -2.7l3.3 -5l.9 -.9l-3.2 5.4l-3.3 3.1z"/>
<path color="#4332cb" d="M580.3 618.8l3.3 1.2l3.2 -.7l.9 -.1l-3.2 1l-3.3 -.7z"/>
<path color="#4537d5" d="M577.1 615.8l3.2 3l.9 .7l-3.2 -2.7z"/>
<path color="#6a5fde" d="M573.8 610.4l3.3 5.4l.9 1l-3.3 -4.8z"/>
<path color="#6b63e5" d="M570.6 601.9l3.2 8.5l.9 1.6l-3.2 -7.8z"/>
<path color="#6c67ea" d="M567.3 589.3l3.3 12.6l.9 2.3l-3.2 -11.5z"/>
<path color="#6c70f3" d="M564.1 571.5l3.2 17.8l1 3.4l-3.3 -16.5z"/>
<path color="#465efb" d="M560.9 548.3l3.2 23.2l.9 4.7l-3.2 -21.4z"/>
<path color="#3e6fff" d="M557.6 524l3.3 24.3l.9 6.5l-3.3 -23.2z"/>
<path color="#327cfc" d="M554.4 509.6l3.2 14.4l.9 7.6l-3.2 -15.6z"/>
<path color="#84b0fd" d="M551.1 515.2l3.3 -5.6l.9 6.4l-3.3 2.4z"/>
<path color="#3e6fff" d="M547.9 537.2l3.2 -22l.9 3.2l-3.2 19z"/>
<path color="#465efb" d="M544.6 563.1l3.3 -25.9l.9 .2l-3.2 24.6z"/>
<path color="#484df0" d="M541.4 585.3l3.2 -22.2l1 -1.1l-3.3 22z"/>
<path color="#4741e5" d="M538.2 602.1l3.2 -16.8l.9 -1.3l-3.2 17z"/>
<path color="#463cde" d="M534.9 614.4l3.3 -12.3l.9 -1.1l-3.3 12.7z"/>
<path color="#4537d5" d="M531.7 623.4l3.2 -9l.9 -.7l-3.2 9.2z"/>
<path color="#4332cb" d="M528.4 630.1l3.3 -6.7l.9 -.5l-3.3 6.9z"/>
<path color="#422ec0" d="M525.2 635.2l3.2 -5.1l.9 -.3l-3.2 5.3z"/>
<path color="#402ab4" d="M512.2 646.9l6.5 -4.6l6.5 -7.1l.9 -.1l-6.5 7.2l-6.5 4.8zM639.6 634.2l3.2 3.1l6.5 4.6l.9 .9l-6.4 -4.1l-3.3 -2.9z"/>
<path color="#422ec0" d="M633.1 625.3l3.3 5l3.2 3.9l.9 1.6l-3.2 -3.5l-3.3 -4.6z"/>
<path color="#4332cb" d="M629.9 618.6l3.2 6.7l.9 2.4l-3.2 -6z"/>
<path color="#4537d5" d="M626.6 609.7l3.3 8.9l.9 3.1l-3.3 -8.1z"/>
<path color="#463cde" d="M623.4 597.9l3.2 11.8l.9 3.9l-3.2 -10.6z"/>
<path color="#4747eb" d="M620.1 583.1l3.3 14.8l.9 5.1l-3.2 -13.5z"/>
<path color="#484df0" d="M616.9 567.1l3.2 16l1 6.4l-3.3 -15.3z"/>
<path color="#4758f8" d="M613.7 554.7l3.2 12.4l.9 7.1l-3.2 -13.1z"/>
<path color="#6b7efc" d="M610.4 552.3l3.3 2.4l.9 6.4l-3.3 -5.1z"/>
<path color="#6c79f9" d="M607.2 561.2l3.2 -8.9l.9 3.7l-3.2 5.8z"/>
<path color="#6c75f6" d="M603.9 576l3.3 -14.8l.9 .6l-3.3 13z"/>
<path color="#6c6cef" d="M600.7 590.7l3.2 -14.7l.9 -1.2l-3.2 14.3z"/>
<path color="#4741e5" d="M597.4 602.4l3.3 -11.7l.9 -1.6l-3.2 11.9z"/>
<path color="#463cde" d="M594.2 610.7l3.2 -8.3l1 -1.4l-3.3 8.8z"/>
<path color="#4537d5" d="M587.7 619.2l3.3 -3.1l3.2 -5.4l.9 -.9l-3.2 5.8l-3.3 3.5z"/>
<path color="#4332cb" d="M581.2 619.5l3.3 .7l3.2 -1l.9 -.1l-3.2 1.4l-3.3 -.4z"/>
<path color="#4537d5" d="M578 616.8l3.2 2.7l.9 .6l-3.2 -2.2z"/>
<path color="#6a5fde" d="M574.7 612l3.3 4.8l.9 1.1l-3.2 -4.4z"/>
<path color="#6b63e5" d="M571.5 604.2l3.2 7.8l1 1.5l-3.3 -7.1z"/>
<path color="#6c67ea" d="M568.3 592.7l3.2 11.5l.9 2.2l-3.2 -10.6z"/>
<path color="#6c70f3" d="M565 576.2l3.3 16.5l.9 3.1l-3.3 -15.1z"/>
<path color="#4758f8" d="M561.8 554.8l3.2 21.4l.9 4.5l-3.2 -19.9z"/>
<path color="#4269fe" d="M558.5 531.6l3.3 23.2l.9 6l-3.3 -22z"/>
<path color="#3875fe" d="M555.3 516l3.2 15.6l.9 7.2l-3.2 -16.3z"/>
<path color="#88acff" d="M552 518.4l3.3 -2.4l.9 6.5l-3.2 -.5z"/>
<path color="#3e6fff" d="M548.8 537.4l3.2 -19l1 3.6l-3.3 16z"/>
<path color="#465efb" d="M545.6 562l3.2 -24.6l.9 .6l-3.2 23.1z"/>
<path color="#4852f4" d="M542.3 584l3.3 -22l.9 -.9l-3.3 21.7z"/>
<path color="#4747eb" d="M539.1 601l3.2 -17l.9 -1.2l-3.2 17.3z"/>
<path color="#463cde" d="M535.8 613.7l3.3 -12.7l.9 -.9l-3.2 12.9z"/>
<path color="#4537d5" d="M532.6 622.9l3.2 -9.2l1 -.7l-3.3 9.5z"/>
<path color="#4332cb" d="M529.3 629.8l3.3 -6.9l.9 -.4l-3.2 7.1z"/>
<path color="#422ec0" d="M522.9 639.1l3.2 -4l3.2 -5.3l1 -.2l-3.3 5.4l-3.2 4.1z"/>
<path color="#402ab4" d="M513.1 647.1l6.5 -4.8l3.3 -3.2l.9 0l-3.3 3.3l-6.4 4.9zM640.5 635.8l3.3 2.9l6.4 4.1l1 1l-6.5 -3.9l-3.3 -2.5z"/>
<path color="#422ec0" d="M634 627.7l3.3 4.6l3.2 3.5l.9 1.6l-3.2 -3.3l-3.3 -4.1z"/>
<path color="#4332cb" d="M630.8 621.7l3.2 6l.9 2.3l-3.2 -5.5z"/>
<path color="#4537d5" d="M627.5 613.6l3.3 8.1l.9 2.8l-3.2 -7.3z"/>
<path color="#463cde" d="M624.3 603l3.2 10.6l1 3.6l-3.3 -9.6z"/>
<path color="#4741e5" d="M621.1 589.5l3.2 13.5l.9 4.6l-3.2 -12.3z"/>
<path color="#484df0" d="M617.8 574.2l3.3 15.3l.9 5.8l-3.3 -14.4z"/>
<path color="#4852f4" d="M614.6 561.1l3.2 13.1l.9 6.7l-3.2 -13.5z"/>
<path color="#6c79f9" d="M608.1 561.8l3.2 -5.8l3.3 5.1l.9 6.3l-3.3 -7.3l-3.2 2.9z"/>
<path color="#6c75f6" d="M604.8 574.8l3.3 -13l.9 1.2l-3.2 11.1z"/>
<path color="#6c70f3" d="M601.6 589.1l3.2 -14.3l1 -.7l-3.3 13.5z"/>
<path color="#6c67ea" d="M598.4 601l3.2 -11.9l.9 -1.5l-3.2 12.1z"/>
<path color="#463cde" d="M595.1 609.8l3.3 -8.8l.9 -1.3l-3.3 9.1z"/>
<path color="#4537d5" d="M588.6 619.1l3.3 -3.5l3.2 -5.8l.9 -1l-3.2 6.3l-3.2 3.9z"/>
<path color="#4332cb" d="M582.1 620.1l3.3 .4l3.2 -1.4l1 -.1l-3.3 1.8l-3.2 0z"/>
<path color="#4537d5" d="M578.9 617.9l3.2 2.2l1 .7l-3.3 -1.9z"/>
<path color="#6a5fde" d="M575.7 613.5l3.2 4.4l.9 1l-3.2 -3.9z"/>
<path color="#6b63e5" d="M572.4 606.4l3.3 7.1l.9 1.5l-3.3 -6.5z"/>
<path color="#6c67ea" d="M569.2 595.8l3.2 10.6l.9 2.1l-3.2 -9.7z"/>
<path color="#6c70f3" d="M565.9 580.7l3.3 15.1l.9 3l-3.2 -13.9z"/>
<path color="#6c79f9" d="M562.7 560.8l3.2 19.9l1 4.2l-3.3 -18.4z"/>
<path color="#4563fd" d="M559.4 538.8l3.3 22l.9 5.7l-3.2 -20.9z"/>
<path color="#3e6fff" d="M556.2 522.5l3.2 16.3l1 6.8l-3.3 -16.7z"/>
<path color="#6091fe" d="M553 522l3.2 .5l.9 6.4l-3.2 -3z"/>
<path color="#3e6fff" d="M549.7 538l3.3 -16l.9 3.9l-3.3 13.2z"/>
<path color="#465efb" d="M546.5 561.1l3.2 -23.1l.9 1.1l-3.2 21.4z"/>
<path color="#4852f4" d="M543.2 582.8l3.3 -21.7l.9 -.6l-3.2 21.3z"/>
<path color="#4747eb" d="M540 600.1l3.2 -17.3l1 -1l-3.3 17.3z"/>
<path color="#463cde" d="M536.8 613l3.2 -12.9l.9 -1l-3.2 13.2z"/>
<path color="#4537d5" d="M533.5 622.5l3.3 -9.5l.9 -.7l-3.3 9.8z"/>
<path color="#4332cb" d="M530.3 629.6l3.2 -7.1l.9 -.4l-3.2 7.3z"/>
<path color="#422ec0" d="M523.8 639.1l3.2 -4.1l3.3 -5.4l.9 -.2l-3.3 5.5l-3.2 4.3z"/>
<path color="#402ab4" d="M514.1 647.3l6.4 -4.9l3.3 -3.3l.9 .1l-3.2 3.4l-6.5 4.9zM638.2 634.1l3.2 3.3l6.5 4.6l.9 1.1l-6.5 -4.3l-3.2 -2.9z"/>
<path color="#422ec0" d="M631.7 624.5l3.2 5.5l3.3 4.1l.9 1.8l-3.2 -3.8l-3.3 -5z"/>
<path color="#4332cb" d="M628.5 617.2l3.2 7.3l.9 2.6l-3.2 -6.6z"/>
<path color="#4537d5" d="M625.2 607.6l3.3 9.6l.9 3.3l-3.3 -8.7z"/>
<path color="#4741e5" d="M622 595.3l3.2 12.3l.9 4.2l-3.2 -11.3z"/>
<path color="#4747eb" d="M618.7 580.9l3.3 14.4l.9 5.2l-3.2 -13.4z"/>
<path color="#4852f4" d="M615.5 567.4l3.2 13.5l1 6.2l-3.3 -13.5z"/>
<path color="#4758f8" d="M612.2 560.1l3.3 7.3l.9 6.2l-3.2 -8.9z"/>
<path color="#6c79f9" d="M609 563l3.2 -2.9l1 4.6l-3.3 .2z"/>
<path color="#6c75f6" d="M605.8 574.1l3.2 -11.1l.9 1.9l-3.2 8.8z"/>
<path color="#6c70f3" d="M602.5 587.6l3.3 -13.5l.9 -.4l-3.3 12.7z"/>
<path color="#6c67ea" d="M599.3 599.7l3.2 -12.1l.9 -1.2l-3.2 12z"/>
<path color="#463cde" d="M596 608.8l3.3 -9.1l.9 -1.3l-3.2 9.5z"/>
<path color="#4537d5" d="M586.3 620.8l3.3 -1.8l3.2 -3.9l3.2 -6.3l1 -.9l-3.3 6.7l-3.2 4.3l-3.3 2.2z"/>
<path color="#4332cb" d="M583.1 620.8l3.2 0l.9 .3l-3.2 .3z"/>
<path color="#4537d5" d="M579.8 618.9l3.3 1.9l.9 .6l-3.3 -1.5z"/>
<path color="#6a5fde" d="M576.6 615l3.2 3.9l.9 1l-3.2 -3.5z"/>
<path color="#6b63e5" d="M573.3 608.5l3.3 6.5l.9 1.4l-3.2 -5.8z"/>
<path color="#6c67ea" d="M570.1 598.8l3.2 9.7l1 2.1l-3.3 -9z"/>
<path color="#6c6cef" d="M566.9 584.9l3.2 13.9l.9 2.8l-3.2 -12.8z"/>
<path color="#6c75f6" d="M563.6 566.5l3.3 18.4l.9 3.9l-3.3 -17.1z"/>
<path color="#465efb" d="M560.4 545.6l3.2 20.9l.9 5.2l-3.2 -19.7z"/>
<path color="#3e6fff" d="M557.1 528.9l3.3 16.7l.9 6.4l-3.3 -16.8z"/>
<path color="#6091fe" d="M553.9 525.9l3.2 3l.9 6.3l-3.2 -5.1z"/>
<path color="#3e6fff" d="M550.6 539.1l3.3 -13.2l.9 4.2l-3.2 10.4z"/>
<path color="#4563fd" d="M547.4 560.5l3.2 -21.4l1 1.4l-3.3 19.7z"/>
<path color="#4852f4" d="M544.2 581.8l3.2 -21.3l.9 -.3l-3.2 20.7z"/>
<path color="#4747eb" d="M540.9 599.1l3.3 -17.3l.9 -.9l-3.3 17.4z"/>
<path color="#463cde" d="M537.7 612.3l3.2 -13.2l.9 -.8l-3.2 13.4z"/>
<path color="#4537d5" d="M534.4 622.1l3.3 -9.8l.9 -.6l-3.3 10z"/>
<path color="#4332cb" d="M531.2 629.4l3.2 -7.3l.9 -.4l-3.2 7.5z"/>
<path color="#422ec0" d="M524.7 639.2l3.2 -4.3l3.3 -5.5l.9 -.2l-3.2 5.7l-3.3 4.4z"/>
<path color="#402ab4" d="M515 647.5l6.5 -4.9l3.2 -3.4l.9 .1l-3.2 3.4l-6.5 5.1zM639.1 635.9l3.2 2.9l6.5 4.3l1 1.1l-6.5 -4l-3.3 -2.7z"/>
<path color="#422ec0" d="M632.6 627.1l3.3 5l3.2 3.8l.9 1.6l-3.2 -3.4l-3.3 -4.5z"/>
<path color="#4332cb" d="M629.4 620.5l3.2 6.6l.9 2.5l-3.2 -6z"/>
<path color="#4537d5" d="M626.1 611.8l3.3 8.7l.9 3.1l-3.2 -8z"/>
<path color="#463cde" d="M622.9 600.5l3.2 11.3l1 3.8l-3.3 -10.3z"/>
<path color="#4747eb" d="M619.7 587.1l3.2 13.4l.9 4.8l-3.2 -12.5z"/>
<path color="#484df0" d="M616.4 573.6l3.3 13.5l.9 5.7l-3.3 -13.2z"/>
<path color="#4852f4" d="M613.2 564.7l3.2 8.9l.9 6l-3.2 -10z"/>
<path color="#6c79f9" d="M609.9 564.9l3.3 -.2l.9 4.9l-3.3 -2.3z"/>
<path color="#6c75f6" d="M606.7 573.7l3.2 -8.8l.9 2.4l-3.2 6.6z"/>
<path color="#6c70f3" d="M603.4 586.4l3.3 -12.7l.9 .2l-3.2 11.5z"/>
<path color="#6c6cef" d="M600.2 598.4l3.2 -12l1 -1l-3.3 11.8z"/>
<path color="#463cde" d="M593.7 614.6l3.3 -6.7l3.2 -9.5l.9 -1.2l-3.2 9.8l-3.3 7.1z"/>
<path color="#4537d5" d="M587.2 621.1l3.3 -2.2l3.2 -4.3l.9 -.5l-3.2 4.7l-3.3 2.5z"/>
<path color="#4332cb" d="M584 621.4l3.2 -.3l.9 .2l-3.2 .7z"/>
<path color="#4537d5" d="M577.5 616.4l3.2 3.5l3.3 1.5l.9 .6l-3.2 -1.1l-3.3 -3z"/>
<path color="#6b63e5" d="M571 601.6l3.3 9l3.2 5.8l.9 1.5l-3.2 -5.4l-3.3 -8.2z"/>
<path color="#6c6cef" d="M567.8 588.8l3.2 12.8l.9 2.7l-3.2 -11.8z"/>
<path color="#6c75f6" d="M564.5 571.7l3.3 17.1l.9 3.7l-3.3 -15.8z"/>
<path color="#465efb" d="M561.3 552l3.2 19.7l.9 5l-3.2 -18.7z"/>
<path color="#4269fe" d="M558 535.2l3.3 16.8l.9 6l-3.2 -16.7z"/>
<path color="#3e6fff" d="M554.8 530.1l3.2 5.1l1 6.1l-3.3 -6.7z"/>
<path color="#6887fe" d="M551.6 540.5l3.2 -10.4l.9 4.5l-3.2 7.7z"/>
<path color="#4563fd" d="M548.3 560.2l3.3 -19.7l.9 1.8l-3.3 17.9z"/>
<path color="#4852f4" d="M545.1 580.9l3.2 -20.7l.9 0l-3.2 19.9z"/>
<path color="#4747eb" d="M541.8 598.3l3.3 -17.4l.9 -.8l-3.3 17.4z"/>
<path color="#463cde" d="M538.6 611.7l3.2 -13.4l.9 -.8l-3.2 13.6z"/>
<path color="#4537d5" d="M535.3 621.7l3.3 -10l.9 -.6l-3.2 10.2z"/>
<path color="#4332cb" d="M532.1 629.2l3.2 -7.5l1 -.4l-3.3 7.7z"/>
<path color="#422ec0" d="M525.6 639.3l3.3 -4.4l3.2 -5.7l.9 -.2l-3.2 5.9l-3.3 4.5z"/>
<path color="#402ab4" d="M512.6 649.6l6.5 -4.1l6.5 -6.2l.9 .1l-6.5 6.4l-6.4 4.2zM640 637.5l3.3 2.7l6.5 4l.9 1l-6.5 -3.6l-3.3 -2.5z"/>
<path color="#422ec0" d="M633.5 629.6l3.3 4.5l3.2 3.4l.9 1.6l-3.2 -3.2l-3.2 -4.1z"/>
<path color="#4332cb" d="M630.3 623.6l3.2 6l1 2.2l-3.3 -5.4z"/>
<path color="#4537d5" d="M627.1 615.6l3.2 8l.9 2.8l-3.2 -7.3z"/>
<path color="#463cde" d="M623.8 605.3l3.3 10.3l.9 3.5l-3.3 -9.4z"/>
<path color="#4741e5" d="M620.6 592.8l3.2 12.5l.9 4.4l-3.2 -11.6z"/>
<path color="#484df0" d="M617.3 579.6l3.3 13.2l.9 5.3l-3.3 -12.8z"/>
<path color="#4852f4" d="M614.1 569.6l3.2 10l.9 5.7l-3.2 -10.7z"/>
<path color="#6c79f9" d="M610.8 567.3l3.3 2.3l.9 5l-3.2 -4.3z"/>
<path color="#6c75f6" d="M607.6 573.9l3.2 -6.6l1 3l-3.3 4.3z"/>
<path color="#6c70f3" d="M604.4 585.4l3.2 -11.5l.9 .7l-3.2 10.1z"/>
<path color="#6c6cef" d="M601.1 597.2l3.3 -11.8l.9 -.7l-3.3 11.5z"/>
<path color="#6c67ea" d="M597.9 607l3.2 -9.8l.9 -1l-3.2 10z"/>
<path color="#463cde" d="M594.6 614.1l3.3 -7.1l.9 -.8l-3.3 7.4z"/>
<path color="#4537d5" d="M578.4 617.9l3.3 3l3.2 1.1l3.2 -.7l3.3 -2.5l3.2 -4.7l.9 -.5l-3.2 5.1l-3.2 2.9l-3.3 1l-3.2 -.7l-3.3 -2.7z"/>
<path color="#6a5fde" d="M575.2 612.5l3.2 5.4l.9 1.3l-3.2 -4.8z"/>
<path color="#6b63e5" d="M571.9 604.3l3.3 8.2l.9 1.9l-3.3 -7.6z"/>
<path color="#6c6cef" d="M568.7 592.5l3.2 11.8l.9 2.5l-3.2 -10.8z"/>
<path color="#6c70f3" d="M565.4 576.7l3.3 15.8l.9 3.5l-3.2 -14.7z"/>
<path color="#4758f8" d="M562.2 558l3.2 18.7l1 4.6l-3.3 -17.5z"/>
<path color="#4563fd" d="M559 541.3l3.2 16.7l.9 5.8l-3.2 -16.5z"/>
<path color="#3e6fff" d="M555.7 534.6l3.3 6.7l.9 6l-3.3 -8.1z"/>
<path color="#6887fe" d="M552.5 542.3l3.2 -7.7l.9 4.6l-3.2 5.3z"/>
<path color="#4563fd" d="M549.2 560.2l3.3 -17.9l.9 2.2l-3.3 15.9z"/>
<path color="#4852f4" d="M546 580.1l3.2 -19.9l.9 .2l-3.2 19.1z"/>
<path color="#4747eb" d="M542.7 597.5l3.3 -17.4l.9 -.6l-3.2 17.3z"/>
<path color="#4741e5" d="M539.5 611.1l3.2 -13.6l1 -.7l-3.3 13.7z"/>
<path color="#4537d5" d="M536.3 621.3l3.2 -10.2l.9 -.6l-3.2 10.5z"/>
<path color="#4332cb" d="M533 629l3.3 -7.7l.9 -.3l-3.3 7.9z"/>
<path color="#422ec0" d="M526.5 639.4l3.3 -4.5l3.2 -5.9l.9 -.1l-3.2 6l-3.3 4.6z"/>
<path color="#402ab4" d="M513.6 650l6.4 -4.2l6.5 -6.4l.9 .1l-6.4 6.6l-6.5 4.3zM637.7 635.9l6.5 5.7l6.5 3.6l.9 1l-6.5 -3.3l-6.5 -5.2z"/>
<path color="#422ec0" d="M631.2 626.4l3.3 5.4l3.2 4.1l.9 1.8l-3.2 -3.8l-3.3 -4.9z"/>
<path color="#4332cb" d="M628 619.1l3.2 7.3l.9 2.6l-3.2 -6.6z"/>
<path color="#4537d5" d="M624.7 609.7l3.3 9.4l.9 3.3l-3.3 -8.6z"/>
<path color="#4741e5" d="M621.5 598.1l3.2 11.6l.9 4.1l-3.2 -10.8z"/>
<path color="#4747eb" d="M618.2 585.3l3.3 12.8l.9 4.9l-3.2 -12.2z"/>
<path color="#484df0" d="M615 574.6l3.2 10.7l1 5.5l-3.3 -11.1z"/>
<path color="#6c75f6" d="M608.5 574.6l3.3 -4.3l3.2 4.3l.9 5.1l-3.2 -5.9l-3.3 2z"/>
<path color="#6c70f3" d="M605.3 584.7l3.2 -10.1l.9 1.2l-3.2 8.6z"/>
<path color="#6c6cef" d="M602 596.2l3.3 -11.5l.9 -.3l-3.3 10.9z"/>
<path color="#6c67ea" d="M598.8 606.2l3.2 -10l.9 -.9l-3.2 10z"/>
<path color="#463cde" d="M595.5 613.6l3.3 -7.4l.9 -.9l-3.2 7.9z"/>
<path color="#4537d5" d="M579.3 619.2l3.3 2.7l3.2 .7l3.3 -1l3.2 -2.9l3.2 -5.1l1 -.4l-3.3 5.4l-3.2 3.3l-3.3 1.3l-3.2 -.4l-3.3 -2.2z"/>
<path color="#6a5fde" d="M576.1 614.4l3.2 4.8l.9 1.4l-3.2 -4.4z"/>
<path color="#6b63e5" d="M572.8 606.8l3.3 7.6l.9 1.8l-3.2 -6.9z"/>
<path color="#6c67ea" d="M569.6 596l3.2 10.8l1 2.5l-3.3 -10z"/>
<path color="#6c70f3" d="M566.4 581.3l3.2 14.7l.9 3.3l-3.2 -13.6z"/>
<path color="#6c79f9" d="M563.1 563.8l3.3 17.5l.9 4.4l-3.3 -16.5z"/>
<path color="#4563fd" d="M559.9 547.3l3.2 16.5l.9 5.4l-3.2 -16.1z"/>
<path color="#4269fe" d="M556.6 539.2l3.3 8.1l.9 5.8l-3.3 -9.2z"/>
<path color="#6887fe" d="M553.4 544.5l3.2 -5.3l.9 4.7l-3.2 3.1z"/>
<path color="#4563fd" d="M550.1 560.4l3.3 -15.9l.9 2.5l-3.2 14z"/>
<path color="#4852f4" d="M546.9 579.5l3.2 -19.1l1 .6l-3.3 18.1z"/>
<path color="#4747eb" d="M543.7 596.8l3.2 -17.3l.9 -.4l-3.2 17.1z"/>
<path color="#4741e5" d="M540.4 610.5l3.3 -13.7l.9 -.6l-3.3 13.8z"/>
<path color="#4537d5" d="M537.2 621l3.2 -10.5l.9 -.5l-3.2 10.7z"/>
<path color="#4332cb" d="M530.7 634.9l3.2 -6l3.3 -7.9l.9 -.3l-3.3 8.1l-3.2 6.2z"/>
<path color="#422ec0" d="M527.4 639.5l3.3 -4.6l.9 .1l-3.2 4.7z"/>
<path color="#402ab4" d="M514.5 650.4l6.5 -4.3l6.4 -6.6l1 .2l-6.5 6.7l-6.5 4.4zM638.6 637.7l6.5 5.2l6.5 3.3l.9 1l-6.5 -3l-6.5 -4.8z"/>
<path color="#422ec0" d="M632.1 629l3.3 4.9l3.2 3.8l.9 1.7l-3.2 -3.5l-3.3 -4.5z"/>
<path color="#4332cb" d="M628.9 622.4l3.2 6.6l.9 2.4l-3.2 -6.1z"/>
<path color="#4537d5" d="M625.6 613.8l3.3 8.6l.9 2.9l-3.2 -7.8z"/>
<path color="#463cde" d="M622.4 603l3.2 10.8l1 3.7l-3.3 -10z"/>
<path color="#4741e5" d="M619.2 590.8l3.2 12.2l.9 4.5l-3.2 -11.5z"/>
<path color="#484df0" d="M615.9 579.7l3.3 11.1l.9 5.2l-3.3 -11.2z"/>
<path color="#4852f4" d="M612.7 573.8l3.2 5.9l.9 5.1l-3.2 -7.2z"/>
<path color="#6c75f6" d="M609.4 575.8l3.3 -2l.9 3.8l-3.3 0z"/>
<path color="#6c70f3" d="M606.2 584.4l3.2 -8.6l.9 1.8l-3.2 6.8z"/>
<path color="#6c6cef" d="M602.9 595.3l3.3 -10.9l.9 0l-3.2 10.2z"/>
<path color="#6c67ea" d="M599.7 605.3l3.2 -10l1 -.7l-3.3 10z"/>
<path color="#463cde" d="M596.5 613.2l3.2 -7.9l.9 -.7l-3.2 8.1z"/>
<path color="#4537d5" d="M580.2 620.6l3.3 2.2l3.2 .4l3.3 -1.3l3.2 -3.3l3.3 -5.4l.9 -.5l-3.3 5.8l-3.2 3.6l-3.3 1.7l-3.2 -.1l-3.2 -1.8z"/>
<path color="#6a5fde" d="M577 616.2l3.2 4.4l1 1.3l-3.3 -3.9z"/>
<path color="#6b63e5" d="M573.8 609.3l3.2 6.9l.9 1.8l-3.2 -6.4z"/>
<path color="#6c67ea" d="M570.5 599.3l3.3 10l.9 2.3l-3.3 -9.2z"/>
<path color="#6c6cef" d="M567.3 585.7l3.2 13.6l.9 3.1l-3.2 -12.6z"/>
<path color="#6c75f6" d="M564 569.2l3.3 16.5l.9 4.1l-3.3 -15.5z"/>
<path color="#465efb" d="M560.8 553.1l3.2 16.1l.9 5.1l-3.2 -15.6z"/>
<path color="#4563fd" d="M557.5 543.9l3.3 9.2l.9 5.6l-3.2 -10.1z"/>
<path color="#8ea5fe" d="M554.3 547l3.2 -3.1l1 4.7l-3.3 1.2z"/>
<path color="#465efb" d="M551.1 561l3.2 -14l.9 2.8l-3.2 12z"/>
<path color="#4758f8" d="M547.8 579.1l3.3 -18.1l.9 .8l-3.3 17.1z"/>
<path color="#484df0" d="M544.6 596.2l3.2 -17.1l.9 -.2l-3.2 16.8z"/>
<path color="#4741e5" d="M541.3 610l3.3 -13.8l.9 -.5l-3.3 13.9z"/>
<path color="#4537d5" d="M538.1 620.7l3.2 -10.7l.9 -.4l-3.2 10.9z"/>
<path color="#4332cb" d="M531.6 635l3.2 -6.2l3.3 -8.1l.9 -.2l-3.2 8.2l-3.3 6.4z"/>
<path color="#422ec0" d="M525.1 643.4l3.3 -3.7l3.2 -4.7l.9 .1l-3.2 4.8l-3.3 3.8z"/>
<path color="#402ab4" d="M515.4 650.8l6.5 -4.4l3.2 -3l.9 .3l-3.2 3.1l-6.5 4.4zM639.5 639.4l3.3 2.7l6.5 3.8l.9 1.1l-6.5 -3.5l-3.3 -2.5z"/>
<path color="#422ec0" d="M633 631.4l3.3 4.5l3.2 3.5l.9 1.6l-3.2 -3.2l-3.2 -4.2z"/>
<path color="#4332cb" d="M629.8 625.3l3.2 6.1l1 2.2l-3.3 -5.5z"/>
<path color="#4537d5" d="M626.6 617.5l3.2 7.8l.9 2.8l-3.2 -7.2z"/>
<path color="#463cde" d="M623.3 607.5l3.3 10l.9 3.4l-3.3 -9.2z"/>
<path color="#4741e5" d="M620.1 596l3.2 11.5l.9 4.2l-3.2 -10.8z"/>
<path color="#4747eb" d="M616.8 584.8l3.3 11.2l.9 4.9l-3.3 -11z"/>
<path color="#484df0" d="M613.6 577.6l3.2 7.2l.9 5.1l-3.2 -8.2z"/>
<path color="#6c75f6" d="M610.3 577.6l3.3 0l.9 4.1l-3.2 -1.9z"/>
<path color="#6c70f3" d="M607.1 584.4l3.2 -6.8l1 2.2l-3.3 5.1z"/>
<path color="#6c6cef" d="M603.9 594.6l3.2 -10.2l.9 .5l-3.2 9.2z"/>
<path color="#6c67ea" d="M600.6 604.6l3.3 -10l.9 -.5l-3.3 9.8z"/>
<path color="#6b63e5" d="M597.4 612.7l3.2 -8.1l.9 -.7l-3.2 8.3z"/>
<path color="#4537d5" d="M577.9 618l3.3 3.9l3.2 1.8l3.2 .1l3.3 -1.7l3.2 -3.6l3.3 -5.8l.9 -.5l-3.3 6.1l-3.2 4l-3.2 2.1l-3.3 .2l-3.2 -1.5l-3.3 -3.5z"/>
<path color="#6b63e5" d="M574.7 611.6l3.2 6.4l.9 1.6l-3.2 -5.7z"/>
<path color="#6c67ea" d="M571.4 602.4l3.3 9.2l.9 2.3l-3.3 -8.5z"/>
<path color="#6c6cef" d="M568.2 589.8l3.2 12.6l.9 3l-3.2 -11.7z"/>
<path color="#6c75f6" d="M564.9 574.3l3.3 15.5l.9 3.9l-3.2 -14.5z"/>
<path color="#465efb" d="M561.7 558.7l3.2 15.6l1 4.9l-3.3 -15.1z"/>
<path color="#4563fd" d="M558.5 548.6l3.2 10.1l.9 5.4l-3.2 -10.7z"/>
<path color="#8fa2fe" d="M555.2 549.8l3.3 -1.2l.9 4.8l-3.3 -.6z"/>
<path color="#465efb" d="M552 561.8l3.2 -12l.9 3l-3.2 10.2z"/>
<path color="#4758f8" d="M548.7 578.9l3.3 -17.1l.9 1.2l-3.3 15.9z"/>
<path color="#484df0" d="M545.5 595.7l3.2 -16.8l.9 0l-3.2 16.4z"/>
<path color="#4741e5" d="M542.2 609.6l3.3 -13.9l.9 -.4l-3.2 13.9z"/>
<path color="#463cde" d="M539 620.5l3.2 -10.9l1 -.4l-3.3 11z"/>
<path color="#4537d5" d="M535.8 628.7l3.2 -8.2l.9 -.3l-3.2 8.5z"/>
<path color="#4332cb" d="M532.5 635.1l3.3 -6.4l.9 0l-3.3 6.5z"/>
<path color="#422ec0" d="M526 643.7l3.3 -3.8l3.2 -4.8l.9 .1l-3.2 5l-3.2 3.9z"/>
<path color="#402ab4" d="M516.3 651.2l6.5 -4.4l3.2 -3.1l1 .4l-3.3 3.1l-6.5 4.5zM637.2 637.8l6.5 5.7l6.5 3.5l.9 1l-6.5 -3.2l-6.5 -5.2z"/>
<path color="#422ec0" d="M634 633.6l3.2 4.2l.9 1.8l-3.2 -3.9z"/>
<path color="#4332cb" d="M627.5 620.9l3.2 7.2l3.3 5.5l.9 2.1l-3.3 -5.1l-3.2 -6.5z"/>
<path color="#4537d5" d="M624.2 611.7l3.3 9.2l.9 3.2l-3.3 -8.4z"/>
<path color="#4741e5" d="M621 600.9l3.2 10.8l.9 4l-3.2 -10.1z"/>
<path color="#4747eb" d="M617.7 589.9l3.3 11l.9 4.7l-3.2 -10.8z"/>
<path color="#484df0" d="M614.5 581.7l3.2 8.2l1 4.9l-3.3 -8.8z"/>
<path color="#6c70f3" d="M608 584.9l3.3 -5.1l3.2 1.9l.9 4.3l-3.2 -3.5l-3.3 3.3z"/>
<path color="#6c6cef" d="M604.8 594.1l3.2 -9.2l.9 .9l-3.2 8.1z"/>
<path color="#6c67ea" d="M601.5 603.9l3.3 -9.8l.9 -.2l-3.3 9.5z"/>
<path color="#6b63e5" d="M598.3 612.2l3.2 -8.3l.9 -.5l-3.2 8.4z"/>
<path color="#4537d5" d="M578.8 619.6l3.3 3.5l3.2 1.5l3.3 -.2l3.2 -2.1l3.2 -4l3.3 -6.1l.9 -.4l-3.2 6.4l-3.3 4.3l-3.2 2.4l-3.3 .6l-3.2 -1.2l-3.2 -3z"/>
<path color="#6b63e5" d="M572.3 605.4l3.3 8.5l3.2 5.7l1 1.7l-3.3 -5.2l-3.2 -7.9z"/>
<path color="#6c6cef" d="M569.1 593.7l3.2 11.7l1 2.8l-3.3 -10.8z"/>
<path color="#6c70f3" d="M565.9 579.2l3.2 14.5l.9 3.7l-3.2 -13.6z"/>
<path color="#6c79f9" d="M562.6 564.1l3.3 15.1l.9 4.6l-3.3 -14.5z"/>
<path color="#465efb" d="M559.4 553.4l3.2 10.7l.9 5.2l-3.2 -11z"/>
<path color="#6a82fd" d="M556.1 552.8l3.3 .6l.9 4.9l-3.2 -2.2z"/>
<path color="#465efb" d="M552.9 563l3.2 -10.2l1 3.3l-3.3 8.3z"/>
<path color="#4758f8" d="M549.6 578.9l3.3 -15.9l.9 1.4l-3.2 14.7z"/>
<path color="#484df0" d="M546.4 595.3l3.2 -16.4l1 .2l-3.3 15.9z"/>
<path color="#4741e5" d="M543.2 609.2l3.2 -13.9l.9 -.3l-3.2 13.9z"/>
<path color="#463cde" d="M539.9 620.2l3.3 -11l.9 -.3l-3.3 11.2z"/>
<path color="#4537d5" d="M536.7 628.7l3.2 -8.5l.9 -.1l-3.2 8.6z"/>
<path color="#4332cb" d="M533.4 635.2l3.3 -6.5l.9 0l-3.2 6.6z"/>
<path color="#422ec0" d="M527 644.1l3.2 -3.9l3.2 -5l1 .1l-3.3 5.1l-3.2 4z"/>
<path color="#402ab4" d="M514 653.4l6.5 -3.7l6.5 -5.6l.9 .3l-6.5 5.7l-6.5 3.8zM638.1 639.6l6.5 5.2l6.5 3.2l.9 1.1l-6.5 -3l-6.5 -4.9z"/>
<path color="#422ec0" d="M631.6 630.6l3.3 5.1l3.2 3.9l.9 1.6l-3.2 -3.5l-3.3 -4.7z"/>
<path color="#4332cb" d="M628.4 624.1l3.2 6.5l.9 2.4l-3.2 -6z"/>
<path color="#4537d5" d="M625.1 615.7l3.3 8.4l.9 2.9l-3.2 -7.7z"/>
<path color="#463cde" d="M621.9 605.6l3.2 10.1l1 3.6l-3.3 -9.4z"/>
<path color="#4741e5" d="M618.7 594.8l3.2 10.8l.9 4.3l-3.2 -10.3z"/>
<path color="#4747eb" d="M615.4 586l3.3 8.8l.9 4.8l-3.3 -9.2z"/>
<path color="#484df0" d="M612.2 582.5l3.2 3.5l.9 4.4l-3.2 -4.8z"/>
<path color="#6c70f3" d="M608.9 585.8l3.3 -3.3l.9 3.1l-3.2 1.5z"/>
<path color="#6c6cef" d="M605.7 593.9l3.2 -8.1l1 1.3l-3.3 6.9z"/>
<path color="#6c67ea" d="M602.4 603.4l3.3 -9.5l.9 .1l-3.2 8.9z"/>
<path color="#6b63e5" d="M599.2 611.8l3.2 -8.4l1 -.5l-3.3 8.5z"/>
<path color="#463cde" d="M596 618.2l3.2 -6.4l.9 -.4l-3.2 6.7z"/>
<path color="#4537d5" d="M579.8 621.3l3.2 3l3.2 1.2l3.3 -.6l3.2 -2.4l3.3 -4.3l.9 -.1l-3.3 4.6l-3.2 2.7l-3.2 .9l-3.3 -.8l-3.2 -2.6z"/>
<path color="#6a5fde" d="M576.5 616.1l3.3 5.2l.9 1.6l-3.3 -4.8z"/>
<path color="#6b63e5" d="M573.3 608.2l3.2 7.9l.9 2l-3.2 -7.2z"/>
<path color="#6c67ea" d="M570 597.4l3.3 10.8l.9 2.7l-3.3 -10z"/>
<path color="#6c70f3" d="M566.8 583.8l3.2 13.6l.9 3.5l-3.2 -12.7z"/>
<path color="#6c79f9" d="M563.5 569.3l3.3 14.5l.9 4.4l-3.2 -13.9z"/>
<path color="#465efb" d="M560.3 558.3l3.2 11l1 5l-3.3 -11.3z"/>
<path color="#6a82fd" d="M557.1 556.1l3.2 2.2l.9 4.7l-3.2 -3.4z"/>
<path color="#6b7efc" d="M553.8 564.4l3.3 -8.3l.9 3.5l-3.3 6.5z"/>
<path color="#4758f8" d="M550.6 579.1l3.2 -14.7l.9 1.7l-3.2 13.4z"/>
<path color="#6c70f3" d="M547.3 595l3.3 -15.9l.9 .4l-3.3 15.3z"/>
<path color="#4741e5" d="M544.1 608.9l3.2 -13.9l.9 -.2l-3.2 13.9z"/>
<path color="#463cde" d="M540.8 620.1l3.3 -11.2l.9 -.2l-3.2 11.2z"/>
<path color="#4537d5" d="M537.6 628.7l3.2 -8.6l1 -.2l-3.3 8.8z"/>
<path color="#4332cb" d="M534.4 635.3l3.2 -6.6l.9 0l-3.2 6.8z"/>
<path color="#422ec0" d="M527.9 644.4l3.2 -4l3.3 -5.1l.9 .2l-3.3 5.2l-3.2 4.1z"/>
<path color="#402ab4" d="M514.9 653.9l6.5 -3.8l6.5 -5.7l.9 .4l-6.5 5.8l-6.5 3.9zM639 641.2l6.5 4.9l6.5 3l.9 1l-6.5 -2.8l-6.4 -4.5z"/>
<path color="#422ec0" d="M632.5 633l3.3 4.7l3.2 3.5l1 1.6l-3.3 -3.2l-3.2 -4.3z"/>
<path color="#4332cb" d="M629.3 627l3.2 6l1 2.3l-3.3 -5.5z"/>
<path color="#4537d5" d="M626.1 619.3l3.2 7.7l.9 2.8l-3.2 -7.1z"/>
<path color="#463cde" d="M622.8 609.9l3.3 9.4l.9 3.4l-3.3 -8.7z"/>
<path color="#4741e5" d="M619.6 599.6l3.2 10.3l.9 4.1l-3.2 -9.8z"/>
<path color="#4747eb" d="M616.3 590.4l3.3 9.2l.9 4.6l-3.2 -9.3z"/>
<path color="#484df0" d="M613.1 585.6l3.2 4.8l1 4.5l-3.3 -5.9z"/>
<path color="#6c70f3" d="M609.9 587.1l3.2 -1.5l.9 3.4l-3.2 -.1z"/>
<path color="#6c6cef" d="M603.4 602.9l3.2 -8.9l3.3 -6.9l.9 1.8l-3.3 5.4l-3.2 8.4z"/>
<path color="#6c67ea" d="M600.1 611.4l3.3 -8.5l.9 -.2l-3.3 8.4z"/>
<path color="#6b63e5" d="M596.9 618.1l3.2 -6.7l.9 -.3l-3.2 6.9z"/>
<path color="#4537d5" d="M580.7 622.9l3.2 2.6l3.3 .8l3.2 -.9l3.2 -2.7l3.3 -4.6l.9 -.1l-3.2 4.9l-3.3 3l-3.2 1.3l-3.3 -.5l-3.2 -2.3z"/>
<path color="#6a5fde" d="M577.4 618.1l3.3 4.8l.9 1.5l-3.3 -4.2z"/>
<path color="#6b63e5" d="M574.2 610.9l3.2 7.2l.9 2.1l-3.2 -6.6z"/>
<path color="#6c67ea" d="M570.9 600.9l3.3 10l.9 2.7l-3.2 -9.3z"/>
<path color="#6c6cef" d="M567.7 588.2l3.2 12.7l1 3.4l-3.3 -11.9z"/>
<path color="#6c75f6" d="M564.5 574.3l3.2 13.9l.9 4.2l-3.2 -13.3z"/>
<path color="#6b7efc" d="M561.2 563l3.3 11.3l.9 4.8l-3.3 -11.3z"/>
<path color="#465efb" d="M558 559.6l3.2 3.4l.9 4.8l-3.2 -4.6z"/>
<path color="#6b7efc" d="M554.7 566.1l3.3 -6.5l.9 3.6l-3.3 4.8z"/>
<path color="#6c79f9" d="M551.5 579.5l3.2 -13.4l.9 1.9l-3.2 12.2z"/>
<path color="#6c70f3" d="M548.2 594.8l3.3 -15.3l.9 .7l-3.2 14.6z"/>
<path color="#4741e5" d="M545 608.7l3.2 -13.9l1 0l-3.3 13.7z"/>
<path color="#463cde" d="M541.8 619.9l3.2 -11.2l.9 -.2l-3.2 11.4z"/>
<path color="#4537d5" d="M538.5 628.7l3.3 -8.8l.9 0l-3.3 8.9z"/>
<path color="#4332cb" d="M535.3 635.5l3.2 -6.8l.9 .1l-3.2 6.9z"/>
<path color="#422ec0" d="M528.8 644.8l3.2 -4.1l3.3 -5.2l.9 .2l-3.3 5.3l-3.2 4.2z"/>
<path color="#402ab4" d="M515.8 654.5l6.5 -3.9l6.5 -5.8l.9 .4l-6.5 5.9l-6.5 4zM640 642.8l3.2 2.6l6.5 3.5l.9 1.1l-6.5 -3.3l-3.2 -2.3z"/>
<path color="#422ec0" d="M633.5 635.3l3.2 4.3l3.3 3.2l.9 1.6l-3.3 -3.1l-3.2 -3.9z"/>
<path color="#4332cb" d="M627 622.7l3.2 7.1l3.3 5.5l.9 2.1l-3.3 -5l-3.2 -6.5z"/>
<path color="#4537d5" d="M623.7 614l3.3 8.7l.9 3.2l-3.2 -8.1z"/>
<path color="#463cde" d="M620.5 604.2l3.2 9.8l1 3.8l-3.3 -9.3z"/>
<path color="#4747eb" d="M614 589l3.3 5.9l3.2 9.3l.9 4.3l-3.2 -9.2l-3.3 -6.7z"/>
<path color="#6c70f3" d="M610.8 588.9l3.2 .1l.9 3.6l-3.2 -1.6z"/>
<path color="#6c6cef" d="M604.3 602.7l3.2 -8.4l3.3 -5.4l.9 2.1l-3.3 4.1l-3.2 7.5z"/>
<path color="#6c67ea" d="M601 611.1l3.3 -8.4l.9 -.1l-3.2 8.2z"/>
<path color="#6b63e5" d="M597.8 618l3.2 -6.9l1 -.3l-3.3 7.1z"/>
<path color="#4537d5" d="M578.3 620.2l3.3 4.2l3.2 2.3l3.3 .5l3.2 -1.3l3.3 -3l3.2 -4.9l.9 -.1l-3.2 5.2l-3.3 3.3l-3.2 1.6l-3.3 -.2l-3.2 -1.9l-3.2 -3.8z"/>
<path color="#6b63e5" d="M575.1 613.6l3.2 6.6l1 1.9l-3.3 -6z"/>
<path color="#6c67ea" d="M571.9 604.3l3.2 9.3l.9 2.5l-3.2 -8.6z"/>
<path color="#6c6cef" d="M568.6 592.4l3.3 11.9l.9 3.2l-3.3 -11.1z"/>
<path color="#6c75f6" d="M565.4 579.1l3.2 13.3l.9 4l-3.2 -12.7z"/>
<path color="#6c79f9" d="M562.1 567.8l3.3 11.3l.9 4.6l-3.3 -11.3z"/>
<path color="#465efb" d="M558.9 563.2l3.2 4.6l.9 4.6l-3.2 -5.5z"/>
<path color="#6b7efc" d="M555.6 568l3.3 -4.8l.9 3.7l-3.2 3.3z"/>
<path color="#6c79f9" d="M552.4 580.2l3.2 -12.2l1 2.2l-3.3 10.8z"/>
<path color="#6c70f3" d="M549.2 594.8l3.2 -14.6l.9 .8l-3.2 14z"/>
<path color="#4741e5" d="M545.9 608.5l3.3 -13.7l.9 .2l-3.3 13.4z"/>
<path color="#463cde" d="M542.7 619.9l3.2 -11.4l.9 -.1l-3.2 11.4z"/>
<path color="#4537d5" d="M539.4 628.8l3.3 -8.9l.9 -.1l-3.3 9.1z"/>
<path color="#4332cb" d="M536.2 635.7l3.2 -6.9l.9 .1l-3.2 7z"/>
<path color="#422ec0" d="M529.7 645.2l3.2 -4.2l3.3 -5.3l.9 .2l-3.2 5.5l-3.3 4.2z"/>
<path color="#402ab4" d="M516.7 655.1l6.5 -4l6.5 -5.9l.9 .4l-6.5 6.1l-6.5 4zM637.6 641.3l6.5 5.4l6.5 3.3l.9 1.1l-6.5 -3.1l-6.5 -5z"/>
<path color="#422ec0" d="M631.1 632.4l3.3 5l3.2 3.9l.9 1.7l-3.2 -3.6l-3.2 -4.6z"/>
<path color="#4332cb" d="M627.9 625.9l3.2 6.5l1 2.4l-3.3 -6z"/>
<path color="#4537d5" d="M624.7 617.8l3.2 8.1l.9 2.9l-3.2 -7.4z"/>
<path color="#463cde" d="M621.4 608.5l3.3 9.3l.9 3.6l-3.3 -8.7z"/>
<path color="#4741e5" d="M618.2 599.3l3.2 9.2l.9 4.2l-3.2 -9z"/>
<path color="#4747eb" d="M614.9 592.6l3.3 6.7l.9 4.4l-3.3 -7.3z"/>
<path color="#6c70f3" d="M611.7 591l3.2 1.6l.9 3.8l-3.2 -2.8z"/>
<path color="#6c6cef" d="M605.2 602.6l3.2 -7.5l3.3 -4.1l.9 2.6l-3.2 2.6l-3.3 6.6z"/>
<path color="#6c67ea" d="M602 610.8l3.2 -8.2l.9 .2l-3.2 7.9z"/>
<path color="#6b63e5" d="M598.7 617.9l3.3 -7.1l.9 -.1l-3.3 7.1z"/>
<path color="#4537d5" d="M589 628l3.2 -1.6l3.3 -3.3l3.2 -5.2l.9 -.1l-3.2 5.5l-3.3 3.6l-3.2 1.8z"/>
<path color="#4332cb" d="M585.7 627.8l3.3 .2l.9 .7l-3.2 .2z"/>
<path color="#4537d5" d="M579.3 622.1l3.2 3.8l3.2 1.9l1 1.1l-3.3 -1.6l-3.2 -3.3z"/>
<path color="#6b63e5" d="M576 616.1l3.3 6l.9 1.9l-3.3 -5.5z"/>
<path color="#6c67ea" d="M572.8 607.5l3.2 8.6l.9 2.4l-3.2 -7.9z"/>
<path color="#6c6cef" d="M569.5 596.4l3.3 11.1l.9 3.1l-3.3 -10.4z"/>
<path color="#6c70f3" d="M566.3 583.7l3.2 12.7l.9 3.8l-3.2 -12z"/>
<path color="#6c79f9" d="M553.3 581l3.3 -10.8l3.2 -3.3l3.2 5.5l3.3 11.3l.9 4.5l-3.2 -11.2l-3.3 -6.3l-3.2 1.9l-3.3 9.5z"/>
<path color="#6c70f3" d="M550.1 595l3.2 -14l.9 1.1l-3.2 13.1z"/>
<path color="#6c67ea" d="M546.8 608.4l3.3 -13.4l.9 .2l-3.3 13.2z"/>
<path color="#463cde" d="M543.6 619.8l3.2 -11.4l.9 0l-3.2 11.4z"/>
<path color="#4537d5" d="M540.3 628.9l3.3 -9.1l.9 0l-3.2 9.2z"/>
<path color="#4332cb" d="M537.1 635.9l3.2 -7l1 .1l-3.3 7.2z"/>
<path color="#422ec0" d="M530.6 645.6l3.3 -4.2l3.2 -5.5l.9 .3l-3.2 5.5l-3.3 4.4z"/>
<path color="#402ab4" d="M517.6 655.7l6.5 -4l6.5 -6.1l.9 .5l-6.5 6.1l-6.4 4.1zM638.5 643l6.5 5l6.5 3.1l.9 1l-6.5 -2.9l-6.4 -4.5z"/>
<path color="#422ec0" d="M632.1 634.8l3.2 4.6l3.2 3.6l1 1.7l-3.3 -3.3l-3.2 -4.3z"/>
<path color="#4332cb" d="M628.8 628.8l3.3 6l.9 2.3l-3.3 -5.4z"/>
<path color="#4537d5" d="M625.6 621.4l3.2 7.4l.9 2.9l-3.2 -6.9z"/>
<path color="#463cde" d="M622.3 612.7l3.3 8.7l.9 3.4l-3.3 -8.1z"/>
<path color="#4741e5" d="M619.1 603.7l3.2 9l.9 4l-3.2 -8.8z"/>
<path color="#4747eb" d="M612.6 593.6l3.2 2.8l3.3 7.3l.9 4.2l-3.2 -7.5l-3.3 -4z"/>
<path color="#6c6cef" d="M606.1 602.8l3.3 -6.6l3.2 -2.6l.9 2.8l-3.2 1.2l-3.3 5.6z"/>
<path color="#6c67ea" d="M602.9 610.7l3.2 -7.9l.9 .4l-3.2 7.4z"/>
<path color="#6b63e5" d="M599.6 617.8l3.3 -7.1l.9 -.1l-3.3 7.2z"/>
<path color="#4537d5" d="M589.9 628.7l3.2 -1.8l3.3 -3.6l3.2 -5.5l.9 0l-3.2 5.6l-3.2 3.9l-3.3 2.2z"/>
<path color="#4332cb" d="M586.7 628.9l3.2 -.2l.9 .8l-3.2 .5z"/>
<path color="#4537d5" d="M580.2 624l3.2 3.3l3.3 1.6l.9 1.1l-3.3 -1.2l-3.2 -3z"/>
<path color="#6a5fde" d="M576.9 618.5l3.3 5.5l.9 1.8l-3.3 -5z"/>
<path color="#6b63e5" d="M573.7 610.6l3.2 7.9l.9 2.3l-3.2 -7.3z"/>
<path color="#6c67ea" d="M570.4 600.2l3.3 10.4l.9 2.9l-3.2 -9.6z"/>
<path color="#6c70f3" d="M567.2 588.2l3.2 12l1 3.7l-3.3 -11.4z"/>
<path color="#6c75f6" d="M564 577l3.2 11.2l.9 4.3l-3.2 -11z"/>
<path color="#6c79f9" d="M557.5 572.6l3.2 -1.9l3.3 6.3l.9 4.5l-3.3 -6.9l-3.2 .6z"/>
<path color="#6c75f6" d="M554.2 582.1l3.3 -9.5l.9 2.6l-3.3 8.1z"/>
<path color="#6c70f3" d="M551 595.2l3.2 -13.1l.9 1.2l-3.2 12.3z"/>
<path color="#6c6cef" d="M547.7 608.4l3.3 -13.2l.9 .4l-3.2 12.9z"/>
<path color="#463cde" d="M544.5 619.8l3.2 -11.4l1 .1l-3.3 11.4z"/>
<path color="#4537d5" d="M541.3 629l3.2 -9.2l.9 .1l-3.2 9.2z"/>
<path color="#4332cb" d="M538 636.2l3.3 -7.2l.9 .1l-3.3 7.3z"/>
<path color="#422ec0" d="M531.5 646.1l3.3 -4.4l3.2 -5.5l.9 .2l-3.2 5.7l-3.3 4.4z"/>
<path color="#402ab4" d="M518.6 656.3l6.4 -4.1l6.5 -6.1l.9 .4l-6.4 6.3l-6.5 4.2zM639.5 644.7l6.4 4.5l6.5 2.9l.9 1l-6.4 -2.6l-6.5 -4.3z"/>
<path color="#422ec0" d="M633 637.1l3.2 4.3l3.3 3.3l.9 1.5l-6.5 -6.9z"/>
<path color="#4332cb" d="M626.5 624.8l3.2 6.9l3.3 5.4l.9 2.2l-3.3 -5l-3.2 -6.3z"/>
<path color="#4537d5" d="M623.2 616.7l3.3 8.1l.9 3.2l-3.2 -7.6z"/>
<path color="#463cde" d="M620 607.9l3.2 8.8l1 3.7l-3.3 -8.3z"/>
<path color="#4741e5" d="M616.8 600.4l3.2 7.5l.9 4.2l-3.2 -7.8z"/>
<path color="#4747eb" d="M613.5 596.4l3.3 4l.9 3.9l-3.3 -4.8z"/>
<path color="#6c6cef" d="M607 603.2l3.3 -5.6l3.2 -1.2l.9 3.1l-3.2 -.1l-3.3 4.4z"/>
<path color="#6c67ea" d="M603.8 610.6l3.2 -7.4l.9 .6l-3.2 6.9z"/>
<path color="#6b63e5" d="M600.5 617.8l3.3 -7.2l.9 .1l-3.2 7.1z"/>
<path color="#6a5fde" d="M597.3 623.4l3.2 -5.6l1 0l-3.3 5.8z"/>
<path color="#4537d5" d="M590.8 629.5l3.3 -2.2l3.2 -3.9l.9 .2l-3.2 4.2l-3.3 2.4z"/>
<path color="#4332cb" d="M584.3 628.8l3.3 1.2l3.2 -.5l.9 .7l-3.2 .8l-3.3 -.9z"/>
<path color="#4537d5" d="M581.1 625.8l3.2 3l.9 1.3l-3.2 -2.6z"/>
<path color="#6a5fde" d="M577.8 620.8l3.3 5l.9 1.7l-3.2 -4.5z"/>
<path color="#6b63e5" d="M574.6 613.5l3.2 7.3l1 2.2l-3.3 -6.7z"/>
<path color="#6c67ea" d="M571.4 603.9l3.2 9.6l.9 2.8l-3.2 -9z"/>
<path color="#6c6cef" d="M568.1 592.5l3.3 11.4l.9 3.4l-3.3 -10.7z"/>
<path color="#6c75f6" d="M564.9 581.5l3.2 11l.9 4.1l-3.2 -10.7z"/>
<path color="#6c79f9" d="M558.4 575.2l3.2 -.6l3.3 6.9l.9 4.4l-3.3 -7.4l-3.2 -.5z"/>
<path color="#6c75f6" d="M555.1 583.3l3.3 -8.1l.9 2.8l-3.2 6.8z"/>
<path color="#6c70f3" d="M551.9 595.6l3.2 -12.3l1 1.5l-3.3 11.4z"/>
<path color="#6c6cef" d="M548.7 608.5l3.2 -12.9l.9 .6l-3.2 12.5z"/>
<path color="#6b63e5" d="M545.4 619.9l3.3 -11.4l.9 .2l-3.3 11.3z"/>
<path color="#4537d5" d="M542.2 629.1l3.2 -9.2l.9 .1l-3.2 9.3z"/>
<path color="#4332cb" d="M538.9 636.4l3.3 -7.3l.9 .2l-3.2 7.4z"/>
<path color="#422ec0" d="M532.4 646.5l3.3 -4.4l3.2 -5.7l1 .3l-3.3 5.8l-3.2 4.5z"/>
<path color="#402ab4" d="M519.5 657l6.5 -4.2l6.4 -6.3l1 .5l-6.5 6.4l-6.5 4.2zM637.1 643.2l6.5 5.4l6.5 3.3l.9 1.1l-6.5 -3.1l-6.5 -4.9z"/>
<path color="#422ec0" d="M630.6 634.3l3.3 5l3.2 3.9l.9 1.8l-3.2 -3.6l-3.2 -4.6z"/>
<path color="#4332cb" d="M627.4 628l3.2 6.3l1 2.5l-3.3 -5.8z"/>
<path color="#4537d5" d="M624.2 620.4l3.2 7.6l.9 3l-3.2 -7z"/>
<path color="#463cde" d="M620.9 612.1l3.3 8.3l.9 3.6l-3.3 -8z"/>
<path color="#4741e5" d="M617.7 604.3l3.2 7.8l.9 3.9l-3.2 -7.7z"/>
<path color="#4747eb" d="M614.4 599.5l3.3 4.8l.9 4l-3.3 -5.5z"/>
<path color="#6c6cef" d="M607.9 603.8l3.3 -4.4l3.2 .1l.9 3.3l-3.2 -1.3l-3.2 3.3z"/>
<path color="#6c67ea" d="M604.7 610.7l3.2 -6.9l1 1l-3.3 6.2z"/>
<path color="#6b63e5" d="M601.5 617.8l3.2 -7.1l.9 .3l-3.2 6.9z"/>
<path color="#6a5fde" d="M598.2 623.6l3.3 -5.8l.9 .1l-3.3 5.9z"/>
<path color="#4537d5" d="M591.7 630.2l3.3 -2.4l3.2 -4.2l.9 .2l-3.2 4.4l-3.3 2.7z"/>
<path color="#4332cb" d="M585.2 630.1l3.3 .9l3.2 -.8l.9 .7l-3.2 1.1l-3.2 -.6z"/>
<path color="#4537d5" d="M582 627.5l3.2 2.6l1 1.3l-3.3 -2.2z"/>
<path color="#6a5fde" d="M578.8 623l3.2 4.5l.9 1.7l-3.2 -4z"/>
<path color="#6b63e5" d="M575.5 616.3l3.3 6.7l.9 2.2l-3.3 -6.2z"/>
<path color="#6c67ea" d="M572.3 607.3l3.2 9l.9 2.7l-3.2 -8.3z"/>
<path color="#6c6cef" d="M569 596.6l3.3 10.7l.9 3.4l-3.2 -10.1z"/>
<path color="#6c70f3" d="M565.8 585.9l3.2 10.7l1 4l-3.3 -10.5z"/>
<path color="#6c75f6" d="M562.5 578.5l3.3 7.4l.9 4.2l-3.2 -7.6z"/>
<path color="#6c79f9" d="M559.3 578l3.2 .5l1 4l-3.3 -1.6z"/>
<path color="#6c75f6" d="M556.1 584.8l3.2 -6.8l.9 2.9l-3.2 5.5z"/>
<path color="#6c70f3" d="M552.8 596.2l3.3 -11.4l.9 1.6l-3.3 10.5z"/>
<path color="#6c6cef" d="M549.6 608.7l3.2 -12.5l.9 .7l-3.2 12.1z"/>
<path color="#6b63e5" d="M546.3 620l3.3 -11.3l.9 .3l-3.2 11.1z"/>
<path color="#4537d5" d="M543.1 629.3l3.2 -9.3l1 .1l-3.3 9.4z"/>
<path color="#4332cb" d="M539.9 636.7l3.2 -7.4l.9 .2l-3.2 7.5z"/>
<path color="#422ec0" d="M533.4 647l3.2 -4.5l3.3 -5.8l.9 .3l-3.3 5.9l-3.2 4.6z"/>
<path color="#402ab4" d="M520.4 657.6l6.5 -4.2l6.5 -6.4l.9 .5l-6.5 6.5l-6.5 4.3zM638 645l6.5 4.9l6.5 3.1l.9 1.1l-6.5 -2.9l-6.4 -4.5z"/>
<path color="#422ec0" d="M631.6 636.8l3.2 4.6l3.2 3.6l1 1.7l-3.3 -3.3l-3.2 -4.2z"/>
<path color="#4332cb" d="M628.3 631l3.3 5.8l.9 2.4l-3.3 -5.3z"/>
<path color="#4537d5" d="M625.1 624l3.2 7l.9 2.9l-3.2 -6.5z"/>
<path color="#463cde" d="M621.8 616l3.3 8l.9 3.4l-3.2 -7.5z"/>
<path color="#4741e5" d="M615.3 602.8l3.3 5.5l3.2 7.7l1 3.9l-3.3 -7.6l-3.2 -6z"/>
<path color="#6c6cef" d="M608.9 604.8l3.2 -3.3l3.2 1.3l1 3.5l-3.3 -2.4l-3.2 2.1z"/>
<path color="#6c67ea" d="M605.6 611l3.3 -6.2l.9 1.2l-3.3 5.5z"/>
<path color="#6b63e5" d="M602.4 617.9l3.2 -6.9l.9 .5l-3.2 6.6z"/>
<path color="#6a5fde" d="M599.1 623.8l3.3 -5.9l.9 .2l-3.2 6z"/>
<path color="#4537d5" d="M592.6 630.9l3.3 -2.7l3.2 -4.4l1 .3l-3.3 4.6l-3.2 2.9z"/>
<path color="#4332cb" d="M586.2 631.4l3.2 .6l3.2 -1.1l1 .7l-3.3 1.4l-3.2 -.3z"/>
<path color="#4537d5" d="M579.7 625.2l3.2 4l3.3 2.2l.9 1.3l-3.3 -1.8l-3.2 -3.7z"/>
<path color="#6b63e5" d="M576.4 619l3.3 6.2l.9 2l-3.2 -5.6z"/>
<path color="#6c67ea" d="M573.2 610.7l3.2 8.3l1 2.6l-3.3 -7.7z"/>
<path color="#6c6cef" d="M570 600.6l3.2 10.1l.9 3.2l-3.2 -9.5z"/>
<path color="#6c70f3" d="M566.7 590.1l3.3 10.5l.9 3.8l-3.3 -10.1z"/>
<path color="#6c75f6" d="M557 586.4l3.2 -5.5l3.3 1.6l3.2 7.6l.9 4.2l-3.2 -7.9l-3.3 -2.5l-3.2 4.4z"/>
<path color="#6c70f3" d="M553.7 596.9l3.3 -10.5l.9 1.9l-3.2 9.5z"/>
<path color="#6c6cef" d="M550.5 609l3.2 -12.1l1 .9l-3.3 11.5z"/>
<path color="#6b63e5" d="M547.3 620.1l3.2 -11.1l.9 .3l-3.2 11.1z"/>
<path color="#4537d5" d="M544 629.5l3.3 -9.4l.9 .3l-3.3 9.4z"/>
<path color="#4332cb" d="M537.5 642.9l3.3 -5.9l3.2 -7.5l.9 .3l-3.2 7.6l-3.3 6z"/>
<path color="#422ec0" d="M534.3 647.5l3.2 -4.6l.9 .5l-3.2 4.7z"/>
<path color="#402ab4" d="M521.3 658.3l6.5 -4.3l6.5 -6.5l.9 .6l-6.5 6.6l-6.5 4.2zM639 646.7l6.4 4.5l6.5 2.9l1 1.1l-6.5 -2.7l-6.5 -4.2z"/>
<path color="#422ec0" d="M632.5 639.2l3.2 4.2l3.3 3.3l.9 1.6l-6.5 -6.8z"/>
<path color="#4332cb" d="M626 627.4l6.5 11.8l.9 2.3l-6.5 -10.9z"/>
<path color="#4537d5" d="M622.8 619.9l3.2 7.5l.9 3.2l-3.2 -7.1z"/>
<path color="#463cde" d="M619.5 612.3l3.3 7.6l.9 3.6l-3.3 -7.4z"/>
<path color="#4741e5" d="M613 603.9l3.3 2.4l3.2 6l.9 3.8l-3.2 -6.3l-3.3 -3.2z"/>
<path color="#6c67ea" d="M606.5 611.5l3.3 -5.5l3.2 -2.1l.9 2.7l-3.2 .9l-3.2 4.6z"/>
<path color="#6b63e5" d="M600.1 624.1l6.4 -12.6l1 .6l-6.5 12.3z"/>
<path color="#6a5fde" d="M596.8 628.7l3.3 -4.6l.9 .3l-3.3 4.7z"/>
<path color="#4537d5" d="M593.6 631.6l3.2 -2.9l.9 .4l-3.2 3.2z"/>
<path color="#4332cb" d="M583.8 630.9l3.3 1.8l3.2 .3l3.3 -1.4l.9 .7l-3.3 1.7l-3.2 0l-3.2 -1.5z"/>
<path color="#4537d5" d="M580.6 627.2l3.2 3.7l1 1.6l-3.3 -3.3z"/>
<path color="#6a5fde" d="M577.4 621.6l3.2 5.6l.9 2l-3.2 -5.1z"/>
<path color="#6b63e5" d="M574.1 613.9l3.3 7.7l.9 2.5l-3.3 -7.1z"/>
<path color="#6c67ea" d="M570.9 604.4l3.2 9.5l.9 3.1l-3.2 -9z"/>
<path color="#6c6cef" d="M567.6 594.3l3.3 10.1l.9 3.6l-3.3 -9.6z"/>
<path color="#6c70f3" d="M564.4 586.4l3.2 7.9l.9 4.1l-3.2 -8z"/>
<path color="#6c75f6" d="M557.9 588.3l3.2 -4.4l3.3 2.5l.9 4l-3.2 -3.3l-3.3 3.2z"/>
<path color="#6c70f3" d="M554.7 597.8l3.2 -9.5l.9 2l-3.2 8.6z"/>
<path color="#6c6cef" d="M551.4 609.3l3.3 -11.5l.9 1.1l-3.3 10.9z"/>
<path color="#6b63e5" d="M548.2 620.4l3.2 -11.1l.9 .5l-3.2 10.9z"/>
<path color="#6a5fde" d="M544.9 629.8l3.3 -9.4l.9 .3l-3.3 9.4z"/>
<path color="#4332cb" d="M538.4 643.4l3.3 -6l3.2 -7.6l.9 .3l-3.2 7.7l-3.2 6z"/>
<path color="#422ec0" d="M535.2 648.1l3.2 -4.7l1 .4l-3.3 4.8z"/>
<path color="#402ab4" d="M522.2 658.9l6.5 -4.2l6.5 -6.6l.9 .5l-6.5 6.7l-6.5 4.3zM639.9 648.3l6.5 4.2l6.5 2.7l.9 1l-6.5 -2.5l-6.5 -3.8z"/>
<path color="#422ec0" d="M630.2 636.6l3.2 4.9l6.5 6.8l.9 1.6l-6.5 -6.2l-3.2 -4.5z"/>
<path color="#4332cb" d="M626.9 630.6l3.3 6l.9 2.6l-3.3 -5.6z"/>
<path color="#4537d5" d="M623.7 623.5l3.2 7.1l.9 3l-3.2 -6.6z"/>
<path color="#463cde" d="M620.4 616.1l3.3 7.4l.9 3.5l-3.3 -7.1z"/>
<path color="#4741e5" d="M613.9 606.6l3.3 3.2l3.2 6.3l.9 3.8l-3.2 -6.5l-3.2 -3.9z"/>
<path color="#6c67ea" d="M607.5 612.1l3.2 -4.6l3.2 -.9l1 2.9l-3.3 -.2l-3.2 3.7z"/>
<path color="#6b63e5" d="M601 624.4l6.5 -12.3l.9 .9l-6.5 11.7z"/>
<path color="#6a5fde" d="M597.7 629.1l3.3 -4.7l.9 .3l-3.3 4.9z"/>
<path color="#4537d5" d="M594.5 632.3l3.2 -3.2l.9 .5l-3.2 3.4z"/>
<path color="#4332cb" d="M584.8 632.5l3.2 1.5l3.2 0l3.3 -1.7l.9 .7l-3.2 1.9l-3.3 .3l-3.2 -1.2z"/>
<path color="#4537d5" d="M581.5 629.2l3.3 3.3l.9 1.5l-3.3 -2.8z"/>
<path color="#6a5fde" d="M578.3 624.1l3.2 5.1l.9 2l-3.2 -4.7z"/>
<path color="#6b63e5" d="M575 617l3.3 7.1l.9 2.4l-3.3 -6.6z"/>
<path color="#6c67ea" d="M571.8 608l3.2 9l.9 2.9l-3.2 -8.3z"/>
<path color="#6c6cef" d="M568.5 598.4l3.3 9.6l.9 3.6l-3.2 -9.3z"/>
<path color="#6c70f3" d="M565.3 590.4l3.2 8l1 3.9l-3.3 -8z"/>
<path color="#6c75f6" d="M558.8 590.3l3.3 -3.2l3.2 3.3l.9 3.9l-3.2 -4l-3.3 2.2z"/>
<path color="#6c70f3" d="M555.6 598.9l3.2 -8.6l.9 2.2l-3.2 7.6z"/>
<path color="#6c6cef" d="M552.3 609.8l3.3 -10.9l.9 1.2l-3.3 10.3z"/>
<path color="#6b63e5" d="M549.1 620.7l3.2 -10.9l.9 .6l-3.2 10.6z"/>
<path color="#6a5fde" d="M545.8 630.1l3.3 -9.4l.9 .3l-3.2 9.4z"/>
<path color="#4332cb" d="M539.4 643.8l3.2 -6l3.2 -7.7l1 .3l-3.3 7.7l-3.2 6.2z"/>
<path color="#422ec0" d="M536.1 648.6l3.3 -4.8l.9 .5l-3.3 4.9z"/>
<path color="#402ab4" d="M523.1 659.6l6.5 -4.3l6.5 -6.7l.9 .6l-6.5 6.8l-6.4 4.3zM637.6 647.2l6.4 4.8l6.5 3.1l.9 1.1l-6.4 -2.8l-6.5 -4.5z"/>
<path color="#422ec0" d="M631.1 639.2l3.2 4.5l3.3 3.5l.9 1.7l-6.5 -7.3z"/>
<path color="#4332cb" d="M627.8 633.6l3.3 5.6l.9 2.4l-3.3 -5.1z"/>
<path color="#4537d5" d="M621.3 619.9l6.5 13.7l.9 2.9l-6.4 -13z"/>
<path color="#463cde" d="M618.1 613.4l3.2 6.5l1 3.6l-3.3 -6.5z"/>
<path color="#4741e5" d="M614.9 609.5l3.2 3.9l.9 3.6l-3.2 -4.5z"/>
<path color="#6c67ea" d="M608.4 613l3.2 -3.7l3.3 .2l.9 3l-3.3 -1.1l-3.2 2.7z"/>
<path color="#6b63e5" d="M601.9 624.7l6.5 -11.7l.9 1.1l-6.5 11z"/>
<path color="#6a5fde" d="M598.6 629.6l3.3 -4.9l.9 .4l-3.2 5z"/>
<path color="#4537d5" d="M595.4 633l3.2 -3.4l1 .5l-3.3 3.6z"/>
<path color="#4332cb" d="M585.7 634l3.2 1.2l3.3 -.3l3.2 -1.9l.9 .7l-3.2 2.2l-3.3 .5l-3.2 -.9z"/>
<path color="#4537d5" d="M582.4 631.2l3.3 2.8l.9 1.5l-3.3 -2.5z"/>
<path color="#6a5fde" d="M579.2 626.5l3.2 4.7l.9 1.8l-3.2 -4.2z"/>
<path color="#6b63e5" d="M575.9 619.9l3.3 6.6l.9 2.3l-3.2 -6z"/>
<path color="#6c67ea" d="M572.7 611.6l3.2 8.3l1 2.9l-3.3 -7.8z"/>
<path color="#6c6cef" d="M569.5 602.3l3.2 9.3l.9 3.4l-3.2 -8.8z"/>
<path color="#6c70f3" d="M556.5 600.1l3.2 -7.6l3.3 -2.2l3.2 4l3.3 8l.9 3.9l-3.3 -8.1l-3.2 -4.4l-3.3 1.1l-3.2 6.6z"/>
<path color="#6c6cef" d="M553.2 610.4l3.3 -10.3l.9 1.3l-3.2 9.7z"/>
<path color="#6b63e5" d="M550 621l3.2 -10.6l1 .7l-3.3 10.3z"/>
<path color="#6a5fde" d="M546.8 630.4l3.2 -9.4l.9 .4l-3.2 9.4z"/>
<path color="#4332cb" d="M540.3 644.3l3.2 -6.2l3.3 -7.7l.9 .4l-3.3 7.8l-3.2 6.2z"/>
<path color="#422ec0" d="M533.8 653l3.2 -3.8l3.3 -4.9l.9 .5l-3.3 5l-3.2 3.8z"/>
<path color="#402ab4" d="M524.1 660.3l6.4 -4.3l3.3 -3l.9 .6l-3.2 3.1l-6.5 4.4zM638.5 648.9l6.5 4.5l6.4 2.8l1 1.1l-6.5 -2.6l-6.5 -4.1z"/>
<path color="#422ec0" d="M632 641.6l6.5 7.3l.9 1.7l-6.5 -6.6z"/>
<path color="#4332cb" d="M625.5 630.4l6.5 11.2l.9 2.4l-6.5 -10.5z"/>
<path color="#4537d5" d="M622.3 623.5l3.2 6.9l.9 3.1l-3.2 -6.4z"/>
<path color="#463cde" d="M619 617l3.3 6.5l.9 3.6l-3.3 -6.5z"/>
<path color="#4741e5" d="M612.5 611.4l3.3 1.1l3.2 4.5l.9 3.6l-3.2 -4.9l-3.3 -2z"/>
<path color="#6c67ea" d="M609.3 614.1l3.2 -2.7l.9 2.3l-3.2 1.8z"/>
<path color="#6b63e5" d="M602.8 625.1l6.5 -11l.9 1.4l-6.5 10.1z"/>
<path color="#6a5fde" d="M596.3 633.7l3.3 -3.6l3.2 -5l.9 .5l-3.2 5l-3.3 3.8z"/>
<path color="#4332cb" d="M583.3 633l3.3 2.5l3.2 .9l3.3 -.5l3.2 -2.2l.9 .7l-3.2 2.4l-3.3 .8l-3.2 -.6l-3.2 -2.1z"/>
<path color="#4537d5" d="M580.1 628.8l3.2 4.2l1 1.9l-3.3 -3.8z"/>
<path color="#6b63e5" d="M573.6 615l3.3 7.8l3.2 6l.9 2.3l-3.2 -5.6l-3.3 -7.2z"/>
<path color="#6c67ea" d="M570.4 606.2l3.2 8.8l.9 3.3l-3.2 -8.4z"/>
<path color="#6c6cef" d="M567.1 598.1l3.3 8.1l.9 3.7l-3.3 -7.9z"/>
<path color="#6c70f3" d="M557.4 601.4l3.2 -6.6l3.3 -1.1l3.2 4.4l.9 3.9l-3.2 -5l-3.2 .3l-3.3 5.6z"/>
<path color="#6c6cef" d="M554.2 611.1l3.2 -9.7l.9 1.5l-3.2 9.1z"/>
<path color="#6b63e5" d="M550.9 621.4l3.3 -10.3l.9 .9l-3.3 9.9z"/>
<path color="#6a5fde" d="M547.7 630.8l3.2 -9.4l.9 .5l-3.2 9.3z"/>
<path color="#695bd5" d="M544.4 638.6l3.3 -7.8l.9 .4l-3.3 7.8z"/>
<path color="#4332cb" d="M541.2 644.8l3.2 -6.2l.9 .4l-3.2 6.3z"/>
<path color="#422ec0" d="M534.7 653.6l3.2 -3.8l3.3 -5l.9 .5l-3.2 5.1l-3.3 3.9z"/>
<path color="#402ab4" d="M525 661.1l6.5 -4.4l3.2 -3.1l.9 .7l-3.2 3.1l-6.5 4.4zM636.1 647.7l6.5 5.2l9.8 4.4l.9 1.1l-9.8 -4.1l-6.4 -4.7z"/>
<path color="#422ec0" d="M629.7 639.3l6.4 8.4l1 1.9l-6.5 -7.7z"/>
<path color="#4332cb" d="M626.4 633.5l3.3 5.8l.9 2.6l-3.3 -5.3z"/>
<path color="#4537d5" d="M623.2 627.1l3.2 6.4l.9 3.1l-3.2 -6.1z"/>
<path color="#463cde" d="M616.7 615.7l3.2 4.9l3.3 6.5l.9 3.4l-6.5 -11.6z"/>
<path color="#4741e5" d="M613.4 613.7l3.3 2l.9 3.2l-3.2 -2.6z"/>
<path color="#6c67ea" d="M610.2 615.5l3.2 -1.8l1 2.6l-3.3 .8z"/>
<path color="#6b63e5" d="M600.5 630.6l9.7 -15.1l.9 1.6l-3.2 3.8l-6.5 10.3z"/>
<path color="#6a5fde" d="M597.2 634.4l3.3 -3.8l.9 .6l-3.3 3.9z"/>
<path color="#4332cb" d="M584.3 634.9l3.2 2.1l3.2 .6l3.3 -.8l3.2 -2.4l.9 .7l-3.2 2.6l-3.2 1.1l-3.3 -.4l-3.2 -1.8z"/>
<path color="#4537d5" d="M581 631.1l3.3 3.8l.9 1.7l-3.3 -3.4z"/>
<path color="#6a5fde" d="M577.8 625.5l3.2 5.6l.9 2.1l-3.2 -5.1z"/>
<path color="#6b63e5" d="M574.5 618.3l3.3 7.2l.9 2.6l-3.3 -6.7z"/>
<path color="#6c67ea" d="M571.3 609.9l3.2 8.4l.9 3.1l-3.2 -7.9z"/>
<path color="#6c6cef" d="M568 602l3.3 7.9l.9 3.6l-3.2 -7.8z"/>
<path color="#6c70f3" d="M561.6 597.3l3.2 -.3l3.2 5l1 3.7l-3.3 -5.2l-3.2 -.6z"/>
<path color="#6c6cef" d="M555.1 612l3.2 -9.1l3.3 -5.6l.9 2.6l-3.3 4.7l-3.2 8.3z"/>
<path color="#6b63e5" d="M551.8 621.9l3.3 -9.9l.9 .9l-3.3 9.6z"/>
<path color="#6a5fde" d="M548.6 631.2l3.2 -9.3l.9 .6l-3.2 9.1z"/>
<path color="#695bd5" d="M545.3 639l3.3 -7.8l.9 .4l-3.2 7.9z"/>
<path color="#4332cb" d="M542.1 645.3l3.2 -6.3l1 .5l-3.3 6.4z"/>
<path color="#422ec0" d="M535.6 654.3l3.3 -3.9l3.2 -5.1l.9 .6l-3.2 5.1l-3.3 4z"/>
<path color="#402ab4" d="M525.9 661.8l6.5 -4.4l3.2 -3.1l.9 .7l-3.2 3.1l-6.5 4.4zM637.1 649.6l6.4 4.7l6.5 3l.9 1.2l-6.4 -2.8l-6.5 -4.3z"/>
<path color="#422ec0" d="M630.6 641.9l6.5 7.7l.9 1.8l-6.5 -7z"/>
<path color="#4332cb" d="M624.1 630.5l6.5 11.4l.9 2.5l-6.5 -10.7z"/>
<path color="#4537d5" d="M620.8 624.2l3.3 6.3l.9 3.2l-3.2 -6.1z"/>
<path color="#463cde" d="M614.4 616.3l3.2 2.6l3.2 5.3l1 3.4l-3.3 -5.4l-3.2 -3.3z"/>
<path color="#6b63e5" d="M601.4 631.2l6.5 -10.3l3.2 -3.8l3.3 -.8l.9 2.6l-3.3 0l-3.2 3.1l-6.5 9.8z"/>
<path color="#6a5fde" d="M598.1 635.1l3.3 -3.9l.9 .6l-3.2 4.1z"/>
<path color="#4332cb" d="M585.2 636.6l3.2 1.8l3.3 .4l3.2 -1.1l3.2 -2.6l1 .8l-3.3 2.7l-3.2 1.3l-3.3 -.1l-3.2 -1.5z"/>
<path color="#4537d5" d="M581.9 633.2l3.3 3.4l.9 1.7l-3.3 -3z"/>
<path color="#6a5fde" d="M578.7 628.1l3.2 5.1l.9 2.1l-3.2 -4.6z"/>
<path color="#6b63e5" d="M575.4 621.4l3.3 6.7l.9 2.6l-3.2 -6.3z"/>
<path color="#6c67ea" d="M572.2 613.5l3.2 7.9l1 3l-3.3 -7.4z"/>
<path color="#6c6cef" d="M565.7 600.5l3.3 5.2l3.2 7.8l.9 3.5l-3.2 -7.6l-3.3 -5.5z"/>
<path color="#6c70f3" d="M562.5 599.9l3.2 .6l.9 3.4l-3.2 -1.3z"/>
<path color="#6c6cef" d="M556 612.9l3.2 -8.3l3.3 -4.7l.9 2.7l-3.2 3.8l-3.3 7.6z"/>
<path color="#6b63e5" d="M552.7 622.5l3.3 -9.6l.9 1.1l-3.2 9.2z"/>
<path color="#6a5fde" d="M549.5 631.6l3.2 -9.1l1 .7l-3.3 8.9z"/>
<path color="#695bd5" d="M546.3 639.5l3.2 -7.9l.9 .5l-3.2 7.8z"/>
<path color="#4332cb" d="M543 645.9l3.3 -6.4l.9 .4l-3.3 6.5z"/>
<path color="#422ec0" d="M536.5 655l3.3 -4l3.2 -5.1l.9 .5l-3.2 5.2l-3.2 4z"/>
<path color="#402ab4" d="M526.8 662.5l6.5 -4.4l3.2 -3.1l1 .6l-3.3 3.2l-6.5 4.5zM638 651.4l6.5 4.3l6.4 2.8l1 1.1l-6.5 -2.6l-6.5 -3.9z"/>
<path color="#422ec0" d="M631.5 644.4l6.5 7l.9 1.7l-6.5 -6.4z"/>
<path color="#4332cb" d="M625 633.7l6.5 10.7l.9 2.3l-6.5 -9.9z"/>
<path color="#4537d5" d="M621.8 627.6l3.2 6.1l.9 3.1l-3.2 -5.8z"/>
<path color="#463cde" d="M615.3 618.9l3.2 3.3l3.3 5.4l.9 3.4l-3.3 -5.5l-3.2 -3.7z"/>
<path color="#6b63e5" d="M602.3 631.8l6.5 -9.8l3.2 -3.1l3.3 0l.9 2.9l-3.2 -.9l-3.3 2.3l-6.5 9.2z"/>
<path color="#6a5fde" d="M599.1 635.9l3.2 -4.1l.9 .6l-3.2 4.2z"/>
<path color="#695bd5" d="M595.8 638.6l3.3 -2.7l.9 .7l-3.3 2.9z"/>
<path color="#4332cb" d="M582.8 635.3l3.3 3l3.2 1.5l3.3 .1l3.2 -1.3l.9 .9l-3.2 1.6l-3.2 .1l-3.3 -1.2l-3.2 -2.7z"/>
<path color="#6a5fde" d="M579.6 630.7l3.2 4.6l1 2l-3.3 -4.2z"/>
<path color="#6b63e5" d="M573.1 617l6.5 13.7l.9 2.4l-6.5 -12.8z"/>
<path color="#6c67ea" d="M569.9 609.4l3.2 7.6l.9 3.3l-3.2 -7.3z"/>
<path color="#6c6cef" d="M560.2 606.4l3.2 -3.8l3.2 1.3l3.3 5.5l.9 3.6l-3.2 -5.6l-3.3 -1.9l-3.2 2.9z"/>
<path color="#6c67ea" d="M556.9 614l3.3 -7.6l.9 2l-3.3 6.8z"/>
<path color="#6b63e5" d="M553.7 623.2l3.2 -9.2l.9 1.2l-3.2 8.7z"/>
<path color="#6a5fde" d="M550.4 632.1l3.3 -8.9l.9 .7l-3.3 8.7z"/>
<path color="#695bd5" d="M543.9 646.4l6.5 -14.3l.9 .5l-6.4 14.3z"/>
<path color="#422ec0" d="M537.5 655.6l3.2 -4l3.2 -5.2l1 .5l-3.3 5.3l-3.2 4.1z"/>
<path color="#402ab4" d="M527.7 663.3l6.5 -4.5l3.3 -3.2l.9 .7l-3.3 3.3l-6.5 4.4zM635.6 650.3l6.5 5l9.8 4.3l.9 1.1l-9.7 -3.9l-6.5 -4.5z"/>
<path color="#422ec0" d="M629.2 642.2l6.4 8.1l1 2l-6.5 -7.5z"/>
<path color="#4332cb" d="M625.9 636.8l3.3 5.4l.9 2.6l-3.3 -5z"/>
<path color="#4537d5" d="M619.4 625.5l6.5 11.3l.9 3l-6.4 -11z"/>
<path color="#463cde" d="M613 620.9l3.2 .9l3.2 3.7l1 3.3l-3.3 -4.1l-3.2 -1.6z"/>
<path color="#6b63e5" d="M603.2 632.4l6.5 -9.2l3.3 -2.3l.9 2.2l-3.3 1.5l-6.5 8.5z"/>
<path color="#6a5fde" d="M600 636.6l3.2 -4.2l.9 .7l-3.2 4.2z"/>
<path color="#695bd5" d="M596.7 639.5l3.3 -2.9l.9 .7l-3.2 3.2z"/>
<path color="#4332cb" d="M583.8 637.3l3.2 2.7l3.3 1.2l3.2 -.1l3.2 -1.6l1 1l-3.3 1.7l-3.2 .4l-3.3 -1l-3.2 -2.4z"/>
<path color="#6a5fde" d="M577.3 627.3l3.2 5.8l3.3 4.2l.9 1.9l-3.3 -3.8l-3.2 -5.3z"/>
<path color="#6b63e5" d="M574 620.3l3.3 7l.9 2.8l-3.2 -6.5z"/>
<path color="#6c67ea" d="M570.8 613l3.2 7.3l1 3.3l-3.3 -7z"/>
<path color="#6c6cef" d="M561.1 608.4l3.2 -2.9l3.3 1.9l3.2 5.6l.9 3.6l-3.2 -5.8l-3.3 -2.4l-3.2 2.1z"/>
<path color="#6c67ea" d="M557.8 615.2l3.3 -6.8l.9 2.1l-3.3 6.1z"/>
<path color="#6b63e5" d="M554.6 623.9l3.2 -8.7l.9 1.4l-3.2 8.1z"/>
<path color="#6a5fde" d="M548.1 640.4l6.5 -16.5l.9 .8l-6.5 16.3z"/>
<path color="#695bd5" d="M544.9 646.9l3.2 -6.5l.9 .6l-3.2 6.5z"/>
<path color="#422ec0" d="M538.4 656.3l3.2 -4.1l3.3 -5.3l.9 .6l-3.3 5.3l-3.2 4.2z"/>
<path color="#402ab4" d="M528.6 664l6.5 -4.4l3.3 -3.3l.9 .7l-3.3 3.3l-6.4 4.5zM636.6 652.3l6.5 4.5l6.4 2.8l1 1.2l-6.5 -2.6l-6.5 -4.1z"/>
<path color="#422ec0" d="M630.1 644.8l6.5 7.5l.9 1.8l-6.5 -6.8z"/>
<path color="#4332cb" d="M623.6 634.2l6.5 10.6l.9 2.5l-6.5 -9.9z"/>
<path color="#4537d5" d="M620.4 628.8l3.2 5.4l.9 3.2l-3.2 -5.4z"/>
<path color="#463cde" d="M613.9 623.1l3.2 1.6l3.3 4.1l.9 3.2l-3.3 -4.3l-3.2 -2.2z"/>
<path color="#6b63e5" d="M600.9 637.3l9.7 -12.7l3.3 -1.5l.9 2.4l-3.3 .7l-3.2 3.3l-6.5 8.6z"/>
<path color="#695bd5" d="M597.7 640.5l3.2 -3.2l.9 .8l-3.2 3.3z"/>
<path color="#4332cb" d="M584.7 639.2l3.2 2.4l3.3 1l3.2 -.4l3.3 -1.7l.9 .9l-3.3 1.9l-3.2 .6l-3.3 -.7l-3.2 -2.1z"/>
<path color="#6a5fde" d="M578.2 630.1l3.2 5.3l3.3 3.8l.9 1.9l-3.2 -3.4l-3.3 -4.9z"/>
<path color="#6b63e5" d="M575 623.6l3.2 6.5l.9 2.7l-3.2 -6.1z"/>
<path color="#6c67ea" d="M568.5 610.8l6.5 12.8l.9 3.1l-6.5 -12.4z"/>
<path color="#6c6cef" d="M562 610.5l3.2 -2.1l3.3 2.4l.9 3.5l-3.3 -2.9l-3.2 1.3z"/>
<path color="#6c67ea" d="M558.7 616.6l3.3 -6.1l.9 2.2l-3.2 5.3z"/>
<path color="#6b63e5" d="M555.5 624.7l3.2 -8.1l1 1.4l-3.3 7.7z"/>
<path color="#6a5fde" d="M549 641l6.5 -16.3l.9 1l-6.5 15.8z"/>
<path color="#695bd5" d="M545.8 647.5l3.2 -6.5l.9 .5l-3.2 6.6z"/>
<path color="#422ec0" d="M539.3 657l3.2 -4.2l3.3 -5.3l.9 .6l-3.3 5.4l-3.2 4.2z"/>
<path color="#402ab4" d="M529.6 664.8l6.4 -4.5l3.3 -3.3l.9 .7l-3.2 3.4l-6.5 4.5zM637.5 654.1l6.5 4.1l6.5 2.6l.9 1.2l-6.5 -2.5l-6.5 -3.6z"/>
<path color="#422ec0" d="M627.8 642.7l3.2 4.6l6.5 6.8l.9 1.8l-6.5 -6.2l-3.2 -4.3z"/>
<path color="#4332cb" d="M624.5 637.4l3.3 5.3l.9 2.7l-3.3 -5z"/>
<path color="#4537d5" d="M618 627.7l6.5 9.7l.9 3l-6.5 -9.7z"/>
<path color="#463cde" d="M614.8 625.5l3.2 2.2l.9 3l-3.2 -2.7z"/>
<path color="#6b63e5" d="M601.8 638.1l6.5 -8.6l3.2 -3.3l3.3 -.7l.9 2.5l-3.2 0l-3.3 2.7l-6.5 8.3z"/>
<path color="#6a5fde" d="M598.6 641.4l3.2 -3.3l.9 .9l-3.2 3.3z"/>
<path color="#4332cb" d="M582.4 637.7l3.2 3.4l3.2 2.1l3.3 .7l3.2 -.6l3.3 -1.9l.9 .9l-3.3 2.1l-3.2 .8l-3.2 -.5l-3.3 -1.8l-3.2 -3.1z"/>
<path color="#6a5fde" d="M579.1 632.8l3.3 4.9l.9 2.1l-3.3 -4.4z"/>
<path color="#6b63e5" d="M572.6 620l6.5 12.8l.9 2.6l-6.5 -12z"/>
<path color="#6c67ea" d="M569.4 614.3l3.2 5.7l.9 3.4l-3.2 -5.7z"/>
<path color="#6c6cef" d="M562.9 612.7l3.2 -1.3l3.3 2.9l.9 3.4l-3.2 -3.3l-3.3 .7z"/>
<path color="#6c67ea" d="M559.7 618l3.2 -5.3l.9 2.4l-3.2 4.5z"/>
<path color="#6b63e5" d="M556.4 625.7l3.3 -7.7l.9 1.6l-3.3 7.1z"/>
<path color="#6a5fde" d="M549.9 641.5l6.5 -15.8l.9 1l-6.5 15.4z"/>
<path color="#695bd5" d="M546.7 648.1l3.2 -6.6l.9 .6l-3.2 6.5z"/>
<path color="#6858cc" d="M543.4 653.5l3.3 -5.4l.9 .5l-3.2 5.5z"/>
<path color="#422ec0" d="M540.2 657.7l3.2 -4.2l1 .6l-3.3 4.3z"/>
<path color="#402ab4" d="M530.5 665.6l6.5 -4.5l3.2 -3.4l.9 .7l-3.2 3.4l-6.5 4.6zM635.2 653.2l6.4 4.7l9.8 4.1l.9 1.1l-9.7 -3.7l-6.5 -4.3z"/>
<path color="#422ec0" d="M628.7 645.4l6.5 7.8l.9 1.9l-6.5 -7.1z"/>
<path color="#4332cb" d="M622.2 635.2l6.5 10.2l.9 2.6l-6.5 -9.7z"/>
<path color="#4537d5" d="M615.7 628l3.2 2.7l3.3 4.5l.9 3.1l-3.2 -4.6l-3.3 -3.1z"/>
<path color="#6b63e5" d="M612.5 628l3.2 0l.9 2.6l-3.2 -.6z"/>
<path color="#6a5fde" d="M609.2 630.7l3.3 -2.7l.9 2l-3.3 2z"/>
<path color="#6b63e5" d="M602.7 639l6.5 -8.3l.9 1.3l-6.5 7.8z"/>
<path color="#6a5fde" d="M599.5 642.3l3.2 -3.3l.9 .8l-3.2 3.5z"/>
<path color="#4332cb" d="M583.3 639.8l3.2 3.1l3.3 1.8l3.2 .5l3.2 -.8l3.3 -2.1l.9 1l-3.2 2.2l-3.3 1l-3.2 -.3l-3.3 -1.5l-3.2 -2.8z"/>
<path color="#6a5fde" d="M576.8 629.7l3.2 5.7l3.3 4.4l.9 2.1l-3.3 -4.1l-3.2 -5.2z"/>
<path color="#6b63e5" d="M573.5 623.4l3.3 6.3l.9 2.9l-3.2 -6z"/>
<path color="#6c67ea" d="M560.6 619.6l3.2 -4.5l3.3 -.7l3.2 3.3l3.2 5.7l1 3.2l-3.3 -5.6l-3.2 -3.5l-3.3 0l-3.2 3.8z"/>
<path color="#6b63e5" d="M554.1 634.6l6.5 -15l.9 1.7l-6.5 14.1z"/>
<path color="#6a5fde" d="M550.8 642.1l3.3 -7.5l.9 .8l-3.2 7.3z"/>
<path color="#695bd5" d="M544.4 654.1l6.4 -12l1 .6l-6.5 12z"/>
<path color="#422ec0" d="M541.1 658.4l3.3 -4.3l.9 .6l-3.3 4.4z"/>
<path color="#402ab4" d="M531.4 666.4l6.5 -4.6l3.2 -3.4l.9 .7l-3.2 3.5l-6.5 4.6zM636.1 655.1l6.5 4.3l6.4 2.6l1 1.2l-6.5 -2.4l-6.5 -3.8z"/>
<path color="#422ec0" d="M629.6 648l6.5 7.1l.9 1.9l-6.5 -6.5z"/>
<path color="#4332cb" d="M623.1 638.3l6.5 9.7l.9 2.5l-6.5 -9.2z"/>
<path color="#4537d5" d="M613.4 630l3.2 .6l3.3 3.1l3.2 4.6l.9 3l-3.2 -4.6l-3.3 -3.4l-3.2 -1.2z"/>
<path color="#6a5fde" d="M610.1 632l3.3 -2l.9 2.1l-3.3 1.3z"/>
<path color="#6b63e5" d="M603.6 639.8l6.5 -7.8l.9 1.4l-6.4 7.3z"/>
<path color="#6a5fde" d="M600.4 643.3l3.2 -3.5l1 .9l-3.3 3.5z"/>
<path color="#4332cb" d="M584.2 641.9l3.2 2.8l3.3 1.5l3.2 .3l3.3 -1l3.2 -2.2l.9 .9l-3.2 2.4l-3.3 1.2l-3.2 -.1l-3.3 -1.3l-3.2 -2.5z"/>
<path color="#6a5fde" d="M577.7 632.6l3.2 5.2l3.3 4.1l.9 2l-3.2 -3.7l-3.3 -4.8z"/>
<path color="#6b63e5" d="M571.2 621l6.5 11.6l.9 2.8l-6.5 -11.1z"/>
<path color="#6c67ea" d="M561.5 621.3l3.2 -3.8l3.3 0l3.2 3.5l.9 3.3l-3.2 -3.7l-3.3 -.6l-3.2 3.2z"/>
<path color="#6b63e5" d="M555 635.4l6.5 -14.1l.9 1.9l-6.5 13z"/>
<path color="#6a5fde" d="M551.8 642.7l3.2 -7.3l.9 .8l-3.2 7.1z"/>
<path color="#695bd5" d="M545.3 654.7l6.5 -12l.9 .6l-6.5 12z"/>
<path color="#422ec0" d="M538.8 662.6l3.2 -3.5l3.3 -4.4l.9 .6l-3.3 4.5l-3.2 3.5z"/>
<path color="#402ab4" d="M532.3 667.2l6.5 -4.6l.9 .7l-6.5 4.7zM633.7 654.1l6.5 5l9.8 4.1l.9 1.2l-9.8 -3.8l-6.4 -4.4z"/>
<path color="#422ec0" d="M627.3 646.1l6.4 8l1 2.1l-6.5 -7.4z"/>
<path color="#4332cb" d="M620.8 636.7l6.5 9.4l.9 2.7l-6.5 -9.2z"/>
<path color="#4537d5" d="M614.3 632.1l3.2 1.2l3.3 3.4l.9 2.9l-3.3 -3.6l-3.2 -1.7z"/>
<path color="#6a5fde" d="M611 633.4l3.3 -1.3l.9 2.2l-3.2 .7z"/>
<path color="#6b63e5" d="M604.6 640.7l6.4 -7.3l1 1.6l-3.3 2.9l-3.2 3.7z"/>
<path color="#6a5fde" d="M601.3 644.2l3.3 -3.5l.9 .9l-3.3 3.6z"/>
<path color="#4332cb" d="M585.1 643.9l3.2 2.5l3.3 1.3l3.2 .1l3.3 -1.2l3.2 -2.4l.9 1l-3.2 2.6l-3.3 1.3l-3.2 .1l-3.2 -1.1l-3.3 -2.3z"/>
<path color="#695bd5" d="M581.9 640.2l3.2 3.7l.9 1.9l-3.2 -3.3z"/>
<path color="#6a5fde" d="M578.6 635.4l3.3 4.8l.9 2.3l-3.3 -4.5z"/>
<path color="#6b63e5" d="M572.1 624.3l6.5 11.1l.9 2.6l-6.4 -10.5z"/>
<path color="#6c67ea" d="M562.4 623.2l3.2 -3.2l3.3 .6l3.2 3.7l1 3.2l-3.3 -3.9l-3.2 -1l-3.3 2.5z"/>
<path color="#6b63e5" d="M555.9 636.2l6.5 -13l.9 1.9l-3.2 5.3l-3.3 6.7z"/>
<path color="#6a5fde" d="M549.4 649.8l6.5 -13.6l.9 .9l-6.4 13.3z"/>
<path color="#695bd5" d="M546.2 655.3l3.2 -5.5l1 .6l-3.3 5.5z"/>
<path color="#6858cc" d="M542.9 659.8l3.3 -4.5l.9 .6l-3.2 4.6z"/>
<path color="#422ec0" d="M539.7 663.3l3.2 -3.5l1 .7l-3.3 3.6z"/>
<path color="#402ab4" d="M533.2 668l6.5 -4.7l.9 .8l-6.5 4.8zM634.7 656.2l6.4 4.4l6.5 2.7l.9 1.2l-6.4 -2.4l-6.5 -4z"/>
<path color="#422ec0" d="M628.2 648.8l6.5 7.4l.9 1.9l-6.5 -6.7z"/>
<path color="#4332cb" d="M621.7 639.6l6.5 9.2l.9 2.6l-6.5 -8.9z"/>
<path color="#4537d5" d="M615.2 634.3l3.2 1.7l3.3 3.6l.9 2.9l-3.2 -3.8l-3.3 -2.1z"/>
<path color="#6a5fde" d="M608.7 637.9l3.3 -2.9l3.2 -.7l.9 2.3l-3.2 .1l-3.3 2.4z"/>
<path color="#6b63e5" d="M605.5 641.6l3.2 -3.7l.9 1.2l-3.2 3.5z"/>
<path color="#6a5fde" d="M602.2 645.2l3.3 -3.6l.9 1l-3.2 3.6z"/>
<path color="#4332cb" d="M595.7 649.1l3.3 -1.3l3.2 -2.6l1 1l-3.3 2.7l-3.2 1.5z"/>
<path color="#422ec0" d="M592.5 649.2l3.2 -.1l1 1.3l-3.3 .2z"/>
<path color="#4332cb" d="M586 645.8l3.3 2.3l3.2 1.1l.9 1.4l-3.2 -.9l-3.3 -2z"/>
<path color="#695bd5" d="M582.8 642.5l3.2 3.3l.9 1.9l-3.2 -3.1z"/>
<path color="#6a5fde" d="M576.3 632.8l6.5 9.7l.9 2.1l-6.5 -8.9z"/>
<path color="#6b63e5" d="M569.8 623.6l3.3 3.9l3.2 5.3l.9 2.9l-3.2 -5.1l-3.3 -3.9z"/>
<path color="#6c67ea" d="M563.3 625.1l3.3 -2.5l3.2 1l.9 3.1l-3.2 -1.4l-3.3 1.9z"/>
<path color="#6b63e5" d="M556.8 637.1l3.3 -6.7l3.2 -5.3l.9 2.1l-3.2 4.7l-3.2 6.2z"/>
<path color="#6a5fde" d="M550.4 650.4l6.4 -13.3l1 1l-6.5 12.9z"/>
<path color="#695bd5" d="M543.9 660.5l6.5 -10.1l.9 .6l-6.5 10.1z"/>
<path color="#422ec0" d="M540.6 664.1l3.3 -3.6l.9 .6l-3.3 3.7z"/>
<path color="#402ab4" d="M534.1 668.9l6.5 -4.8l.9 .7l-3.2 2.8l-3.2 2.1zM635.6 658.1l6.5 4l6.4 2.4l1 1.2l-6.5 -2.2l-6.5 -3.5z"/>
<path color="#422ec0" d="M625.8 647l6.5 8.1l3.3 3l.9 1.9l-3.2 -2.7l-6.5 -7.6z"/>
<path color="#4332cb" d="M619.4 638.7l6.4 8.3l1 2.7l-6.5 -8.2z"/>
<path color="#4537d5" d="M616.1 636.6l3.3 2.1l.9 2.8l-3.3 -2.5z"/>
<path color="#6a5fde" d="M609.6 639.1l3.3 -2.4l3.2 -.1l.9 2.4l-3.2 -.4l-3.2 1.8z"/>
<path color="#6b63e5" d="M606.4 642.6l3.2 -3.5l1 1.3l-3.3 3.3z"/>
<path color="#695bd5" d="M603.2 646.2l3.2 -3.6l.9 1.1l-3.2 3.5z"/>
<path color="#4332cb" d="M599.9 648.9l3.3 -2.7l.9 1l-3.3 2.8z"/>
<path color="#422ec0" d="M590.2 649.7l3.2 .9l3.3 -.2l3.2 -1.5l.9 1.1l-3.2 1.6l-3.3 .4l-3.2 -.7z"/>
<path color="#4332cb" d="M583.7 644.6l3.2 3.1l3.3 2l.9 1.6l-3.2 -1.8l-3.3 -2.8z"/>
<path color="#695bd5" d="M580.5 640.5l3.2 4.1l.9 2.1l-3.2 -3.8z"/>
<path color="#6a5fde" d="M577.2 635.7l3.3 4.8l.9 2.4l-3.3 -4.5z"/>
<path color="#6b63e5" d="M554.5 644.7l6.5 -12.8l3.2 -4.7l3.3 -1.9l3.2 1.4l3.3 3.9l3.2 5.1l.9 2.7l-6.5 -8.6l-3.2 -1.8l-3.2 1.3l-3.3 4.1l-6.5 12.1z"/>
<path color="#6a5fde" d="M551.3 651l3.2 -6.3l.9 .8l-3.2 6.1z"/>
<path color="#695bd5" d="M544.8 661.1l6.5 -10.1l.9 .6l-6.5 10.1z"/>
<path color="#422ec0" d="M538.3 667.6l3.2 -2.8l3.3 -3.7l.9 .6l-3.2 3.8l-3.3 2.9z"/>
<path color="#402ab4" d="M531.8 671.2l6.5 -3.6l.9 .8l-6.5 3.6zM633.3 657.3l6.4 4.7l9.8 3.7l.9 1.1l-9.7 -3.3l-6.5 -4.2z"/>
<path color="#422ec0" d="M626.8 649.7l6.5 7.6l.9 2l-6.5 -7z"/>
<path color="#4332cb" d="M620.3 641.5l6.5 8.2l.9 2.6l-6.5 -8.1z"/>
<path color="#4537d5" d="M613.8 638.6l3.2 .4l3.3 2.5l.9 2.7l-3.2 -2.8l-3.3 -.9z"/>
<path color="#6a5fde" d="M607.3 643.7l3.3 -3.3l3.2 -1.8l.9 1.9l-3.2 1.3l-3.3 3z"/>
<path color="#695bd5" d="M604.1 647.2l3.2 -3.5l.9 1.1l-3.2 3.4z"/>
<path color="#4332cb" d="M600.8 650l3.3 -2.8l.9 1l-3.3 2.9z"/>
<path color="#422ec0" d="M591.1 651.3l3.2 .7l3.3 -.4l3.2 -1.6l.9 1.1l-3.2 1.8l-3.2 .5l-3.3 -.6z"/>
<path color="#4332cb" d="M584.6 646.7l3.3 2.8l3.2 1.8l.9 1.5l-3.2 -1.6l-3.3 -2.6z"/>
<path color="#695bd5" d="M581.4 642.9l3.2 3.8l.9 1.9l-3.2 -3.4z"/>
<path color="#6a5fde" d="M574.9 633.7l6.5 9.2l.9 2.3l-6.5 -8.6z"/>
<path color="#6b63e5" d="M555.4 645.5l6.5 -12.1l3.3 -4.1l3.2 -1.3l3.2 1.8l3.3 3.9l.9 2.9l-3.2 -3.9l-3.3 -1.9l-3.2 .8l-3.3 3.5l-6.5 11.3z"/>
<path color="#6a5fde" d="M548.9 657l6.5 -11.5l.9 .9l-6.4 11.2z"/>
<path color="#695bd5" d="M545.7 661.7l3.2 -4.7l1 .6l-3.3 4.7z"/>
<path color="#6858cc" d="M542.5 665.5l3.2 -3.8l.9 .6l-3.2 3.8z"/>
<path color="#422ec0" d="M539.2 668.4l3.3 -2.9l.9 .6l-3.3 3.1z"/>
<path color="#402ab4" d="M532.7 672l6.5 -3.6l.9 .8l-3.2 2.2l-3.3 1.5zM634.2 659.3l6.5 4.2l6.4 2.3l1 1.2l-6.5 -2.1l-6.5 -3.6z"/>
<path color="#422ec0" d="M624.4 648.1l6.5 8.1l3.3 3.1l.9 2l-3.3 -2.9l-6.4 -7.6z"/>
<path color="#4332cb" d="M618 641.4l3.2 2.8l3.2 3.9l1 2.7l-3.3 -3.9l-3.2 -3.1z"/>
<path color="#4537d5" d="M614.7 640.5l3.3 .9l.9 2.4l-3.3 -1.3z"/>
<path color="#6a5fde" d="M611.5 641.8l3.2 -1.3l.9 2l-3.2 .8z"/>
<path color="#695bd5" d="M608.2 644.8l3.3 -3l.9 1.5l-3.3 2.6z"/>
<path color="#4332cb" d="M601.7 651.1l6.5 -6.3l.9 1.1l-6.4 6.3z"/>
<path color="#422ec0" d="M588.8 651.2l3.2 1.6l3.3 .6l3.2 -.5l3.2 -1.8l1 1.1l-3.3 1.9l-3.2 .7l-3.3 -.4l-3.2 -1.5z"/>
<path color="#4332cb" d="M585.5 648.6l3.3 2.6l.9 1.7l-3.3 -2.3z"/>
<path color="#695bd5" d="M582.3 645.2l3.2 3.4l.9 2l-3.2 -3.2z"/>
<path color="#6a5fde" d="M575.8 636.6l6.5 8.6l.9 2.2l-6.5 -8z"/>
<path color="#6b63e5" d="M556.3 646.4l6.5 -11.3l3.3 -3.5l3.2 -.8l3.3 1.9l3.2 3.9l.9 2.8l-3.2 -3.7l-3.3 -2.2l-3.2 .4l-3.3 3l-6.4 10.4z"/>
<path color="#6a5fde" d="M549.9 657.6l6.4 -11.2l1 .9l-6.5 10.9z"/>
<path color="#695bd5" d="M543.4 666.1l6.5 -8.5l.9 .6l-6.5 8.6z"/>
<path color="#422ec0" d="M540.1 669.2l3.3 -3.1l.9 .7l-3.3 3.1z"/>
<path color="#402ab4" d="M533.6 672.9l3.3 -1.5l3.2 -2.2l.9 .7l-3.2 2.3l-3.2 1.5zM631.8 658.4l6.5 5l9.8 3.6l.9 1.1l-9.8 -3.2l-6.4 -4.4z"/>
<path color="#422ec0" d="M625.4 650.8l6.4 7.6l1 2.1l-6.5 -7.1z"/>
<path color="#4332cb" d="M612.4 643.3l3.2 -.8l3.3 1.3l3.2 3.1l3.3 3.9l.9 2.6l-6.5 -7.1l-3.3 -1.7l-3.2 .3z"/>
<path color="#695bd5" d="M609.1 645.9l3.3 -2.6l.9 1.6l-3.2 2.2z"/>
<path color="#4332cb" d="M602.7 652.2l6.4 -6.3l1 1.2l-6.5 6.2z"/>
<path color="#422ec0" d="M589.7 652.9l3.2 1.5l3.3 .4l3.2 -.7l3.3 -1.9l.9 1.1l-3.3 2.1l-3.2 .8l-3.3 -.3l-3.2 -1.3z"/>
<path color="#4332cb" d="M586.4 650.6l3.3 2.3l.9 1.7l-3.2 -2.2z"/>
<path color="#695bd5" d="M580 643.6l6.4 7l1 1.8l-6.5 -6.5z"/>
<path color="#6a5fde" d="M573.5 635.7l6.5 7.9l.9 2.3l-6.5 -7.4z"/>
<path color="#6b63e5" d="M554 652.9l9.7 -16l3.3 -3l3.2 -.4l3.3 2.2l.9 2.8l-3.3 -2.2l-3.2 0l-3.2 2.5l-3.3 4.3l-6.5 10.5z"/>
<path color="#6a5fde" d="M550.8 658.2l3.2 -5.3l.9 .7l-3.2 5.1z"/>
<path color="#695bd5" d="M544.3 666.8l6.5 -8.6l.9 .5l-6.5 8.6z"/>
<path color="#422ec0" d="M537.8 672.2l3.2 -2.3l3.3 -3.1l.9 .5l-3.2 3.3l-3.3 2.4z"/>
<path color="#402ab4" d="M531.3 674.7l6.5 -2.5l.9 .8l-6.5 2.6zM632.8 660.5l6.4 4.4l6.5 2.3l.9 1.2l-6.4 -2l-6.5 -3.8z"/>
<path color="#422ec0" d="M626.3 653.4l6.5 7.1l.9 2.1l-6.5 -6.7z"/>
<path color="#4332cb" d="M603.6 653.3l6.5 -6.2l3.2 -2.2l3.2 -.3l3.3 1.7l6.5 7.1l.9 2.5l-6.5 -7.2l-3.2 -2l-3.3 -.1l-3.2 1.7l-6.5 6z"/>
<path color="#422ec0" d="M587.4 652.4l3.2 2.2l3.2 1.3l3.3 .3l3.2 -.8l3.3 -2.1l.9 1l-3.3 2.3l-3.2 1l-3.2 -.1l-3.3 -1.3l-3.2 -2z"/>
<path color="#695bd5" d="M580.9 645.9l6.5 6.5l.9 1.8l-6.5 -6z"/>
<path color="#6a5fde" d="M574.4 638.5l6.5 7.4l.9 2.3l-6.5 -7z"/>
<path color="#6b63e5" d="M554.9 653.6l6.5 -10.5l3.3 -4.3l3.2 -2.5l3.2 0l3.3 2.2l.9 2.7l-3.2 -2.2l-3.3 -.3l-3.2 2l-3.3 3.8l-6.5 9.9z"/>
<path color="#6a5fde" d="M551.7 658.7l3.2 -5.1l.9 .8l-3.2 4.9z"/>
<path color="#695bd5" d="M545.2 667.3l6.5 -8.6l.9 .6l-6.5 8.6z"/>
<path color="#6858cc" d="M542 670.6l3.2 -3.3l.9 .6l-3.2 3.3z"/>
<path color="#422ec0" d="M538.7 673l3.3 -2.4l.9 .6l-3.3 2.5z"/>
<path color="#402ab4" d="M532.2 675.6l6.5 -2.6l.9 .7l-3.2 1.7l-3.3 1zM630.4 659.6l6.5 5.2l3.3 1.6l6.4 2l1 1.1l-9.8 -3.1l-3.2 -1.9l-3.3 -2.7z"/>
<path color="#422ec0" d="M623.9 652.1l6.5 7.5l.9 2.2l-6.4 -7.2z"/>
<path color="#4332cb" d="M607.7 651.3l3.3 -3l3.2 -1.7l3.3 .1l3.2 2l3.2 3.4l1 2.5l-3.3 -3.4l-3.2 -2.3l-3.3 -.6l-3.2 1.3l-3.3 2.8z"/>
<path color="#422ec0" d="M588.3 654.2l3.2 2l3.3 1.3l3.2 .1l3.2 -1l3.3 -2.3l3.2 -3l.9 1.1l-6.4 5.4l-3.3 1.2l-3.2 0l-3.3 -1.2l-3.2 -1.9z"/>
<path color="#4332cb" d="M585 651.4l3.3 2.8l.9 1.7l-3.3 -2.6z"/>
<path color="#695bd5" d="M578.5 644.6l6.5 6.8l.9 1.9l-6.4 -6.3z"/>
<path color="#6a5fde" d="M572.1 639l3.2 2.2l3.2 3.4l1 2.4l-3.3 -3.1l-3.2 -2.3z"/>
<path color="#6b63e5" d="M555.8 654.4l6.5 -9.9l3.3 -3.8l3.2 -2l3.3 .3l.9 2.6l-3.3 -.5l-3.2 1.7l-3.2 3.3l-6.5 9.1z"/>
<path color="#6a5fde" d="M549.4 663.8l6.4 -9.4l1 .8l-6.5 9.1z"/>
<path color="#695bd5" d="M546.1 667.9l3.3 -4.1l.9 .5l-3.3 4.1z"/>
<path color="#6858cc" d="M542.9 671.2l3.2 -3.3l.9 .5l-3.2 3.4z"/>
<path color="#422ec0" d="M539.6 673.7l3.3 -2.5l.9 .6l-3.2 2.6z"/>
<path color="#402ab4" d="M533.1 676.4l3.3 -1l3.2 -1.7l1 .7l-3.3 1.8l-3.2 1.1zM631.3 661.8l3.3 2.7l3.2 1.9l9.8 3.1l.9 1.1l-9.8 -2.7l-3.2 -1.6l-3.2 -2.4z"/>
<path color="#422ec0" d="M624.9 654.6l6.4 7.2l1 2.1l-6.5 -6.8z"/>
<path color="#4332cb" d="M608.6 652.4l3.3 -2.8l3.2 -1.3l3.3 .6l3.2 2.3l3.3 3.4l.9 2.5l-3.3 -3.5l-3.2 -2.6l-3.3 -.9l-3.2 .9l-3.2 2.4z"/>
<path color="#422ec0" d="M589.2 655.9l3.2 1.9l3.3 1.2l3.2 0l3.3 -1.2l6.4 -5.4l1 1l-6.5 5.5l-3.3 1.4l-3.2 .2l-3.2 -1l-3.3 -1.9z"/>
<path color="#4332cb" d="M585.9 653.3l3.3 2.6l.9 1.7l-3.2 -2.5z"/>
<path color="#695bd5" d="M579.5 647l6.4 6.3l1 1.8l-6.5 -5.8z"/>
<path color="#6a5fde" d="M573 641.6l3.2 2.3l3.3 3.1l.9 2.3l-3.3 -2.9l-3.2 -2.2z"/>
<path color="#6b63e5" d="M556.8 655.2l6.5 -9.1l3.2 -3.3l3.2 -1.7l3.3 .5l.9 2.6l-3.2 -.6l-3.3 1.2l-3.2 3l-6.5 8.3z"/>
<path color="#6a5fde" d="M550.3 664.3l6.5 -9.1l.9 .9l-6.5 8.7z"/>
<path color="#695bd5" d="M543.8 671.8l6.5 -7.5l.9 .5l-6.5 7.5z"/>
<path color="#422ec0" d="M537.3 676.2l3.3 -1.8l3.2 -2.6l.9 .5l-3.2 2.8l-3.3 1.9z"/>
<path color="#402ab4" d="M534.1 677.3l3.2 -1.1l.9 .8l-3.2 1.2zM629 660.7l6.5 5.6l3.2 1.6l6.5 1.9l1 1.1l-6.5 -1.6l-3.3 -1.3l-3.2 -2.1l-3.3 -2.9z"/>
<path color="#422ec0" d="M622.5 653.6l6.5 7.1l.9 2.3l-6.4 -7z"/>
<path color="#4332cb" d="M609.6 653.4l3.2 -2.4l3.2 -.9l3.3 .9l3.2 2.6l1 2.4l-3.3 -2.8l-3.2 -1.3l-3.3 .5l-3.2 2.1z"/>
<path color="#422ec0" d="M586.9 655.1l6.5 4.4l3.2 1l3.2 -.2l3.3 -1.4l6.5 -5.5l.9 1.1l-6.5 5.6l-3.2 1.6l-3.3 .3l-3.2 -.9l-6.5 -4.2z"/>
<path color="#695bd5" d="M580.4 649.3l6.5 5.8l.9 1.8l-6.5 -5.5z"/>
<path color="#6a5fde" d="M573.9 644.2l3.2 2.2l3.3 2.9l.9 2.1l-6.5 -4.7z"/>
<path color="#6b63e5" d="M554.4 660.5l9.8 -12.7l3.2 -3l3.3 -1.2l3.2 .6l.9 2.5l-3.2 -.7l-3.3 1l-3.2 2.5l-9.7 11.7z"/>
<path color="#6a5fde" d="M551.2 664.8l3.2 -4.3l1 .7l-3.3 4z"/>
<path color="#695bd5" d="M544.7 672.3l6.5 -7.5l.9 .4l-6.5 7.5z"/>
<path color="#6858cc" d="M541.5 675.1l3.2 -2.8l.9 .4l-3.2 3z"/>
<path color="#422ec0" d="M538.2 677l3.3 -1.9l.9 .6l-3.3 2.1z"/>
<path color="#402ab4" d="M531.7 678.7l6.5 -1.7l.9 .8l-3.2 1.2l-3.2 .5zM629.9 663l3.3 2.9l3.2 2.1l3.3 1.3l6.5 1.6l.9 1l-9.8 -2.4l-3.2 -1.8l-3.2 -2.6z"/>
<path color="#422ec0" d="M623.5 656l6.4 7l1 2.1l-6.5 -6.7z"/>
<path color="#4332cb" d="M610.5 654.5l3.2 -2.1l3.3 -.5l3.2 1.3l3.3 2.8l.9 2.4l-3.3 -3l-3.2 -1.7l-3.3 .1l-3.2 1.8z"/>
<path color="#422ec0" d="M587.8 656.9l6.5 4.2l3.2 .9l3.3 -.3l3.2 -1.6l6.5 -5.6l.9 1.1l-6.5 5.6l-3.2 1.8l-3.3 .4l-3.2 -.7l-6.5 -4.1z"/>
<path color="#695bd5" d="M581.3 651.4l6.5 5.5l.9 1.7l-6.5 -5.2z"/>
<path color="#6a5fde" d="M574.8 646.7l6.5 4.7l.9 2l-6.5 -4.3z"/>
<path color="#6b63e5" d="M555.4 661.2l9.7 -11.7l3.2 -2.5l3.3 -1l3.2 .7l.9 2.4l-3.2 -.8l-3.3 .8l-3.2 2.3l-3.2 3.1l-6.5 7.4z"/>
<path color="#6a5fde" d="M548.9 669.2l6.5 -8l.9 .7l-6.5 7.6z"/>
<path color="#695bd5" d="M545.6 672.7l3.3 -3.5l.9 .3l-3.3 3.6z"/>
<path color="#6858cc" d="M542.4 675.7l3.2 -3l.9 .4l-3.2 3.1z"/>
<path color="#422ec0" d="M539.1 677.8l3.3 -2.1l.9 .5l-3.2 2.3z"/>
<path color="#402ab4" d="M532.7 679.5l3.2 -.5l3.2 -1.2l1 .7l-3.3 1.3l-3.2 .6zM630.9 665.1l3.2 2.6l3.2 1.8l6.5 1.8l.9 1.1l-6.4 -1.4l-3.3 -1.5l-3.2 -2.3z"/>
<path color="#422ec0" d="M621.1 655.4l9.8 9.7l.9 2.1l-9.8 -9.6z"/>
<path color="#4332cb" d="M611.4 655.6l3.2 -1.8l3.3 -.1l3.2 1.7l.9 2.2l-3.2 -2l-3.2 -.3l-3.3 1.4z"/>
<path color="#422ec0" d="M588.7 658.6l6.5 4.1l3.2 .7l3.3 -.4l3.2 -1.8l6.5 -5.6l.9 1.1l-6.5 5.5l-3.2 2l-3.3 .7l-3.2 -.6l-6.5 -4z"/>
<path color="#6858cc" d="M585.5 656l3.2 2.6l.9 1.7l-3.2 -2.5z"/>
<path color="#695bd5" d="M579 650.9l6.5 5.1l.9 1.8l-6.5 -4.8z"/>
<path color="#6a5fde" d="M575.7 649.1l3.3 1.8l.9 2.1l-3.3 -1.7z"/>
<path color="#6b63e5" d="M556.3 661.9l6.5 -7.4l3.2 -3.1l3.2 -2.3l3.3 -.8l3.2 .8l.9 2.2l-3.2 -.7l-3.2 .7l-3.3 1.9l-3.2 2.8l-6.5 6.7z"/>
<path color="#6a5fde" d="M549.8 669.5l6.5 -7.6l.9 .8l-6.5 7.2z"/>
<path color="#695bd5" d="M543.3 676.2l6.5 -6.7l.9 .4l-6.5 6.7z"/>
<path color="#422ec0" d="M536.8 679.8l3.3 -1.3l3.2 -2.3l.9 .4l-3.2 2.5l-3.3 1.5z"/>
<path color="#402ab4" d="M533.6 680.4l3.2 -.6l.9 .8l-3.2 .7zM628.5 664.1l6.5 5.4l3.3 1.5l6.4 1.4l1 1l-6.5 -1.1l-3.3 -1.1l-3.2 -2l-3.3 -2.9z"/>
<path color="#422ec0" d="M618.8 655.6l3.2 2l6.5 6.5l.9 2.2l-6.4 -6.6l-3.3 -2.2z"/>
<path color="#4332cb" d="M612.3 656.7l3.3 -1.4l3.2 .3l.9 1.9l-3.2 -.7l-3.3 1z"/>
<path color="#422ec0" d="M586.4 657.8l6.5 4.8l3.2 1.7l3.2 .6l3.3 -.7l3.2 -2l6.5 -5.5l.9 1.1l-9.7 7.6l-3.2 .9l-3.3 -.5l-3.2 -1.5l-6.5 -4.8z"/>
<path color="#695bd5" d="M579.9 653l6.5 4.8l.9 1.7l-6.5 -4.6z"/>
<path color="#6a5fde" d="M576.6 651.3l3.3 1.7l.9 1.9l-3.2 -1.5z"/>
<path color="#6b63e5" d="M557.2 662.7l6.5 -6.7l3.2 -2.8l3.3 -1.9l3.2 -.7l3.2 .7l1 2.1l-3.3 -.6l-3.2 .6l-3.3 1.7l-3.2 2.6l-6.5 5.8z"/>
<path color="#6a5fde" d="M550.7 669.9l6.5 -7.2l.9 .8l-6.5 6.7z"/>
<path color="#695bd5" d="M544.2 676.6l6.5 -6.7l.9 .3l-6.5 6.8z"/>
<path color="#422ec0" d="M537.7 680.6l3.3 -1.5l3.2 -2.5l.9 .4l-3.2 2.6l-3.3 1.8z"/>
<path color="#402ab4" d="M531.2 681.3l3.3 0l3.2 -.7l.9 .8l-3.2 .7l-3.2 .1zM629.4 666.3l3.3 2.9l3.2 2l6.5 1.7l.9 1.1l-6.5 -1.3l-3.2 -1.7l-3.2 -2.5z"/>
<path color="#422ec0" d="M587.3 659.5l6.5 4.8l3.2 1.5l3.3 .5l3.2 -.9l9.7 -7.6l3.3 -1l3.2 .7l3.3 2.2l6.4 6.6l1 2.2l-6.5 -6.6l-3.3 -2.5l-3.2 -1.1l-3.3 .7l-9.7 7.5l-3.2 1.2l-3.3 -.3l-3.2 -1.5l-6.5 -4.8z"/>
<path color="#695bd5" d="M580.8 654.9l6.5 4.6l.9 1.6l-6.5 -4.4z"/>
<path color="#6a5fde" d="M574.3 652.8l3.3 .6l3.2 1.5l.9 1.8l-3.2 -1.3l-3.3 -.5z"/>
<path color="#6b63e5" d="M554.9 666.7l6.4 -6.2l6.5 -5.4l3.3 -1.7l3.2 -.6l.9 2.1l-3.2 .6l-3.3 1.6l-12.9 10.2z"/>
<path color="#6a5fde" d="M551.6 670.2l3.3 -3.5l.9 .6l-3.3 3.2z"/>
<path color="#695bd5" d="M545.1 677l6.5 -6.8l.9 .3l-6.5 6.7z"/>
<path color="#6858cc" d="M541.9 679.6l3.2 -2.6l.9 .2l-3.2 2.8z"/>
<path color="#422ec0" d="M538.6 681.4l3.3 -1.8l.9 .4l-3.2 2z"/>
<path color="#402ab4" d="M532.2 682.2l3.2 -.1l3.2 -.7l1 .6l-3.3 1l-3.2 .1zM627.1 665.2l6.5 5.8l3.2 1.7l6.5 1.3l.9 .9l-6.4 -.8l-3.3 -1.3l-3.2 -2.3l-3.3 -3.1z"/>
<path color="#422ec0" d="M604.4 666.5l9.7 -7.5l3.3 -.7l3.2 1.1l6.5 5.8l.9 2.2l-6.5 -6.1l-3.2 -1.5l-3.2 .3l-3.3 2l-6.5 5.4z"/>
<path color="#402ab4" d="M597.9 667.4l3.3 .3l3.2 -1.2l.9 1l-3.2 1.5l-3.3 0z"/>
<path color="#422ec0" d="M588.2 661.1l6.5 4.8l3.2 1.5l.9 1.6l-3.2 -1.4l-6.5 -4.9z"/>
<path color="#695bd5" d="M581.7 656.7l6.5 4.4l.9 1.6l-6.5 -4.3z"/>
<path color="#6a5fde" d="M575.2 654.9l3.3 .5l3.2 1.3l.9 1.7l-3.2 -1.2l-3.3 -.4z"/>
<path color="#6b63e5" d="M555.8 667.3l12.9 -10.2l3.3 -1.6l3.2 -.6l.9 1.9l-3.2 .6l-3.2 1.6l-13 9z"/>
<path color="#6a5fde" d="M549.3 673.9l6.5 -6.6l.9 .7l-6.5 6z"/>
<path color="#695bd5" d="M542.8 680l6.5 -6.1l.9 .1l-6.5 6.4z"/>
<path color="#422ec0" d="M539.6 682l3.2 -2l.9 .4l-3.2 2.2z"/>
<path color="#402ab4" d="M533.1 683.1l3.2 -.1l3.3 -1l.9 .6l-3.3 1.2l-3.2 .1zM628 667.4l3.3 3.1l3.2 2.3l3.3 1.3l3.2 .6l.9 1l-3.2 -.3l-3.3 -1l-3.2 -2l-3.3 -2.8z"/>
<path color="#422ec0" d="M605.3 667.5l6.5 -5.4l3.3 -2l3.2 -.3l3.2 1.5l6.5 6.1l.9 2.2l-6.4 -6.3l-3.3 -1.9l-3.2 -.1l-3.3 1.6l-6.5 5.5z"/>
<path color="#402ab4" d="M595.6 667.6l3.2 1.4l3.3 0l3.2 -1.5l.9 .9l-3.2 1.8l-3.2 .3l-3.3 -1.2z"/>
<path color="#422ec0" d="M589.1 662.7l6.5 4.9l.9 1.7l-6.5 -4.9z"/>
<path color="#6858cc" d="M585.9 660.3l3.2 2.4l.9 1.7l-3.2 -2.5z"/>
<path color="#695bd5" d="M582.6 658.4l3.3 1.9l.9 1.6l-3.2 -1.9z"/>
<path color="#6a5fde" d="M576.1 656.8l3.3 .4l3.2 1.2l1 1.6l-3.3 -1.2l-3.2 -.2z"/>
<path color="#6b63e5" d="M556.7 668l13 -9l3.2 -1.6l3.2 -.6l1 1.8l-3.3 .7l-3.2 1.6l-13 7.9z"/>
<path color="#6a5fde" d="M550.2 674l6.5 -6l.9 .8l-6.5 5.4z"/>
<path color="#695bd5" d="M543.7 680.4l6.5 -6.4l.9 .2l-6.5 6.4z"/>
<path color="#422ec0" d="M540.5 682.6l3.2 -2.2l.9 .2l-3.2 2.5z"/>
<path color="#402ab4" d="M534 683.9l3.2 -.1l3.3 -1.2l.9 .5l-3.2 1.4l-3.3 .3zM625.7 666.3l6.5 6.1l3.2 2l3.3 1l.9 1.1l-3.2 -.6l-3.3 -1.6l-6.5 -5.9z"/>
<path color="#422ec0" d="M606.2 668.4l6.5 -5.5l3.3 -1.6l3.2 .1l3.3 1.9l3.2 3l.9 2.1l-3.2 -3.2l-3.3 -2.2l-3.2 -.5l-3.2 1.3l-6.5 5.5z"/>
<path color="#402ab4" d="M596.5 669.3l3.3 1.2l3.2 -.3l3.2 -1.8l1 .9l-3.3 2l-3.2 .6l-3.3 -1z"/>
<path color="#422ec0" d="M590 664.4l6.5 4.9l.9 1.6l-6.4 -4.9z"/>
<path color="#6858cc" d="M586.8 661.9l3.2 2.5l1 1.6l-3.3 -2.6z"/>
<path color="#695bd5" d="M580.3 658.8l3.3 1.2l3.2 1.9l.9 1.5l-3.2 -2l-3.3 -1.1z"/>
<path color="#6a5fde" d="M577.1 658.6l3.2 .2l.9 1.5l-3.2 -.1z"/>
<path color="#6b63e5" d="M554.4 671.2l3.2 -2.4l13 -7.9l3.2 -1.6l3.3 -.7l.9 1.6l-3.3 .9l-3.2 1.6l-16.2 8.9z"/>
<path color="#6a5fde" d="M551.1 674.2l3.3 -3l.9 .4l-3.3 2.7z"/>
<path color="#695bd5" d="M544.6 680.6l6.5 -6.4l.9 .1l-6.4 6.4z"/>
<path color="#422ec0" d="M541.4 683.1l3.2 -2.5l1 .1l-3.3 2.7z"/>
<path color="#402ab4" d="M534.9 684.8l3.3 -.3l3.2 -1.4l.9 .3l-3.2 1.8l-3.3 .5zM626.6 668.4l6.5 5.9l3.3 1.6l.9 1.3l-3.3 -1.2l-3.2 -2.3l-3.3 -3.2z"/>
<path color="#422ec0" d="M607.2 669.3l6.5 -5.5l3.2 -1.3l3.2 .5l3.3 2.2l3.2 3.2l.9 2.1l-6.4 -5.8l-3.3 -1l-3.2 .9l-6.5 5.4z"/>
<path color="#402ab4" d="M594.2 668.7l3.2 2.2l3.3 1l3.2 -.6l3.3 -2l.9 .7l-3.3 2.4l-3.2 .9l-3.2 -.7l-3.3 -2.1z"/>
<path color="#422ec0" d="M587.7 663.4l6.5 5.3l.9 1.8l-6.5 -5.6z"/>
<path color="#695bd5" d="M581.2 660.3l3.3 1.1l3.2 2l.9 1.5l-3.2 -2.1l-3.3 -1.1z"/>
<path color="#6a5fde" d="M578 660.2l3.2 .1l.9 1.4l-3.2 0z"/>
<path color="#6b63e5" d="M555.3 671.6l16.2 -8.9l3.2 -1.6l3.3 -.9l.9 1.5l-3.2 1l-9.8 5.3l-9.7 4.2z"/>
<path color="#6a5fde" d="M548.8 677.5l6.5 -5.9l.9 .6l-6.5 5.2z"/>
<path color="#695bd5" d="M545.6 680.7l3.2 -3.2l.9 -.1l-3.2 3.3z"/>
<path color="#422ec0" d="M542.3 683.4l3.3 -2.7l.9 0l-3.3 3z"/>
<path color="#402ab4" d="M532.6 685.3l3.2 .4l3.3 -.5l3.2 -1.8l.9 .3l-3.2 2l-3.3 .8l-3.2 -.3zM627.5 670.5l3.3 3.2l3.2 2.3l3.3 1.2l.9 1.2l-3.3 -.9l-3.2 -1.9l-3.2 -3z"/>
<path color="#422ec0" d="M608.1 670l6.5 -5.4l3.2 -.9l3.3 1l6.4 5.8l1 2.1l-6.5 -6.2l-3.3 -1.4l-3.2 .5l-3.3 2.1l-3.2 3z"/>
<path color="#402ab4" d="M595.1 670.5l3.3 2.1l3.2 .7l3.2 -.9l3.3 -2.4l.9 .6l-3.2 2.7l-3.3 1.3l-3.2 -.4l-3.3 -2z"/>
<path color="#422ec0" d="M588.6 664.9l6.5 5.6l.9 1.7l-6.5 -5.7z"/>
<path color="#695bd5" d="M582.1 661.7l3.3 1.1l3.2 2.1l.9 1.6l-3.2 -2.3l-3.2 -1.2z"/>
<path color="#6a5fde" d="M575.7 662.7l3.2 -1l3.2 0l1 1.3l-3.3 .1l-3.2 1.1z"/>
<path color="#6b63e5" d="M556.2 672.2l9.7 -4.2l9.8 -5.3l.9 1.5l-9.8 5.5l-9.7 3.1z"/>
<path color="#6a5fde" d="M549.7 677.4l6.5 -5.2l.9 .6l-3.2 1.9l-3.3 2.7z"/>
<path color="#695bd5" d="M546.5 680.7l3.2 -3.3l.9 0l-3.2 3.2z"/>
<path color="#6858cc" d="M543.2 683.7l3.3 -3l.9 -.1l-3.3 3.2z"/>
<path color="#402ab4" d="M533.5 686.2l3.2 .3l3.3 -.8l3.2 -2l.9 .1l-3.2 2.4l-3.2 1.1l-3.3 -.1zM625.2 669.3l6.5 6.3l3.2 1.9l1 1.5l-3.3 -1.6l-6.5 -6.1z"/>
<path color="#422ec0" d="M609 670.6l3.2 -3l3.3 -2.1l3.2 -.5l3.3 1.4l3.2 2.9l.9 2l-3.2 -3.1l-3.3 -1.8l-3.2 -.1l-3.2 1.9l-3.3 3z"/>
<path color="#402ab4" d="M596 672.2l3.3 2l3.2 .4l3.3 -1.3l3.2 -2.7l.9 .6l-3.2 2.9l-3.3 1.7l-3.2 -.1l-3.3 -1.8z"/>
<path color="#422ec0" d="M589.5 666.5l6.5 5.7l.9 1.7l-6.4 -5.9z"/>
<path color="#695bd5" d="M583.1 663l3.2 1.2l3.2 2.3l1 1.5l-3.3 -2.4l-3.2 -1.3z"/>
<path color="#6a5fde" d="M576.6 664.2l3.2 -1.1l3.3 -.1l.9 1.3l-3.3 0l-3.2 1.2z"/>
<path color="#6b63e5" d="M557.1 672.8l9.7 -3.1l9.8 -5.5l.9 1.3l-9.7 5.8l-9.8 2.3z"/>
<path color="#6a5fde" d="M550.6 677.4l3.3 -2.7l3.2 -1.9l.9 .8l-3.2 1.3l-3.3 2.4z"/>
<path color="#695bd5" d="M544.1 683.8l6.5 -6.4l.9 -.1l-6.4 6.5z"/>
<path color="#402ab4" d="M534.4 687.2l3.3 .1l3.2 -1.1l3.2 -2.4l1 0l-3.3 2.7l-3.2 1.5l-3.3 .1zM626.1 671.3l6.5 6.1l3.3 1.6l.9 1.3l-3.3 -1.2l-3.2 -2.4l-3.3 -3.3z"/>
<path color="#422ec0" d="M609.9 671.2l3.3 -3l3.2 -1.9l3.2 .1l3.3 1.8l3.2 3.1l.9 2.1l-3.2 -3.3l-3.2 -2.3l-3.3 -.5l-3.2 1.4l-3.3 2.9z"/>
<path color="#402ab4" d="M596.9 673.9l3.3 1.8l3.2 .1l3.3 -1.7l3.2 -2.9l.9 .4l-3.2 3.1l-3.3 2.1l-3.2 .4l-3.2 -1.5z"/>
<path color="#422ec0" d="M590.5 668l6.4 5.9l1 1.8l-6.5 -6z"/>
<path color="#6858cc" d="M587.2 665.6l3.3 2.4l.9 1.7l-3.3 -2.7z"/>
<path color="#695bd5" d="M584 664.3l3.2 1.3l.9 1.4l-3.2 -1.6z"/>
<path color="#6a5fde" d="M577.5 665.5l3.2 -1.2l3.3 0l.9 1.1l-3.3 -.1l-3.2 1.3z"/>
<path color="#6b63e5" d="M554.8 674.9l3.2 -1.3l9.8 -2.3l9.7 -5.8l.9 1.1l-9.7 6.3l-3.3 1l-6.5 .6l-3.2 .8z"/>
<path color="#6a5fde" d="M551.5 677.3l3.3 -2.4l.9 .4l-3.2 2z"/>
<path color="#695bd5" d="M545.1 683.8l6.4 -6.5l1 0l-6.5 6.3z"/>
<path color="#422ec0" d="M541.8 686.5l3.3 -2.7l.9 -.2l-3.3 3z"/>
<path color="#402ab4" d="M538.6 688l3.2 -1.5l.9 .1l-3.2 1.9zM623.8 670.1l6.5 6.6l3.2 2.4l.9 1.5l-3.2 -2l-6.5 -6.6z"/>
<path color="#422ec0" d="M610.8 671.6l3.3 -2.9l3.2 -1.4l3.3 .5l3.2 2.3l.9 1.9l-3.2 -2.7l-3.3 -1.1l-3.2 1.1l-3.3 2.6z"/>
<path color="#402ab4" d="M594.6 672.9l3.3 2.8l3.2 1.5l3.2 -.4l3.3 -2.1l3.2 -3.1l.9 .3l-6.4 5.8l-3.3 .8l-3.2 -1.1l-3.3 -2.7z"/>
<path color="#422ec0" d="M591.4 669.7l3.2 3.2l.9 1.8l-3.2 -3.3z"/>
<path color="#6858cc" d="M588.1 667l3.3 2.7l.9 1.7l-3.3 -3z"/>
<path color="#695bd5" d="M581.6 665.3l3.3 .1l3.2 1.6l.9 1.4l-3.2 -1.8l-3.2 -.3z"/>
<path color="#6a5fde" d="M578.4 666.6l3.2 -1.3l1 1l-3.3 1.3z"/>
<path color="#6b63e5" d="M555.7 675.3l3.2 -.8l6.5 -.6l3.3 -1l9.7 -6.3l.9 1l-9.7 6.9l-3.3 1l-9.7 .3z"/>
<path color="#6a5fde" d="M549.2 680.2l3.3 -2.9l3.2 -2l.9 .5l-3.2 1.5l-3.3 2.7z"/>
<path color="#695bd5" d="M546 683.6l3.2 -3.4l.9 -.2l-3.2 3.4z"/>
<path color="#422ec0" d="M542.7 686.6l3.3 -3l.9 -.2l-3.2 3.3z"/>
<path color="#402ab4" d="M539.5 688.5l3.2 -1.9l1 .1l-3.3 2.3zM624.7 672l6.5 6.6l3.2 2l1 1.5l-3.3 -1.7l-6.5 -6.5z"/>
<path color="#422ec0" d="M611.7 671.9l3.3 -2.6l3.2 -1.1l3.3 1.1l3.2 2.7l.9 1.9l-3.2 -3.1l-3.3 -1.5l-3.2 .5l-3.2 2.4z"/>
<path color="#402ab4" d="M595.5 674.7l3.3 2.7l3.2 1.1l3.3 -.8l6.4 -5.8l1 .3l-6.5 6.2l-3.3 1.3l-3.2 -.7l-3.2 -2.5z"/>
<path color="#422ec0" d="M589 668.4l6.5 6.3l1 1.8l-6.5 -6.6z"/>
<path color="#695bd5" d="M582.6 666.3l3.2 .3l3.2 1.8l1 1.5l-3.3 -2.2l-3.2 -.5z"/>
<path color="#6a5fde" d="M579.3 667.6l3.3 -1.3l.9 .9l-3.3 1.2z"/>
<path color="#6b63e5" d="M556.6 675.8l9.7 -.3l3.3 -1l9.7 -6.9l.9 .8l-9.7 7.6l-3.2 1.2l-9.8 -.7z"/>
<path color="#6a5fde" d="M550.1 680l3.3 -2.7l3.2 -1.5l.9 .7l-3.2 .9l-3.2 2.3z"/>
<path color="#695bd5" d="M546.9 683.4l3.2 -3.4l1 -.3l-3.3 3.3z"/>
<path color="#422ec0" d="M543.7 686.7l3.2 -3.3l.9 -.4l-3.2 3.5z"/>
<path color="#402ab4" d="M540.4 689l3.3 -2.3l.9 -.2l-3.3 2.7zM521 685.5l3.2 -.2l.9 .4l-3.2 -.1zM625.6 673.9l6.5 6.5l.9 1.7l-3.2 -2.7l-3.2 -3.5z"/>
<path color="#422ec0" d="M612.7 672.2l3.2 -2.4l3.2 -.5l3.3 1.5l3.2 3.1l1 2l-3.3 -3.4l-3.2 -2.1l-3.3 0l-3.2 2.1z"/>
<path color="#402ab4" d="M596.5 676.5l3.2 2.5l3.2 .7l3.3 -1.3l6.5 -6.2l.9 .3l-6.5 6.5l-3.2 1.8l-3.3 -.2l-3.2 -2.2z"/>
<path color="#422ec0" d="M590 669.9l6.5 6.6l.9 1.9l-6.5 -7z"/>
<path color="#695bd5" d="M583.5 667.2l3.2 .5l3.3 2.2l.9 1.5l-3.3 -2.5l-3.2 -.8z"/>
<path color="#6a5fde" d="M577 670.8l3.2 -2.4l3.3 -1.2l.9 .9l-3.2 1l-3.3 2.5z"/>
<path color="#6b63e5" d="M554.3 677.4l3.2 -.9l9.8 .7l3.2 -1.2l6.5 -5.2l.9 .8l-6.5 5.7l-3.2 1.4l-3.3 .1l-6.4 -1.5l-3.3 .3z"/>
<path color="#6a5fde" d="M551.1 679.7l3.2 -2.3l.9 .2l-3.2 1.8z"/>
<path color="#695bd5" d="M547.8 683l3.3 -3.3l.9 -.3l-3.3 3.2z"/>
<path color="#422ec0" d="M544.6 686.5l3.2 -3.5l.9 -.4l-3.2 3.6z"/>
<path color="#402ab4" d="M541.3 689.2l3.3 -2.7l.9 -.3l-3.3 3.1zM518.6 686.5l3.3 -.9l3.2 .1l.9 .6l-3.2 -.5l-3.3 .6zM623.3 672.5l6.5 6.9l3.2 2.7l1 1.5l-3.3 -2.3l-6.5 -7z"/>
<path color="#422ec0" d="M613.6 672.5l3.2 -2.1l3.3 0l3.2 2.1l.9 1.8l-3.2 -2.6l-3.3 -.6l-3.2 1.6z"/>
<path color="#402ab4" d="M597.4 678.4l3.2 2.2l3.3 .2l3.2 -1.8l6.5 -6.5l.9 .2l-6.5 6.6l-3.2 2.4l-3.3 .3l-3.2 -1.8z"/>
<path color="#422ec0" d="M590.9 671.4l6.5 7l.9 1.8l-6.5 -7.1z"/>
<path color="#6858cc" d="M587.6 668.9l3.3 2.5l.9 1.7l-3.2 -3z"/>
<path color="#695bd5" d="M584.4 668.1l3.2 .8l1 1.2l-3.3 -1.2z"/>
<path color="#6a5fde" d="M577.9 671.6l3.3 -2.5l3.2 -1l.9 .8l-3.2 .8l-3.3 2.5z"/>
<path color="#6b63e5" d="M555.2 677.6l3.3 -.3l6.4 1.5l3.3 -.1l3.2 -1.4l6.5 -5.7l.9 .6l-6.5 6.3l-3.2 1.7l-3.2 .2l-6.5 -2.2l-3.3 -.2z"/>
<path color="#6a5fde" d="M548.7 682.6l3.3 -3.2l3.2 -1.8l.9 .4l-3.2 1.2l-3.3 2.9z"/>
<path color="#422ec0" d="M545.5 686.2l3.2 -3.6l.9 -.5l-3.2 3.7z"/>
<path color="#402ab4" d="M542.2 689.3l3.3 -3.1l.9 -.4l-3.2 3.5zM516.3 687.8l3.2 -1.4l3.3 -.6l3.2 .5l.9 .7l-3.2 -1l-3.2 .3l-3.3 1.3zM624.2 674.3l6.5 7l3.3 2.3l.9 1.4l-3.3 -1.9l-6.5 -7z"/>
<path color="#422ec0" d="M611.3 675.9l3.2 -3.2l3.2 -1.6l3.3 .6l3.2 2.6l.9 1.8l-3.2 -3l-3.2 -1.2l-3.3 1l-3.2 3z"/>
<path color="#402ab4" d="M598.3 680.2l3.2 1.8l3.3 -.3l3.2 -2.4l3.3 -3.4l.9 0l-6.5 6.5l-3.3 .9l-3.2 -1.3z"/>
<path color="#422ec0" d="M591.8 673.1l6.5 7.1l.9 1.8l-6.5 -7.2z"/>
<path color="#6858cc" d="M588.6 670.1l3.2 3l.9 1.7l-3.2 -3.3z"/>
<path color="#695bd5" d="M582.1 669.7l3.2 -.8l3.3 1.2l.9 1.4l-3.3 -1.7l-3.2 .5z"/>
<path color="#6a5fde" d="M578.8 672.2l3.3 -2.5l.9 .6l-3.3 2.3z"/>
<path color="#6b63e5" d="M556.1 678l3.3 .2l6.5 2.2l3.2 -.2l3.2 -1.7l6.5 -6.3l.9 .4l-6.4 6.8l-3.3 2.2l-3.2 .4l-9.8 -3.5z"/>
<path color="#6a5fde" d="M549.6 682.1l3.3 -2.9l3.2 -1.2l.9 .5l-3.2 .7l-3.2 2.4z"/>
<path color="#6858cc" d="M546.4 685.8l3.2 -3.7l1 -.5l-3.3 3.6z"/>
<path color="#402ab4" d="M543.2 689.3l3.2 -3.5l.9 -.6l-3.2 3.8zM517.2 687.6l3.3 -1.3l3.2 -.3l3.2 1l1 .8l-3.3 -1.4l-3.2 0l-3.3 1.1zM625.1 676.1l6.5 7l.9 1.7l-6.4 -6.8z"/>
<path color="#422ec0" d="M612.2 675.9l3.2 -3l3.3 -1l3.2 1.2l3.2 3l1 1.9l-3.3 -3.4l-3.2 -1.9l-3.3 .5l-3.2 2.7z"/>
<path color="#402ab4" d="M596 678.8l3.2 3.2l3.2 1.3l3.3 -.9l6.5 -6.5l.9 0l-6.5 7l-3.2 1.5l-3.3 -.8l-3.2 -2.9z"/>
<path color="#422ec0" d="M592.7 674.8l3.3 4l.9 1.9l-3.3 -4z"/>
<path color="#6858cc" d="M589.5 671.5l3.2 3.3l.9 1.9l-3.2 -3.7z"/>
<path color="#695bd5" d="M583 670.3l3.2 -.5l3.3 1.7l.9 1.5l-3.3 -2.2l-3.2 0z"/>
<path color="#6a5fde" d="M579.7 672.6l3.3 -2.3l.9 .5l-3.2 2.2z"/>
<path color="#6b63e5" d="M570 681.6l3.3 -2.2l6.4 -6.8l1 .4l-6.5 7.2l-3.3 2.6z"/>
<path color="#6a5fde" d="M563.5 680.9l3.3 1.1l3.2 -.4l.9 1.2l-3.2 .7l-3.3 -1z"/>
<path color="#6b63e5" d="M557 678.5l3.3 .9l3.2 1.5l.9 1.6l-6.4 -3.3z"/>
<path color="#6a5fde" d="M550.6 681.6l3.2 -2.4l3.2 -.7l1 .7l-3.3 0l-3.2 1.9z"/>
<path color="#695bd5" d="M547.3 685.2l3.3 -3.6l.9 -.5l-3.3 3.5z"/>
<path color="#402ab4" d="M544.1 689l3.2 -3.8l.9 -.6l-3.2 4zM514.9 689.2l6.5 -2.8l3.2 0l3.3 1.4l.9 .9l-3.3 -1.8l-3.2 -.5l-3.3 .9l-3.2 1.7zM622.8 674.6l6.5 7.3l3.2 2.9l1 1.6l-3.3 -2.6l-6.5 -7.6z"/>
<path color="#422ec0" d="M613.1 675.9l3.2 -2.7l3.3 -.5l3.2 1.9l.9 1.6l-3.2 -2.4l-3.3 -.2l-3.2 2.2z"/>
<path color="#402ab4" d="M596.9 680.7l3.2 2.9l3.3 .8l3.2 -1.5l6.5 -7l.9 -.1l-6.5 7.4l-3.2 2.2l-3.3 -.2l-3.2 -2.6z"/>
<path color="#422ec0" d="M590.4 673l6.5 7.7l.9 1.9l-6.5 -8z"/>
<path color="#695bd5" d="M583.9 670.8l3.2 0l3.3 2.2l.9 1.6l-3.2 -2.8l-3.3 -.5z"/>
<path color="#6a5fde" d="M577.4 676.5l3.3 -3.5l3.2 -2.2l.9 .5l-3.2 1.9l-3.3 3.6z"/>
<path color="#6b63e5" d="M570.9 682.8l3.3 -2.6l3.2 -3.7l.9 .3l-3.2 4l-3.3 3.1z"/>
<path color="#6a5fde" d="M561.2 680.7l3.2 1.8l3.3 1l3.2 -.7l.9 1.1l-3.2 1.1l-3.2 -.8l-3.3 -2.1z"/>
<path color="#6b63e5" d="M554.7 679.2l3.3 0l3.2 1.5l.9 1.4l-3.2 -2l-3.3 -.6z"/>
<path color="#6a5fde" d="M551.5 681.1l3.2 -1.9l.9 .3l-3.2 1.3z"/>
<path color="#695bd5" d="M548.2 684.6l3.3 -3.5l.9 -.3l-3.3 3.1z"/>
<path color="#422ec0" d="M545 688.6l3.2 -4l.9 -.7l-3.2 4.1z"/>
<path color="#402ab4" d="M515.8 689l3.2 -1.7l3.3 -.9l3.2 .5l3.3 1.8l.9 1l-3.3 -2.1l-3.2 -1l-3.2 .6l-3.3 1.6zM623.7 676.2l6.5 7.6l.9 1.8l-6.5 -7.6z"/>
<path color="#422ec0" d="M614 675.8l3.2 -2.2l3.3 .2l3.2 2.4l.9 1.8l-3.2 -3l-3.2 -.9l-3.3 1.7z"/>
<path color="#402ab4" d="M597.8 682.6l3.2 2.6l3.3 .2l3.2 -2.2l6.5 -7.4l.9 0l-6.5 7.5l-3.2 2.8l-3.3 .4l-3.2 -2z"/>
<path color="#422ec0" d="M591.3 674.6l6.5 8l.9 1.9l-6.5 -8.2z"/>
<path color="#695bd5" d="M584.8 671.3l3.3 .5l3.2 2.8l.9 1.7l-3.2 -3.3l-3.3 -1z"/>
<path color="#6a5fde" d="M578.3 676.8l3.3 -3.6l3.2 -1.9l.9 .7l-3.2 1.4l-3.3 3.5z"/>
<path color="#6b63e5" d="M575.1 680.8l3.2 -4l.9 .1l-3.2 4.2z"/>
<path color="#6a5fde" d="M571.8 683.9l3.3 -3.1l.9 .3l-3.2 3.6z"/>
<path color="#695bd5" d="M565.4 684.2l3.2 .8l3.2 -1.1l1 .8l-3.3 1.7l-3.2 -.5z"/>
<path color="#6a5fde" d="M562.1 682.1l3.3 2.1l.9 1.7l-3.3 -2.2z"/>
<path color="#6b63e5" d="M555.6 679.5l3.3 .6l3.2 2l.9 1.6l-3.2 -2.4l-3.3 -1.4z"/>
<path color="#6a5fde" d="M552.4 680.8l3.2 -1.3l.9 .4l-3.2 .6z"/>
<path color="#695bd5" d="M549.1 683.9l3.3 -3.1l.9 -.3l-3.2 2.8z"/>
<path color="#422ec0" d="M545.9 688l3.2 -4.1l1 -.6l-3.3 4z"/>
<path color="#402ab4" d="M542.7 691.7l3.2 -3.7l.9 -.7l-3.2 4.1zM513.5 690.6l6.5 -3.4l3.2 -.6l3.2 1l3.3 2.1l.9 1.2l-3.2 -2.5l-3.3 -1.4l-3.2 .1l-6.5 3.4zM624.6 678l6.5 7.6l.9 1.8l-6.4 -7.6z"/>
<path color="#422ec0" d="M611.7 679.3l3.2 -3.5l3.3 -1.7l3.2 .9l3.2 3l1 1.8l-3.3 -3.5l-3.2 -1.6l-3.3 1.1l-3.2 3.2z"/>
<path color="#402ab4" d="M595.5 680.6l3.2 3.9l3.2 2l3.3 -.4l3.2 -2.8l3.3 -4l.9 -.3l-6.5 7.5l-3.2 1.2l-3.3 -1.4l-3.2 -3.6z"/>
<path color="#422ec0" d="M592.2 676.3l3.3 4.3l.9 2.1l-3.3 -4.5z"/>
<path color="#6858cc" d="M589 673l3.2 3.3l.9 1.9l-3.2 -3.8z"/>
<path color="#695bd5" d="M582.5 673.4l3.2 -1.4l3.3 1l.9 1.4l-3.2 -1.7l-3.3 .9z"/>
<path color="#6a5fde" d="M579.2 676.9l3.3 -3.5l.9 .2l-3.2 3.3z"/>
<path color="#6b63e5" d="M576 681.1l3.2 -4.2l1 0l-3.3 4.4z"/>
<path color="#6a5fde" d="M572.8 684.7l3.2 -3.6l.9 .2l-3.2 4z"/>
<path color="#695bd5" d="M569.5 686.4l3.3 -1.7l.9 .6l-3.3 2.3z"/>
<path color="#6858cc" d="M566.3 685.9l3.2 .5l.9 1.2l-3.2 -.1z"/>
<path color="#695bd5" d="M563 683.7l3.3 2.2l.9 1.6l-3.2 -2.1z"/>
<path color="#6a5fde" d="M559.8 681.3l3.2 2.4l1 1.7l-3.3 -2.8z"/>
<path color="#6b63e5" d="M556.5 679.9l3.3 1.4l.9 1.3l-3.2 -2.1z"/>
<path color="#6a5fde" d="M550.1 683.3l3.2 -2.8l3.2 -.6l1 .6l-3.3 -.1l-3.2 2.2z"/>
<path color="#422ec0" d="M546.8 687.3l3.3 -4l.9 -.7l-3.3 3.9z"/>
<path color="#402ab4" d="M543.6 691.4l3.2 -4.1l.9 -.8l-3.2 4.4zM514.4 690.5l6.5 -3.4l3.2 -.1l3.3 1.4l3.2 2.5l.9 1.2l-3.2 -2.7l-3.3 -2l-3.2 -.3l-3.2 1.1l-3.3 2zM625.6 679.8l6.4 7.6l1 1.6l-3.3 -3l-3.2 -4.2z"/>
<path color="#422ec0" d="M612.6 679l3.2 -3.2l3.3 -1.1l3.2 1.6l3.3 3.5l.9 2l-3.3 -4l-3.2 -2.2l-3.2 .3l-3.3 2.8z"/>
<path color="#402ab4" d="M596.4 682.7l3.2 3.6l3.3 1.4l3.2 -1.2l6.5 -7.5l.9 -.3l-6.5 8l-3.2 2l-3.3 -.8l-3.2 -3.2z"/>
<path color="#422ec0" d="M593.1 678.2l3.3 4.5l.9 2l-3.2 -4.6z"/>
<path color="#6858cc" d="M589.9 674.4l3.2 3.8l1 1.9l-3.3 -4.2z"/>
<path color="#695bd5" d="M583.4 673.6l3.3 -.9l3.2 1.7l.9 1.5l-3.2 -2.4l-3.3 .3z"/>
<path color="#6a5fde" d="M580.2 676.9l3.2 -3.3l.9 .2l-3.2 2.9z"/>
<path color="#6b63e5" d="M576.9 681.3l3.3 -4.4l.9 -.2l-3.3 4.5z"/>
<path color="#6a5fde" d="M573.7 685.3l3.2 -4l.9 -.1l-3.2 4.5z"/>
<path color="#6858cc" d="M570.4 687.6l3.3 -2.3l.9 .4l-3.2 2.8z"/>
<path color="#422ec0" d="M564 685.4l3.2 2.1l3.2 .1l1 .9l-3.3 .5l-3.2 -1.9z"/>
<path color="#695bd5" d="M560.7 682.6l3.3 2.8l.9 1.7l-3.3 -3z"/>
<path color="#6a5fde" d="M557.5 680.5l3.2 2.1l.9 1.5l-3.2 -2.7z"/>
<path color="#6b63e5" d="M554.2 680.4l3.3 .1l.9 .9l-3.3 -.9z"/>
<path color="#6a5fde" d="M551 682.6l3.2 -2.2l.9 .1l-3.2 1.6z"/>
<path color="#6858cc" d="M547.7 686.5l3.3 -3.9l.9 -.5l-3.2 3.6z"/>
<path color="#402ab4" d="M544.5 690.9l3.2 -4.4l1 -.8l-3.3 4.5zM512.1 692.2l6.5 -4l3.2 -1.1l3.2 .3l3.3 2l3.2 2.7l.9 1.3l-6.4 -5.3l-3.3 -.9l-3.2 .8l-6.5 4.1zM645.9 686.7l3.3 -.2l.9 .7l-3.2 0zM623.2 677.8l6.5 8.2l.9 1.9l-6.4 -8.4z"/>
<path color="#422ec0" d="M613.5 678.7l3.3 -2.8l3.2 -.3l3.2 2.2l1 1.7l-3.3 -2.9l-3.2 -.5l-3.3 2.3z"/>
<path color="#402ab4" d="M594.1 680.1l3.2 4.6l3.2 3.2l3.3 .8l3.2 -2l6.5 -8l.9 -.3l-6.5 8.3l-3.2 2.7l-3.2 0l-3.3 -2.7l-3.2 -4.5z"/>
<path color="#422ec0" d="M590.8 675.9l3.3 4.2l.9 2.1l-3.3 -4.6z"/>
<path color="#695bd5" d="M584.3 673.8l3.3 -.3l3.2 2.4l.9 1.7l-3.2 -3.1l-3.3 -.3z"/>
<path color="#6a5fde" d="M574.6 685.7l6.5 -9l3.2 -2.9l.9 .4l-3.2 2.4l-6.5 9.2z"/>
<path color="#422ec0" d="M571.4 688.5l3.2 -2.8l.9 .1l-3.2 3.5z"/>
<path color="#402ab4" d="M564.9 687.1l3.2 1.9l3.3 -.5l.9 .8l-3.3 1.1l-3.2 -1.5z"/>
<path color="#695bd5" d="M561.6 684.1l3.3 3l.9 1.8l-3.3 -3.2z"/>
<path color="#6a5fde" d="M558.4 681.4l3.2 2.7l.9 1.6l-3.2 -3.2z"/>
<path color="#6b63e5" d="M555.1 680.5l3.3 .9l.9 1.1l-3.2 -1.6z"/>
<path color="#6a5fde" d="M551.9 682.1l3.2 -1.6l1 .4l-3.3 .7z"/>
<path color="#695bd5" d="M548.7 685.7l3.2 -3.6l.9 -.5l-3.2 3.2z"/>
<path color="#402ab4" d="M545.4 690.2l3.3 -4.5l.9 -.9l-3.3 4.6zM513 692.1l6.5 -4.1l3.2 -.8l3.3 .9l3.2 2.4l.9 1.2l-3.2 -2.8l-3.3 -1.4l-3.2 .4l-6.5 4zM646.9 687.2l3.2 0l.9 .8l-3.2 -.3zM624.2 679.5l6.4 8.4l1 1.8l-6.5 -8.3z"/>
<path color="#422ec0" d="M614.4 678.4l3.3 -2.3l3.2 .5l3.3 2.9l.9 1.9l-3.3 -3.6l-3.2 -1.2l-3.3 1.6z"/>
<path color="#402ab4" d="M604.7 689.4l3.2 -2.7l6.5 -8.3l.9 -.2l-6.4 8.3l-3.3 3.4zM595 682.2l3.2 4.5l3.3 2.7l.9 1.3l-3.3 -2.1l-3.2 -4.3z"/>
<path color="#422ec0" d="M591.7 677.6l3.3 4.6l.9 2.1l-3.3 -4.8z"/>
<path color="#695bd5" d="M585.2 674.2l3.3 .3l3.2 3.1l.9 1.9l-3.2 -3.7l-3.2 -1.2z"/>
<path color="#6a5fde" d="M575.5 685.8l6.5 -9.2l3.2 -2.4l1 .4l-3.3 1.9l-6.5 9.2z"/>
<path color="#422ec0" d="M572.3 689.3l3.2 -3.5l.9 -.1l-3.2 4.1z"/>
<path color="#402ab4" d="M565.8 688.9l3.2 1.5l3.3 -1.1l.9 .5l-3.3 1.8l-3.2 -1z"/>
<path color="#422ec0" d="M562.5 685.7l3.3 3.2l.9 1.7l-3.2 -3.1z"/>
<path color="#695bd5" d="M559.3 682.5l3.2 3.2l1 1.8l-3.3 -3.6z"/>
<path color="#6a5fde" d="M552.8 681.6l3.3 -.7l3.2 1.6l.9 1.4l-3.2 -2.4l-3.3 -.1z"/>
<path color="#695bd5" d="M549.6 684.8l3.2 -3.2l.9 -.2l-3.2 2.6z"/>
<path color="#422ec0" d="M546.3 689.4l3.3 -4.6l.9 -.8l-3.3 4.5z"/>
<path color="#402ab4" d="M543.1 693.7l3.2 -4.3l.9 -.9l-3.2 4.7zM510.7 693.7l9.7 -5.8l3.2 -.4l3.3 1.4l3.2 2.8l.9 1.4l-3.2 -3.2l-3.3 -1.9l-3.2 -.2l-3.2 1.5l-6.5 4.4zM644.5 688.6l3.3 -.9l3.2 .3l.9 1l-3.2 -.8l-3.3 .7zM625.1 681.4l6.5 8.3l.9 1.7l-3.3 -3.5l-3.2 -4.6z"/>
<path color="#422ec0" d="M612.1 682l3.2 -3.8l3.3 -1.6l3.2 1.2l3.3 3.6l.9 1.9l-3.3 -4.1l-3.2 -2l-3.2 .9l-3.3 3.4z"/>
<path color="#402ab4" d="M605.6 689.9l3.3 -3.4l3.2 -4.5l.9 -.5l-6.5 8.6zM595.9 684.3l3.2 4.3l3.3 2.1l.9 1.1l-3.3 -1.4l-3.2 -3.9z"/>
<path color="#422ec0" d="M592.6 679.5l3.3 4.8l.9 2.2l-3.2 -5z"/>
<path color="#6858cc" d="M589.4 675.8l3.2 3.7l1 2l-3.3 -4.3z"/>
<path color="#695bd5" d="M582.9 676.5l3.3 -1.9l3.2 1.2l.9 1.4l-3.2 -1.9l-3.3 1.1z"/>
<path color="#6a5fde" d="M576.4 685.7l6.5 -9.2l.9 -.1l-3.2 3.9l-3.3 5.1z"/>
<path color="#422ec0" d="M573.2 689.8l3.2 -4.1l.9 -.3l-3.2 4.7z"/>
<path color="#402ab4" d="M563.5 687.5l3.2 3.1l3.2 1l3.3 -1.8l.9 .3l-3.2 2.5l-3.3 -.4l-3.2 -2.9z"/>
<path color="#6858cc" d="M560.2 683.9l3.3 3.6l.9 1.8l-3.3 -3.9z"/>
<path color="#6a5fde" d="M553.7 681.4l3.3 .1l3.2 2.4l.9 1.5l-3.2 -3.1l-3.3 -.9z"/>
<path color="#695bd5" d="M550.5 684l3.2 -2.6l.9 0l-3.2 1.9z"/>
<path color="#422ec0" d="M547.2 688.5l3.3 -4.5l.9 -.7l-3.2 4.2z"/>
<path color="#402ab4" d="M544 693.2l3.2 -4.7l1 -1l-3.3 4.9zM511.6 693.7l6.5 -4.4l3.2 -1.5l3.2 .2l3.3 1.9l3.2 3.2l.9 1.4l-3.2 -3.4l-3.2 -2.5l-3.3 -.7l-3.2 1.1l-6.5 4.6zM492.1 694.8l6.5 -.3l.9 .6l-6.5 .1zM645.4 688.9l3.3 -.7l3.2 .8l.9 1l-3.2 -1.1l-3.2 .3zM626 683.3l3.2 4.6l.9 2l-3.2 -4.5z"/>
<path color="#422ec0" d="M613 681.5l3.3 -3.4l3.2 -.9l3.2 2l3.3 4.1l.9 2.1l-3.2 -4.5l-3.3 -2.8l-3.2 0l-3.3 2.9z"/>
<path color="#402ab4" d="M606.5 690.1l6.5 -8.6l.9 -.5l-6.5 9.1zM593.6 681.5l3.2 5l3.2 3.9l1 1.6l-3.3 -3.4l-3.2 -5z"/>
<path color="#6858cc" d="M590.3 677.2l3.3 4.3l.9 2.1l-3.3 -4.8z"/>
<path color="#695bd5" d="M583.8 676.4l3.3 -1.1l3.2 1.9l.9 1.6l-3.2 -2.7l-3.3 .4z"/>
<path color="#6a5fde" d="M577.3 685.4l3.3 -5.1l3.2 -3.9l.9 .1l-3.2 3.3l-3.2 5.2z"/>
<path color="#422ec0" d="M574.1 690.1l3.2 -4.7l1 -.4l-3.3 5.1z"/>
<path color="#402ab4" d="M570.9 692.6l3.2 -2.5l.9 0l-3.2 3.2zM564.4 689.3l3.2 2.9l.9 1.4l-3.2 -2.4z"/>
<path color="#422ec0" d="M561.1 685.4l3.3 3.9l.9 1.9l-3.3 -4z"/>
<path color="#695bd5" d="M557.9 682.3l3.2 3.1l.9 1.8l-3.2 -3.8z"/>
<path color="#6a5fde" d="M551.4 683.3l3.2 -1.9l3.3 .9l.9 1.1l-3.2 -1.7l-3.3 1.1z"/>
<path color="#422ec0" d="M548.2 687.5l3.2 -4.2l.9 -.5l-3.2 3.7z"/>
<path color="#402ab4" d="M544.9 692.4l3.3 -4.9l.9 -1l-3.3 5.1zM509.2 695.1l3.3 -1.5l6.5 -4.6l3.2 -1.1l3.3 .7l3.2 2.5l3.2 3.4l1 1.5l-6.5 -6.5l-3.3 -1.3l-3.2 .6l-9.7 6.5zM489.8 695.7l6.5 -.8l6.5 .6l.9 .6l-6.5 -.7l-6.5 .6zM646.4 689.2l3.2 -.3l3.2 1.1l1 1.1l-3.3 -1.4l-3.2 -.1zM623.7 680.9l6.4 9l1 1.9l-6.5 -9.1z"/>
<path color="#422ec0" d="M613.9 681l3.3 -2.9l3.2 0l3.3 2.8l.9 1.8l-3.3 -3.5l-3.2 -.9l-3.3 2.2z"/>
<path color="#402ab4" d="M607.4 690.1l6.5 -9.1l.9 -.5l-6.4 9.3zM594.5 683.6l3.2 5l3.3 3.4l.9 1.4l-3.3 -2.7l-3.2 -4.9z"/>
<path color="#422ec0" d="M591.2 678.8l3.3 4.8l.9 2.2l-3.3 -5.1z"/>
<path color="#695bd5" d="M584.7 676.5l3.3 -.4l3.2 2.7l.9 1.9l-3.2 -3.5l-3.2 -.5z"/>
<path color="#6a5fde" d="M578.3 685l3.2 -5.2l3.2 -3.3l1 .2l-3.3 2.7l-3.2 5z"/>
<path color="#422ec0" d="M575 690.1l3.3 -5.1l.9 -.6l-3.3 5.4z"/>
<path color="#402ab4" d="M571.8 693.3l3.2 -3.2l.9 -.3l-3.2 4zM562 687.2l3.3 4l3.2 2.4l.9 1.3l-3.2 -1.9l-3.2 -4z"/>
<path color="#695bd5" d="M558.8 683.4l3.2 3.8l1 1.8l-3.3 -4.2z"/>
<path color="#6a5fde" d="M552.3 682.8l3.3 -1.1l3.2 1.7l.9 1.4l-3.2 -2.6l-3.3 .2z"/>
<path color="#695bd5" d="M549.1 686.5l3.2 -3.7l.9 -.4l-3.2 3.2z"/>
<path color="#402ab4" d="M542.6 696.1l6.5 -9.6l.9 -.9l-6.5 10zM506.9 696.1l3.3 -.8l9.7 -6.5l3.2 -.6l3.3 1.3l6.5 6.5l.9 1.4l-6.5 -6.9l-3.2 -1.9l-3.3 .1l-9.7 6.6l-3.3 1.2zM487.5 696.7l6.5 -1.2l3.2 -.1l6.5 .7l.9 .6l-9.7 -.8l-6.5 1.1zM644 690.9l3.3 -1.3l3.2 .1l.9 .9l-3.2 -.5l-3.3 .9zM624.6 682.7l6.5 9.1l.9 1.8l-6.5 -8.9z"/>
<path color="#422ec0" d="M611.6 685l3.2 -4.5l3.3 -2.2l3.2 .9l3.3 3.5l.9 2l-3.3 -4.2l-3.2 -1.7l-3.2 1.4l-3.3 4.1z"/>
<path color="#402ab4" d="M605.1 693l3.3 -3.2l3.2 -4.8l.9 -.7l-3.2 5l-3.3 4zM595.4 685.8l3.2 4.9l3.3 2.7l.9 1.2l-3.3 -2l-3.2 -4.5z"/>
<path color="#422ec0" d="M592.1 680.7l3.3 5.1l.9 2.3l-3.2 -5.4z"/>
<path color="#695bd5" d="M585.7 676.7l3.2 .5l3.2 3.5l1 2l-3.3 -4.2l-3.2 -1.4z"/>
<path color="#6a5fde" d="M579.2 684.4l3.2 -5l3.3 -2.7l.9 .4l-3.3 2l-3.2 4.6z"/>
<path color="#6858cc" d="M575.9 689.8l3.3 -5.4l.9 -.7l-3.2 5.7z"/>
<path color="#402ab4" d="M572.7 693.8l3.2 -4l1 -.4l-3.3 4.6zM563 689l3.2 4l.9 1.7l-3.2 -3.7z"/>
<path color="#422ec0" d="M559.7 684.8l3.3 4.2l.9 2l-3.3 -4.6z"/>
<path color="#695bd5" d="M556.5 682.2l3.2 2.6l.9 1.6l-3.2 -3.3z"/>
<path color="#6a5fde" d="M553.2 682.4l3.3 -.2l.9 .9l-3.2 -.8z"/>
<path color="#695bd5" d="M550 685.6l3.2 -3.2l1 -.1l-3.3 2.5z"/>
<path color="#402ab4" d="M543.5 695.6l6.5 -10l.9 -.8l-6.5 10zM507.8 696.5l3.3 -1.2l9.7 -6.6l3.3 -.1l3.2 1.9l3.2 3.4l1 1.6l-3.3 -3.7l-3.2 -2.5l-3.3 -.5l-3.2 1.5l-6.5 4.9l-3.2 1.6zM485.1 697.7l9.8 -1.8l9.7 .8l.9 .5l-9.7 -.9l-9.7 1.7zM644.9 691l3.3 -.9l3.2 .5l.9 1.1l-3.2 -1l-3.2 .6zM625.5 684.7l6.5 8.9l.9 1.6l-3.2 -3.5l-3.3 -5z"/>
<path color="#422ec0" d="M612.5 684.3l3.3 -4.1l3.2 -1.4l3.2 1.7l3.3 4.2l.9 2l-3.2 -4.6l-3.3 -2.6l-3.2 .6l-3.3 3.5z"/>
<path color="#402ab4" d="M606 693.3l3.3 -4l3.2 -5l.9 -.7l-6.4 9.6zM593.1 682.7l6.4 9.9l1 1.8l-3.3 -4.1l-3.2 -5.4z"/>
<path color="#6858cc" d="M589.8 678.5l3.3 4.2l.9 2.2l-3.3 -4.8z"/>
<path color="#695bd5" d="M583.3 679.1l3.3 -2l3.2 1.4l.9 1.6l-3.2 -2.3l-3.2 1.1z"/>
<path color="#6a5fde" d="M580.1 683.7l3.2 -4.6l1 -.2l-3.3 4.1z"/>
<path color="#695bd5" d="M576.9 689.4l3.2 -5.7l.9 -.7l-3.2 5.8z"/>
<path color="#402ab4" d="M573.6 694l3.3 -4.6l.9 -.6l-3.3 5.1zM560.6 686.4l6.5 8.3l.9 1.6l-3.2 -3.3l-3.2 -4.7z"/>
<path color="#695bd5" d="M557.4 683.1l3.2 3.3l1 1.9l-3.3 -4.1z"/>
<path color="#6a5fde" d="M554.2 682.3l3.2 .8l.9 1.1l-3.2 -1.7z"/>
<path color="#695bd5" d="M550.9 684.8l3.3 -2.5l.9 .2l-3.3 1.6z"/>
<path color="#422ec0" d="M547.7 689.5l3.2 -4.7l.9 -.7l-3.2 4.3z"/>
<path color="#402ab4" d="M544.4 694.8l3.3 -5.3l.9 -1.1l-3.3 5.5zM486.1 698l9.7 -1.7l9.7 .9l3.3 -.4l3.2 -1.6l6.5 -4.9l3.2 -1.5l3.3 .5l3.2 2.5l3.3 3.7l.9 1.6l-6.5 -6.9l-3.3 -1.2l-3.2 1l-6.5 5.1l-3.2 1.9l-3.3 .7l-9.7 -.9l-9.7 1.5zM645.9 691.3l3.2 -.6l3.2 1l1 1.1l-3.3 -1.3l-3.2 .1zM626.4 686.7l3.3 5l.9 2l-3.3 -4.8z"/>
<path color="#422ec0" d="M613.4 683.6l3.3 -3.5l3.2 -.6l3.3 2.6l3.2 4.6l.9 2.2l-3.2 -5l-3.3 -3.4l-3.2 -.3l-3.2 2.8z"/>
<path color="#402ab4" d="M607 693.2l6.4 -9.6l1 -.6l-6.5 10zM594 684.9l3.2 5.4l3.3 4.1l.9 1.5l-3.3 -3.4l-3.2 -5.3z"/>
<path color="#422ec0" d="M590.7 680.1l3.3 4.8l.9 2.3l-3.2 -5.3z"/>
<path color="#695bd5" d="M584.3 678.9l3.2 -1.1l3.2 2.3l1 1.8l-3.3 -3.2l-3.2 .2z"/>
<path color="#6a5fde" d="M581 683l3.3 -4.1l.9 0l-3.3 3.5z"/>
<path color="#695bd5" d="M577.8 688.8l3.2 -5.8l.9 -.6l-3.2 5.6z"/>
<path color="#402ab4" d="M574.5 693.9l3.3 -5.1l.9 -.8l-3.3 5.6zM561.6 688.3l3.2 4.7l3.2 3.3l1 1.4l-3.3 -2.8l-3.2 -4.7z"/>
<path color="#422ec0" d="M558.3 684.2l3.3 4.1l.9 1.9l-3.3 -4.6z"/>
<path color="#695bd5" d="M551.8 684.1l3.3 -1.6l3.2 1.7l.9 1.4l-3.2 -2.6l-3.3 .7z"/>
<path color="#422ec0" d="M548.6 688.4l3.2 -4.3l.9 -.4l-3.2 3.7z"/>
<path color="#402ab4" d="M542.1 698.5l6.5 -10.1l.9 -1l-6.5 10.6zM483.7 699l9.8 -2l3.2 -.2l9.7 .9l3.3 -.7l3.2 -1.9l6.5 -5.1l3.2 -1l3.3 1.2l6.5 6.9l.9 1.6l-6.5 -7.4l-3.2 -1.8l-3.3 .4l-9.7 7.2l-3.3 1.1l-12.9 -.8l-9.8 1.9zM643.5 693.2l3.3 -1.6l3.2 -.1l3.3 1.3l.9 1.2l-3.3 -1.6l-3.2 -.3l-3.2 1.3zM624.1 683.9l6.5 9.8l.9 1.9l-6.5 -9.7z"/>
<path color="#422ec0" d="M611.1 687.9l3.3 -4.9l3.2 -2.8l3.2 .3l3.3 3.4l.9 2l-3.2 -4.1l-3.3 -1.3l-3.2 2l-3.3 4.6z"/>
<path color="#402ab4" d="M607.9 693l3.2 -5.1l.9 -.8l-3.2 5.4zM594.9 687.2l3.2 5.3l3.3 3.4l.9 1.3l-3.2 -2.6l-3.3 -5.1z"/>
<path color="#422ec0" d="M591.7 681.9l3.2 5.3l.9 2.3l-3.2 -5.5z"/>
<path color="#695bd5" d="M585.2 678.9l3.2 -.2l3.3 3.2l.9 2.1l-3.3 -4l-3.2 -.8z"/>
<path color="#6a5fde" d="M581.9 682.4l3.3 -3.5l.9 .3l-3.3 2.7z"/>
<path color="#695bd5" d="M578.7 688l3.2 -5.6l.9 -.5l-3.2 5.3z"/>
<path color="#402ab4" d="M575.4 693.6l3.3 -5.6l.9 -.8l-3.2 5.9zM562.5 690.2l3.2 4.7l.9 1.9l-3.2 -4.5z"/>
<path color="#422ec0" d="M559.2 685.6l3.3 4.6l.9 2.1l-3.3 -5z"/>
<path color="#695bd5" d="M552.7 683.7l3.3 -.7l3.2 2.6l.9 1.7l-3.2 -3.4l-3.2 -.4z"/>
<path color="#6858cc" d="M549.5 687.4l3.2 -3.7l1 -.2l-3.3 3z"/>
<path color="#402ab4" d="M543 698l6.5 -10.6l.9 -.9l-6.5 10.8zM523.6 689.5l3.2 1.8l6.5 7.4l.9 1.6l-6.5 -7.7l-3.2 -2.4z"/>
<path color="#422ec0" d="M520.3 689.9l3.3 -.4l.9 .7l-3.3 -.2z"/>
<path color="#402ab4" d="M481.4 699.9l13 -2.5l12.9 .8l3.3 -1.1l9.7 -7.2l.9 .1l-3.2 1.8l-6.5 5.3l-3.2 1.4l-3.3 .3l-9.7 -.9l-13 2.4zM644.5 693.4l3.2 -1.3l3.2 .3l3.3 1.6l.9 1.4l-3.2 -2l-3.3 -.7l-3.2 .8zM625 685.9l6.5 9.7l.9 1.7l-3.2 -4l-3.3 -5.3z"/>
<path color="#422ec0" d="M612 687.1l3.3 -4.6l3.2 -2l3.3 1.3l3.2 4.1l.9 2.1l-3.2 -4.6l-3.3 -2.3l-3.2 1.2l-3.3 4.1z"/>
<path color="#402ab4" d="M605.5 696.3l3.3 -3.8l3.2 -5.4l.9 -.7l-6.4 9.9zM595.8 689.5l3.3 5.1l.9 1.9l-3.3 -4.6z"/>
<path color="#422ec0" d="M589.3 680l3.3 4l3.2 5.5l.9 2.4l-6.5 -10.4z"/>
<path color="#695bd5" d="M586.1 679.2l3.2 .8l.9 1.5l-3.2 -1.8z"/>
<path color="#6a5fde" d="M582.8 681.9l3.3 -2.7l.9 .5l-3.2 1.8z"/>
<path color="#695bd5" d="M579.6 687.2l3.2 -5.3l1 -.4l-3.3 4.8z"/>
<path color="#402ab4" d="M573.1 697.5l3.3 -4.4l3.2 -5.9l.9 -.9l-6.5 11.2zM560.1 687.3l6.5 9.5l.9 1.7l-3.2 -4.1l-3.2 -5.2z"/>
<path color="#695bd5" d="M550.4 686.5l3.3 -3l3.2 .4l3.2 3.4l1 1.9l-3.3 -4.2l-3.2 -1.3l-3.3 2.1z"/>
<path color="#422ec0" d="M547.2 691.7l3.2 -5.2l.9 -.7l-3.2 4.8z"/>
<path color="#402ab4" d="M543.9 697.3l3.3 -5.6l.9 -1.1l-3.3 5.8zM524.5 690.2l3.2 2.4l6.5 7.7l.9 1.5l-6.5 -7.7l-3.2 -3z"/>
<path color="#422ec0" d="M521.2 690l3.3 .2l.9 .9l-3.3 -.9z"/>
<path color="#402ab4" d="M479.1 700.8l16.2 -2.9l9.7 .9l3.3 -.3l3.2 -1.4l6.5 -5.3l3.2 -1.8l.9 .2l-3.2 1.4l-6.5 5.4l-3.2 1.8l-3.3 .6l-9.7 -1l-16.2 2.9zM645.4 693.5l3.2 -.8l3.3 .7l.9 1.2l-3.3 -1.2l-3.2 .4zM625.9 688l3.3 5.3l.9 2.1l-3.3 -5.1z"/>
<path color="#422ec0" d="M612.9 686.4l3.3 -4.1l3.2 -1.2l3.3 2.3l3.2 4.6l.9 2.3l-3.2 -5.1l-3.3 -3.1l-3.2 .1l-3.2 3.5z"/>
<path color="#402ab4" d="M606.5 696.3l6.4 -9.9l1 -.7l-6.5 10.4zM593.5 686.2l3.2 5.7l3.3 4.6l.9 1.7l-3.3 -4l-3.2 -5.7z"/>
<path color="#422ec0" d="M590.2 681.5l3.3 4.7l.9 2.3l-3.2 -5.2z"/>
<path color="#695bd5" d="M587 679.7l3.2 1.8l1 1.8l-3.3 -2.8z"/>
<path color="#6a5fde" d="M583.8 681.5l3.2 -1.8l.9 .8l-3.2 .9z"/>
<path color="#695bd5" d="M580.5 686.3l3.3 -4.8l.9 -.1l-3.3 4.1z"/>
<path color="#402ab4" d="M574 697.5l6.5 -11.2l.9 -.8l-6.5 11.7zM561.1 689.2l3.2 5.2l3.2 4.1l1 1.6l-3.3 -3.5l-3.2 -5.3z"/>
<path color="#422ec0" d="M557.8 685l3.3 4.2l.9 2.1l-3.3 -4.8z"/>
<path color="#695bd5" d="M551.3 685.8l3.3 -2.1l3.2 1.3l.9 1.5l-3.2 -2.3l-3.3 1.1z"/>
<path color="#422ec0" d="M548.1 690.6l3.2 -4.8l.9 -.5l-3.2 4.2z"/>
<path color="#402ab4" d="M544.8 696.4l3.3 -5.8l.9 -1.1l-3.2 5.9zM525.4 691.1l3.2 3l3.3 4.1l.9 1.8l-6.5 -7.8z"/>
<path color="#422ec0" d="M518.9 691.6l3.2 -1.4l3.3 .9l.9 1.1l-3.2 -1.5l-3.3 .8z"/>
<path color="#402ab4" d="M480 701.3l16.2 -2.9l9.7 1l3.3 -.6l3.2 -1.8l6.5 -5.4l.9 -.1l-9.7 7.5l-3.3 1l-9.7 -1l-3.2 .1l-13 2.7zM643 695.7l3.3 -1.9l3.2 -.4l3.3 1.2l.9 1.2l-3.3 -1.5l-3.2 -.1l-3.2 1.6zM626.8 690.3l3.3 5.1l.9 2l-3.3 -4.8z"/>
<path color="#422ec0" d="M613.9 685.7l3.2 -3.5l3.2 -.1l3.3 3.1l3.2 5.1l.9 2.3l-3.2 -5.4l-3.2 -3.9l-3.3 -.8l-3.2 2.6z"/>
<path color="#402ab4" d="M607.4 696.1l6.5 -10.4l.9 -.6l-6.5 10.5zM594.4 688.5l3.2 5.7l3.3 4l.9 1.4l-3.2 -3.2l-3.3 -5.4z"/>
<path color="#422ec0" d="M591.2 683.3l3.2 5.2l.9 2.5l-3.2 -5.7z"/>
<path color="#6858cc" d="M587.9 680.5l3.3 2.8l.9 2l-3.3 -3.6z"/>
<path color="#695bd5" d="M581.4 685.5l3.3 -4.1l3.2 -.9l.9 1.2l-3.2 -.2l-3.3 3.4z"/>
<path color="#422ec0" d="M578.2 691.5l3.2 -6l.9 -.6l-3.2 5.7z"/>
<path color="#402ab4" d="M574.9 697.2l3.3 -5.7l.9 -.9l-3.2 6zM562 691.3l3.2 5.3l3.3 3.5l.9 1.3l-3.3 -2.8l-3.2 -5.1z"/>
<path color="#422ec0" d="M558.7 686.5l3.3 4.8l.9 2.2l-3.3 -5.2z"/>
<path color="#695bd5" d="M552.2 685.3l3.3 -1.1l3.2 2.3l.9 1.8l-3.2 -3.3l-3.2 .1z"/>
<path color="#422ec0" d="M549 689.5l3.2 -4.2l1 -.2l-3.3 3.5z"/>
<path color="#402ab4" d="M542.5 700.6l6.5 -11.1l.9 -.9l-6.5 11.4zM526.3 692.2l6.5 7.8l.9 1.7l-6.5 -8.1z"/>
<path color="#422ec0" d="M519.8 691.5l3.3 -.8l3.2 1.5l.9 1.4l-3.2 -2.2l-3.3 .2z"/>
<path color="#402ab4" d="M477.7 702.2l16.2 -3.1l3.2 -.1l9.7 1l3.3 -1l9.7 -7.5l.9 .1l-3.2 2.1l-6.5 5.4l-3.2 1.4l-3.3 .1l-6.5 -.9l-3.2 -.1l-16.2 3.1zM644 695.8l3.2 -1.6l3.2 .1l3.3 1.5l.9 1.3l-3.2 -1.8l-3.3 -.5l-3.2 1.1zM624.5 687.2l6.5 10.2l.9 1.8l-6.5 -9.8z"/>
<path color="#422ec0" d="M611.5 690.2l3.3 -5.1l3.2 -2.6l3.3 .8l3.2 3.9l.9 2.2l-3.2 -4.6l-3.3 -1.8l-3.2 1.7l-3.3 4.6z"/>
<path color="#402ab4" d="M608.3 695.6l3.2 -5.4l.9 -.9l-3.2 5.7zM595.3 691l3.3 5.4l.9 2.1l-3.3 -5z"/>
<path color="#422ec0" d="M588.8 681.7l3.3 3.6l3.2 5.7l.9 2.5l-3.2 -5.9l-3.3 -4.5z"/>
<path color="#695bd5" d="M582.3 684.9l3.3 -3.4l3.2 .2l.9 1.4l-3.2 -1.2l-3.2 2.5z"/>
<path color="#422ec0" d="M579.1 690.6l3.2 -5.7l1 -.5l-3.3 5.3z"/>
<path color="#402ab4" d="M575.9 696.6l3.2 -6l.9 -.9l-3.2 6.2zM562.9 693.5l3.2 5.1l1 1.9l-3.3 -4.7z"/>
<path color="#422ec0" d="M556.4 685l3.2 3.3l3.3 5.2l.9 2.3l-3.2 -5.5l-3.3 -4.1z"/>
<path color="#695bd5" d="M553.2 685.1l3.2 -.1l.9 1.2l-3.2 -1z"/>
<path color="#422ec0" d="M549.9 688.6l3.3 -3.5l.9 .1l-3.3 2.7z"/>
<path color="#402ab4" d="M543.4 700l6.5 -11.4l.9 -.7l-6.4 11.2zM527.2 693.6l6.5 8.1l.9 1.7l-6.5 -8.2z"/>
<path color="#422ec0" d="M517.5 693.7l3.2 -2.1l3.3 -.2l3.2 2.2l.9 1.6l-3.2 -2.9l-3.2 -.5l-3.3 1.7z"/>
<path color="#402ab4" d="M475.3 703.2l19.5 -3.6l3.2 .1l6.5 .9l3.3 -.1l3.2 -1.4l6.5 -5.4l.9 -.2l-6.5 5.7l-3.2 1.7l-3.3 .4l-9.7 -1.1l-19.4 3.5zM644.9 695.9l3.2 -1.1l3.3 .5l3.2 1.8l.9 1.4l-3.2 -2.1l-3.3 -1l-3.2 .8zM625.4 689.4l6.5 9.8l.9 1.7l-3.2 -3.8l-3.3 -5.4z"/>
<path color="#422ec0" d="M612.4 689.3l3.3 -4.6l3.2 -1.7l3.3 1.8l3.2 4.6l.9 2.3l-3.2 -5.1l-3.2 -2.7l-3.3 .7l-3.2 4z"/>
<path color="#402ab4" d="M606 699.4l3.2 -4.4l3.2 -5.7l1 -.7l-6.5 10.6zM596.2 693.5l3.3 5l.9 1.8l-3.2 -4.4z"/>
<path color="#422ec0" d="M589.7 683.1l3.3 4.5l3.2 5.9l1 2.4l-6.5 -11z"/>
<path color="#695bd5" d="M583.3 684.4l3.2 -2.5l3.2 1.2l1 1.8l-3.3 -2.3l-3.2 1.5z"/>
<path color="#422ec0" d="M580 689.7l3.3 -5.3l.9 -.3l-3.3 4.7z"/>
<path color="#402ab4" d="M573.5 700.7l3.3 -4.8l3.2 -6.2l.9 -.9l-6.4 11.7zM560.6 690.3l6.5 10.2l.9 1.7l-3.3 -4.1l-3.2 -5.7z"/>
<path color="#422ec0" d="M557.3 686.2l3.3 4.1l.9 2.1l-3.3 -4.7z"/>
<path color="#6858cc" d="M554.1 685.2l3.2 1l.9 1.5l-3.2 -2z"/>
<path color="#422ec0" d="M547.6 693.2l3.2 -5.3l3.3 -2.7l.9 .5l-3.2 1.7l-3.3 4.7z"/>
<path color="#402ab4" d="M544.4 699.1l3.2 -5.9l.9 -1.1l-3.2 6.1zM524.9 692.3l3.2 2.9l6.5 8.2l.9 1.5l-9.7 -11.4z"/>
<path color="#422ec0" d="M518.4 693.5l3.3 -1.7l3.2 .5l.9 1.2l-3.2 -1.2l-3.3 1.2z"/>
<path color="#402ab4" d="M476.3 703.7l19.4 -3.5l9.7 1.1l3.3 -.4l3.2 -1.7l6.5 -5.7l.9 0l-6.5 5.6l-3.2 2.1l-3.2 .8l-9.8 -1.1l-3.2 .2l-16.2 3.1zM645.8 696.2l3.2 -.8l3.3 1l.9 1.3l-3.2 -1.4l-3.3 .2zM626.3 691.7l3.3 5.4l.9 2.1l-3.2 -5.1z"/>
<path color="#422ec0" d="M613.4 688.6l3.2 -4l3.3 -.7l3.2 2.7l3.2 5.1l1 2.4l-3.3 -5.4l-3.2 -3.6l-3.3 -.3l-3.2 3.2z"/>
<path color="#402ab4" d="M606.9 699.2l6.5 -10.6l.9 -.6l-6.5 10.8zM593.9 690l3.3 5.9l3.2 4.4l.9 1.6l-3.2 -3.7l-3.3 -5.7z"/>
<path color="#422ec0" d="M587.4 682.6l3.3 2.3l3.2 5.1l.9 2.5l-3.2 -5.6l-3.3 -3.2z"/>
<path color="#695bd5" d="M584.2 684.1l3.2 -1.5l.9 1.1l-3.2 .4z"/>
<path color="#422ec0" d="M580.9 688.8l3.3 -4.7l.9 0l-3.2 4z"/>
<path color="#402ab4" d="M574.5 700.5l6.4 -11.7l1 -.7l-6.5 11.9zM561.5 692.4l3.2 5.7l3.3 4.1l.9 1.5l-3.3 -3.5l-3.2 -5.4z"/>
<path color="#422ec0" d="M548.5 692.1l3.3 -4.7l3.2 -1.7l3.2 2l3.3 4.7l.9 2.4l-3.2 -5.3l-3.3 -3l-3.2 .7l-3.3 4z"/>
<path color="#402ab4" d="M542 703.3l6.5 -11.2l.9 -.9l-6.5 11.6zM525.8 693.5l3.3 3.5l3.2 4.4l.9 1.8l-6.5 -8.2z"/>
<path color="#422ec0" d="M519.3 693.5l3.3 -1.2l3.2 1.2l.9 1.5l-3.2 -2l-3.3 .6z"/>
<path color="#402ab4" d="M473.9 704.7l9.8 -1.4l9.7 -2.2l3.2 -.2l9.8 1.1l3.2 -.8l3.2 -2.1l6.5 -5.6l.9 .1l-9.7 7.8l-3.2 1.2l-13 -.9l-19.5 3.6zM643.5 698.4l3.2 -1.9l3.3 -.2l3.2 1.4l.9 1.3l-3.2 -1.7l-3.3 -.2l-3.2 1.4zM624 688.7l6.5 10.5l.9 2l-6.5 -10.3z"/>
<path color="#422ec0" d="M611 693.4l3.3 -5.4l3.2 -3.2l3.3 .3l3.2 3.6l.9 2.2l-3.2 -4.3l-3.3 -1.3l-3.2 2.3l-3.2 4.9z"/>
<path color="#402ab4" d="M607.8 698.8l3.2 -5.4l1 -.9l-3.3 5.7zM594.8 692.5l3.3 5.7l.9 2.2l-3.3 -5.3z"/>
<path color="#422ec0" d="M588.3 683.7l3.3 3.2l3.2 5.6l.9 2.6l-3.2 -5.9l-3.2 -4.1z"/>
<path color="#6858cc" d="M585.1 684.1l3.2 -.4l1 1.4l-3.3 -.6z"/>
<path color="#422ec0" d="M578.6 694.1l3.3 -6l3.2 -4l.9 .4l-3.2 3l-3.3 5.7z"/>
<path color="#402ab4" d="M575.4 700l3.2 -5.9l.9 -.9l-3.2 6.2zM562.4 694.8l3.2 5.4l1 2.1l-3.3 -5.1z"/>
<path color="#422ec0" d="M549.4 691.2l3.3 -4l3.2 -.7l3.3 3l3.2 5.3l.9 2.4l-3.2 -5.6l-3.3 -3.9l-3.2 -.4l-3.3 3.2z"/>
<path color="#402ab4" d="M542.9 702.8l6.5 -11.6l.9 -.7l-6.4 11.6zM526.7 695l6.5 8.2l.9 1.8l-6.5 -8.4z"/>
<path color="#422ec0" d="M517 696l3.2 -2.4l3.3 -.6l3.2 2l.9 1.6l-3.2 -2.6l-3.2 -.1l-3.3 2z"/>
<path color="#402ab4" d="M474.8 705.3l19.5 -3.6l13 .9l3.2 -1.2l6.5 -5.4l.9 -.1l-6.5 5.7l-3.2 1.5l-3.3 .3l-9.7 -1.1l-19.4 3.6zM644.4 698.5l3.2 -1.4l3.3 .2l3.2 1.7l.9 1.5l-3.2 -2l-3.3 -.8l-3.2 1zM624.9 690.9l6.5 10.3l.9 1.7l-3.2 -4.1l-3.3 -5.5z"/>
<path color="#422ec0" d="M612 692.5l3.2 -4.9l3.2 -2.3l3.3 1.3l3.2 4.3l.9 2.4l-3.2 -4.9l-3.2 -2.2l-3.3 1.2l-3.2 4.4z"/>
<path color="#402ab4" d="M608.7 698.2l3.3 -5.7l.9 -.7l-3.3 5.7zM595.7 695.1l3.3 5.3l.9 2l-3.2 -4.8z"/>
<path color="#422ec0" d="M579.5 693.2l3.3 -5.7l3.2 -3l3.3 .6l3.2 4.1l3.2 5.9l1 2.5l-3.3 -5.9l-3.2 -4.8l-3.3 -1.7l-3.2 2l-3.3 5.1z"/>
<path color="#402ab4" d="M576.3 699.4l3.2 -6.2l.9 -.9l-3.2 6.3zM560.1 691.6l6.5 10.7l.9 1.9l-6.5 -10.4z"/>
<path color="#422ec0" d="M547.1 696.1l3.2 -5.6l3.3 -3.2l3.2 .4l3.3 3.9l.9 2.2l-3.3 -4.5l-3.2 -1.5l-3.2 2.2l-3.3 5.1z"/>
<path color="#402ab4" d="M543.9 702.1l3.2 -6l.9 -1l-3.2 6.2zM527.6 696.6l6.5 8.4l.9 1.7l-6.4 -8.2z"/>
<path color="#422ec0" d="M517.9 695.9l3.3 -2l3.2 .1l3.2 2.6l1 1.9l-3.3 -3.2l-3.2 -.9l-3.3 1.5z"/>
<path color="#402ab4" d="M475.8 705.9l19.4 -3.6l9.7 1.1l3.3 -.3l3.2 -1.5l6.5 -5.7l.9 0l-6.5 5.7l-3.2 1.9l-3.2 .6l-9.8 -1.1l-19.4 3.5z"/>
</g>
<g fill="none" stroke="#fff" stroke-linecap="round">
<path d="M545.4 150L546.6 300" stroke-width="1.1" stroke-opacity=".5" stroke-dasharray="3.5 3"/>
<path d="M546.6 300L547.8 470L550.5 518L555 550" stroke-width="1.6" stroke-opacity=".9" stroke-dasharray="3.6 2.4"/>
<path d="M607.8 270L607.5 360" stroke-width="1.1" stroke-opacity=".55" stroke-dasharray="3.5 3"/>
<path d="M607.5 360L607.2 545" stroke-width="1.6" stroke-opacity=".9" stroke-dasharray="3.6 2.4"/>
</g>
<g>
<line x1="128.1" y1="617.6" x2="128.1" y2="35.1" stroke="#5a5a5a" stroke-width="1.3"/>
<line x1="311.3" y1="761" x2="128.1" y2="617.6" stroke="#262626" stroke-width="1.3"/>
<line x1="311.3" y1="761" x2="1089.5" y2="727.6" stroke="#262626" stroke-width="1.3"/>
<line x1="128.1" y1="617.6" x2="112.5" y2="605.4" stroke="#262626" stroke-width="1.3"/>
<line x1="128.1" y1="520.5" x2="112.5" y2="508.3" stroke="#262626" stroke-width="1.3"/>
<line x1="128.1" y1="423.4" x2="112.5" y2="411.2" stroke="#262626" stroke-width="1.3"/>
<line x1="128.1" y1="326.4" x2="112.5" y2="314.2" stroke="#262626" stroke-width="1.3"/>
<line x1="128.1" y1="229.2" x2="112.5" y2="217.1" stroke="#262626" stroke-width="1.3"/>
<line x1="128.1" y1="132.1" x2="112.5" y2="119.9" stroke="#262626" stroke-width="1.3"/>
<line x1="128.1" y1="35.1" x2="112.5" y2="22.9" stroke="#262626" stroke-width="1.3"/>
<line x1="311.3" y1="761" x2="291.3" y2="761.9" stroke="#262626" stroke-width="1.3"/>
<line x1="219.7" y1="689.3" x2="199.7" y2="690.2" stroke="#262626" stroke-width="1.3"/>
<line x1="128.1" y1="617.6" x2="108.1" y2="618.5" stroke="#262626" stroke-width="1.3"/>
<line x1="311.3" y1="761" x2="326.9" y2="773.2" stroke="#262626" stroke-width="1.3"/>
<line x1="441" y1="755.4" x2="456.6" y2="767.6" stroke="#262626" stroke-width="1.3"/>
<line x1="570.7" y1="749.9" x2="586.3" y2="762.1" stroke="#262626" stroke-width="1.3"/>
<line x1="700.4" y1="744.3" x2="716" y2="756.5" stroke="#262626" stroke-width="1.3"/>
<line x1="830.1" y1="738.8" x2="845.7" y2="751" stroke="#262626" stroke-width="1.3"/>
<line x1="959.8" y1="733.2" x2="975.4" y2="745.4" stroke="#262626" stroke-width="1.3"/>
<line x1="1089.5" y1="727.6" x2="1105.1" y2="739.8" stroke="#262626" stroke-width="1.3"/>
</g>
<g fill="#262626">
<g font-family="'Liberation Sans', Arial, Helvetica, sans-serif">
<text transform="translate(103.4 599.4) scale(1 1.08)" y="10.4" font-size="29" text-anchor="end">0</text>
<text transform="translate(103.4 502.3) scale(1 1.08)" y="10.4" font-size="29" text-anchor="end">0.5</text>
<text transform="translate(103.4 405.2) scale(1 1.08)" y="10.4" font-size="29" text-anchor="end">1</text>
<text transform="translate(103.4 308.2) scale(1 1.08)" y="10.4" font-size="29" text-anchor="end">1.5</text>
<text transform="translate(103.4 211.1) scale(1 1.08)" y="10.4" font-size="29" text-anchor="end">2</text>
<text transform="translate(103.4 113.9) scale(1 1.08)" y="10.4" font-size="29" text-anchor="end">2.5</text>
<text transform="translate(103.4 16.9) scale(1 1.08)" y="10.4" font-size="29" text-anchor="end">3</text>
<text transform="translate(279.3 781.9) scale(1 1.08)" y="10.4" font-size="29" text-anchor="end">50</text>
<text transform="translate(187.7 710.2) scale(1 1.08)" y="10.4" font-size="29" text-anchor="end">100</text>
<text transform="translate(96.1 638.5) scale(1 1.08)" y="10.4" font-size="29" text-anchor="end">150</text>
<text transform="translate(336.2 799.2) scale(1 1.08)" y="10.4" font-size="29">0</text>
<text transform="translate(465.9 793.6) scale(1 1.08)" y="10.4" font-size="29">20</text>
<text transform="translate(595.6 788.1) scale(1 1.08)" y="10.4" font-size="29">40</text>
<text transform="translate(725.3 782.5) scale(1 1.08)" y="10.4" font-size="29">60</text>
<text transform="translate(855 777) scale(1 1.08)" y="10.4" font-size="29">80</text>
<text transform="translate(984.7 771.4) scale(1 1.08)" y="10.4" font-size="29">100</text>
<text transform="translate(1114.4 765.8) scale(1 1.08)" y="10.4" font-size="29">120</text>
<text x="610.5" y="854.7" font-size="45">x(m)</text>
<text x="72" y="822.5" font-size="45">y(m)</text>
<text transform="translate(33.2 495.8) rotate(-90)" font-size="44.5">Spatial spectrum</text>
</g>
</g>
</svg>
</body></html>
